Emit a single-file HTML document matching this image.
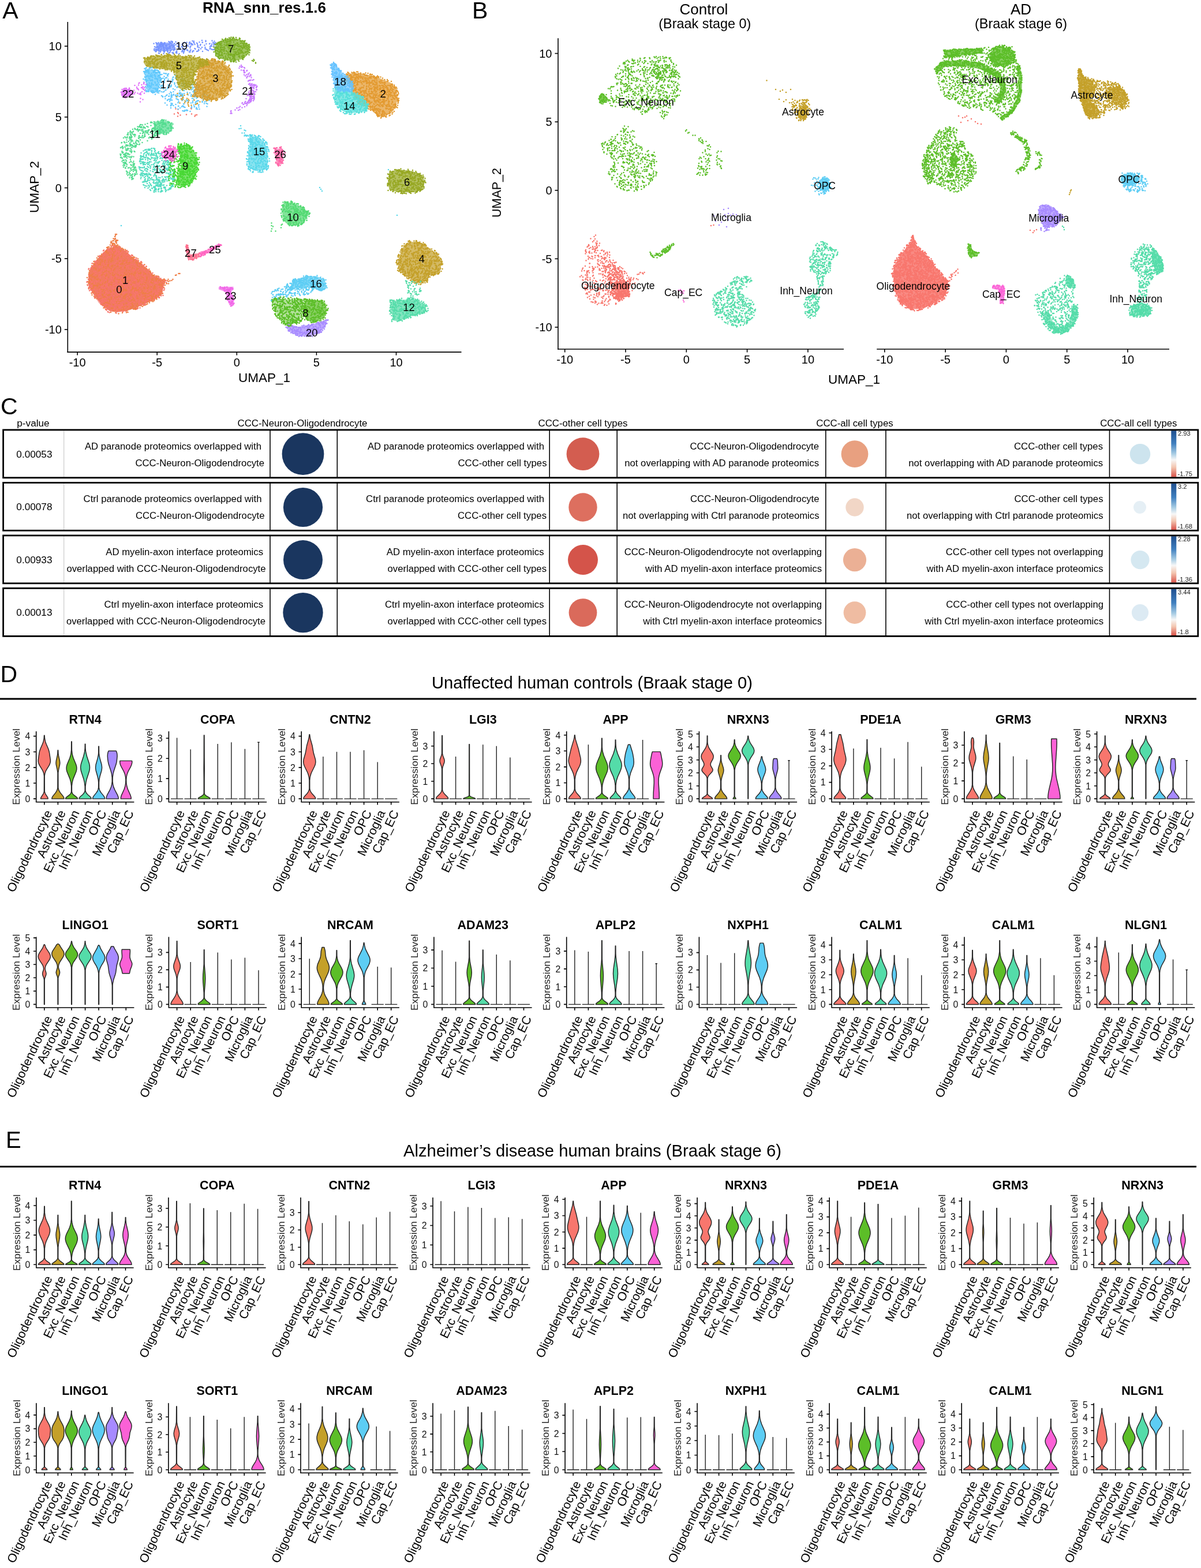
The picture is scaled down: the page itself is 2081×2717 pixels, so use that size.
<!DOCTYPE html><html><head><meta charset="utf-8"><title>Figure</title><style>html,body{margin:0;padding:0;background:#fff}svg{display:block}</style></head><body><svg width="2081" height="2717" viewBox="0 0 2081 2717" font-family="'Liberation Sans', Arial, sans-serif"><defs><linearGradient id="cbg0" x1="0" y1="0" x2="0" y2="1"><stop offset="0" stop-color="#1f4f8f"/><stop offset="0.28" stop-color="#3f7fbf"/><stop offset="0.50" stop-color="#a8cde4"/><stop offset="0.63" stop-color="#f7f7f7"/><stop offset="0.79" stop-color="#f3c6b0"/><stop offset="1" stop-color="#d9534a"/></linearGradient><linearGradient id="cbg1" x1="0" y1="0" x2="0" y2="1"><stop offset="0" stop-color="#1f4f8f"/><stop offset="0.30" stop-color="#3f7fbf"/><stop offset="0.52" stop-color="#a8cde4"/><stop offset="0.66" stop-color="#f7f7f7"/><stop offset="0.81" stop-color="#f3c6b0"/><stop offset="1" stop-color="#d9534a"/></linearGradient><linearGradient id="cbg2" x1="0" y1="0" x2="0" y2="1"><stop offset="0" stop-color="#1f4f8f"/><stop offset="0.28" stop-color="#3f7fbf"/><stop offset="0.50" stop-color="#a8cde4"/><stop offset="0.63" stop-color="#f7f7f7"/><stop offset="0.79" stop-color="#f3c6b0"/><stop offset="1" stop-color="#d9534a"/></linearGradient><linearGradient id="cbg3" x1="0" y1="0" x2="0" y2="1"><stop offset="0" stop-color="#1f4f8f"/><stop offset="0.30" stop-color="#3f7fbf"/><stop offset="0.53" stop-color="#a8cde4"/><stop offset="0.66" stop-color="#f7f7f7"/><stop offset="0.81" stop-color="#f3c6b0"/><stop offset="1" stop-color="#d9534a"/></linearGradient></defs><style>.vt{font-size:21.5px;font-weight:bold;text-anchor:middle}.vy{font-size:15.8px;text-anchor:end;fill:#111}.ve{font-size:17.4px;text-anchor:middle;fill:#222}.vx{font-size:21.2px;text-anchor:end}.vp{stroke:#262626;stroke-width:1.45;stroke-linejoin:round}.vl{stroke:#222;stroke-width:1.4;fill:none}.ax{stroke:#000;stroke-width:1.6;fill:none}</style><rect width="2081" height="2717" fill="#fff"/><path transform="scale(.5)" d="M616 390h0m46-15h0m13 28h0m-71-8h0m14-2h0m-9-16h0m7 26h0m61-4h0m-31-2h0m17-20h0m19 21h0m-65-19h0m47 16h0m-39 4h0" stroke="#F8766D" stroke-width="5.2" stroke-linecap="round" fill="none"/><path transform="scale(.5)" d="M661 152h0m24 11h0m-76-8h0m52 5h0m-21 10h0m102-21h0m-20 26h0m-103-14h0m-4-1h0m125-7h0m-120 10h0m91 6h0m-158-9h0m80 5h0m15 7h0m81-4h0m-163-9h0m107-10h0m-17 4h0m91-5h0m-173 11h0m76-2h0m-46 1h0m64-3h0m-21-8h0m-42 4h0m10 10h0m117-3h0m-97 21h0m-45-13h0m-1 15h0m157-28h0m-144 5h0m125 11h0m-62-17h0m87 2h0m-183-5h0m174 4h0m-84 27h0m32-34h0m3 11h0m-62 19h0m-49-8h0m-46 8h0m147-24h0m-46 27h0m-47-19h0m124-8h0m18 19h0m-164-5h0m14 21h0m-25-40h0m-22 15h0m205-3h0m-128 25h0m59-41h0m-38 7h0m79-9h0m-95 12h0m34 7h0m-56-6h0m-14 16h0m19 1h0m4-1h0m56 3h0m-54-2h0m111 2h0m-183-4h0m-2-18h0m12 10h0m181-9h0m-31 2h0m52-6h0m-166 32h0m5 3h0m62-9h0m37-13h0m26 3h0m-123 4h0m51 2h0m-43-17h0m139-12h0m-73 9h0m72 3h0m-128 13h0m26 7h0m-64-9h0m83 11h0m31-26h0m-7 5h0m63-7h0m-56 31h0m-35-31h0m66-3h0m-150 12h0m67 23h0m98-16h0m-124 9h0m87-26h0m-20 30h0m-119 9h0m3-24h0m101-13h0m90 16h0m-60-5h0m-85 1h0m-45 20h0m76-7h0m8 1h0m-3-1h0m34-26h0m-78-4h0m136 17h0m-132 22h0m-41-10h0m54 8h0m132-9h0m-174 8h0m42 4h0m-68-6h0m43-33h0m169 8h0m-7 3h0m-46-8h0m36 25h0m-81 8h0m-92-25h0m57 31h0m-19-11h0m42-14h0m-104 10h0m51 5h0m74-23h0m35-13h0m15 31h0m28-28h0m-68 25h0m21 1h0m-32-14h0m-114 29h0m-4-32h0m156-5h0m-125 8h0m132 2h0m-73 27h0m-102-11h0m124-27h0m-27 14h0m-41 15h0m11 8h0m8-38h0m81 20h0m-121-13h0m62 2h0m37 23h0m-110-23h0m-8 13h0m25-11h0m-7 14h0m-19-22h0m30 26h0m3 3h0m57-30h0m38 23h0m-63-20h0m-44 28h0m-17-24h0m38 20h0m-21-2h0m70-3h0m87-18h0m-149 7h0m-38 21h0m7-15h0m83-2h0m-17 14h0m72-19h0m-134 21h0m38-16h0m97 15h0m-27-2h0m75-15h0m-177-3h0m102 9h0m0-5h0m92-8h0m-49 25h0m-14-6h0m-126-17h0m105 25h0m-67 6h0m12-6h0m-45 6h0m133-22h0m-103-20h0m28 23h0m-54-15h0m96-10h0m74 30h0m-151 5h0m99-3h0m-129-11h0" stroke="#7694FF" stroke-width="5.2" stroke-linecap="round" fill="none"/><path d="M269.8 74.8L298.4 73.2L303 85.6L289.3 89.1L271.9 88.3Z" fill="#7694FF" fill-opacity="0.72"/><path transform="scale(.5)" d="M565 157h0m10 10h0m1-6h0m-25 14h0m23-9h0m-12-9h0m26-10h0m-40 26h0m31 0h0m-18-25h0m-7 18h0m-13 8h0m13-14h0m3 16h0m4-26h0m19 15h0m-30 9h0m13-14h0m5-6h0m-26 17h0m29-23h0m3 10h0m29 4h0m-35 12h0m19-14h0m-1 5h0m-37 5h0m29 0h0m-9 11h0m-21-19h0m-5-11h0m59 2h0m-39-1h0m-21 12h0m43 2h0m-19 9h0m32-28h0m-10 6h0m-21 10h0m22-17h0m2 3h0m-42 17h0m40-7h0m-2 7h0m8 7h0m0-15h0m-24 18h0m7-9h0m5-13h0m-42-6h0m-1 22h0m16-21h0m41-2h0m-45 12h0m8 11h0m37-12h0m-51 15h0m11-12h0m-2-6h0m-15 9h0m51 3h0m-31-17h0m6 16h0m-5-16h0m38 14h0m-53-12h0m43 0h0m-27 4h0m12 10h0m-14 3h0m17 2h0" stroke="#7694FF" stroke-width="5.2" stroke-linecap="round" fill="none"/><path d="M432.5 86L431.4 91.3L428.2 96.1L423.3 100.2L416.9 103.2L409.6 104.9L402 105.5L394.4 104.9L387.1 103.2L380.7 100.2L375.8 96.1L372.6 91.3L371.5 86L372.6 80.7L375.8 75.9L380.7 71.8L387.1 68.8L394.4 67.1L402 66.5L409.6 67.1L416.9 68.8L423.3 71.8L428.2 75.9L431.4 80.7Z" fill="#7CAE25" fill-opacity="0.72"/><path transform="scale(.5)" d="M832 134h0m-52 74h0m44-55h0m4 21h0m-87 6h0m22-4h0m-17-3h0m5-21h0m86 31h0m-38-16h0m42 36h0m-78-58h0m77 59h0m26-29h0m-87-27h0m20 5h0m11 38h0m19-5h0m-16-32h0m-35 31h0m-19-14h0m41 43h0m-38-63h0m15 11h0m17 27h0m32-5h0m-20 10h0m-16-13h0m-37 5h0m82-8h0m-22-19h0m1 35h0m-20-63h0m1 20h0m38-9h0m-63 31h0m21 10h0m-35-36h0m57 64h0m-17-50h0m-28 31h0m22-54h0m18-9h0m-58 24h0m70 16h0m26-20h0m-64 8h0m-25 2h0m82 39h0m-31-43h0m-52 24h0m4-33h0m68 10h0m-71 14h0m15-5h0m13-17h0m-16 9h0m52-8h0m-10 8h0m-18 31h0m40-38h0m-33 60h0m-1-67h0m48 23h0m-100 10h0m111 2h0m1-22h0m-52 41h0m-47 5h0m7-31h0m-11 29h0m75-1h0m-45-55h0m-3-4h0m-1-4h0m45 60h0m27-34h0m-46-22h0m-54 36h0m7-22h0m78 10h0m-25 26h0m13-20h0m-16 43h0m34-51h0m-80 9h0m-7 23h0m21-26h0m10-25h0m74 47h0m-27-31h0m20 6h0m-67-10h0m69 16h0m-96-23h0m26 59h0m-25-6h0m27-65h0m27 49h0m-71-6h0m49-36h0m46 23h0m-61-30h0m-3 28h0m-27 10h0m51 33h0m61-46h0m-45 23h0m-42-44h0m85 22h0m-61-2h0m-6-8h0m33 56h0m-42-21h0m-2-51h0m10 62h0m-51-35h0m57-30h0m2 8h0m22-2h0m23 61h0m-63-6h0m-5-39h0m5-22h0m26 80h0m37-70h0m-27 26h0m31-11h0m-37 6h0m-24-29h0m13 3h0m5 66h0m15-36h0m-73 19h0m95-30h0m-32 13h0m-36 28h0m84-13h0m-68-22h0m49 6h0m-30-38h0m-47 32h0m11-24h0m7-2h0m57 58h0m-41-27h0m-13 8h0m31-21h0m-47 8h0m28 5h0m17 33h0m6-65h0m-25 8h0m42-1h0m16 26h0m13 1h0m-53 18h0m12-39h0m-68 15h0m67 11h0m-15 23h0m23-25h0m-57-31h0m10 16h0m-10-14h0m27 24h0m27-6h0m-36 28h0m45-16h0m22-3h0m-48 43h0m54-50h0m-90 13h0m43-47h0m20 13h0m-89 10h0m93-3h0m4 16h0m-34 40h0m18-74h0m-44 46h0m58-18h0m-38-28h0m22 63h0m2-1h0m11 4h0m5-3h0m-47-5h0m-2 13h0m63-26h0m-83 9h0m-20-36h0m35 7h0m57-16h0m17 22h0m-57 38h0m-21-43h0m54 48h0m-48-61h0m-16 40h0m60-36h0m-89 35h0m92 13h0m-89-2h0m89-54h0m-87 13h0m23 19h0m-32-6h0m53 19h0m-2-48h0m-35 42h0m8-6h0m88-17h0m-47-11h0m22 23h0m4-6h0m-9 26h0m18 4h0m9-4h0m-97 6h0m41-3h0m-46-42h0m64 29h0m46-17h0m-56-27h0m-46 48h0m48 5h0m28-13h0m2-10h0m-39 11h0m55-26h0m-45 60h0m19 2h0m-25-21h0m-54-25h0m17 35h0m12 9h0m36-38h0m-66 12h0m84-24h0m-42 27h0m74-30h0m-61 32h0m37-10h0m-34-15h0m-27 46h0m-11-61h0m74 52h0m-8-58h0m-43 22h0m-28 28h0m36 19h0m-29-19h0m94-11h0m-53-2h0m-34-3h0m88 6h0m-50-30h0m-28-6h0m-14 54h0m22-39h0m5-15h0m-26 24h0m83 1h0m-43-32h0m4 75h0m28-71h0m-19 26h0m-57-34h0m-11 65h0m0-13h0m65-28h0m-9 25h0m-47-42h0m63 43h0m-30-57h0m62 25h0m-7-3h0m-38-15h0m8 53h0m-57-7h0m82 0h0m-32 5h0m-2-34h0m-5-18h0m-31 7h0m13 3h0m17 53h0m42-42h0m-4 6h0m-59 31h0m12 20h0m20-33h0m22-15h0m-80-21h0m58 14h0m-66 39h0m93-45h0m-15 25h0m27-9h0m-101 36h0m53 0h0m33-38h0m-81 0h0m-9 21h0m75-15h0m-86-18h0m49 16h0m-32 8h0m79 5h0m-77-4h0m76 21h0m-34-30h0m-53-2h0m34-15h0m6 2h0m43 21h0m-33-38h0m45 5h0m-39 30h0m-39 11h0m39 30h0m13-25h0m-7 18h0m14-71h0m-43 18h0m-18 34h0m58-4h0m-26 2h0m44-32h0m-36 40h0m20-14h0m-77-17h0m91 28h0m-55 11h0m68-23h0m-84 12h0m9 13h0m54-42h0m-1 21h0m17-3h0m-84-7h0m50 36h0m-68-19h0m20-10h0m53 10h0m35-33h0m-39-1h0m1 26h0m-36 17h0m29-3h0m34-12h0m-81-27h0m-16 36h0m39 11h0m-25-13h0m33-14h0m-30-24h0m32 47h0m-7-17h0" stroke="#7CAE25" stroke-width="5.2" stroke-linecap="round" fill="none"/><path transform="scale(.5)" d="M881 209h0m5 8h0m-7-11h0m-1 6h0m-4-2h0m12 9h0" stroke="#7CAE25" stroke-width="5.2" stroke-linecap="round" fill="none"/><path transform="scale(.5)" d="M688 365h0m-78-36h0m26 31h0m-61-48h0m19 10h0m107 29h0m-137-15h0m104 15h0m-31 20h0m-29 1h0m-15-72h0m76-6h0m-110 24h0m116 7h0m-50 8h0m3-36h0m-79-10h0m109 35h0m-104-72h0m67 73h0m42-12h0m-84 53h0m18-5h0m-25-24h0m145 34h0m-126-50h0m110 35h0m-121-92h0m88 94h0m-99-70h0m23 81h0m46-53h0m-29 48h0m2-20h0m33 10h0m-58-19h0m98 16h0m30 2h0m-108-40h0m80-5h0m3 57h0m-21-55h0m-22 75h0m-49-99h0m26 31h0m-58-20h0m97 38h0m-22 52h0m-84-109h0m9 24h0m40-13h0m-24-29h0m24 34h0m110 66h0m6-20h0m-93 4h0m85-31h0m-49 63h0m10-4h0m4-13h0m-32-11h0m59-29h0m-21 61h0m-53-30h0m-24-87h0m45 68h0m67 16h0m-134-1h0m-10-74h0m46 64h0m50 9h0m-25-55h0m-50 48h0m-20-81h0m39 77h0m-14-65h0m74 69h0m29-11h0m-108 22h0m4-71h0m1 90h0m32-38h0m-4 3h0m80 22h0m-36 17h0m-123-48h0m44 6h0m47 54h0m-22-14h0m19-44h0m39-7h0m-35-19h0m-96 19h0m4-67h0m99 70h0m21 10h0m-102-76h0m103 60h0m-9 43h0m28-42h0m-67 11h0m66 45h0m-5-76h0m-68 34h0m67 9h0m-53-49h0m50 88h0m-82-97h0m70 70h0m-98-72h0m9 51h0m-18-71h0m102 70h0m-114-12h0m85-3h0m48 46h0m-88-64h0m-14 53h0m2-68h0m71 7h0m-23 46h0m4 0h0m-43 14h0m11-20h0m93-14h0m-21 6h0m-27 62h0m28-47h0m-49-12h0m-57-5h0m-19-57h0m55 28h0m13 58h0m-64-32h0m11-43h0m19-15h0m84 46h0m-108 30h0m99 54h0m23-87h0m-100-42h0m48 113h0m-56-100h0m-5-5h0m80 83h0m-66-73h0m97 54h0m24 15h0m-67-54h0m-6 35h0m56-14h0m-10 46h0m-39-84h0m-48 28h0m28 67h0m19 17h0m-29-114h0m21 3h0m-37 92h0m9-48h0m-14 26h0m-2-10h0m49-35h0m-12 23h0m-64-43h0m83 9h0m-9 42h0m9 42h0m-76-53h0m99 51h0m54-39h0m-110-33h0m-30-29h0m7 26h0m32 83h0m108-30h0m-42 3h0m-110-96h0m65 38h0m-3 52h0m34-27h0m-69-10h0m-8 66h0m-28-40h0m73-40h0m24 8h0m58 58h0m-101-69h0m48 50h0m7-20h0m-71 8h0m17 23h0m-31-1h0m-18-77h0m22 24h0m5-23h0m36 109h0m-18-40h0m65-55h0m-88 75h0m85-32h0m-40-56h0m-44 61h0m-33-65h0m76 96h0m-21-67h0m-28 24h0m-37-79h0m135 57h0m33 39h0m-138-35h0m101 33h0m4-3h0m-89 26h0m112-4h0m-126-96h0m-9 79h0m8 4h0m43 28h0m-41-79h0m25 36h0m42 52h0m-63-87h0m114 41h0m0-40h0m-22 55h0m46-19h0m-97-55h0m95 55h0m-142-31h0m11 40h0m51-62h0m-30 23h0m92 31h0m-2-4h0m-54-29h0m-83 7h0m34-32h0m10 59h0m55-41h0m-30 50h0m-24-75h0m49 26h0m-88 62h0m44-94h0m91 61h0m-110 6h0m38-47h0m38 20h0m-42-25h0m-73 22h0m133 78h0m18-50h0m-2-23h0m-75 62h0m-15-11h0m12-46h0m-60-29h0m103 83h0m9 9h0m-29-72h0m-79 11h0m41-25h0m-15-18h0m12 66h0m16-7h0m86-11h0m-156-11h0m54-34h0m41 79h0m-2-55h0m-13 65h0m22-66h0m-66 63h0m0-26h0m95 17h0m-112-18h0" stroke="#60C8FC" stroke-width="5.2" stroke-linecap="round" fill="none"/><path d="M346.6 106.5L365.3 104L383.8 107.7L397.7 116.9L402.1 130.9L401.1 149.3L395.6 161.2L383.6 169.3L368.1 173L353.3 172.3L342.2 165.9L337.8 153.8L341 140.1L344.4 121.9Z" fill="#D59D2D" fill-opacity="0.72"/><path transform="scale(.5)" d="M718 262h0m-2-56h0m39 83h0m-56 52h0m17-83h0m39-46h0m-59 56h0m40-7h0m52 31h0m-83-48h0m46 69h0m-47-46h0m1-53h0m-6 83h0m57-65h0m-46 64h0m81-13h0m-14-43h0m-10 21h0m37 19h0m-74 16h0m-16-7h0m-9 46h0m-10-45h0m31-3h0m-35-52h0m95 89h0m-100-31h0m66-56h0m31 38h0m-4-55h0m-44 39h0m-30 88h0m47-118h0m50 33h0m-39 0h0m14 71h0m-83-46h0m102 3h0m-7 34h0m-52-5h0m-6-98h0m8 63h0m11 58h0m-57-95h0m26 94h0m-44-41h0m79 19h0m-64-21h0m86-63h0m-97 93h0m109-51h0m-92-20h0m63-21h0m-65 102h0m76-10h0m-1-104h0m-50 124h0m-15-117h0m98 64h0m-108-16h0m56 49h0m-35-64h0m23 67h0m3-65h0m13 47h0m-12-17h0m-68-7h0m100 1h0m-35-64h0m-45 104h0m93-29h0m-30-84h0m-26 18h0m46 35h0m-16 47h0m-38-108h0m59 104h0m-46-50h0m-44-46h0m-3 0h0m18 48h0m45-22h0m-47 74h0m10 28h0m-33-58h0m90 43h0m-63-48h0m23-74h0m25 49h0m-16-32h0m38 83h0m14-1h0m-80-90h0m95 46h0m-5 47h0m-41-79h0m20 52h0m-86-61h0m1 89h0m84-61h0m-106 51h0m103-5h0m-28 33h0m-23-111h0m-19 56h0m28-64h0m-25 111h0m10-49h0m1 62h0m70-33h0m-59-75h0m58 25h0m-22 72h0m21-70h0m-19 41h0m-14-22h0m37 31h0m-31 18h0m23-21h0m-22 31h0m-30-100h0m-24 93h0m5-93h0m72 63h0m-81 36h0m5-25h0m54 22h0m-48-75h0m50-31h0m-35 126h0m-55-18h0m125-30h0m-74-81h0m18-12h0m-8 134h0m-3 6h0m-18-21h0m34 15h0m35-91h0m-92 11h0m2-30h0m18 14h0m13 100h0m-32-134h0m45 28h0m1 106h0m-48-121h0m71 88h0m-30 7h0m19-8h0m-20-80h0m17 95h0m-21-79h0m-17 87h0m32-122h0m-53 6h0m28 14h0m27 12h0m-9-39h0m13 82h0m21-6h0m-81 30h0m111-45h0m-44-9h0m-28 3h0m5-16h0m-9-16h0m52 46h0m-39 62h0m40-104h0m-94 105h0m20-41h0m-1-76h0m3 77h0m26-50h0m31 61h0m-3 19h0m36-89h0m-54 33h0m32-56h0m20 53h0m-27 76h0m-40-117h0m57 49h0m1-38h0m-33 79h0m-50-19h0m0-63h0m67 74h0m-78-14h0m78-80h0m-62 66h0m84 47h0m-103-74h0m101 41h0m-34-42h0m-48 67h0m-4-8h0m49-83h0m-46 91h0m48 26h0m2-48h0m-49-41h0m66-39h0m-84 93h0m86 4h0m4-18h0m15-70h0m-73 56h0m-45 41h0m77-104h0m-74 105h0m64-46h0m-30 24h0m53 22h0m-36-8h0m-14 33h0m46-23h0m-59-100h0m-11 108h0m106-68h0m-26 62h0m-72-19h0m78-42h0m-88 37h0m48-20h0m-42 24h0m14-95h0m23 36h0m4 33h0m54 13h0m-53-45h0m65 0h0m-60-36h0m-8 122h0m-24 3h0m13-99h0m22-21h0m-50 87h0m-8-8h0m71-39h0m-13 62h0m-5 3h0m15-113h0m-77 91h0m30-52h0m0 84h0m61-106h0m22 22h0m-42-30h0m30 110h0m1 4h0m-55-37h0m57 10h0m0-51h0m-55 75h0m-45-82h0m22 0h0m39 60h0m-45 20h0m74 12h0m-66-38h0m24-84h0m-5 12h0m2 19h0m36 66h0m10-54h0m-4 52h0m16-10h0m-60 15h0m-23-4h0m-1-17h0m-21-1h0m110-52h0m8 57h0m-14-38h0m-84-10h0m-25 58h0m97-8h0m-26-93h0m5 131h0m-26-127h0m28 95h0m20-68h0m-36 49h0m-7-1h0m0-27h0m-56 48h0m47 26h0m2-53h0m-19-62h0m62 64h0m-42-26h0m17 6h0m-29-25h0m0-16h0m74 105h0m-28-117h0m-79 113h0m9-23h0m-1-34h0m110-28h0m-70 15h0m-26-34h0m1 40h0m36 8h0m3-65h0m-27 18h0m-33 88h0m50 29h0m-19-109h0m3 41h0m1 74h0m-2-133h0m58 56h0m16-17h0m-25 62h0m-83-37h0m18-21h0m2-49h0m34 109h0m-11-90h0m-37 48h0m6 26h0m6-11h0m16 11h0m21 44h0m-56-24h0m86-67h0m-30 15h0m50 25h0m-82-26h0m43 74h0m27-37h0m-42 1h0m37 24h0m-49-69h0m28-3h0m-33 61h0m2-6h0m44 6h0m-51-26h0m4-3h0m-13-21h0m65-7h0m-74-33h0m6-10h0m69 98h0m-44-14h0m10-75h0m-31 20h0m96 52h0m-28-47h0m-65 18h0m15 1h0m-12-5h0m73-33h0m-24 21h0m-42 63h0m30-1h0m33 22h0m-74-30h0m21 29h0m2 2h0m21 3h0m-32-16h0m-17-25h0m-10-37h0m29-14h0m-16 20h0m60 34h0m-78 13h0m102-71h0m6-15h0m11 32h0m-117-4h0m-3 73h0m15-77h0m57-12h0m-35 45h0m3-68h0m33 55h0m-22 16h0m-11-76h0m-3 86h0m-14-94h0m63 115h0m-77-113h0m55 104h0m32 4h0m-38-81h0m-9-2h0m27 44h0m-77-11h0m1 44h0m28 22h0m16-70h0m-13-38h0m4-3h0m49 12h0m15 4h0m-65 98h0m9 7h0m31-111h0m-26 3h0m22 89h0m27-84h0m-30 7h0m-47 21h0m94-16h0m-8-10h0m-52-33h0m37 85h0m-94 2h0m74-27h0m-1 4h0m48-17h0m-30 81h0m-32-115h0m-50 21h0m73 7h0m-42 10h0m8 52h0m70 1h0m-79-81h0m45 92h0m-56-117h0m39 138h0m-51-22h0m84 12h0m-91-77h0m97-13h0m-20 69h0m-3-40h0m5-25h0m-91 78h0m8-38h0m0 44h0m21-102h0m9 25h0m33 58h0m-13-35h0m38 26h0m-45 22h0m43-110h0m-42 50h0m-17 50h0m80-74h0m0 12h0m-76 82h0m83-42h0m-120 0h0m92-84h0m26 100h0m-84 2h0m43-66h0m-43 59h0m47 29h0m-26-115h0m-28 51h0m-26 63h0m56-84h0m-16 61h0m58 25h0m-9-17h0m8-55h0m17-37h0m-35 34h0m20-10h0m19 64h0m-104-33h0m31-37h0m10 37h0m31-29h0m-65-4h0m47 62h0m-24-86h0m80 26h0m-102 22h0m19 73h0m-9-41h0m13-2h0m16-11h0m46 13h0m-17-7h0m-50-54h0m20 24h0m-63 12h0m12 4h0m56 19h0m40-34h0m-59-25h0m-46 63h0m39-95h0m-2 62h0m80-15h0m-53-14h0m58 2h0m-128 48h0m71-56h0m20-1h0m-39 27h0m33 10h0m-71-18h0m78 21h0m-18-7h0m-58 25h0m67-40h0m6-1h0m-17 14h0m22 56h0m35-40h0m-112 31h0m-9-42h0m69 34h0m34-37h0m4 7h0m-57 31h0m-9 28h0m44-87h0m-4 41h0m-12 57h0m-2-112h0m-25 73h0m-19 17h0m82-30h0m-29-11h0m-50 57h0m-18-129h0m77 40h0m-67-46h0m-14 64h0m69 6h0m25-60h0m-67-2h0m-10 110h0m6-100h0m61 81h0m-30 15h0m-16-88h0m16 62h0m22-82h0m-24 5h0m-15 104h0m51 8h0m-75-80h0m34 31h0m-1 70h0m53-44h0m-82-71h0m3-4h0m64 43h0m18-15h0m-4 72h0m-106-40h0m55-8h0m-12-42h0m57 47h0m-47-10h0m-31-10h0m102 17h0m-9-12h0m-32-47h0m-13-15h0m-28 56h0m-8 77h0m29-4h0m-29-78h0m36 85h0m-11-112h0m-5 24h0m45 18h0m-5-38h0m14 55h0m-90-66h0m39 58h0m22-31h0m14-15h0m-35-16h0m-3 60h0m-2 30h0m5-64h0m-30-15h0m15 71h0m18-6h0m39 8h0m-4-79h0m-31 36h0m33-4h0m-69 53h0m72-27h0m-99-12h0m-1 31h0m5 3h0m39-87h0m-39 42h0m11 57h0m73-62h0m-34 84h0m17-112h0m51 52h0m-86-66h0m-31 106h0m98-80h0m-87-37h0m82 76h0m-88-48h0m72-21h0m-56 55h0m75-34h0m-96 98h0m1 3h0m60-127h0m-50 28h0m-1-18h0m-9 38h0m35-1h0m48-33h0m-25 10h0m4 25h0m-6-50h0m8 133h0m-60-19h0m43-114h0m-49 33h0m18 63h0m-28 11h0m17-104h0m35 90h0m67-26h0m-21-53h0m-66-1h0m52 108h0m-63-17h0m75-96h0m-43 65h0m7-77h0m-10 126h0m66-42h0m-32-17h0m-73-23h0m-2 47h0m28 22h0m19 25h0m25-23h0m20 5h0m-6 17h0m-7-74h0m-61-18h0m7-17h0m82 73h0m-11-65h0m-72 30h0m33 38h0m-22 12h0m-16-92h0m1 93h0m85-71h0m-35 21h0m-57 65h0m8-28h0m-8-96h0m36 65h0m19 4h0m-62-38h0m7-22h0m-11 115h0m-3-26h0m24-67h0m1-18h0m-21 78h0m0-30h0m-11 47h0" stroke="#D59D2D" stroke-width="5.2" stroke-linecap="round" fill="none"/><path transform="scale(.5)" d="M678 362h0m-45-21h0m-2 5h0m-18-11h0m71 23h0m-31-14h0m-12 6h0m8-23h0m1-2h0m13 40h0m30-12h0m-26-19h0m-40-3h0m47 1h0m-23 25h0m3 11h0m-21-30h0m38-3h0m-48 22h0m-8-33h0m20 13h0m17 26h0m1-9h0m22-22h0m-27 9h0m7 7h0m28 12h0m-10-13h0m-5-17h0m-45 27h0m16-27h0m-11 13h0m12 13h0m32-30h0" stroke="#D59D2D" stroke-width="5.2" stroke-linecap="round" fill="none"/><path d="M249.8 101L264.6 97.4L291.5 95.6L318.5 97.6L342.4 99.5L359.1 103.9L359 112.4L342 118.1L337.1 129.1L335.6 143.1L328.3 152.5L317.1 155.1L307.8 147L305.2 132L302.2 123L283 120L265 118.1L253 115.3L248.9 108.6Z" fill="#B0A525" fill-opacity="0.72"/><path transform="scale(.5)" d="M588 189h0m73 48h0m-73-13h0m67-5h0m5-26h0m0 48h0m-57-9h0m9 6h0m-110-33h0m142 98h0m-19-42h0m1-57h0m0 25h0m-93-8h0m-13 5h0m86-10h0m57 0h0m16 33h0m-109-26h0m115 16h0m26-29h0m-27 9h0m-14 33h0m46-48h0m-197 11h0m-3-15h0m163 34h0m-45-7h0m-9 56h0m10-1h0m-33-35h0m40-3h0m-61-41h0m117 28h0m-46 4h0m10 28h0m31-57h0m-109 5h0m1-16h0m29 55h0m3-10h0m71-4h0m-18-38h0m-135 19h0m185 4h0m-122 14h0m22-7h0m-3 49h0m18-57h0m-62 9h0m-28-33h0m-6 13h0m134 27h0m-49-7h0m-45-10h0m37 13h0m62-28h0m-34 92h0m-24-75h0m36-22h0m-35 94h0m-28-86h0m23 4h0m9 18h0m30 81h0m-51-72h0m51-14h0m-10 63h0m4-25h0m30-58h0m-22 47h0m30-14h0m-111-21h0m86 46h0m-27-39h0m52-23h0m-160 10h0m33 9h0m79 81h0m5-67h0m-13 77h0m-54-87h0m94 5h0m-26 82h0m4-103h0m-60 2h0m-62 4h0m87 29h0m-12 3h0m69-43h0m-59 38h0m-57-9h0m-8-36h0m35 6h0m95 75h0m13-53h0m-17 0h0m-173-9h0m17 0h0m163 29h0m-109-19h0m-3 6h0m64 47h0m-94-78h0m75 65h0m63-5h0m-67-34h0m31 82h0m-62-83h0m38 64h0m78-66h0m-75-1h0m19 85h0m-61-73h0m78-40h0m19 93h0m-57-68h0m-99-15h0m18 1h0m132 63h0m17-67h0m-21 71h0m17-44h0m-8 64h0m38-76h0m-15 2h0m-109-27h0m20 2h0m57 31h0m-16 73h0m-17 1h0m-9-68h0m28 40h0m-20-11h0m2-45h0m12 10h0m50 2h0m-166-20h0m111 60h0m-41-51h0m56 69h0m-133-86h0m48-1h0m151 10h0m-155 9h0m95 78h0m11-77h0m-34 42h0m-37-18h0m61 65h0m9-12h0m-111-104h0m-6 26h0m-16 13h0m-25-30h0m134 42h0m0-39h0m24 63h0m-89-76h0m106 40h0m-20 15h0m21-32h0m-73 15h0m51 1h0m5 57h0m42-68h0m-58 84h0m-95-73h0m11-8h0m84 81h0m-1-50h0m-50-55h0m-18 34h0m-48-28h0m-9 14h0m126 59h0m-55-45h0m-60-38h0m43 12h0m-12-11h0m-14 12h0m141 11h0m3 4h0m-19 9h0m-33 32h0m-77-50h0m116 21h0m-47 47h0m-89-73h0m80 105h0m8-64h0m-86-7h0m66-18h0m-26 26h0m20-36h0m57 75h0m1-43h0m-152-11h0m139 18h0m-55-15h0m-27-40h0m-9 15h0m51 38h0m-1 46h0m-10-71h0m-33-8h0m7-27h0m34 38h0m10 1h0m-16-31h0m93 29h0m-69-6h0m-77 3h0m79 18h0m-127-22h0m207-11h0m-70 40h0m-88-22h0m84-18h0m14 48h0m-2 34h0m-109-80h0m34 33h0m5-23h0m46 24h0m21-24h0m-40 8h0m53 6h0m-34 33h0m-71-34h0m73-30h0m-39-4h0m26 72h0m33 30h0m-45-68h0m-60 3h0m121 6h0m-55-17h0m21 13h0m-31 15h0m54 7h0m-112-37h0m69-1h0m48-12h0m-33 43h0m-16-2h0m-69-58h0m110 33h0m52 3h0m-72-14h0m-3 68h0m40-27h0m-32 18h0m-62-81h0m-60 26h0m143-8h0m-137-10h0m133 81h0m-3-89h0m-6 91h0m-36-20h0m-68-71h0m88 39h0m26-34h0m-7 13h0m11 62h0m28-41h0m-45 39h0m-33 3h0m36-21h0m-104-31h0m-20-7h0m-7-10h0m-7-1h0m181 17h0m-156-25h0m41 34h0m89 62h0m5-48h0m-111-20h0m58 65h0m-12-47h0m-37-26h0m124-17h0m-67 90h0m-5 1h0m-47-53h0m-3-1h0m104-30h0m29-1h0m-50 84h0m-21-20h0m-84-51h0m88-14h0m-14 89h0m33-85h0m-28 0h0m-25-1h0m-4-7h0m-26 26h0m119 12h0m-127-15h0m73 57h0m2-40h0m-3 12h0m-97-20h0m51 7h0m82-34h0m-125 20h0m80 14h0m87-24h0m-117-16h0m-42 39h0m82 51h0m9-52h0m-51-8h0m-16-33h0m-36 28h0m146-8h0m-68 71h0m-79-78h0m-6 7h0m111 78h0m8-52h0m63-36h0m-152 8h0m65 7h0m-13-24h0m22 56h0m-120-31h0m86 37h0m41-50h0m-86-18h0m85 20h0m-26 91h0m-23-84h0m65 53h0m-15-9h0m12 41h0m-33-88h0m-89 8h0m102 1h0m81 0h0m-43 61h0m-24-62h0m3 72h0m-98-63h0m-34-37h0m59 3h0m-80 3h0m104 2h0m-66 9h0m39 16h0m83-21h0m-140-8h0m30 7h0m110 102h0m59-82h0m-210-20h0m38-12h0m91 7h0m15 65h0m-35-50h0m8 65h0m21-36h0m-121-24h0m16-15h0m102-7h0m-44 37h0m11 2h0m-100-14h0m139 85h0m16-47h0m-13 5h0m-19 28h0m33-19h0m-58-43h0m8-18h0m-93-20h0m122 2h0m-137 4h0m132-5h0m24 26h0m-107 6h0m89 17h0m-28 44h0m70-73h0m-74-21h0m-28 26h0m45-23h0m-22 12h0m-75 4h0m116 30h0m-80-1h0m90 9h0m11-3h0m-25-13h0m-86 2h0m54-33h0m78 11h0m-91-18h0m-5 22h0m94 3h0m-91 22h0m-80-24h0m43-20h0m-53 8h0m80-16h0m-29 26h0m79 63h0m-44-40h0m94-43h0m-60 73h0m31-31h0m-98-9h0m-32-27h0m28 20h0m54 62h0m-44-87h0m146 19h0m-172 15h0m35 5h0m72-9h0m-119 4h0m128 4h0m-51-42h0m4 40h0m56 15h0m-2 29h0m-154-51h0m101 39h0m32 0h0m72-53h0m-81 4h0m47 2h0m-64 25h0m-123-44h0m118 43h0m63 15h0m-138-29h0m31-1h0m60-27h0m-43 36h0m-58-4h0m172-4h0m-37 49h0m-116-85h0m107 66h0m12-1h0m-47-45h0m-39-23h0m23 57h0m86-37h0m-87 8h0m6 9h0m93-8h0m-79 85h0m-1-112h0m-111 5h0m48 23h0m29-30h0m2 19h0m77 22h0m-22 22h0m-43-7h0m-46-30h0m3 11h0m96 64h0m60-80h0m-68 54h0m-30-76h0m0 12h0m-86 16h0m99 39h0m-118-43h0m157-10h0m8 41h0m-57 23h0m-73-48h0m153-11h0m-67 36h0m9-40h0m-48 20h0m70 48h0m-155-70h0m111 98h0m-83-71h0m87 46h0m78-62h0m-136 8h0m82 55h0m-105-51h0m-29-14h0m43-12h0m-18 29h0m13-35h0m-23 0h0m81 52h0m-7-37h0m-97 17h0m-4-14h0m26-6h0m144-12h0m-83 5h0m-34 15h0m-2-19h0m165 22h0m-63 93h0m23-62h0m-15-43h0m-52 47h0m48-52h0m12 58h0m-17 2h0m19-4h0m-41-18h0m-67-11h0m-27 4h0m102 51h0m-14-29h0m-108-50h0m59 35h0m63 4h0m-9 21h0m-74-57h0m114 1h0m-37 39h0m-77-31h0m89 87h0m-8-102h0m-30 67h0m53-46h0m-82-26h0m-60 40h0m131 47h0m-118-46h0m13-30h0m-37 23h0m56-34h0m103 85h0m-1 7h0m-159-84h0m95 36h0m-45-23h0m52-16h0m22 79h0m11 2h0m-13-84h0m5 67h0m-5-19h0m53-9h0m-124-37h0m85 88h0m-51-44h0m39 70h0m42-53h0m-93-59h0m98 10h0m-111 21h0m101 41h0m54-49h0m-61 78h0m-9-94h0m-68-1h0m78-13h0m-56 3h0m-28 9h0m61 83h0m77-70h0m-141-33h0m88 97h0m-23-83h0m-27 27h0m23-27h0m33 81h0m-129-74h0m40-16h0m30 8h0m-79 25h0m34-15h0m9 12h0m140 5h0m-148 8h0m-29-25h0m2 27h0m108 55h0m46-87h0m-9 28h0m-43 58h0m-18-24h0m-1-59h0m9 81h0m-3-47h0m-101-9h0m-10-10h0m122 29h0m28-21h0m-44 4h0m16 66h0m-29-24h0m-30-39h0m-63-32h0m140 80h0m-18-49h0m-134-23h0m130-3h0m-22 52h0m-11-74h0m-88 32h0m21-7h0m94 94h0" stroke="#B0A525" stroke-width="5.2" stroke-linecap="round" fill="none"/><path d="M251.3 121.3L262.5 120L273.2 125.6L278.2 136.3L276.6 147.9L273.4 159.3L265.1 161L254.4 154.8L252 140.2Z" fill="#60C8FC" fill-opacity="0.72"/><path transform="scale(.5)" d="M513 279h0m14-37h0m25 21h0m-37 49h0m21-51h0m-32-24h0m-1 10h0m14 40h0m-13 24h0m42 1h0m-27-11h0m36-34h0m-19 39h0m-31-56h0m31 8h0m19-1h0m-42 38h0m14-19h0m-12-13h0m1-14h0m10 38h0m4 28h0m12-64h0m-21 49h0m8-40h0m-8-24h0m3 29h0m22 12h0m1 32h0m-42-34h0m33-24h0m-29 66h0m38-72h0m2 16h0m-31 28h0m-6-48h0m-8 59h0m-7-26h0m4-20h0m0-4h0m58 36h0m-17-14h0m1 40h0m-38-70h0m1 75h0m39-20h0m-14 22h0m-21-20h0m33-6h0m-39-45h0m7 44h0m-2-49h0m28-2h0m1 86h0m0-19h0m-13-15h0m6-41h0m-12 44h0m6 22h0m-18-13h0m13-27h0m17-33h0m-13 58h0m11-42h0m10 45h0m16-10h0m-50-34h0m31-19h0m-23 30h0m33 30h0m-35-67h0m-4 81h0m25-73h0m-27 1h0m8 52h0m27-46h0m-2 59h0m-7-38h0m-30 7h0m9 38h0m-15-79h0m56 38h0m-12-4h0m-23-13h0m-19 10h0m-2-16h0m30 53h0m26-22h0m-34 32h0m-15-81h0m17 62h0m13-9h0m-22-37h0m11-17h0m9 86h0m1-36h0m-12-30h0m22 11h0m-33-20h0m42 25h0m-18 3h0m-33-37h0m21 79h0m-12-69h0m10 33h0m-17-33h0m8 55h0m-12-42h0m32-9h0m10 71h0m-36-8h0m7-41h0m37-18h0m-39 62h0m-16-68h0m60 38h0m-27-39h0m21 69h0m-18 3h0m15-67h0m-22 39h0m-16-41h0m49 23h0m-38-7h0m32 13h0m-15-16h0m-22-8h0m0-14h0m42 55h0m-49 1h0m10-34h0m-4 32h0m38-35h0m-8 22h0m-14 12h0m-10-35h0m-15 24h0m23 39h0m15-79h0m5 57h0m-19-6h0m-29-17h0m-3-29h0m58 11h0m-5 45h0m-26 16h0m-16-29h0m43 3h0m-21 26h0m-13-13h0m26-15h0m-39-42h0m23 18h0m-21-2h0m32 29h0m7-19h0m-27 3h0m5 10h0m16-35h0m0 62h0m-14-81h0m23 29h0m-11 3h0m7 41h0m-21-47h0m-23 5h0m27 14h0m6-34h0m9 29h0m-21 42h0m-8-62h0m19-11h0m5 66h0m-29-45h0m41 5h0m-39-25h0m-3 34h0m18-13h0m12-23h0m14 51h0m-47-18h0m10-9h0m-14-19h0m6 29h0m29-13h0m-30 0h0m-8 21h0m40 21h0" stroke="#60C8FC" stroke-width="5.2" stroke-linecap="round" fill="none"/><path d="M230 161L229.6 162.9L228.6 164.7L226.9 166.2L224.8 167.2L222.4 167.8L220 168L217.6 167.8L215.2 167.2L213.1 166.2L211.4 164.7L210.4 162.9L210 161L210.4 159.1L211.4 157.3L213.1 155.8L215.2 154.8L217.6 154.2L220 154L222.4 154.2L224.8 154.8L226.9 155.8L228.6 157.3L229.6 159.1Z" fill="#E170F8" fill-opacity="0.72"/><path transform="scale(.5)" d="M449 309h0m5 12h0m6 6h0m-34 9h0m7-14h0m1-16h0m-14 13h0m17-7h0m17 7h0m-7 9h0m6-2h0m-31-1h0m26-20h0m-17 33h0m15-15h0m-3 8h0m10-4h0m-31 2h0m2-11h0m10 4h0m10-4h0m15 6h0m-6-9h0m-24 10h0m9-19h0m-13 12h0m0 14h0m9 5h0m-11-27h0m29 7h0m-26 14h0m4-21h0m24 10h0m-16 7h0m8-15h0m-3-1h0m4-1h0m13 13h0m-31-14h0m-1 0h0m20 15h0m-12-8h0m-9 12h0m-1-10h0m6 3h0m17 8h0m-2-2h0m-11 12h0m12-14h0m-18-18h0m17 2h0m-27 11h0m28 0h0" stroke="#E170F8" stroke-width="5.2" stroke-linecap="round" fill="none"/><path transform="scale(.5)" d="M487 326h0m12-40h0m-6 16h0m-26-6h0m29 5h0m5 3h0m-14 18h0m4-28h0m-4 47h0m-6-52h0m14 18h0m-17 1h0m2-13h0m-12 25h0m7-13h0m-1-5h0m24 8h0m2 13h0m-1-32h0m-16-4h0m-3 24h0m12 7h0m-28-5h0m34-23h0m-2 18h0m-13 18h0m7-22h0m-4 49h0m16-39h0m-25 9h0m29-30h0m-40 32h0m29 20h0m-7-17h0" stroke="#E170F8" stroke-width="5.2" stroke-linecap="round" fill="none"/><path transform="scale(.5)" d="M843 244h0m17 109h0m-6-94h0m18 61h0m-14-55h0m17 13h0m-44-48h0m52 96h0m-16 11h0m2-74h0m-11 91h0m14-28h0m-4 7h0m-15 26h0m-5 11h0m31-94h0m-14 39h0m-3-23h0m1-13h0m-23 77h0m5 5h0m17-41h0m14-6h0m4-21h0m-23 38h0m-56 60h0m61-42h0m-36 33h0m43-52h0m-4-38h0m15 10h0m-34-43h0m26 46h0m-12-46h0m11 10h0m-2-10h0m-7 89h0m2-20h0m-4-47h0m1 48h0m6-69h0m-21-26h0m-14 135h0m46-65h0m-11-25h0m0 72h0m17-55h0m-12 33h0m-8-8h0m16-23h0m-44-72h0m20 18h0m-17 129h0m1-141h0m10 126h0m-14-115h0m37 47h0m-1 19h0m8 28h0m-2-22h0m-9 7h0m-69 64h0m75-64h0m-9 27h0m-15 3h0m22-19h0m-17-67h0m-13 96h0m3-119h0m-18 130h0m37-82h0m0 41h0m1 1h0m-18-97h0m5 122h0m13-3h0m-65 29h0m20-10h0m32-32h0m18 0h0m-21-79h0m-51 130h0m70-116h0m-54 104h0m46-54h0m9 18h0m-1-46h0m-14-53h0m-15-15h0m8 125h0m-17 24h0m33-115h0m6 28h0m-24-43h0m28 46h0m6-3h0m-41 65h0m7-112h0m18 32h0m0-25h0m-14 99h0m10-96h0m-14-4h0m-43 141h0m75-99h0m10 10h0m-21-7h0m-67 88h0m57-24h0m22-29h0m-43-99h0m-7 3h0m26 130h0m12-29h0m-12-67h0m-6-19h0m-12-20h0m28 114h0m1-56h0m-45 86h0m52-66h0" stroke="#C97CFF" stroke-width="5.2" stroke-linecap="round" fill="none"/><path transform="scale(.5)" d="M881 339h0m-6-13h0m6-1h0m-4 9h0m4 1h0m-14 13h0m2 0h0m20-37h0m-22 30h0m-5 16h0m-5-1h0m7-10h0m2-4h0m12-48h0m-6 53h0m3-45h0m-3 13h0m11-21h0m-11 20h0m15-19h0m-8 44h0m-18 12h0m20-9h0m-12-6h0m2 1h0m7-22h0m0 34h0m10-38h0m2-10h0m-2 0h0m-8 6h0m1 10h0m5 1h0m-4 10h0m-10-24h0m8 17h0m11-22h0m-11 46h0m-11 6h0m21-40h0m-20 41h0m8-12h0m-5-39h0m1 40h0m-1-46h0" stroke="#C97CFF" stroke-width="5.2" stroke-linecap="round" fill="none"/><path transform="scale(.5)" d="M435 538h0m22-33h0m-39 7h0m41-9h0m-23 28h0m58-98h0m-43 27h0m16-15h0m-25 88h0m13 13h0m-23 28h0m20-71h0m3 58h0m-22 1h0m76-124h0m-57 29h0m9 121h0m16-142h0m-23 136h0m60-131h0m-78 65h0m101-72h0m-85 80h0m20-18h0m19-53h0m-51 95h0m9-12h0m0-62h0m-31 72h0m50-80h0m41-12h0m21 23h0m-62-31h0m54-21h0m-62 64h0m-10 34h0m6 93h0m-31-101h0m18-51h0m-24 47h0m64-41h0m-26 146h0m24-136h0m16-3h0m-45-12h0m-11 53h0m-7 16h0m97-78h0m-95 111h0m4 28h0m17-71h0m83-63h0m-59 11h0m-48 2h0m4 70h0m-20-10h0m39-23h0m87-42h0m-94 94h0m51-121h0m-49 14h0m76-5h0m-60 75h0m-2-17h0m38-37h0m30 1h0m-52 19h0m-33 89h0m-9-5h0m5-116h0m-16 18h0m42 16h0m-26 40h0m-21 15h0m72-100h0m-28 132h0m22-149h0m-60 131h0m68-120h0m-34 64h0m-19 75h0m-4 21h0m-7-108h0m20-17h0m-30 49h0m28 75h0m-11-71h0m9 85h0m6-97h0m68-84h0m-99 75h0m36 93h0m66-148h0m-70 118h0m-29 0h0m36-77h0m8-5h0m-38 18h0m-13 36h0m7-33h0m107-41h0m-83 138h0m-14-42h0m1-29h0m30 40h0m-7-7h0m67-126h0m-72 32h0m74-2h0m-22-15h0m-60 19h0m98-9h0m-41-11h0m37-4h0m-45 4h0m-67 110h0m33-10h0m53-81h0m-49 129h0m-45-113h0m35-34h0m-20 80h0m57-78h0m-21 134h0m42-130h0m-65 30h0m-32 43h0m86-85h0m-59 78h0m37-31h0m-55 63h0m35-109h0m-24 138h0m-3-62h0m25-83h0m51 40h0m-17-19h0m-18 31h0m-37-7h0m25-27h0m-20 69h0m-2-21h0m-6 40h0m22 63h0m-10-19h0m54-133h0m-52 20h0m30-34h0m-59 44h0m111-52h0m-89 60h0m83-21h0m-40 3h0m-61 22h0m74-47h0m-36 128h0m-29-47h0m10-36h0m5-30h0m54-31h0m-46 58h0m44-33h0m-77 61h0m49 61h0m-35-69h0m1-29h0m2-18h0m12 96h0m-10-29h0m-2-75h0m39 11h0m46-16h0m-63 81h0m75-101h0m-85 58h0m16-32h0m-14 61h0m-14-55h0m-2 32h0m23 113h0m29-180h0m-26 85h0m28-52h0m-25 32h0m-39 39h0m15-76h0m-7 72h0m15-24h0m-26 40h0m62-114h0m-65 118h0m39 35h0m-2 10h0m12-106h0m-15 124h0m36-128h0m-9-58h0m53 35h0m-96 127h0m-8-62h0m6-51h0m33 113h0m-3-91h0m71-46h0m-79-4h0m-23 101h0m27-60h0m-40 17h0m42 87h0m-2-30h0m-9-114h0m71-33h0m-59 23h0m16 51h0m60-38h0m-81 108h0m10-83h0m30-55h0m31 35h0m-73 98h0m-10 29h0m68-118h0m-67 69h0m25-56h0m-42 93h0m93-127h0m15 10h0m-106 57h0m29 88h0m55-150h0m-37-10h0m-48 115h0m36-60h0m-14-40h0m19-17h0m35 12h0m-60-5h0m7 158h0m10-164h0m23 29h0m-29-11h0m73-20h0m-65 141h0m-42-31h0m1-64h0m97-44h0m-40-6h0m-20 31h0m3 131h0m33-149h0m-79 93h0m23 56h0m-1-89h0m-13 52h0m19-15h0m3-64h0m45-14h0m-5-19h0m-72 69h0m32 82h0m7-30h0m-2 3h0m53-139h0m-56 168h0m24-168h0m-2 48h0m-46 50h0m98-92h0m-44 30h0m16-33h0m-69 139h0m37-87h0m-17-3h0m-19 91h0m13-39h0m-16 0h0m25-2h0m21-92h0m-50 129h0m10-49h0m12-29h0m67-51h0m-60 24h0m7 94h0m27-119h0m46-9h0m-67 70h0m15-59h0m-29 163h0m29-175h0m-45 39h0m97-18h0m-75 47h0m-6 83h0m-14 7h0m18 23h0m5-39h0m-34-89h0m35 75h0m-16-61h0m1 0h0m2 80h0m1-117h0m25-14h0m-44 22h0m102-15h0m-114 47h0m42 76h0m32-130h0m-11-23h0m-29 53h0m-4-2h0m73-5h0m-97 58h0m5-26h0m38 82h0m-22-114h0m-14 25h0m99-35h0m-105 87h0m45 48h0m-37-101h0m-11 26h0m28-58h0m22-31h0m-27 105h0m64-90h0m21-7h0m-27 7h0m-62 36h0m89-22h0m-71 0h0m-35 66h0m57-72h0m-30 65h0m18-77h0m24-11h0m-45 36h0m14 115h0m44-162h0m-68 92h0m-24 15h0m24 73h0m96-139h0m-10 4h0m-6-50h0m-105 115h0m73-96h0m-51 128h0m86-120h0m-56 131h0m42-120h0m33 9h0m-92 88h0m-21-14h0m94-120h0m-42 52h0m-28 35h0m2 0h0m-24 26h0" stroke="#54DC90" stroke-width="5.2" stroke-linecap="round" fill="none"/><path d="M266.7 211L280.5 208.9L293.6 210.4L299.1 216.5L298.2 227.2L289.1 231.2L276.1 232.3L266.9 227.3Z" fill="#54DC90" fill-opacity="0.72"/><path transform="scale(.5)" d="M539 447h0m57-5h0m-31 14h0m1-36h0m-28 16h0m28 16h0m1 9h0m-1 3h0m26-11h0m-5-29h0m-26 15h0m-16 6h0m17-14h0m-3 17h0m-4-20h0m33 26h0m-52-21h0m29 7h0m-11 19h0m-1-24h0m22 31h0m25-22h0m-15-20h0m-13 15h0m7 5h0m10-9h0m-42-15h0m0 10h0m5-1h0m-2 35h0m2-13h0m10 0h0m16 8h0m-19-11h0m-25-26h0m13 28h0m22-34h0m-16 39h0m-11-20h0m25-4h0m-5-16h0m-12 34h0m11-34h0m-10 49h0m7-40h0m19 39h0m-24-27h0m29-15h0m-17 4h0m17-3h0m2 39h0m-23-26h0m1-10h0m30 5h0m-14 31h0m15-20h0m-34 17h0m-1-9h0m-7-23h0m15-10h0m0 41h0m17-10h0m-28 12h0m39-13h0m-40 18h0m30-21h0m-44-11h0m30 25h0m-34-11h0m30-5h0m1-15h0m-2 0h0m10 27h0m0-23h0m20-4h0m-38 22h0m12 18h0m-26-8h0m-7-29h0m56 23h0m-59 1h0m49-31h0m-45 22h0m15-16h0m-14 21h0m56-10h0m-3-6h0m-34-7h0m19 9h0m15 3h0m-27-20h0m-6 29h0m35-19h0m-18 24h0m-27-12h0m12 6h0m-1 2h0m-1-30h0m-2 33h0m9-29h0m5 6h0m-21-3h0m25 6h0m3 34h0m-25-6h0m47-29h0m-34 1h0m12 31h0m-40-32h0m38 21h0m-21-9h0m-8 10h0m4 12h0m33-17h0m-29-2h0m19-18h0m-33 23h0m14 6h0m29-30h0m-30 32h0m-5-34h0m7 26h0m11-24h0m2 5h0m-35-3h0m42-11h0m-2 15h0m-38-2h0m31 10h0m25 4h0" stroke="#54DC90" stroke-width="5.2" stroke-linecap="round" fill="none"/><path transform="scale(.5)" d="M522 605h0m45-46h0m5 93h0m-54-35h0m21-40h0m-51-38h0m50 8h0m4 10h0m50 95h0m-1-37h0m-84 15h0m10-109h0m21 137h0m-4-83h0m-14 82h0m-9-80h0m25 13h0m63 18h0m-77-72h0m53 50h0m-24 67h0m-30-61h0m11-78h0m31 55h0m-54-45h0m3 31h0m2 69h0m-21-25h0m-5-18h0m45 54h0m-24-108h0m70 43h0m-53-46h0m-12-4h0m86 107h0m-87-79h0m14-12h0m57 85h0m-62 39h0m27-82h0m34-4h0m5 37h0m-100-65h0m38-24h0m1 11h0m3 54h0m-37-6h0m99 19h0m3 47h0m-28-56h0m16-33h0m-35 81h0m-60-72h0m9-2h0m95 89h0m12-68h0m-71 24h0m-17-10h0m0-36h0m-21 17h0m84 7h0m-29 57h0m38 11h0m-76-33h0m80-3h0m-37-71h0m-37 84h0m-29-103h0m82 120h0m-44-28h0m4-27h0m19-33h0m1 64h0m13-57h0m9 84h0m-4-29h0m36-11h0m-32-51h0m-17 103h0m-22-41h0m57-42h0m-47-36h0m10 93h0m22-39h0m-20-53h0m-27 47h0m15-22h0m40-2h0m-44-30h0m31 27h0m-72 75h0m-5-81h0m5-29h0m36 118h0m-24-23h0m41 16h0m26 0h0m-33-68h0m-23 45h0m62-17h0m-87-61h0m58 48h0m-55-45h0m69 27h0m-74 38h0m-7-68h0m85 33h0m-52 63h0m32-63h0m-68 13h0m91 33h0m17-33h0m-9 69h0m-50-11h0m6-2h0m-5-37h0m8-12h0m39 63h0m-78-105h0m78 9h0m-36-17h0m-12 121h0m-22-96h0m29 17h0m-33 15h0m51-67h0m-16 29h0m10 79h0m39 9h0m-34 1h0m0-15h0m-13-87h0m-26 23h0m-8 54h0m81 21h0m-99-107h0m111 78h0m-17 32h0m-45-59h0m20 8h0m-45 13h0m73-42h0m-96 59h0m65 29h0m-50-53h0m24-59h0m41 67h0m-19 23h0m-13-28h0m-39-7h0m96 33h0m-63-33h0m13 52h0m-11-104h0m1-21h0m-20 95h0m37 7h0m-67-18h0m-3-9h0m21-78h0m-3 117h0m56-3h0m-61-10h0m83-71h0m-78 52h0m45 52h0m4-131h0m-67 17h0m39 21h0m66 44h0m-95-6h0m13-8h0m-7 49h0m97-26h0m-58-11h0m-35-75h0m60 53h0m2 50h0m13-29h0m-66-32h0m-10 24h0m87-8h0m-7-32h0m-48 0h0m21-26h0m0 109h0m-63-95h0m41 33h0m2 50h0m-7-3h0m-44-66h0m45 83h0m25-6h0m-45-111h0m10 106h0m63-55h0m-28 5h0m-16 66h0m15-60h0m-19 9h0m-32-84h0m26 104h0m-34-81h0m31 111h0m71-62h0m-95-21h0m64 79h0m-42-135h0m-39 27h0m51-19h0m-21 122h0m-6-95h0m43-8h0m15 26h0m-18 8h0m-4 69h0m13 16h0m-74-106h0m98 70h0m-4-68h0m6 22h0m-2 2h0m-88-9h0m64 65h0m-60-66h0m99 56h0m-93-34h0m42-30h0m-57 40h0m56-73h0m-47 52h0m55 15h0m-64-53h0m-3 65h0m55 28h0m24-5h0m-70-64h0m88 34h0m-44 55h0m36-57h0m-57 5h0m17 52h0m39-107h0m-72 56h0m87-38h0m-88 35h0m37 62h0m-23-16h0m-20-104h0m88 18h0m7 73h0m5-26h0m-97 6h0m76 45h0m-92-100h0m87 69h0m-24-3h0m52 16h0m-82-38h0m3-86h0m-16 67h0m33 68h0m-44-88h0m10-2h0m59 29h0m18-1h0m-44-38h0m63 48h0m-86 17h0m69-3h0m23 8h0m-64 19h0m-34-106h0m61 45h0m-70 21h0m56-4h0m7-50h0m15 11h0m-32-12h0m0-6h0m22 36h0m-27 79h0m45-94h0m-102 16h0m31-60h0m60 31h0m-63 36h0m83 35h0m-25 31h0m36-60h0m-93-28h0m-22 28h0m88-8h0m-94-1h0m93 77h0m-42-103h0m68 55h0m-79-50h0m-26 79h0m90-61h0m-39-48h0m-38 73h0m0 5h0m95 12h0m-7-48h0m-99 55h0m76-67h0m-14 65h0m2-77h0m-74 58h0m100-1h0m5 42h0m-105-88h0m108 60h0m-93 9h0m61-90h0m-73 52h0m10 31h0m85-19h0m-62-88h0m26 17h0m4 84h0m-37-56h0m15 27h0m-46-7h0m49-62h0m4 90h0m40-50h0m-92 61h0m29-88h0m65 69h0m27 8h0m-49 56h0m-37-124h0m10 89h0m5 24h0m-16-46h0m-21-1h0m-1-42h0m42-23h0m-35-1h0m41 118h0m11 5h0m-28-93h0m1 10h0m57 17h0m-77-51h0m-16 5h0m39 97h0m-1 14h0m-22-74h0m51-45h0m-27-18h0m22 129h0m12-3h0m-55-102h0m-13-29h0m-10 31h0m12 69h0m69 29h0m-32 9h0m-26-122h0m36 86h0m-4 10h0m-14-98h0m-30 92h0m62 0h0m-50-107h0m7 34h0m-20 51h0m52 42h0m46-29h0m-82-97h0m68 71h0m-52-23h0m37 45h0m-17-23h0m-71-7h0m55 65h0m-4-70h0m16-52h0m16 94h0m35-45h0m-88 77h0m42-20h0m-46 13h0m1-9h0m8-76h0m28-14h0m23 102h0m-34-110h0m63 55h0m-24 71h0m24-21h0m-98-65h0m64 44h0m1 1h0m-59-78h0m37 70h0m51 30h0m-58-39h0m-20-37h0m-26-16h0m17 31h0m55 47h0m-66-30h0m99 18h0m-62-87h0m26 60h0m-53 37h0m35 12h0m-17-106h0m49 88h0m-13 30h0m-20-29h0m8 2h0m8 7h0m-67-33h0m112 22h0m-25-9h0m-30 8h0m-34-58h0m28-30h0m11 98h0m-55-37h0m13-28h0m42 61h0m-6 17h0m61-25h0m-35-62h0m-23 9h0m-51-43h0m1 14h0m27 107h0m17-13h0m35-62h0m-61-32h0m-3 81h0m2 24h0m27-110h0m39 39h0m-42-20h0m-46 55h0m32-58h0m3-1h0m48 12h0m22 50h0m-80-58h0m79 88h0m1-62h0m-95-48h0m22 17h0m22-1h0m-62 12h0m101 30h0m-4-2h0m20 26h0m-19-9h0m-41 16h0m21 44h0m-6-75h0m-15 36h0m-15 0h0m8 37h0m1-145h0m37 143h0m20-38h0m-40 5h0m-32-42h0m17 51h0m10 12h0m-23-116h0m77 66h0m-51-11h0m37 68h0m-27-97h0m25 26h0m-16-8h0m-56-57h0m39 43h0m43 83h0m-77-126h0m64 53h0m-57 46h0m13-58h0m19-26h0m9 49h0m-41 71h0m23 4h0m49-15h0m-101-80h0m46 54h0m-20 27h0m71-4h0m-77-74h0m-14-17h0m31 118h0m12-24h0m4-26h0m38 20h0m-22-38h0m-47-77h0m81 126h0m-52-10h0m6-8h0m12-64h0m-31 95h0m16-97h0m-21-24h0m-5-15h0m-10 83h0m34-10h0m-37 16h0m50 1h0m17 14h0m1-63h0m22 26h0m-37 52h0m-55-112h0m-3-12h0m83 64h0m-68-4h0m28 79h0m-49-68h0m55 51h0m-45-53h0m31-51h0m-32 58h0m96 5h0m-108 32h0" stroke="#54DDC1" stroke-width="5.2" stroke-linecap="round" fill="none"/><path transform="scale(.5)" d="M594 535h0m9 22h0m3 51h0m-16-60h0m13 15h0m-7-24h0m18 5h0m5 36h0m-16 34h0m-14-61h0m13 46h0m3-10h0m-10 47h0m11-86h0m-6 55h0m-11 36h0m26-38h0m-29 22h0m22-31h0m-7 43h0m-7-104h0m0 27h0m-8 58h0m17-16h0m-12-56h0m27 47h0m-18 12h0m4-9h0m-6-5h0m-10-2h0m11 40h0m-5-44h0m25-5h0m-34 32h0m14-67h0m17 16h0m-18 52h0m6 16h0m-18-19h0m9-52h0m15 73h0m-5-45h0m-12-33h0m19 88h0m-21-48h0m-2 49h0m14-68h0m9-38h0m-5 60h0m-16 10h0m21 4h0m-20 25h0m11-24h0m14-55h0m-5 3h0m-21 16h0m17-46h0m-7 15h0m3 1h0m13 44h0m-2-5h0m-9-23h0m1 43h0m5 31h0m-16-97h0m9 56h0m13 28h0m-13 3h0m2 16h0m-13-4h0m0-105h0m18 20h0m-18 86h0m19-55h0m-13-8h0m22 13h0m-22 16h0m-1-16h0m2 22h0m-5-34h0m22 1h0m1-17h0m-26-3h0m5-1h0m-8 8h0m16 24h0m12-19h0m-25 8h0m26-20h0m-15-6h0m-17 18h0m21-19h0m-23 39h0m24-39h0m9-28h0m-27 50h0m25 27h0m-2 11h0m-21-5h0m-2-41h0m-2-9h0m14-19h0m-17 90h0m22-2h0m2-16h0m-17-45h0m26 56h0m-31-38h0m25 17h0m-11-55h0" stroke="#47D833" stroke-width="5.2" stroke-linecap="round" fill="none"/><path d="M306.7 253.6L320.2 251L333.5 258.7L341.8 272.5L342 289.6L339.2 305.1L329.1 318.1L315.7 324.1L304.9 320.5L308.7 302.1L313.9 285.9L312.1 271.4Z" fill="#47D833" fill-opacity="0.72"/><path transform="scale(.5)" d="M657 585h0m32-15h0m-53 7h0m18-14h0m-28-52h0m18 76h0m20-62h0m-22 33h0m-22 73h0m28-48h0m-1-82h0m11 12h0m12 108h0m-17-97h0m14-15h0m-48 66h0m3-25h0m8 25h0m34 44h0m-13-47h0m-15 9h0m-10-15h0m9-51h0m-18-12h0m31 5h0m6 66h0m9-8h0m-28 68h0m50-67h0m-53 33h0m-3-101h0m61 47h0m-41-45h0m-24 108h0m13-28h0m-16-25h0m49 7h0m-5 29h0m-20-8h0m13-77h0m-28 48h0m-2 84h0m41-45h0m-7-28h0m-10 19h0m21-1h0m1-8h0m-38-71h0m13 40h0m8 88h0m15-87h0m-33-13h0m-2 82h0m-4-16h0m2-37h0m52 27h0m-39-3h0m30-25h0m-55-33h0m48 83h0m-51-91h0m16 78h0m14-49h0m7-31h0m-27-10h0m38 90h0m-23-70h0m28 80h0m-31-82h0m17-10h0m-15 53h0m22 57h0m-8-33h0m-13-95h0m11 141h0m-23-35h0m-18 43h0m65-117h0m-35-7h0m-5-8h0m33 80h0m7 2h0m-54-50h0m36-35h0m-7 82h0m-26 53h0m0-22h0m11-104h0m19 112h0m-33-95h0m4 44h0m-19 45h0m15-13h0m25-74h0m-30 32h0m-4 39h0m2 28h0m48-12h0m-43-61h0m45 10h0m-49 35h0m57-30h0m-43-7h0m23-24h0m29 36h0m-33-1h0m-23 9h0m36 25h0m-2-41h0m-11 58h0m8-90h0m-48 69h0m46-7h0m9-87h0m-8-9h0m-11 92h0m29-67h0m-33 90h0m26-14h0m-4-73h0m-9 67h0m-35-101h0m-4 104h0m16-33h0m-12 22h0m7 42h0m-15-131h0m9 48h0m16 46h0m-2 0h0m-8 35h0m17-25h0m-6 18h0m-2-73h0m3 31h0m-8 17h0m18-101h0m-38 11h0m27 105h0m33-58h0m8 23h0m-10-21h0m-15 33h0m17 3h0m-26 1h0m32-36h0m-46-29h0m49 55h0m-27 7h0m-23-45h0m30 69h0m17-13h0m-32-29h0m22-57h0m-26 18h0m-10-17h0m-18 67h0m20-85h0m26 93h0m-43-78h0m54 68h0m-31 51h0m-10-25h0m13-42h0m26-14h0m-48 89h0m-4-135h0m19 132h0m-19-116h0m39 64h0m-1 16h0m-1-62h0m3 28h0m-24 69h0m32-36h0m-42 21h0m47-12h0m-20-117h0m29 61h0m-43 69h0m10-67h0m18 16h0m-34-5h0m31 17h0m-17 38h0m-19-25h0m16-54h0m-15 48h0m31-14h0m-22-74h0m29 65h0m-48 73h0m11-37h0m24-6h0m-25-106h0m43 85h0m-41-24h0m9 59h0m22-106h0m29 48h0m-40 64h0m12-53h0m0-16h0m-4 79h0m3-109h0m-27 64h0m-9-28h0m49-9h0m-9 3h0m-45 77h0m2-106h0m42 8h0m-30 42h0m27 49h0m-36-102h0m40 45h0m-16-21h0m19 40h0m-39 7h0m21 28h0m-19-98h0m4 67h0m19-26h0m-7 57h0m17 6h0m14-93h0m-8 75h0m-19-55h0m-8-36h0m-9 35h0m-7-41h0m47 52h0m-52-14h0m22-28h0m-5 12h0m-14 111h0m36-25h0m11-58h0m-31 4h0m6-3h0m10-41h0m-41-18h0m46 113h0m12-51h0m-40 21h0m1 6h0m14-30h0m-13 79h0m13-54h0m-14-84h0m-6 29h0m25-23h0m-41 107h0m23-42h0m43-11h0m-21 57h0m19-20h0m-24 25h0m-28-56h0m23 24h0m-10-96h0m-24 122h0m50-20h0m-7-56h0m27 6h0m-44 42h0m7 43h0m20-44h0m-50-86h0m21-13h0m12 119h0m9-55h0m-19 73h0m-20-45h0m32 18h0m-5-101h0m-14 99h0m4 1h0m3-63h0m36 6h0m-55 37h0m57 4h0m6-7h0m-29 7h0m-6-53h0m8 30h0m-3 20h0m-32-65h0m2 30h0m26 71h0m6 21h0m-29-37h0m21-76h0m-42 118h0m37-113h0m-19-20h0m26 32h0m20-1h0m-2 69h0m-33 25h0m-19-12h0m53-16h0m-49-87h0m22 124h0m18-121h0m3 30h0m13-8h0m-53-37h0m16 69h0m-10-38h0m0 50h0m-4 0h0m-3-78h0m25-2h0m-9 53h0m-7-24h0m18 6h0m-18 55h0m25 9h0m-9 4h0m13-44h0m18-17h0m-13 18h0m-19-28h0m-30 102h0m35-57h0m24-38h0m13-1h0m-56 67h0m21-39h0m7 7h0m-39-19h0m36 28h0m7 37h0m-14-5h0m-34-26h0m6-35h0m2-57h0m13 34h0m-5 42h0m7-72h0m-17 80h0m27 3h0m3 49h0m-18-91h0m18 74h0m-19-69h0m-4-2h0m-4 3h0m18 36h0m-16 27h0m20-32h0m-30-94h0m29 45h0m21 59h0m-42-100h0m17 104h0m-25 11h0m31-95h0m22 1h0m8 7h0m-44 91h0m8 16h0m-12-106h0m-6 71h0m26-37h0m-30 61h0m-2 14h0m52-42h0m-39-4h0m12-51h0m-1 79h0m-26-97h0m46 77h0m-55 44h0m18-34h0m22-96h0m-25 111h0m9-15h0m7-63h0m48 24h0m-58-73h0m23 142h0m26-74h0m5-21h0m-4 51h0m-42 30h0m50-42h0m-57-70h0m-9-6h0m18 130h0m-6-9h0m34-84h0m-47 44h0m8 22h0m51 8h0m-34-23h0m31-68h0m-24 76h0m4-4h0m9-46h0m-8-42h0m-4 117h0m-33-47h0m8-54h0m46 33h0m-45-32h0m48 86h0m-29-111h0m34 44h0m-26 39h0m-15-27h0m20-8h0m-15-52h0m23 19h0m-42 33h0m38-41h0m-26 132h0m46-93h0m-15 68h0m-36-62h0m17 20h0m-7-74h0m-18-4h0m23 95h0m-21-56h0m23 4h0m7 72h0m-28-96h0m52 60h0m-25-74h0m-32 99h0m-6-103h0m3 16h0m16 86h0m-8 22h0m-1-122h0m27 7h0m6 94h0m-41-72h0m19 13h0m44 17h0m-48 77h0m-8-51h0m-3-45h0m23-5h0" stroke="#47D833" stroke-width="5.2" stroke-linecap="round" fill="none"/><path d="M306 266L305.6 268.7L304.5 271.1L302.7 273.2L300.4 274.7L297.8 275.7L295 276L292.2 275.7L289.6 274.7L287.3 273.2L285.5 271.1L284.4 268.7L284 266L284.4 263.3L285.5 260.9L287.3 258.8L289.6 257.3L292.2 256.3L295 256L297.8 256.3L300.4 257.3L302.7 258.8L304.5 260.9L305.6 263.3Z" fill="#FB61D6" fill-opacity="0.72"/><path transform="scale(.5)" d="M562 531h0m16 5h0m31-12h0m-28 19h0m12-27h0m-11 31h0m-12-24h0m25 30h0m2-17h0m-11-22h0m9 37h0m-31-7h0m25-38h0m29 24h0m-7-5h0m-10 1h0m-40 11h0m37-20h0m3-6h0m-11 8h0m3 17h0m5-6h0m1 16h0m-38-9h0m17-22h0m17 35h0m12-25h0m-14-19h0m-27 36h0m36 1h0m3-5h0m-24-4h0m0-1h0m-6 23h0m15-6h0m-18-13h0m2-27h0m17 24h0m-11-17h0m15 39h0m-18-21h0m39-15h0m-29 33h0m6-34h0m-17 19h0m14 13h0m-14-21h0m-8-2h0m38-1h0m-25 3h0m9 3h0m20 7h0m-49-13h0m38-5h0m-31 23h0m6-4h0m22 18h0m5-29h0m6-19h0m-6 46h0m-30-30h0m-3 17h0m21-13h0m19 10h0m-22 7h0m-23-8h0m2-12h0m36-20h0m9 34h0m-41-21h0m40-4h0m9 25h0m-13 11h0m5-11h0m-14 8h0m4 0h0m7-3h0m-37 0h0m-3-25h0m2 19h0m42-15h0m1-3h0m-27-4h0m0 28h0m8 8h0m-8-49h0m-18 21h0m31 18h0m5-4h0m-12-29h0m3 45h0m0-24h0m-9-25h0m6 39h0m11-29h0m-17 3h0m-15 16h0m2-24h0m9 19h0m-7 18h0m41-29h0m-10-7h0m-30 13h0m10 22h0" stroke="#FB61D6" stroke-width="5.2" stroke-linecap="round" fill="none"/><path transform="scale(.5)" d="M839 461h0m-5-25h0m20 36h0m-7-11h0m8 9h0m-8 1h0m-18-25h0m25 26h0m-19-27h0m14 23h0m-2-17h0m5 18h0m5 0h0m-6-16h0" stroke="#59D8EA" stroke-width="5.2" stroke-linecap="round" fill="none"/><path d="M431.6 235.7L447.9 237L459.9 248.4L462.4 261.8L464.4 278.3L462.7 291.8L451.3 296.1L439.1 295.2L430.6 288.9L429.9 274L433 257.6Z" fill="#59D8EA" fill-opacity="0.72"/><path transform="scale(.5)" d="M923 568h0m-48-44h0m-19 28h0m28-37h0m-16-22h0m58 49h0m-65-55h0m31 80h0m-1-36h0m5 21h0m-24-58h0m44-8h0m5 83h0m-34 11h0m-10 5h0m48-8h0m-33-76h0m-29 29h0m43 67h0m5-55h0m-23 40h0m29-80h0m-49 6h0m-6-18h0m24 91h0m15-79h0m16 37h0m-40-22h0m54 2h0m-17 30h0m-26-62h0m14 104h0m11-52h0m-50-16h0m27-8h0m-5 74h0m33-91h0m-36-3h0m-17-27h0m52 109h0m-49-87h0m7 10h0m6 16h0m17 34h0m-21-70h0m45 68h0m-54-77h0m-2 66h0m2 55h0m38-39h0m-34-81h0m-5-5h0m23 35h0m-22-2h0m5 14h0m28 83h0m9-35h0m-23-89h0m1 11h0m-8 38h0m20 44h0m20-34h0m-15 10h0m7 33h0m8-3h0m-58-38h0m25-35h0m18 59h0m-16-75h0m-33 85h0m4-9h0m36 6h0m4-38h0m-16 60h0m1-55h0m39-37h0m-40-18h0m-7 117h0m8-110h0m-8 43h0m-2 70h0m2 0h0m-15-92h0m0 55h0m24-52h0m12 71h0m34-54h0m-32 69h0m-38-81h0m1 74h0m39-78h0m22 64h0m-54 0h0m29 17h0m2-48h0m-27 22h0m20-33h0m22-45h0m-29 95h0m24-6h0m-36-53h0m49 49h0m-36-22h0m35-38h0m-55-31h0m22 61h0m-29 19h0m10-69h0m32-17h0m-12 48h0m11 43h0m-36-73h0m-3 58h0m-3-22h0m1 49h0m10 5h0m13-112h0m28 15h0m-28 56h0m10-49h0m33 70h0m-40-39h0m29 63h0m4-63h0m-35 2h0m7-32h0m29 67h0m-48-24h0m-3-47h0m30 32h0m-31 3h0m42 51h0m5-35h0m-8-37h0m-41 17h0m-5-6h0m27 32h0m29 10h0m-15-82h0m-25 104h0m38-44h0m-44-41h0m-5 32h0m48 18h0m-55-61h0m21 68h0m-13-9h0m17-46h0m-11 12h0m48 79h0m-8-75h0m-54 74h0m19-26h0m41-65h0m-10 13h0m-53 33h0m48 37h0m17-69h0m-57 57h0m51-47h0m-7 32h0m13-25h0m-28 11h0m-9-37h0m-1 64h0m21-30h0m19-16h0m-50 35h0m-18 9h0m60 22h0m8-45h0m-18 7h0m-18-61h0m3 106h0m10-25h0m-25-62h0m30 78h0m-1-76h0m4 14h0m16 11h0m-59-9h0m9-53h0m-4 84h0m7-57h0m17 46h0m0 24h0m-41-15h0m72-17h0m-64-17h0m13 15h0m55 47h0m-40-95h0m-12 17h0m9 4h0m39 20h0m-3-5h0m-28 14h0m-1 25h0m-22-75h0m53 12h0m-54 53h0m18 36h0m14-100h0m-25 50h0m-20-8h0m13-45h0m21 22h0m39 16h0m-52 68h0m22 3h0m33-32h0m-41-83h0m13 66h0m25-21h0m-75 52h0m55 16h0m11-95h0m-33 8h0m22 61h0m-51-91h0m69 46h0m-53-24h0m23 0h0m-2 7h0m32 83h0m-22-36h0m-9-9h0m-16-30h0m-17 1h0m65 65h0m-54-98h0m9 44h0m-10-4h0m16-26h0m13 65h0m-5-84h0m-27 19h0m-10 50h0m49-26h0m13 75h0m-43-35h0m6 20h0m15-42h0m-12-3h0m38-18h0m-63-29h0m63 62h0m-30-20h0m-27 58h0m4-44h0m-5-70h0m5 116h0m35-15h0m-17-8h0m20-50h0m15 47h0m-15 10h0m-14-36h0m-37-3h0m54-7h0m-4 29h0m-52 26h0m65-35h0m-37-16h0m-2 27h0m-5-24h0m40-38h0m-31 50h0m4 16h0m14-52h0m-27 26h0m45-23h0m-28 16h0m-27 28h0m56-13h0m-18-42h0m-38 2h0m44 58h0m-53 24h0m35-52h0m-15 6h0m-13-23h0m7-2h0m8 11h0m-8-14h0m-11 42h0m20-43h0m13 68h0m-2-104h0m-6 44h0m1-33h0m-3-1h0m-13 6h0m-11 102h0m35-108h0m-8 97h0m35 9h0m-51-56h0m23-35h0m4 39h0m-6-45h0m-31 90h0m55-33h0m-7 39h0m-36-51h0m25-9h0m-17-15h0m16 38h0m8-23h0m-23 42h0m-24-15h0m33 21h0m38-23h0m-64 32h0m45-64h0m-3 9h0m7-11h0m2 53h0m-56-1h0m60 2h0m-32-78h0m-4 46h0m15 19h0m-16 8h0m25-73h0m-30-23h0m-16 16h0m45 111h0m1-19h0m-28-84h0m3 76h0m8-75h0m-34 59h0m33-10h0m21-56h0m14 90h0m-34-50h0m10-6h0m-33 27h0m17-35h0m-20-28h0m13 30h0m-26 57h0m64-78h0m-62 35h0m13-10h0m46-6h0m8-13h0m-9 24h0m-10 35h0m-43 19h0m1-41h0m47-56h0m11 99h0m-57-20h0m50-47h0m5 57h0m-10 21h0m-5-79h0m-38 74h0m28-113h0m0 123h0m5-81h0m-37 7h0m10-32h0m30 73h0m-15-75h0m-11 62h0" stroke="#59D8EA" stroke-width="5.2" stroke-linecap="round" fill="none"/><path d="M475.6 258.6L488.8 256.7L491.3 266.3L490.4 282.5L480.5 285L478 275.7L475.7 267.2Z" fill="#FF66A7" fill-opacity="0.72"/><path transform="scale(.5)" d="M955 514h0m23 45h0m-21-46h0m15 46h0m-4-28h0m6 36h0m-11 5h0m-13-59h0m17 47h0m3-10h0m13-14h0m-17 1h0m7 9h0m8-23h0m-17 48h0m-8-6h0m19-43h0m-15-10h0m20 17h0m-13-6h0m-12 1h0m3 29h0m15-40h0m-5 36h0m11-30h0m-23 8h0m19 25h0m4-26h0m-2-3h0m-3 4h0m6 0h0m-31-13h0m11 36h0m8-29h0m3 6h0m-8 2h0m2 46h0m-4-9h0m3 8h0m-14-45h0m21 44h0m4-27h0m-4 10h0m17-26h0m-32 32h0m1-12h0m4-18h0m-6-9h0m27 32h0m-18-25h0m3 25h0m-14-41h0m8 29h0m6 27h0m0-38h0m-9 1h0m16-24h0m1 17h0m-25-12h0m9 40h0m1-6h0m-3-28h0m-3 3h0m20 22h0m2 18h0m1-16h0m-10 12h0m4 14h0m-6 1h0m-4-5h0m8-58h0m-9 22h0m16 19h0m4 14h0m-10-54h0m-5 25h0m7 24h0m-18-39h0m13 44h0m-13-50h0" stroke="#FF66A7" stroke-width="5.2" stroke-linecap="round" fill="none"/><path d="M598.4 127.8L621.7 126.5L645.2 131L663.5 137.6L677.6 143.7L687.1 155.7L689 171.5L685.4 186.5L677.9 195.9L666.6 201.3L655.4 202.1L649.8 193L640.9 187.1L627.3 183L615 169.6L607.8 151L600.6 139.4Z" fill="#E39A30" fill-opacity="0.72"/><path transform="scale(.5)" d="M1350 327h0m-11 78h0m-77-124h0m33 20h0m65-2h0m-7 12h0m16 23h0m-36 15h0m-120-48h0m90 1h0m70 0h0m-163-19h0m65 46h0m-55-3h0m78 27h0m-82-83h0m20 63h0m-20-71h0m28 51h0m57 36h0m-22 4h0m41-44h0m-19 13h0m43-8h0m-108-65h0m-2 54h0m22 35h0m111 25h0m-11 19h0m-51-64h0m-9 29h0m-36-16h0m7-52h0m51 58h0m-6 15h0m45 8h0m-52-86h0m-10 67h0m-78-62h0m67 56h0m44 69h0m-20-141h0m-22 108h0m-23-47h0m62 61h0m-30-60h0m74 49h0m-57-106h0m-72-19h0m119 105h0m-31 14h0m-47-33h0m41 29h0m-40-39h0m-10 24h0m58 9h0m-52 3h0m74 16h0m-72-53h0m69 41h0m-61-100h0m7 61h0m35-11h0m-78-49h0m-27 1h0m96 53h0m-66 16h0m51 13h0m10-5h0m-57-88h0m50 146h0m9-104h0m34 70h0m-89-110h0m63 145h0m-47-86h0m89 26h0m-42-40h0m-127-28h0m180 83h0m-55-22h0m44-5h0m-132-37h0m50-23h0m-11-17h0m41 31h0m49 57h0m-151-62h0m125 41h0m-123-39h0m81-17h0m56 64h0m19-9h0m-51 8h0m-92-51h0m63 90h0m60 1h0m-19-92h0m-63 8h0m-5 91h0m-48-113h0m115 78h0m9 24h0m-6-27h0m-38 44h0m33-94h0m-14 43h0m29-50h0m-13 32h0m40 3h0m-5 10h0m-68-52h0m56 103h0m-28-13h0m-72 0h0m108-23h0m-66 42h0m-27-76h0m-63-24h0m100 29h0m53-17h0m-126 39h0m81-27h0m-15 62h0m-63-90h0m-3 64h0m43-41h0m77-6h0m-74-3h0m33 40h0m-82-73h0m38 64h0m-38-63h0m8 31h0m41 39h0m67 5h0m-89-32h0m-1 47h0m121-4h0m-52 40h0m-27-82h0m-18-20h0m13 48h0m-38-60h0m-19-5h0m94 133h0m-126-149h0m22 72h0m47 7h0m45 16h0m34-37h0m-64 61h0m-20-8h0m3-85h0m-49-8h0m83 20h0m-59 56h0m70 15h0m25 16h0m1-72h0m27 2h0m-100-27h0m83 49h0m-48-22h0m39-10h0m-47 11h0m49 4h0m-100-44h0m53 12h0m27 64h0m-43 25h0m-58-53h0m9 22h0m87 70h0m53-36h0m-101-26h0m59-53h0m19 37h0m8 41h0m-100-66h0m67 90h0m-25-3h0m17-86h0m-58 10h0m-36 0h0m34-41h0m119 42h0m-156 12h0m128 73h0m-33-89h0m57-10h0m-36 73h0m-88-53h0m54 30h0m27 35h0m0 0h0m-86-31h0m69 46h0m-94-84h0m147 68h0m-91-59h0m-48 14h0m63-20h0m-44 26h0m17-17h0m-17 20h0m95-22h0m-10 6h0m-58 32h0m-37-47h0m31-66h0m-49 20h0m32-20h0m85 140h0m-65-93h0m106 39h0m-138-51h0m-37-15h0m140 122h0m-10-68h0m-25-41h0m-47 81h0m101-15h0m-67-73h0m68 111h0m-117-49h0m41-54h0m27 98h0m7-5h0m21-12h0m32-7h0m-149-93h0m66 86h0m1-74h0m92 61h0m-32-27h0m-61-9h0m7 82h0m38-64h0m10-16h0m-76 14h0m-57-48h0m86 105h0m1-1h0m-10-59h0m-25 1h0m-47-42h0m136 122h0m-56-107h0m-28 21h0m-3-52h0m-43 31h0m60 80h0m-22-89h0m-10 24h0m-31 13h0m161 34h0m-38-72h0m-39-11h0m25 35h0m-55 27h0m-1 17h0m54-54h0m-16 37h0m-26-25h0m80 64h0m-138-122h0m57 36h0m-54 2h0m23 41h0m66-8h0m-105-36h0m34 20h0m60 76h0m60-77h0m-152-32h0m107 82h0m33 18h0m-104-87h0m15-4h0m-24-7h0m-21-8h0m159 84h0m-150-81h0m107 136h0m-49-118h0m-66-10h0m158 43h0m-38 56h0m-37-38h0m7 13h0m55-52h0m-146-21h0m13 31h0m37 68h0m90-40h0m-10-19h0m-112-36h0m117 63h0m-14 24h0m-126-94h0m103-8h0m15 18h0m-66 31h0m46-20h0m34 98h0m-32-96h0m-10 78h0m71-36h0m-156-18h0m61-53h0m-17 0h0m-36 39h0m91-4h0m5 10h0m-10 14h0m-61-61h0m-33 13h0m146 63h0m-61-57h0m-22 91h0m70 4h0m-117-29h0m94-27h0m-45 30h0m21-58h0m-6 79h0m30 20h0m5-58h0m-75-21h0m41 64h0m-73-45h0m73-68h0m63 34h0m6 63h0m-45-94h0m-23 106h0m55-71h0m-88-45h0m41 88h0m-50-27h0m69 5h0m31-17h0m-55-30h0m-61-14h0m135 85h0m-115-78h0m7 72h0m56 39h0m-57-86h0m77 62h0m-107-1h0m20-5h0m-32-100h0m52 107h0m-33-98h0m21 79h0m-46-89h0m27 97h0m22 22h0m28-69h0m6-12h0m11 78h0m31-15h0m-10-52h0m-52-43h0m6 34h0m-47-9h0m81 70h0m-10 1h0m-22-88h0m-12-9h0m31 141h0m-93-131h0m125 75h0m27 26h0m-55-21h0m-67-68h0m34 102h0m-70-108h0m168 74h0m-31 44h0m-82-25h0m56 31h0m-86-104h0m57 6h0m49 10h0m-143-54h0m131 97h0m-65 3h0m67-68h0m-12 78h0m-5-6h0m-39-49h0m-64-35h0m131 78h0m-106-83h0m-35-20h0m38 78h0m65 51h0m-8-84h0m59-5h0m9 11h0m-16-5h0m11 42h0m-15 39h0m-98-121h0m94 62h0m-26 11h0m-29-5h0m68-4h0m-88 12h0m-69-54h0m153 20h0m-70-33h0m-42 56h0m41-35h0m-30 32h0m-37-33h0m124 113h0m-77-45h0m-38-71h0m107 25h0m-17-25h0m11 105h0m-75-124h0m103 119h0m-31 16h0m-75-55h0m112 1h0m-96-26h0m65-19h0m-93-36h0m-6-5h0m2 78h0m6 2h0m78 52h0m-61-25h0m68 30h0m-105-131h0m25 6h0m-31-9h0m121 39h0m-33-17h0m62 96h0m-67 1h0m-35-47h0m48 61h0m-28-78h0m18 44h0m-98-81h0m108 97h0m21 6h0m-33-103h0m-20 96h0m94-54h0m-144-32h0m109 113h0m-2-15h0m-68-52h0m111-30h0m-74 0h0m-23 47h0m6-96h0m66 131h0m-31-107h0m36 21h0m-112-47h0m15 84h0m-53-71h0m10-9h0m122 57h0m-52 8h0m17 4h0m75 15h0m-125-22h0m105-28h0m-95 57h0m4 5h0m-20-31h0m65 30h0m41 45h0m-24-46h0m42 13h0m-114-38h0m38-60h0m66 87h0m13-35h0m-139-48h0m64 68h0m11 60h0m-80-103h0m3 14h0m88 98h0m-32-101h0m-27-23h0m117 43h0m-108 27h0m96-60h0m-19 72h0m-19 21h0m-22-102h0m-35 23h0m90 23h0m-102-65h0m69 78h0m0-34h0m-62 46h0m35-21h0m77-5h0m-29-35h0m-14 23h0m32 42h0m-85-56h0m-35 45h0m-27-42h0m47-31h0m64 78h0m-46-15h0m-44 20h0m89-52h0m-30 3h0m3 45h0m75-6h0m-31-25h0m11-12h0m-50-10h0m-77 3h0m75 84h0m30-87h0m-106-18h0m83 101h0m-15-43h0m-59-84h0m124 51h0m-106 52h0m-14-78h0m72 81h0m-5-25h0m-15 45h0m62-55h0m6 34h0m-54 31h0m-62-45h0m26-87h0m27 127h0m-53-38h0m78-1h0m-5-21h0m-98-19h0m27 9h0m90 49h0m33-31h0m-77 22h0m-34-79h0m74 44h0m-12-29h0m-59 63h0m6-74h0m-54-2h0m62 4h0m15 2h0m53 71h0m-74-78h0m14 42h0m59 7h0m-23 72h0m-65-88h0m58 64h0m-19-67h0m45-6h0m-71-35h0m-17 33h0m97 84h0m-70-28h0m43-73h0m-48 81h0m62-3h0m15-37h0m-35 57h0m-84-107h0m105 71h0m-97-83h0m75 64h0m29 7h0m9 44h0m-50-16h0m-51-62h0m53 96h0m-76-54h0m73-59h0m35 91h0m-47-37h0m8 9h0m19-61h0m-59 71h0m73-20h0m-126-88h0m47 35h0m-16-27h0m13 11h0m75 83h0m-103-47h0m102 30h0m-67-54h0m50-14h0m5 109h0m34-46h0m-34 35h0m-5-20h0m-20-30h0m-22-44h0m14 8h0m30 124h0m-99-132h0m113 15h0m52 27h0m-123 19h0m104-51h0m-49 24h0m-8 10h0m-83-49h0m8 33h0m6-27h0m29 30h0m-26-46h0m-14-6h0m46 63h0m48 30h0m-87-83h0m-23 19h0m98 12h0m2 65h0m-16-48h0m-3-21h0m39 43h0m-7 5h0m-10-43h0m-27-5h0m-42-3h0m118 20h0m-78 47h0m46-72h0m-19 114h0m71-82h0m-126 50h0m55 25h0m63-57h0m-121 26h0m87-62h0m-24 7h0m25 91h0m-48-11h0m-53-70h0m77 51h0m57 9h0m-13-48h0m-97-50h0m115 43h0m-43 33h0m-10-69h0m23 30h0m-44 3h0m-17-6h0m-20-10h0m3 50h0m-32-33h0m85 5h0m30 30h0m19-19h0m-29-33h0m30 65h0m-127-69h0m13 57h0m19 14h0m44-43h0m31 58h0m-42-49h0m-8-66h0m-58 56h0m58 51h0m84-46h0m-143-57h0m45 89h0m-10-31h0m1 0h0m99 6h0m-46-13h0m-11-10h0m-39-34h0m51 113h0m-35-100h0m-18-2h0m39 117h0m-24-24h0m5 4h0m-15-115h0m-38 42h0m119 7h0m-69 61h0m-29-121h0m1 109h0m-40-113h0m129 68h0m-75-3h0m-20-3h0m84 27h0m-85 7h0m22-53h0m-6-7h0m-18 2h0m13-8h0m40 79h0m42-33h0m-115-60h0m-2 69h0m61-75h0m-47 47h0m133 36h0m-53 46h0m-96-64h0m52-71h0m-13 33h0m-26-7h0m35 95h0m28-53h0m-88-6h0m87-53h0m42 52h0m-6-42h0m12 58h0m-26-37h0m-39-14h0m-4 74h0m-3 12h0m32-72h0m-36 52h0m-24-32h0m-26-5h0m57-44h0m93 48h0m-169-28h0m15 38h0m-19-36h0m22 22h0m91 48h0m14 1h0m-69-15h0m20-13h0m13 47h0m7-64h0m-20 53h0m-8-98h0m48 15h0m53 45h0m-87 6h0m-43-13h0m-15-42h0m0-8h0m94 95h0m-27-40h0m39-4h0m-27-14h0m-17 7h0m66 77h0m-19-95h0m38 65h0m-78-97h0m48 101h0m-42 7h0m37-13h0m-52 9h0m30-17h0m-22-86h0m-48 17h0m30 65h0m-32-36h0m77-28h0m-57 59h0m29 29h0m-67-77h0m15 62h0m-16-108h0m55 46h0m8-7h0m-1 92h0m7-45h0m-27 2h0m18-82h0m11 27h0m-29 92h0m9-106h0m67 81h0m-114-31h0m106 27h0m-45 33h0m-74-97h0m81 48h0m-101-53h0m111-13h0m65 107h0m-82-33h0m58-30h0m-59 26h0m14 14h0m-99-96h0m106 138h0m16-48h0m18 8h0m-145-93h0m20 35h0m12-37h0m75 127h0m-114-118h0m168 56h0m-123-61h0" stroke="#E39A30" stroke-width="5.2" stroke-linecap="round" fill="none"/><path d="M580.1 150.1L596.1 152.8L613.5 160.6L627.1 168.9L637.1 181.4L633.4 192.4L618.4 195.5L600.7 196.1L590.2 189.9L583 177.7L578.7 163.2Z" fill="#55DFDB" fill-opacity="0.72"/><path transform="scale(.5)" d="M1189 338h0m-10 15h0m88 4h0m1-4h0m-53-13h0m55 28h0m-43-5h0m41 22h0m-67-14h0m1-6h0m31 12h0m-47-69h0m12 86h0m60-59h0m-33 23h0m-39-32h0m81 27h0m-47 16h0m7-25h0m9 45h0m2-47h0m14 2h0m-24 21h0m-30 10h0m9-61h0m8 36h0m-47-29h0m76 69h0m-18-8h0m-44-80h0m43 42h0m28 45h0m-11-58h0m-84 9h0m3 14h0m4-12h0m73-19h0m-41-11h0m-20 56h0m40 1h0m-14-13h0m-3-37h0m-38 33h0m9-31h0m33 17h0m62 13h0m-23 0h0m-22-1h0m-11-7h0m23 22h0m-14 26h0m20-49h0m-76-34h0m31 86h0m20-10h0m28-12h0m-32-42h0m-36 4h0m83 31h0m3-27h0m-26 6h0m-19 20h0m5 5h0m-52-12h0m10 26h0m35-11h0m4-54h0m-5 71h0m-24-83h0m-25 26h0m6 38h0m4-31h0m96 28h0m-53-56h0m-46 7h0m32 68h0m23-58h0m-28 35h0m4-39h0m27 42h0m17 14h0m-71-64h0m94 59h0m-67-42h0m56 3h0m-94 25h0m100 29h0m-96-66h0m8 8h0m30-21h0m-41 34h0m36-18h0m-39 9h0m41-4h0m-7 45h0m16-15h0m33 30h0m-69-20h0m41 24h0m-39-31h0m52 5h0m25-7h0m-70 0h0m17 0h0m68-1h0m-68-26h0m75 27h0m-121-48h0m63-1h0m-38 9h0m64 26h0m14-4h0m-75-14h0m-18 29h0m61-23h0m-43 29h0m83 9h0m-61-48h0m-45 20h0m102 29h0m-50-60h0m65 45h0m-69 19h0m20 16h0m-43-51h0m13 21h0m41-41h0m-1 56h0m-35-53h0m-5 9h0m-35 23h0m16-53h0m20 66h0m-27 1h0m3-30h0m77 16h0m-48-16h0m1-4h0m38 30h0m30 7h0m-113-34h0m28 37h0m18 2h0m-35-82h0m29 19h0m52 49h0m-99-38h0m67-6h0m2 36h0m-32-40h0m1 38h0m72 30h0m-95-25h0m80-32h0m-42 47h0m10-48h0m-13-9h0m28 74h0m10-64h0m-67-12h0m10 60h0m45-56h0m-58-15h0m77 50h0m-62-58h0m-17 60h0m102 8h0m-66-15h0m-34-17h0m58 40h0m18 6h0m-17-15h0m0-39h0m12 17h0m-58 21h0m30 2h0m-52-24h0m-7-16h0m66 38h0m-3-41h0m-3 15h0m-59-3h0m19 35h0m74 3h0m9 6h0m-43-18h0m-53-66h0m38 28h0m-9 49h0m41-11h0m11-31h0m-36 49h0m-39-76h0m105 55h0m-15 6h0m-63-56h0m2 5h0m16 26h0m-2-8h0m-40 40h0m97-1h0m-35-11h0m-25 25h0m34 5h0m-2-40h0m-62-1h0m-8-19h0m21 43h0m-27-45h0m39 25h0m50 18h0m-51 6h0m32-45h0m-63 23h0m98 27h0m-49-66h0m6 13h0m-8 56h0m-19-40h0m8 33h0m66-10h0m-69-6h0m-15-32h0m0 5h0m56 33h0m21 11h0m-77-11h0m48 17h0m-2-24h0m-7 16h0m-39-6h0m29-24h0m-11-19h0m-50 13h0m15 29h0m88-32h0m-73 18h0m-6-30h0m92 46h0m-18-37h0m5 13h0m-53-7h0m-18 9h0m17-10h0m39 48h0m20-41h0m-67-27h0m-30-18h0m16 54h0m54 7h0m32 10h0m-89 1h0m30 16h0m-42-74h0m75 32h0m-66-16h0m42-11h0m-42-16h0m-3 27h0m71 56h0m-60-38h0m26-1h0m20 27h0m-8-40h0m46 41h0m-66-64h0m-7 35h0m-9-35h0m55 25h0m27 30h0m-6 13h0m-64-24h0m58 5h0m-78 16h0m65-12h0m-64-58h0m67 68h0m-18-39h0m19 41h0m-5-33h0m-45 24h0m-11-46h0m-9 24h0m42 5h0m38 1h0m-72-51h0m21 5h0m47 27h0m-44 61h0m-21-6h0m81-24h0m-97-65h0m10 22h0m-9-17h0m2 20h0m53 17h0m-33-29h0m26 61h0m-18-1h0m26 10h0m25-26h0m-41 5h0m-38-26h0m55 3h0m8 16h0m-32 23h0m0 2h0m-12-36h0m10-18h0m16 52h0m-19 13h0m11-30h0m55 21h0m-70 11h0m54-29h0m-91-61h0m90 33h0m-70 33h0m54-1h0m35 15h0m-37-40h0m-22 23h0m-12 21h0m-16-35h0m26-19h0m-15 46h0m71-16h0m-85 22h0m71-37h0m-97-41h0m52 59h0m15 6h0m-1-43h0m0 16h0m3 35h0m30 6h0m-88-57h0m32-23h0m56 80h0m-4-9h0m-32 13h0m-22-88h0m-17 54h0m67 1h0m-56-45h0m-17 21h0m-9 20h0m40 6h0m45-13h0m-41-18h0m16-2h0m-33 18h0m7 23h0m-13-68h0m58 37h0m-4-6h0m-61-10h0m73 14h0m-58-13h0" stroke="#55DFDB" stroke-width="5.2" stroke-linecap="round" fill="none"/><path d="M573.1 109.7L580.7 108.9L585.5 116.9L594 126.8L604 135L612.2 144.2L612.6 156.6L599.2 158.1L585.4 156L579.2 148.4L577 135L574.5 121.3Z" fill="#65C2FF" fill-opacity="0.72"/><path transform="scale(.5)" d="M1192 296h0m-21-32h0m0 1h0m10 22h0m31 28h0m-2-44h0m-27-12h0m-27-43h0m12 70h0m9-42h0m-10 67h0m11-61h0m-7 19h0m16 43h0m27-15h0m-4 2h0m-11 1h0m-44-23h0m7-15h0m32 19h0m4 11h0m-39-2h0m50 19h0m-39 1h0m7-3h0m-16-3h0m50-24h0m8 27h0m-51-67h0m-2 13h0m31 58h0m-29-59h0m27 41h0m-15-4h0m8 11h0m-18-28h0m11 43h0m-25-26h0m6 5h0m-13-37h0m28 49h0m19-16h0m-27-6h0m12 30h0m0-21h0m-5 12h0m-17-79h0m8 39h0m-4 13h0m12-37h0m-28-14h0m34 36h0m0 18h0m-21-40h0m27 29h0m-13-25h0m45 53h0m-43-28h0m17 47h0m-45-82h0m36 35h0m-36-42h0m8 9h0m4 32h0m50 48h0m-54-98h0m28 42h0m39 31h0m-12 4h0m-32 6h0m40 13h0m-44-22h0m-2-25h0m-8 12h0m43 6h0m-10 14h0m-41-68h0m6 59h0m-13-43h0m33 43h0m-31-37h0m45 32h0m-27-19h0m-17-27h0m55 41h0m-31 14h0m32 16h0m-10-39h0m-14 28h0m-23 0h0m0-46h0m13 54h0m2-2h0m35-5h0m-29-11h0m-20-67h0m41 52h0m-29-16h0m-7 36h0m-12-36h0m22 56h0m-17-87h0m52 90h0m-29-41h0m-18 16h0m28 25h0m-20-41h0m36 22h0m-43-42h0m20 7h0m7 3h0m-30-11h0m4-17h0m53 52h0m-44 0h0m48 15h0m-66-86h0m24 47h0m-18-1h0m47 13h0m-1 12h0m-53-37h0m60 32h0m-52-55h0m54 51h0m-49-14h0m0 5h0m2 35h0m9-14h0m15-21h0m-32-25h0m40 16h0m-47-12h0m48 44h0m-12 3h0m-26-33h0m6-29h0m37 53h0m-19-4h0m-18-3h0m-29-58h0m56 84h0m12-15h0m-7-5h0m-27 18h0m24-30h0m-15-4h0m-30-47h0m46 69h0m-23 7h0m-14-61h0m32 44h0m6 31h0m-14-17h0m-12-16h0m-28-61h0m34 46h0m36 14h0m-17 25h0m-44-5h0m16-46h0m-4 59h0m1-74h0m33 41h0m-24-37h0m37 55h0m-59-37h0m-3-42h0m38 90h0m2-43h0m0 42h0m-33-39h0m35-8h0m-48 4h0m13 0h0m-11-6h0m5-20h0m37 17h0m10 31h0m-29-26h0m-25-29h0m13 43h0m0 17h0m-18-59h0m71 55h0m-39-23h0m-15-17h0m1-27h0m18 23h0m-18 42h0m1-38h0m32 49h0m-47-62h0m39 17h0m-36-6h0m41 40h0m-37-17h0m6 30h0m-11-41h0m10 12h0m20 0h0m-26-42h0m11 49h0m-1-53h0m-16 0h0m14 24h0m38 21h0m1 41h0m-45-78h0m32 82h0m-11-23h0" stroke="#65C2FF" stroke-width="5.2" stroke-linecap="round" fill="none"/><path d="M674.2 297.3L691.3 294.1L709.4 295.4L723.1 299.6L733.6 305.8L735.5 317.8L731.8 328.9L718.5 333L700.5 333.6L686.8 332.3L674.3 329L672.5 315Z" fill="#97A823" fill-opacity="0.72"/><path transform="scale(.5)" d="M1369 625h0m-22 1h0m16 24h0m19 14h0m7 0h0m57 0h0m-102-29h0m83 3h0m21-17h0m5-18h0m4 12h0m-39 35h0m11-48h0m-28 62h0m13-7h0m-3 5h0m-10-64h0m-46 7h0m28 10h0m41-11h0m35 4h0m-34 1h0m-64 54h0m85-9h0m-76-7h0m6-43h0m93 48h0m-66 18h0m29-35h0m-87 25h0m38-7h0m0-15h0m56-25h0m-66 20h0m19 21h0m45-21h0m-9 30h0m-30 0h0m6-20h0m-10-45h0m24-4h0m-54 62h0m80 10h0m-91-32h0m60 7h0m49 5h0m-39-26h0m-48 43h0m-28-24h0m-4-20h0m20 11h0m106 17h0m-47 17h0m-9-66h0m-66 38h0m71-33h0m-34 59h0m-42-46h0m60 7h0m59 4h0m-63 14h0m-55-3h0m53-21h0m-33 24h0m7-23h0m43 31h0m-52-45h0m94 52h0m7-42h0m-49 3h0m-37 39h0m53-55h0m-74 26h0m116 3h0m-14 31h0m-45-10h0m-19 19h0m-31-34h0m74-18h0m-91 1h0m74 10h0m-62 20h0m6-26h0m86 24h0m-12 8h0m17-5h0m-94 6h0m59 7h0m-71-34h0m94 20h0m-53-19h0m63-26h0m-23 31h0m24 18h0m-19-8h0m3-46h0m30 46h0m-62 17h0m-13 1h0m62-26h0m-11 6h0m-21-33h0m27 20h0m-73-41h0m76 22h0m8-3h0m-38 0h0m-9 2h0m-67-6h0m79 59h0m-64-62h0m90 53h0m15-15h0m-70-36h0m47-5h0m-12 54h0m-63-2h0m3-49h0m95 16h0m-56 4h0m-29 8h0m52-9h0m18 9h0m-39-5h0m50 33h0m-81-16h0m76-10h0m-70 29h0m-4-69h0m-7 56h0m82-27h0m-63 21h0m-2 6h0m-32-36h0m36-16h0m55 28h0m-86 28h0m21-59h0m71 44h0m-55-14h0m-55 13h0m20-9h0m86-17h0m-4 18h0m6 9h0m-41-15h0m6 21h0m-26-47h0m-17 44h0m45-7h0m-13 23h0m-10-44h0m49 42h0m-70-28h0m0 9h0m37-10h0m11 40h0m-7-51h0m-39 27h0m-4-40h0m-6-12h0m-10 46h0m89-10h0m-63-30h0m63 8h0m-20-6h0m-81 17h0m34 15h0m12 43h0m-51-27h0m82-14h0m-15-36h0m24 10h0m0 22h0m-49-2h0m62 16h0m-21 15h0m0-59h0m-48 34h0m7-2h0m34 39h0m-9-44h0m11 6h0m-54-41h0m16 74h0m-40-59h0m6 2h0m102 53h0m-10 6h0m-32-66h0m59 50h0m-48-29h0m44 37h0m-8-36h0m-18 49h0m-48-45h0m10 0h0m29-34h0m-36 27h0m30 38h0m49-37h0m-63 33h0m-47 10h0m29-1h0m30-19h0m-14-31h0m29 2h0m-1 26h0m-1 19h0m33-28h0m-41 20h0m4-9h0m-17-8h0m58-7h0m-57-31h0m-26 31h0m46-9h0m-10 0h0m-73 23h0m48-13h0m-23-1h0m-27-5h0m85 35h0m17-36h0m-64 5h0m45 40h0m-1-25h0m-78 21h0m42-61h0m-27 32h0m97-24h0m-9 35h0m-33-3h0m43-1h0m-37-25h0m-42 26h0m-36-26h0m48 56h0m-30-28h0m35-34h0m-2 16h0m-28 40h0m92-25h0m-25 13h0m-28-64h0m-35 43h0m25-17h0m-59 6h0m9 37h0m41-14h0m-25 26h0m10-3h0m-13-56h0m29 36h0m4 9h0m31-20h0m-44-26h0m71 47h0m-40 4h0m-46-20h0m76-34h0m-42-5h0m-37 43h0m-19-30h0m56-14h0m25 51h0m6 6h0m-87-48h0m42-8h0m47 41h0m-31 16h0m-26-50h0m-26 10h0m92 43h0m-88-45h0m70 1h0m25-12h0m9 26h0m-101-36h0m93 7h0m-113 42h0m77-47h0m-41 59h0m-29-32h0m68 8h0m28-22h0m-41 50h0m-50-62h0m-7 42h0m78-3h0m20-33h0m-67 32h0m76 28h0m-80-70h0m91 50h0m-8-21h0m-91-12h0m98 18h0m-26-11h0m-14 25h0m-47-52h0m90 42h0m-41-13h0m-35 49h0m39-20h0m-9-36h0m-5-13h0m-59 4h0m46-4h0m-23-3h0m9-1h0m-8-7h0m9 39h0m11-26h0m21 1h0m-12 31h0m-62-21h0m-5 27h0m47-34h0m61 52h0m-98-26h0m106 17h0m-85-6h0m-3-7h0m-15-19h0m-3 40h0m35 5h0m57-2h0m-3-25h0m-23-37h0m-34 12h0m7-17h0m-22 55h0m26-36h0m53 28h0m-69-45h0m57 32h0m-53-37h0m55 20h0m8 40h0m26-18h0m-62 16h0m49-9h0m-22-14h0m-36 19h0m46-6h0m-62-31h0m-24 56h0m0-53h0m77 15h0m-56-20h0m73 5h0m-12 55h0m-16-40h0m9-12h0m-34 45h0m37-49h0m-17 62h0m36-46h0m-19 19h0m7-24h0m10 41h0m-40 6h0m-29 4h0m-4-41h0m20 27h0m-12-16h0m40 9h0m-52 5h0m26-56h0m15 70h0m-25 1h0m-45-76h0m1 25h0m63 42h0m-8 11h0m-47-77h0m82 72h0m25-53h0m7 20h0m-110-19h0m75 27h0m-48-33h0m-40 36h0m61-23h0m-4 38h0m-28-28h0m-16-2h0m35-39h0m-11-5h0m-27 79h0m86-5h0m-84-14h0m51-54h0m-5 70h0m8-64h0m-9-2h0m-20 11h0m29 54h0m-53-17h0m-6-46h0m87 37h0m-5-40h0" stroke="#97A823" stroke-width="5.2" stroke-linecap="round" fill="none"/><path d="M491.8 351.8L505.7 350.4L518.9 356.2L527.8 363.1L537.5 368.3L532.6 375.5L528 383.5L517.3 389.6L505.7 391.6L494.9 386.3L489.5 374.6L488.4 362.8Z" fill="#53DA73" fill-opacity="0.72"/><path transform="scale(.5)" d="M1054 720h0m-30 41h0m14-11h0m18-1h0m5-16h0m-79 31h0m35-41h0m17 41h0m16-43h0m-26 33h0m-24 20h0m23-24h0m-16 16h0m-7-58h0m29 15h0m3 10h0m5 38h0m-17 8h0m-33-77h0m18 38h0m35-9h0m-40-9h0m-12-23h0m78 37h0m-15-19h0m4 22h0m7 9h0m-62-35h0m-3 22h0m-12 22h0m-7-23h0m22 3h0m19 8h0m2-3h0m20-26h0m-41 62h0m34-71h0m-5 70h0m-18-18h0m48-7h0m-23 30h0m-38-6h0m20-56h0m35 6h0m-36 21h0m-40-35h0m75 47h0m-32-32h0m-1-18h0m-3 30h0m-3 22h0m-17-58h0m-13 61h0m8-12h0m53 23h0m-45-24h0m42-19h0m-13-26h0m44 36h0m-54-25h0m3 19h0m22-19h0m9 11h0m-71-19h0m81 26h0m-1 21h0m-80-38h0m55 27h0m-61 2h0m32-31h0m-20-17h0m37 13h0m-21 70h0m6-85h0m10 27h0m23 11h0m-48-28h0m14-2h0m39 33h0m5 2h0m-63 18h0m35-41h0m-14 17h0m32 44h0m4-5h0m-29-64h0m34 63h0m-52-8h0m-17-16h0m5-22h0m76 38h0m-43-39h0m16 34h0m-1 20h0m-16-7h0m34-6h0m-24-30h0m16 42h0m-44-1h0m47-31h0m-45 20h0m41-24h0m19-4h0m-60 27h0m41-28h0m-55-3h0m45 41h0m-33-56h0m24 14h0m3 2h0m-3-19h0m-21 50h0m-4-59h0m25 20h0m-17-28h0m-5 36h0m-19-22h0m41 26h0m-31-8h0m54 44h0m-41-18h0m-2-21h0m21 0h0m-13-19h0m4 57h0m10-34h0m-46-27h0m82 43h0m0-14h0m-71 12h0m63-29h0m-37 18h0m12-7h0m-25 43h0m64-48h0m-49 24h0m45-16h0m-76-7h0m32-28h0m-14 29h0m54 13h0m-40-11h0m-14-27h0m25-2h0m-32 25h0m8 30h0m55-17h0m-87 6h0m74-18h0m-26 49h0m30-14h0m17-24h0m0 7h0m-29 7h0m10-24h0m-11 12h0m-25 8h0m-38-20h0m13-16h0m57 2h0m-23 44h0m20-37h0m6 29h0m-9 7h0m-52-60h0m23-2h0m-28 49h0m23 24h0m36-48h0m-69 2h0m36 30h0m2-5h0m42 13h0m-71-2h0m27-1h0m42 9h0m-79-32h0m58 45h0m-17-31h0m27-40h0m-44-13h0m10 24h0m41 2h0m-48 18h0m53 17h0m-51-32h0m-28-5h0m35 10h0m1-31h0m4 68h0m43-26h0m-64-45h0m34 69h0m-45-42h0m73 2h0m-31-11h0m-37 47h0m-7-56h0m11 44h0m31-41h0m1 57h0m-43-38h0m76 3h0m-73 23h0m16-45h0m25 11h0m-30 2h0m-15-8h0m23 50h0m47-25h0m-19-11h0m3-14h0m-38-14h0m56 44h0m-56-13h0m12 34h0m-13-62h0m-18 48h0m34-3h0m54-19h0m-51 50h0m9-3h0m51-40h0m-49 13h0m7 11h0m-27-15h0m47 1h0m-45-32h0m0 59h0m30-38h0m-36 37h0m43-9h0m-10-38h0m-41-7h0m17 61h0m48-34h0m-37-17h0m30 34h0m-27-3h0m22-36h0m-13 13h0m-2-11h0m-36-13h0m-10 9h0m31-16h0m-35-7h0m35 6h0m47 56h0m-47 16h0m-18-13h0m12-68h0m17 77h0m-17-40h0m-15 26h0m58-25h0m-26-6h0m35 8h0m-65 27h0m19-14h0m10 19h0m-23 1h0m-4 4h0m26-8h0m10-30h0m-54 23h0m57-24h0m1 6h0m13-13h0m-58-17h0m11 37h0m39 16h0m-32-42h0m19 58h0m-30-21h0m31-35h0m-49 41h0" stroke="#53DA73" stroke-width="5.2" stroke-linecap="round" fill="none"/><path transform="scale(.5)" d="M940 801h0m34-12h0m-33-7h0m1 11h0m13 8h0m23-24h0m-3 3h0m-29 5h0m-5-12h0" stroke="#53DA73" stroke-width="5.2" stroke-linecap="round" fill="none"/><path transform="scale(.5)" d="M394 834h0m14 15h0m-6-11h0m2-6h0m2 18h0m2-17h0m-26 16h0m22-6h0m-8 15h0m9-8h0m-1-15h0m-18 5h0m7-13h0m7 11h0m3 15h0m-6-25h0m-4 16h0m4 1h0m1-16h0m-14 13h0m6 6h0m-1-5h0m11-26h0m4-5h0m-15 39h0m0-3h0m-4-11h0m5-2h0m-4 6h0m12-21h0m-6 29h0m11-9h0m-10 3h0m3 14h0m1-7h0m-12 5h0m15-43h0m0 14h0m1 7h0" stroke="#EF7E46" stroke-width="5.2" stroke-linecap="round" fill="none"/><path d="M200.9 424.9L205.7 426.9L216.2 434L229.2 444.9L244 456.2L256.3 466.3L267 477.4L279 483L287 486.9L283.1 496.4L281.2 509.8L270.5 517.4L253.1 525.7L236 533.2L219 539L201.9 541.1L190.4 539.3L177 528.8L164.6 513.6L153.9 496.4L153 478.2L155.9 465.8L168.5 448.7L185.6 430.5L195.2 428.8Z" fill="#F27A60"/><path d="M242.6 491.3L243.8 498.6L242.3 506.3L238.4 513.9L232.1 520.9L224 526.9L214.6 531.3L204.5 534L194.5 534.6L185.2 533.3L177.2 530L171.2 525L167.4 518.7L166.2 511.4L167.7 503.7L171.6 496.1L177.9 489.1L186 483.1L195.4 478.7L205.5 476L215.5 475.4L224.8 476.7L232.8 480L238.8 485Z" fill="#F4736A" fill-opacity="0.6"/><path transform="scale(.5)" d="M494 1018h0m-124-143h0m64-10h0m-8 39h0m-18-6h0m3 80h0m17-17h0m-12-7h0m22-17h0m-17 58h0m44 26h0m-87 1h0m-17 6h0m80-7h0m-19-9h0m72-27h0m-24 87h0m-22-160h0m-21 92h0m21-65h0m59 105h0m-49-68h0m-94-73h0m122 146h0m-129-107h0m32-72h0m136 166h0m-155 24h0m4-204h0m152 172h0m13-64h0m-183 56h0m125-25h0m-101 49h0m151-17h0m-195-114h0m174 95h0m-31-77h0m-44 133h0m-98-75h0m18-6h0m55-90h0m-86 99h0m69 12h0m-91-42h0m10-5h0m265 24h0m-130-2h0m106 9h0m-148-133h0m-24 185h0m-6-163h0m61 143h0m41-6h0m-38 19h0m-128-55h0m135 49h0m-23-54h0m-103 26h0m146 72h0m-64-32h0m-58-100h0m19 73h0m7-10h0m147 37h0m-89-39h0m-80-12h0m97 9h0m-117-54h0m132 103h0m-25 22h0m-130-92h0m141-31h0m-75-11h0m28 28h0m72 110h0m-52-209h0m-102 109h0m221 30h0m-35-53h0m49 83h0m-154-7h0m-5-152h0m54 36h0m27 97h0m-8-75h0m30 119h0m-114-103h0m19-87h0m66 209h0m-43-208h0m-121 126h0m55 4h0m80-81h0m-86-29h0m107 4h0m-22 166h0m73-80h0m24 46h0m-77-69h0m-16 113h0m-50-115h0m114 85h0m-4-32h0m13 42h0m-78-172h0m-105 92h0m124 43h0m-100 31h0m112-54h0m-128-49h0m139 73h0m-150-16h0m94-128h0m53 98h0m-159 11h0m113 54h0m93-81h0m22 74h0m-149-42h0m-34-87h0m6 141h0m-39-79h0m99 83h0m117-51h0m-25-40h0m15 54h0m0 46h0m-154-28h0m-54-25h0m14-22h0m40-38h0m-14 79h0m18-116h0m9-34h0m-3 80h0m-66 52h0m123-18h0m-20-5h0m30 31h0m-29-5h0m-78 40h0m211-47h0m-154-65h0m-98 29h0m64-32h0m46 126h0m-84-9h0m119-29h0m45 33h0m-112-117h0m136 102h0m-68-75h0m17 119h0m-2-105h0m-103-15h0m160 23h0m-126 104h0m142-38h0m-82-57h0m-75-77h0m56 60h0m-93-54h0m-41 43h0m90-64h0m-23 150h0m107-114h0m36 125h0m-171-79h0m21 32h0m9-13h0m9 47h0m157-73h0m-197-63h0m48 119h0m25-92h0m-23-51h0m63 180h0m-129-24h0m57-134h0m77 112h0m47-9h0m59-20h0m-193-39h0m-40-41h0m174 98h0m-20-89h0m-117 13h0m-21-36h0m7 36h0m-36 93h0m-3-38h0m140-74h0m-99 124h0m65-48h0m44-28h0m-70-68h0m-10 35h0m22 152h0m-76-113h0m193 87h0m-191-44h0m5 8h0m75-139h0m-43 38h0m8 78h0m40 98h0m55-62h0m-139-134h0m140 56h0m-42 5h0m14 70h0m-24 55h0m59-89h0m-28-30h0m-19 7h0m43-26h0m-36 21h0m-55 98h0m-73-33h0m43-6h0m110-65h0m-154-30h0m93 79h0m99 47h0m42-24h0m-133-69h0m-46 70h0m28-80h0m-52-27h0m160 44h0m-98 126h0m22-51h0m30-61h0m-30-49h0m84 118h0m-102-112h0m17 14h0m-59 113h0m-15-77h0m104 41h0m25-20h0m-51 0h0m68 22h0m-31 34h0m-111-151h0m11 64h0m92 68h0m-1-33h0m-9 59h0m-84-19h0m16-60h0m17 22h0m44-92h0m103 70h0m-127-50h0m93 88h0m-55-133h0m1 179h0m50-42h0m-204-85h0m85 47h0m78-49h0m69 82h0m0-54h0m-162 86h0m-9-7h0m50-172h0m23 11h0m-74 50h0m145 88h0m42-51h0m-17 31h0m-132 28h0m31 49h0m84-126h0m15 39h0m-16 32h0m-61 36h0m-152-115h0m152 44h0m-78 29h0m65 45h0m31-170h0m2 77h0m-46 51h0m36-90h0m-134 35h0m144 51h0m-126-11h0m-22 8h0m171 7h0m-25 9h0m-16 26h0m35-5h0m32-89h0m-103 75h0m-41-29h0m27-159h0m-48 87h0m33-63h0m-19 40h0m20-46h0m107 102h0m-23 29h0m58-34h0m-156 114h0m51-194h0m-25 65h0m-48 109h0m16-11h0m135-12h0m15 3h0m-135 35h0m107-148h0m-55-6h0m-12 147h0m-117-69h0m14-12h0m59-65h0m24 91h0m-89-2h0m86 28h0m75-72h0m-178 10h0m41-65h0m201 99h0m-196-25h0m49-35h0m110 65h0m-52 31h0m79-23h0m-110 28h0m-40-151h0m53-25h0m-32 168h0m119-66h0m-123-12h0m49-48h0m-50 110h0m-45-86h0m60 129h0m-32-177h0m53 103h0m-132-3h0m170-22h0m-112-51h0m96 111h0m-7-36h0m62 17h0m-162 9h0m35 44h0m-50-129h0m95-20h0m-44-58h0m77 146h0m31-14h0m-126-77h0m77 103h0m61 23h0m-46-111h0m10-11h0m2 57h0m-154 21h0m188 48h0m-71-98h0m35 105h0m-90-19h0m53-164h0m-28 168h0m-101-64h0m76 94h0m163-96h0m-60 88h0m-38-16h0m42-84h0m16 6h0m-109-110h0m17 77h0m-94 16h0m-15 52h0m132-92h0m14 155h0m97-33h0m-111-12h0m5-40h0m-126-19h0m55 63h0m111-111h0m-117 18h0m177 37h0m-157-77h0m45 177h0m35 1h0m56-74h0m-182-25h0m211 15h0m-110 98h0m-133-85h0m69-113h0m156 69h0m-150-46h0m-53 23h0m174 18h0m-44 5h0m15-13h0m7 60h0m-165-48h0m79 14h0m-43 27h0m13-33h0m22-7h0m73 36h0m-138-83h0m118 17h0m-10 5h0m-13-54h0m146 95h0m-158 104h0m5-20h0m12-142h0m36 118h0m-111-76h0m84 79h0m-36-101h0m64 140h0m106-75h0m-135-95h0m102 93h0m-181-93h0m201 87h0m-138 41h0m21-127h0m-74 77h0m187 45h0m-225-95h0m160 41h0m35-23h0m-194-24h0m69-68h0m30 200h0m-30-177h0m77 129h0m-46-29h0m4 85h0m-91-42h0m118 17h0m-119-49h0m-1-33h0m37 5h0m158 40h0m-58 25h0m-110-69h0m104 43h0m-33-98h0m19 151h0m-54-128h0m47 108h0m-23 38h0m-85-88h0m95-35h0m-77 40h0m23 19h0m78-122h0m-47-2h0m109 92h0m-192-66h0m170 119h0m-31-53h0m-118 53h0m135-80h0m-116-78h0m6 181h0m73-110h0m-11 3h0m-20-6h0m-23 115h0m-22-25h0m130-66h0m-14-48h0m-132 94h0m72-144h0m96 147h0m-147-91h0m-40 81h0m56-135h0m15 199h0m59-120h0m-97 8h0m22 118h0m30-80h0m22 73h0m-25-42h0m-78-5h0m-4-24h0m82 48h0m105-90h0m-150-91h0m102 109h0m-128-70h0m83 105h0m-13-89h0m43 82h0m-73-18h0m112 8h0m-37-36h0m-33 76h0m59 16h0m-127-52h0m55-121h0m-76 48h0m-31 61h0m116-64h0m-91 53h0m40-52h0m-21 36h0m-4 52h0m134 7h0m-77 16h0m126-52h0m-151 1h0m-23 28h0m100-70h0m-91-2h0m41 119h0m91-5h0m-19-61h0m7 27h0m-87-21h0m-71 38h0m29 2h0m-3-123h0m-31 51h0m150-56h0m-77-19h0m73 116h0m31-22h0m43-14h0m-224-23h0m54 122h0m42-58h0m131-29h0m-52-25h0m-96 59h0m26-57h0m66-29h0m-12 22h0m-96-10h0m-11 41h0m88 22h0m67-44h0m-202 53h0m137-118h0m-105 86h0m182 0h0m-35 3h0m-98 85h0m36-91h0m-126 43h0m175-23h0m-100 78h0m-18-211h0m41 56h0m-42-13h0m-63 35h0m55-36h0m-49 68h0m217 28h0m-198-9h0m93 21h0m-41-151h0m137 121h0m-85-93h0m-13 180h0m-63-151h0m23 114h0m-57 2h0m33-50h0m139 70h0m24-39h0m-101 7h0m55-73h0m63 87h0m-81 10h0m-111-157h0m16 185h0m32-151h0m-50 51h0m178-3h0m-136-83h0m5 97h0m2 19h0m11-79h0m-27 131h0m158-93h0m-133 40h0m-78-87h0m41 54h0m174 6h0m-54-5h0m-120 45h0m9-122h0m63 25h0m-78-18h0m131 163h0m-66 10h0m-24-26h0m-86-63h0m109 22h0m-112-38h0m79 5h0m57-1h0m-135-16h0m211 1h0m-129 76h0m-9-116h0m4 21h0m171 80h0m-140 48h0m-26-114h0m-31-79h0m-21 113h0m94 92h0m-86-74h0m-29-53h0m88 63h0m9-99h0m36 89h0m71 30h0m-76 37h0m12-166h0m-65-18h0m13 168h0m125-49h0m-168-147h0m169 133h0m-95-119h0m89 168h0m-33-96h0m-29 51h0m-73-149h0m-9 49h0m40 10h0m-100 128h0m178-109h0m-200 58h0m84-79h0m159 56h0m-146-47h0m-44 142h0m-52-58h0m234-37h0m-120 50h0m79-92h0m-181 95h0m70-130h0m66 139h0m-127-60h0m37 87h0m-7 19h0m53-98h0m-89-56h0m144-21h0m-17 20h0m-98 94h0m200-11h0m-115 12h0m8-57h0m-89 94h0m137-37h0m62 11h0m-103-6h0m-85-57h0m55 15h0m-61-19h0m85 89h0m-52-33h0m45-1h0m60 11h0m-14-102h0m-60 107h0m7-66h0m40 115h0m-80-108h0m51 66h0m-47-48h0m122 38h0m-182-125h0m26 19h0m94-20h0m12 54h0m-84 62h0m51 13h0m76-59h0m-72 88h0m81-112h0m-69 84h0m-11-70h0m-61-52h0m27 131h0m101-101h0m-58 19h0m-29-61h0m72 123h0m-12-108h0m-42-18h0m-23 158h0m1-137h0m81 107h0m-87-121h0m143 80h0m-34 69h0m-198-44h0m186 57h0m-32-22h0m-81-78h0m5 42h0m118-48h0m-30-5h0m-89-91h0m46 36h0m-68 95h0m114-37h0m-130 82h0m172-74h0m-47-5h0m-18 101h0m-81-189h0m15 222h0m-45-167h0m9 93h0m175-22h0m-100-85h0m10 83h0m-41-110h0m158 99h0m-177-109h0m84 46h0m-76 92h0m40-67h0m59 91h0m14 25h0m30-97h0m-42 42h0m-24 64h0m61-72h0m-77-97h0m-81-37h0m49 97h0m131 57h0m-74 11h0m70-4h0m-57-33h0m64 7h0m-151-79h0m61-4h0m-78 148h0m110 1h0m-86-200h0m-84 78h0m131 20h0m-80-49h0m16-55h0m-83 103h0m49 23h0m46 74h0m6-177h0m-68 65h0m65-34h0m45 154h0m46-43h0m8-44h0m-50-32h0m55 103h0m-174-8h0m-19-8h0m19-88h0m8-35h0m209 66h0m-62 65h0m28-3h0m-6-29h0m-176-70h0m81 29h0m-54 48h0m160 10h0m-3 13h0m-211-18h0m228-58h0m-22 86h0m-117-46h0m90 61h0m-15-61h0m44 39h0m-57-105h0m28 30h0m-65-47h0m-96 87h0m145 9h0m-154-63h0m147-15h0m1-14h0m-72 33h0m47-35h0m-122 49h0m129-37h0m-28 59h0m-76 33h0m41-10h0m-51-93h0m85 42h0m134 22h0m-169 12h0m129 49h0m-158-123h0m-56 52h0m126 34h0m-49-74h0m50 23h0m39-43h0m-127 17h0m14 136h0m4-100h0m95-65h0m-21 55h0m72 35h0m-59 36h0m-32-74h0m-76 46h0m131-28h0m63 61h0m-84-44h0m-45 40h0m18-6h0m-8-2h0m36 23h0m-98-94h0m167 31h0m-163 87h0m-23-132h0m98-34h0m33 144h0m-149-84h0m7 37h0m31-70h0m-29 56h0m4-8h0m195-3h0m-75-75h0m-52 154h0m82-52h0m-173-46h0m104 55h0m-20-72h0m-42 58h0m-37 12h0m201-72h0m-33 50h0m-91 32h0m-65-97h0m87 51h0m153 8h0m-25 56h0m-189 23h0m123 9h0m-70-146h0m-40 101h0m65-91h0m62 133h0m-133-10h0m23-174h0m44 150h0m-92-2h0m42-42h0m-1 53h0m-2 26h0m140-68h0m-29-84h0m17 106h0m-26 5h0m-156-39h0m237 41h0m-106-97h0m11 73h0m-147-2h0" stroke="#EF7E46" stroke-width="5.2" stroke-linecap="round" fill="none"/><path transform="scale(.5)" d="M302 976h0m102 20h0m-57-32h0m11-53h0m12 54h0m145-28h0m-100 60h0m-11-134h0m77 80h0m-104 35h0m96 65h0m-9 5h0m-42-175h0m-78 48h0m84-29h0m38 126h0m-75-20h0m78 37h0m-106-114h0m36-39h0m69 47h0m3-31h0m-162 88h0m182-5h0m-88 59h0m149-38h0m-4-7h0m-135-113h0m-2 125h0m74-5h0m-20-30h0m-43-24h0m114 29h0m-192-52h0m161 84h0m44 2h0m-132-3h0m-24-140h0m-55 107h0m78 66h0m16-26h0m26-113h0m94 129h0m-124-18h0m42-81h0m-34 146h0m-102-102h0m59 39h0m-66-37h0m36 44h0m-14 31h0m64 3h0m79-81h0m-185-42h0m163 87h0m-122-77h0m34-83h0m101 133h0m-14-21h0m96 16h0m-205-11h0m9 49h0m-23-6h0m12-151h0m164 91h0m-131 15h0m61 73h0m28-83h0m-146 64h0m134-7h0m-22 43h0m23-96h0m-64-84h0m-35 171h0m90-67h0m-104-106h0m78 182h0m-74-110h0m56-68h0m124 129h0m-141-92h0m-85 80h0m88-52h0m40 48h0m50 41h0m-176-114h0m28 105h0m41 11h0m43-26h0m54-35h0m-156 19h0m107-127h0m52 106h0m80 17h0m-160-61h0m68-42h0m-172 84h0m235 45h0m-57-25h0m-123 2h0m40-87h0m74 80h0m-151-80h0m257 66h0m-66 34h0m35 2h0m-61-62h0m45-7h0m-203 36h0m70 43h0m15-16h0m-98-37h0m3 21h0m168 49h0m-129-118h0m57-51h0m-69 98h0m19 86h0m157-50h0m-51 18h0m-100-127h0m80 130h0m-22-42h0m93 46h0m-119 17h0m50-67h0m-35-30h0m-10 22h0m-37 70h0m4-15h0m127-47h0m-102 58h0m-77-62h0m156 92h0m-61-149h0m-62 74h0m-38-20h0m101 59h0m-20-181h0m51 45h0m104 95h0m-104-73h0m-101 110h0m30-162h0m51 122h0m-55-98h0m120 24h0m-35-13h0m-90 67h0m150-25h0m-112 61h0m-18-154h0m89 162h0m-13 14h0m-15-45h0m-144 6h0m234 21h0m0-5h0m-193-76h0m57-19h0m120 130h0m-46-82h0m-129-15h0m113-8h0m-144 55h0m13-85h0m12 52h0m138-30h0m-108 6h0m-28-44h0m199 92h0m-139-105h0m2 116h0m-56-66h0m3 120h0m35-88h0m4 89h0m82-7h0m-7-49h0m37-16h0m-141-77h0m89 17h0m-3 27h0m-115 65h0m179 34h0m-24 11h0m41-76h0m-8 52h0m-87-40h0m75 3h0m-116 40h0m66-145h0m-35 172h0m-65-170h0m-4 154h0m166-92h0m-45 3h0m-5 18h0m-163-40h0m143 59h0m-50-101h0m-93 64h0m166-12h0m-146 76h0m65-26h0m39-81h0m-64 103h0m0-93h0m37 38h0m-77-15h0m154 102h0m-57-80h0m-72 42h0m149-46h0m-109 41h0m-15 55h0m18-111h0m67-6h0m-49 49h0m30-66h0m32 25h0m-79 33h0m18-47h0m-41 146h0m-8-62h0m-28-85h0m122 22h0m-17-80h0m84 141h0m-162-69h0m17-11h0m-22-69h0m40 43h0m-21 66h0m124-11h0m-24-62h0m-33 150h0m30-39h0m12-44h0m-18 40h0m-49-51h0m-64 76h0m3-51h0m8-14h0m170 48h0m-95-34h0m-14-14h0m-101 62h0m125 24h0m0-126h0m30 118h0m-53-165h0m69 42h0m-28 117h0m-57-151h0m86 164h0m-168-146h0m193 91h0m-69 34h0m-117-20h0m18 22h0m50-2h0m-78-50h0m219 25h0m-148-148h0m-27 84h0m140 26h0m-46-53h0m76 101h0m-40-53h0m-25 54h0m2-34h0m-5 27h0m-24-58h0m-50-92h0m60 124h0m-32 51h0m77 4h0m-44-19h0m-13-38h0m48 3h0m-87-105h0m-35 189h0m121-30h0m-53-19h0m-6-77h0m129 33h0m-213-63h0m112 0h0m-95 155h0m-23-65h0m69 1h0m5-44h0m69-56h0m17 16h0m-145 34h0m-45 22h0m250-10h0m-145 91h0m114-22h0m-189-27h0m91-86h0m24 82h0m31-36h0m-52-5h0m-131 41h0m131-52h0m-39 101h0m97-97h0m-97-3h0m61-21h0m-50 12h0m82 10h0m-13-22h0m-167-5h0m110 70h0m29 0h0m-75-109h0m8 75h0m31 17h0m-6-19h0m132-6h0m-185-19h0m164 45h0m-194 12h0m185-32h0m43 1h0m-143-52h0m-98 91h0m204 1h0m-154 5h0m71-124h0m65 69h0m-57-49h0m-61-17h0m-34 60h0m63 119h0m11-13h0m-15-183h0m-82 50h0m108-34h0m63 142h0m-189-45h0m211 34h0m-134-149h0m-10 171h0m48-24h0m-31-4h0m122 11h0m53-18h0m-150-35h0m44 41h0m-6-128h0m-19 16h0m4-14h0m-62 197h0m48-61h0m-13 13h0m28-141h0m-9 172h0m-50-188h0m102 132h0m-89-141h0m-46 186h0m75-104h0m63-44h0m-89 81h0m120-40h0m-111 72h0m-11 49h0m75-108h0m-74-106h0m56 64h0m-39 101h0m3-142h0m-24 194h0m106-41h0m-28-19h0m41 10h0m-140-37h0m38 12h0m-37-61h0m91 50h0m-45-5h0m-5 86h0m130-86h0m-54 42h0m-65-95h0m25-41h0m30 164h0m-76-61h0m39-84h0m-94 75h0m86 2h0m4-115h0m53 126h0m15-4h0m-191 16h0m73-73h0m113 31h0m3 43h0m-138-45h0m14 12h0m62-83h0m54 140h0m-76-48h0m-10-112h0m-55 119h0m92 39h0m98-1h0m-139 21h0m4-8h0m20-47h0m18 55h0m-6-100h0m-137 50h0m234-9h0m-215-39h0m115-69h0m124 142h0m-141-7h0m-91-45h0m71 42h0m-64 8h0m73-111h0m101 131h0m-110-51h0m51-66h0m-91 142h0m127-115h0m-49 79h0m-87-38h0m31-107h0m-2 57h0m149 88h0m-67 18h0m-47-110h0m41 106h0m-123-70h0m-7-65h0m179 36h0m-110-22h0m-14-33h0m25 187h0m-7-92h0m22-48h0m133 87h0m-106-135h0m-90 108h0m56 64h0m61-38h0m-91-7h0m36 41h0m128-82h0m-184 11h0m7 77h0m-10-129h0m80 69h0m-33 59h0m-49-22h0m-18-39h0m152 37h0m-94 46h0m58-126h0m-77-90h0m114 50h0m2 19h0m-85-83h0m-2 44h0m-13 98h0m-29-36h0m179 70h0m-67-47h0m-121-100h0m49-8h0m11 150h0m-43-13h0m63-50h0m-119-41h0m108 91h0m-125-45h0m195 89h0m47-54h0m23-29h0m-157 36h0m48-4h0m-64-129h0m-4 174h0m173-62h0m-168 67h0m-62-54h0m204-24h0m-146 46h0m24-148h0m-45 205h0m-54-105h0m28-16h0m5 15h0m30-58h0m60 6h0m29-1h0m-89 69h0m-36-38h0m86 115h0m-30-96h0m-45 18h0m43 20h0m65 21h0m49 1h0m-43-80h0m-79-98h0m-70 87h0m115 93h0m-48-160h0m-5 83h0m116 88h0m-112-106h0m77-33h0m-84 67h0m64-89h0m-42 191h0m-89-145h0m78 52h0m99 74h0m-88-184h0m96 65h0m-150 92h0m109-53h0m-101-36h0m13-36h0m-44 101h0m131-89h0m-35 161h0m18-82h0m-87 42h0m59-94h0m-44 132h0m144-41h0m-146-44h0m-2 44h0m11-144h0m104 28h0m-105-54h0m32 208h0m10-5h0m-82-120h0m74 101h0m129-67h0m-180-71h0m135 21h0m-87 77h0m102-18h0m-65-109h0m42 186h0m2-38h0m-102 32h0m-28-15h0m55-128h0m-93 71h0m195-25h0m-170-21h0m-17 78h0m191-44h0m-147-63h0m-19 77h0m126 77h0m61-108h0m-143 39h0m-65-59h0m27-63h0m129 133h0m-154-96h0m150 19h0m-165 63h0m12 26h0m80 26h0m90-57h0m-156-39h0m76-53h0m-49 112h0m-36-106h0m21 154h0m-35-46h0m188-9h0m-124-42h0m70 33h0m-77-63h0m131 111h0m-59-65h0m17-42h0m-67-57h0m175 93h0m-239-55h0m143 20h0m83 63h0m-216-38h0m152 92h0m-81-191h0m-58 54h0m79-46h0m46 183h0m-96-194h0m4 136h0m32 73h0m-114-73h0m240 5h0m-143 24h0m-31-28h0m160 40h0m-175-122h0m185 102h0m-131-137h0m-35 39h0m8 156h0m16-171h0m0-36h0m46 144h0m43-65h0m10-4h0m-110 20h0m158-2h0m-75 22h0m-93-10h0m19-30h0m15-21h0m23-2h0m130 81h0m-124-72h0m17 76h0m83-31h0m-120 106h0m-61-131h0m8 66h0m114-24h0m-86 14h0m-40-57h0m170 65h0m7 4h0m-188-77h0m123-39h0m-88 124h0m-6-160h0m21 28h0m43 165h0m59-6h0m-8-101h0m-127 53h0m-21-118h0m90 30h0m-22-44h0m-42 120h0m151-36h0m-134-41h0m16 4h0m-54 18h0m173 52h0m-19 58h0m-53-143h0m-56 162h0m-2-76h0m23-81h0m-87 39h0m190 25h0m52-1h0" stroke="#F8766D" stroke-width="5.2" stroke-linecap="round" fill="none"/><path transform="scale(.5)" d="M571 970h0m28-2h0m-15 7h0m-12 13h0m17-15h0m30-25h0m-24 24h0m-11 11h0m39-35h0m-45 35h0m-9-16h0m11 6h0m28-19h0m-25 14h0m28-15h0" stroke="#EF7E46" stroke-width="5.2" stroke-linecap="round" fill="none"/><path d="M321.5 423.8L325.4 423.9L329.9 441.5L339 440L347 437.2L345.1 445.6L335.6 449.1L330.2 450L325.6 449.2L323 440Z" fill="#FE6D8C" fill-opacity="0.72"/><path transform="scale(.5)" d="M646 857h0m35 37h0m-32-14h0m5 7h0m-5-22h0m15 25h0m-2-6h0m20 9h0m9-16h0m-10 19h0m-35-41h0m8 11h0m-2-8h0m2 34h0m17 8h0m-17-12h0m27 0h0m-21 11h0m0-7h0m33-14h0m-24 4h0m6 13h0m-24-37h0m18 24h0m-22-23h0m0 14h0m-3-4h0m12 18h0m10 13h0m-2-15h0m-16-20h0m7 6h0m24 10h0m-27 11h0m-6-32h0m7 5h0m23 24h0m-15 3h0m12-10h0m-5 19h0m10-15h0m11 4h0m-42-22h0m1 2h0m3-12h0m36 24h0m-39-32h0m16 48h0m8-15h0m-25-34h0m7 51h0m-7-44h0m33 29h0m-11 13h0m-15-26h0m2 18h0m-5-18h0m2-8h0m13 27h0m24-4h0m-37-1h0m-2-35h0m-7 4h0m7 19h0m41 4h0m-17 15h0m-14-4h0m-13-37h0" stroke="#FE6D8C" stroke-width="5.2" stroke-linecap="round" fill="none"/><path d="M347 435.8L356 433.9L369.3 427.7L379.2 421.6L383.1 425.4L371 433L358.6 439.2L346.8 445.4Z" fill="#FF62C0" fill-opacity="0.72"/><path transform="scale(.5)" d="M708 873h0m-11 13h0m25-22h0m6-1h0m19-11h0m-37 28h0m0-5h0m57-25h0m-37 10h0m4 9h0m26-16h0m-55 32h0m-1-8h0m25-16h0m-15 10h0m44-24h0m-1 8h0m2 1h0m-59 24h0m63-30h0m2-2h0m-23 14h0m-34 10h0m18 1h0m-6 1h0m16-12h0m-5 8h0m0-4h0m-37 13h0m36-13h0m27-10h0m7-7h0m-58 27h0m7-7h0m8 7h0m37-29h0m-8 8h0m-14 13h0m7-10h0m-49 31h0m3-7h0m-3-4h0m37-17h0m-24 15h0m-11 13h0m61-37h0m1-5h0m4 3h0m-64 35h0m3-10h0m31-5h0m-17 5h0m14-11h0m16-7h0m-50 23h0m12-2h0m54-30h0m-25 11h0m-25 23h0m-1 1h0" stroke="#FF62C0" stroke-width="5.2" stroke-linecap="round" fill="none"/><path d="M378.8 497.6L404.5 496.8L404.3 502.7L399.5 504.8L404.1 514.5L405.6 529.1L399.8 531L394.2 519L390.8 505.6L378.9 501.5Z" fill="#F166E7" fill-opacity="0.72"/><path transform="scale(.5)" d="M780 999h0m10 14h0m1 3h0m-1 6h0m12 25h0m-5-46h0m-20-3h0m28 51h0m-12-43h0m10 46h0m-38-53h0m35 4h0m-11 5h0m10 7h0m8 26h0m-7 12h0m-2-36h0m-22-18h0m9 5h0m7 22h0m-3-20h0m-5-11h0m-6 0h0m15 7h0m-23-6h0m32 51h0m-14-52h0m13 3h0m-13 42h0m-8-33h0m11 3h0m8 6h0m-23-17h0m34 41h0m-33-38h0m23 46h0m-11-41h0m2 2h0m-19-9h0m35 1h0m-6-4h0m5 4h0m-16 38h0m14 5h0m-16-16h0m-25-34h0m42 43h0m-25-38h0m18 0h0m-7 14h0m-15-12h0m21 31h0m-5-6h0m9-7h0m-17-14h0m20 54h0m-40-65h0m47 57h0m-34-44h0m7 10h0m16 44h0m-5-15h0m1-16h0m13 5h0m-5-3h0m-2-6h0m6 28h0m-8-3h0m-24-55h0m13 5h0m9 12h0m0 5h0m-4 31h0m-1-4h0m3-40h0m-1 3h0m-1 25h0m5-5h0m-2 27h0m6-56h0m4 25h0m-7-14h0m-1 9h0m1 32h0m5-5h0m2-15h0m-24-18h0m3 19h0m-8-23h0" stroke="#F166E7" stroke-width="5.2" stroke-linecap="round" fill="none"/><path transform="scale(.5)" d="M970 1023h0m66-50h0m-60 47h0m-30 2h0m11 3h0m120-12h0m-113 25h0m47-33h0m72 2h0m-93 13h0m-19 8h0m32-16h0m26-20h0m-4-7h0m10 17h0m-72 4h0m101-2h0m-35-2h0m-31 0h0m-44 28h0m42-46h0m42 21h0m-47 22h0m-33-6h0m106-16h0m-123 12h0m141-31h0m-56-8h0m-34 47h0m0-33h0m-47 49h0m95-18h0m-45 6h0m-30 7h0m93-27h0m-90 28h0m109-45h0m-8-20h0m-87 50h0m-20 13h0m76-42h0m4-4h0m28 28h0m-17-34h0m-18 29h0m-9-35h0m-16 40h0m-56-11h0m12 14h0m31-32h0m26 29h0m-43-3h0m10 0h0m-32-6h0m-18 33h0m114-19h0m-46-27h0m59 25h0m-103 3h0m43-28h0m-2 5h0m8-5h0m-39 24h0m34-37h0m59-8h0m2 30h0m-14 7h0m-54-16h0m-29 26h0m38-38h0m73 22h0m-122-2h0m68 0h0m-12-14h0m47 28h0m14-35h0m-89 25h0m1-6h0m74-20h0m-70 15h0m-43 14h0m86-29h0m-57 38h0m-5-16h0m32 12h0m58-22h0m-102 27h0m44-6h0m68-31h0m-62 34h0m47-17h0m1 4h0m-89 5h0m109-2h0m3-11h0m-2-2h0m-132 40h0m82-33h0m-69 32h0m77-51h0m-20-6h0m38 9h0m-94 22h0m85-17h0m-18 27h0m-25-1h0m37-22h0m-57 0h0m-14 24h0m47-2h0m-14-34h0m-64 61h0m66-36h0m20-24h0m-4 22h0m20-3h0m-74 19h0m13-10h0m34-21h0m-51 42h0m-2-31h0m-13 27h0m-6 3h0m59-29h0m36-26h0m-44 13h0m3 5h0m14 2h0m57 10h0m-103 13h0m-13-13h0m82-6h0m-43-1h0m57-4h0m2 24h0m3-21h0m-18-22h0m19 15h0m-75 11h0m41 19h0m16-3h0m-38-26h0m33-2h0m-58 20h0m72 3h0m7 6h0m-57-12h0m49-35h0m-80 61h0m86-27h0m7 14h0m-25-45h0m18 28h0m-57-16h0m22 12h0m26-20h0m40 22h0m-37 8h0m31-16h0m-5 8h0m3-29h0m-51 52h0m-69-20h0m54 0h0m55-2h0m-32 7h0m52-9h0m-38-22h0m-34 22h0m-20-5h0m51-7h0m-75 11h0m115-9h0m-38 7h0m-47 6h0m-21 18h0m17-10h0m-22 19h0m60-43h0m-8 27h0m-21 2h0m27-39h0m-75 57h0m31-14h0m68-5h0m10 0h0m-51-28h0m-69 25h0m53 11h0m42-3h0m-92-10h0m79-29h0m-41 49h0m33-45h0m44-1h0m-51 40h0m69-15h0m-133 12h0m103-36h0m-16 26h0m24-32h0m-116 61h0m124-55h0m-25 39h0m-25 2h0m-58 1h0m43-6h0m81-37h0m-72 18h0" stroke="#5DCDF4" stroke-width="5.2" stroke-linecap="round" fill="none"/><path d="M506.9 485.5L530.8 478.8L548.7 478.5L563.1 485.6L566 497.7L558.2 504.1L543.6 500.5L531.5 497.7L516.9 499.4L501.9 502.5Z" fill="#5DCDF4" fill-opacity="0.72"/><path transform="scale(.5)" d="M1050 964h0m49-9h0m-38 28h0m39-1h0m25 19h0m-71-26h0m-4-3h0m-30-2h0m34-7h0m22 6h0m-18 27h0m-5-27h0m-29 1h0m-13 28h0m83-37h0m-7 29h0m28 14h0m-99-33h0m70 21h0m-5-26h0m40 1h0m-58 16h0m12 9h0m-14-11h0m36 15h0m-77 3h0m51-20h0m37 26h0m-7-40h0m-64 8h0m75 4h0m1 4h0m-22-18h0m-1 13h0m17 30h0m-59-18h0m63-27h0m-22 28h0m-44-24h0m43 31h0m-70-12h0m-14 14h0m38-24h0m37-10h0m39 25h0m-97-14h0m61 2h0m33 30h0m11-24h0m-88-13h0m31 18h0m-68 17h0m33-21h0m89-11h0m0 17h0m-76-11h0m65 9h0m-51-33h0m-26 12h0m16 15h0m65-2h0m-36-15h0m-37 15h0m0 17h0m-34-4h0m14-27h0m93 17h0m-65-2h0m71-12h0m-63 26h0m10-36h0m60 32h0m-105-23h0m51-10h0m-20 28h0m1-18h0m8 17h0m52-9h0m-30 26h0m12 0h0m-10-13h0m-67-17h0m74 24h0m15 4h0m10-13h0m-74-6h0m8-12h0m15 9h0m22-10h0m28-3h0m-84 28h0m26-26h0m-47 8h0m82-10h0m3 7h0m12-3h0m-29-1h0m-6 2h0m3 16h0m6-3h0m31 14h0m-27-28h0m-17 1h0m-60 21h0m121 6h0m-99-13h0m1-16h0m44-10h0m39 46h0m-74-14h0m-1-21h0m71 14h0m-7 12h0m24-4h0m-28 13h0m-23-14h0m-63-12h0m42 6h0m58 19h0m-6 4h0m-36-43h0m13-5h0m-50 37h0m41-7h0m-41-20h0m91 1h0m-67 26h0m31-36h0m-30 23h0m-2-6h0m-3-7h0m-34 21h0m63-11h0m10-16h0m-69 30h0m68-15h0m-13 14h0m40 10h0m-9-36h0m-20 23h0m-72-18h0m-16 29h0m104-39h0m-71 9h0m73 30h0m-96-28h0m66-9h0m-32 14h0m15-22h0m40 42h0m22 1h0m-68-16h0m-48 19h0m50-33h0m26 28h0m14-15h0m-39-14h0m-33 26h0m46-16h0m36 28h0m-52-48h0m-45 15h0m95 32h0m-14-14h0m25-3h0m-3 2h0m-87 9h0m62-10h0m-75-21h0m11 4h0m28-2h0m-16 5h0m25-10h0m14 12h0m-1 5h0m-34 4h0m-23-6h0m19-8h0m66 29h0m-3-3h0m-35-13h0m15-2h0m-58 12h0m27-38h0m-46 38h0m114-13h0m3-13h0m-2 23h0m1 10h0m-37-11h0m-76 11h0m100-14h0m-47-15h0m-16-1h0m-22 14h0m96 15h0m-33-21h0m30 2h0m-69 17h0m-31-18h0m107 4h0m-59-25h0m64 22h0m-39-1h0m-31-19h0m-29 38h0m10-25h0m38 18h0m24-10h0m-11 3h0m31 1h0m-33 0h0m-74 15h0m56-5h0m48-9h0m-58-25h0m16 32h0m-17-12h0" stroke="#5DCDF4" stroke-width="5.2" stroke-linecap="round" fill="none"/><path d="M496.9 560.4L517 566.3L538.6 562.4L558.2 556.8L567.2 552.8L564 566.2L553.2 577.2L539.1 582.2L521.3 582.5L506.9 577.4L497 569.9Z" fill="#A78AFF" fill-opacity="0.72"/><path transform="scale(.5)" d="M1062 1166h0m0-14h0m10-8h0m-69 4h0m36 2h0m-17-17h0m46 13h0m29-6h0m-1 17h0m-43-30h0m-52 20h0m31 9h0m30-2h0m0-7h0m64-17h0m-112 2h0m72 0h0m6-1h0m18 2h0m-97 20h0m99-19h0m18-12h0m-96 26h0m-2 14h0m74-14h0m-41-17h0m-10 22h0m65-20h0m-106 14h0m-2-6h0m-21-7h0m81 25h0m33-40h0m-82 28h0m37-15h0m43 20h0m-57 13h0m82-41h0m-115 25h0m56 5h0m38-26h0m2 19h0m-21-8h0m-19-13h0m35 9h0m10 16h0m11-19h0m-100 29h0m81-10h0m-22-12h0m-55 23h0m-10-15h0m36 4h0m56-34h0m-81 28h0m89-9h0m-18 8h0m-48-15h0m17-4h0m18 37h0m-89-36h0m101 29h0m-40-25h0m72-21h0m-19 6h0m-47 32h0m-38 9h0m41 9h0m14-27h0m-81-6h0m125-13h0m-97 42h0m36-32h0m34-11h0m-39 39h0m72-36h0m-138 15h0m107-19h0m-53 18h0m47-13h0m-58 32h0m31-5h0m-14 16h0m11-21h0m33 6h0m-40 8h0m62-38h0m-109 8h0m35 23h0m-31-12h0m109-10h0m-89 37h0m46-39h0m55-18h0m-60 19h0m-3 23h0m-68-13h0m-4-12h0m118-1h0m-46 5h0m17 12h0m22 9h0m5-29h0m-74 21h0m85-24h0m-49 35h0m-15 7h0m-22-24h0m-22 6h0m103-3h0m-24 5h0m-98-12h0m80 33h0m-35-7h0m64-16h0m-17-12h0m-24 5h0m33 3h0m12-19h0m-12 29h0m16-33h0m-5 34h0m-42-18h0m-25-3h0m-44 1h0m-4 16h0m43-3h0m-26 13h0m30 6h0m-39-21h0m111 4h0m-91-13h0m59 25h0m48-47h0m-74 21h0m51-4h0m-90 27h0m18-19h0m-27 8h0m113-13h0m-30 1h0m-55 5h0m-1 27h0m41-38h0m-36 39h0m41-41h0m-45 26h0m83-33h0m-119 11h0m10 26h0m41-17h0m32 1h0m40-28h0m-111 30h0m53 18h0m-60-29h0m58 12h0m36 14h0m-76-20h0m99-1h0m-28 3h0m-58 26h0m63-39h0m-47 31h0m77-45h0m-26 14h0m-79 27h0m1-8h0m22 13h0m-43-2h0m85 2h0m-72-13h0m-21-9h0m50 24h0m72-43h0m-16 40h0m-27-1h0m42-39h0m-86 23h0m-27-11h0m72-2h0m29 21h0m-75-10h0m7 17h0m34-22h0m22 19h0m-74 4h0m88-1h0m-109-8h0m24 2h0m94-13h0m-25 20h0m-23-9h0m41-3h0m-86 9h0m-9-16h0m5 23h0m4-22h0m66 20h0m-53 0h0m0-18h0m-15 10h0m8 2h0m1-7h0m-17-6h0m61 4h0m34 2h0m-46-5h0m-21 15h0m46-12h0" stroke="#A78AFF" stroke-width="5.2" stroke-linecap="round" fill="none"/><path transform="scale(.5)" d="M1018 1059h0m14 59h0m-10-46h0m14 31h0m-56-46h0m38 13h0m-41-10h0m17 62h0m50-55h0m-39-27h0m55 39h0m-93-47h0m16 19h0m46-17h0m-52 29h0m-28 13h0m50 24h0m-19-23h0m58-22h0m-30-24h0m12 84h0m-17-36h0m1-13h0m-19 6h0m-24 29h0m97-64h0m-28 28h0m-12-17h0m-12 80h0m34-18h0m16-48h0m-45 31h0m0-26h0m-8-4h0m-30-33h0m4 15h0m56 28h0m-56-31h0m-9-6h0m-19 1h0m31 7h0m0 33h0m34 28h0m-37-8h0m81-29h0m-51-17h0m27-13h0m7 23h0m-39 69h0m45-83h0m-16 11h0m-75 7h0m39 50h0m58-52h0m-66 41h0m-39-39h0m116 12h0m-90 6h0m47-6h0m-51-33h0m5 38h0m53-39h0m-76 28h0m16-4h0m52-19h0m28 16h0m-95 15h0m47 25h0m-17-27h0m77-14h0m-61 30h0m1 36h0m20-40h0m8-55h0m-16 68h0m20 16h0m-14-69h0m15 5h0m-46-2h0m66 30h0m-58 38h0m16-16h0m47-23h0m-28 9h0m-58-31h0m-4 30h0m57 27h0m-44-1h0m7-46h0m-7-33h0m2 52h0m-29-11h0m54 30h0m49-17h0m-95-12h0m7 19h0m27-30h0m3 53h0m44-47h0m-73 30h0m44 12h0m-28-54h0m19 38h0m4-12h0m-30-32h0m-27 33h0m42 5h0m-38-13h0m46 17h0m60-28h0m-61 13h0m4-29h0m23 60h0m1-52h0m-57 2h0m77 41h0m-41 21h0m6-78h0m-36 48h0m64 18h0m-53-40h0m-31-9h0m87-3h0m-52 29h0m-20 13h0m53-1h0m27-62h0m-69 10h0m-7 28h0m-8 24h0m37 14h0m35-74h0m-68-4h0m6 69h0m-9-46h0m20 61h0m28-62h0m-31 4h0m50 26h0m-48 36h0m46-50h0m0-24h0m24 7h0m-5-23h0m-110 20h0m25 30h0m-16-33h0m20-8h0m-16-4h0m59 26h0m5 42h0m-54-42h0m37 13h0m5 9h0m-37-5h0m30-45h0m24 70h0m-81-38h0m6-15h0m12-11h0m-16 1h0m109 8h0m-40 52h0m-37-36h0m9 55h0m37-49h0m-48-32h0m2-8h0m45 75h0m-44-33h0m-10-21h0m65 47h0m-76-61h0m41 5h0m15 66h0m47-46h0m-18 45h0m-30-48h0m9-28h0m21 41h0m-62 44h0m33-46h0m-42-31h0m47 15h0m7 10h0m-54-25h0m57-10h0m-29 96h0m-34-39h0m80-52h0m-1 40h0m-7-6h0m-18-28h0m-35 39h0m10-13h0m-7 12h0m67-15h0m5 6h0m-108-21h0m-1 9h0m66 52h0m3 3h0m-74-73h0m33 45h0m-1 10h0m28 12h0m-38-45h0m51-31h0m-8 81h0m-35-2h0m-1 4h0m-21-28h0m60-43h0m37 21h0m-26-12h0m-42-5h0m70 43h0m-1-44h0m-28 16h0m20 42h0m-16-5h0m-74-30h0m38 7h0m8-34h0m14 73h0m34-70h0m1 31h0m-33-17h0m-17 53h0m40-74h0m-22 44h0m-69-33h0m106 10h0m-60 44h0m37-3h0m-4-72h0m-40 3h0m3 31h0m45 38h0m-37-12h0m-13 21h0m73-53h0m-58 36h0m10 24h0m-40-45h0m88-7h0m-22 10h0m-53 22h0m76-64h0m-36 12h0m16-11h0m-36 83h0m21-68h0m-50 41h0m18-52h0m43 34h0m0 34h0m15-41h0m-23 54h0m-56-93h0m49 70h0m-65-31h0m35 12h0m16-7h0m-62-24h0m67-11h0m-17 88h0m48-14h0m-38-4h0m-45-72h0m82 49h0m3 15h0m9-41h0m-97-25h0m77 69h0m-35 6h0m13-57h0m-41 22h0m86 2h0m-43-11h0m-49 36h0m70-4h0m-1-62h0m-48 71h0m62-50h0m-70-2h0m17 19h0m33 41h0m-9-47h0m0 3h0m-38-40h0m32 5h0m20 13h0m-37-3h0m-32 47h0m70-54h0m-5 48h0m33-12h0m-111-35h0m13 19h0m19 44h0m-22-47h0m46 32h0m41 17h0m-87-46h0m6-24h0m62 31h0m-50-19h0m59 7h0m-70 7h0m85 10h0m-55 28h0m36 2h0m-61-41h0m43 36h0m21 24h0m-83-87h0m-7 34h0m46 1h0m39 21h0m-23 0h0m-32 17h0m53-61h0m21 52h0m-50-63h0m-4 75h0m30 11h0m-4-1h0m16-4h0m-55-86h0m24 100h0m-10-79h0m-42-14h0m73 75h0m-29-60h0m-26-5h0m70-8h0m10 52h0m-41 13h0m-28 14h0m-42-72h0m100 2h0m-15 70h0m-16-25h0m-69-54h0m70 76h0m32-18h0m-55 27h0m43-36h0m-78-11h0m31-9h0m58 43h0m-74-3h0m2-33h0m72-30h0m-100 16h0m39 52h0m-37-44h0m26 12h0m62-19h0m-12 15h0m-69-7h0m97 16h0m-64-23h0m39 0h0m0 1h0m-6 8h0m-50 32h0m45-49h0m-22 53h0m-8 13h0m-29-33h0m68-7h0m-42-41h0m4 80h0m-15-37h0m72-29h0m-22-12h0m-71-1h0m73 22h0m-4 27h0m-15-4h0m42-20h0m-31-11h0m14 34h0m-1-18h0m11-2h0m-75 22h0m43-27h0m40 8h0m-16-33h0m-72 5h0m56 71h0m8-14h0m12-36h0m24-28h0m-91 52h0m46-47h0m-48 50h0m34 37h0m24-74h0m-50 17h0m6 13h0m35-38h0m-58 48h0m83-18h0m-23 32h0m-12-18h0m-58-48h0m93-5h0m6 54h0m-18-27h0m-33 10h0m38 0h0m-15 36h0m32-40h0m-76-5h0m59 42h0m-42-54h0m66 21h0m-60 47h0m-2-24h0m-1-27h0m25 27h0m30-45h0m-48 49h0m1-28h0m-30-21h0m13 48h0m38-57h0m-18 54h0m27-58h0m-48 77h0m69-22h0m-24-40h0m-27 9h0m16 31h0m-70-49h0m27 31h0m39-30h0m-19 17h0m60-25h0m-51 6h0m40 7h0m-92-16h0m18-1h0m57 8h0m-23 20h0m-5-28h0m23 10h0m-1 52h0m-37-57h0m-17 20h0m-5 36h0m38 8h0m1-23h0m-38-31h0m70-1h0m-45 72h0m-35-56h0m45 10h0m61-22h0m-22-2h0m-61 60h0m9-62h0m22 31h0m22-21h0m-60-13h0m-16-9h0m54 44h0m-8-15h0m15 32h0m-3-22h0m-52-19h0m99 10h0m-41 50h0m-63-53h0m56 58h0m-20-20h0m-32-65h0m63-1h0m-3 75h0m-5 0h0m-54-14h0m69 23h0m-49-34h0m-29-29h0" stroke="#5CBE28" stroke-width="5.2" stroke-linecap="round" fill="none"/><path d="M474.2 519.3L491.4 517.7L508.2 519.6L526.6 520.1L528 539.7L517.3 557.1L499.9 562L489.8 556.4L481.6 546.2L476 535.4Z" fill="#5CBE28" fill-opacity="0.45"/><path d="M529.7 519.8L549.7 521.5L563.2 523.7L566.5 535.4L564.7 546.9L556.7 553.9L540.8 557.6L529.9 553.4L526.5 535.4Z" fill="#5CBE28" fill-opacity="0.72"/><path transform="scale(.5)" d="M1086 1114h0m46-56h0m-41 48h0m19-20h0m12 14h0m-15-2h0m-31-56h0m-23 19h0m7 40h0m49-22h0m16 2h0m-48 24h0m10-57h0m-16 33h0m-11-43h0m-10 32h0m35 9h0m-3 38h0m-1-71h0m-20 52h0m17 5h0m33-19h0m-24 33h0m-19-35h0m3-2h0m-19-9h0m38-1h0m0-15h0m47 14h0m-29-26h0m19 59h0m-19-56h0m-50 3h0m39 24h0m-33-29h0m35 35h0m-4 37h0m-14-57h0m45 22h0m-8-38h0m-35-2h0m-13 6h0m45 43h0m-51 16h0m7-60h0m2 36h0m38 15h0m-14 16h0m-11-2h0m-12-73h0m35 46h0m-27-44h0m44 17h0m-48 19h0m-19 9h0m57 2h0m-34-16h0m-23-22h0m24 2h0m11 49h0m-2-53h0m-22 30h0m19-24h0m17 10h0m-32 7h0m44-19h0m-1 15h0m-37 19h0m32 26h0m-31-39h0m-16 3h0m10 37h0m-19-45h0m49 15h0m-35-40h0m47 30h0m13 4h0m-8 7h0m2-17h0m-36-11h0m14 5h0m-17 48h0m3-20h0m47-15h0m-21-2h0m-48 35h0m47-65h0m-46 49h0m-10-18h0m4 22h0m24-51h0m46 43h0m-27-32h0m-45 36h0m28 9h0m38-11h0m-11-37h0m-21 37h0m-18-47h0m44 16h0m-23 42h0m24-22h0m-39-39h0m6 18h0m-21 6h0m24 1h0m12 10h0m11 18h0m-48 18h0m5-45h0m20 52h0m-15-72h0m16 46h0m-15-47h0m38 28h0m2-30h0m8 3h0m-13 61h0m-18 8h0m7-74h0m9 6h0m-30 73h0m21-53h0m-21-23h0m-21 45h0m33-40h0m21 20h0m-26 7h0m20-6h0m-18 19h0m-17-34h0m1 12h0m27 20h0m-4 26h0m-1-39h0m6 39h0m-11-43h0m31 39h0m-3-47h0m-53 40h0m15 7h0m-20-30h0m60 15h0m-41 1h0m0 24h0m41-68h0m-41 3h0m-10 29h0m-5 24h0m43-17h0m22-25h0m-60 47h0m26-67h0m7 40h0m6-9h0m-35-20h0m-13 15h0m47 34h0m-15-2h0m11-1h0m-45-42h0m42 27h0m-28-35h0m3 17h0m32-23h0m-53 41h0m19-48h0m40 56h0m-30-10h0m13-7h0m-40 17h0m59-15h0m-28-37h0m-1 25h0m-29-22h0m10 33h0m-15-17h0m81 15h0m-6 11h0m-42 24h0m15-68h0m1 52h0m11-14h0m-55 28h0m2-49h0m56-14h0m-8 1h0m5 30h0m-47-4h0m27-32h0m16 72h0m-15-54h0m-38-6h0m35 58h0m3-25h0m27 2h0m-15-34h0m-3 57h0m-18-53h0m43-2h0m-71 39h0m11-55h0m51 30h0m-13-25h0m-13 2h0m9 37h0m4 12h0m28-20h0m-41-16h0m-24 38h0m-7-2h0m-6-5h0m11-52h0m36 4h0m-37-4h0m31 60h0m-16-43h0m-21-10h0m32 3h0m45 28h0m-53 24h0m-1-61h0m4 32h0m38-15h0m-46 3h0m14 32h0m-13-17h0m3 16h0m36-41h0m-27 38h0m-20-35h0m13-7h0m-15 8h0m-10 9h0m6 8h0m26-8h0m-4 40h0m6-16h0m27 16h0m-64-14h0m50-13h0m-50-10h0m6-22h0m26 14h0" stroke="#5CBE28" stroke-width="5.2" stroke-linecap="round" fill="none"/><path d="M707.4 419.6L720.5 419L734.3 422.9L746.1 432.3L759.3 441.2L764 455L764.1 467.1L755.6 476.2L745.9 475.8L738.9 487.2L729.8 491L716 487.2L702.3 476.1L690.8 469L689 455L692.8 441.2L699.1 427.1Z" fill="#C4A029" fill-opacity="0.72"/><path transform="scale(.5)" d="M1387 919h0m-11-2h0m87-58h0m14-8h0m-61 109h0m5-45h0m20 13h0m1-91h0m-4 7h0m5 100h0m5-56h0m-42-38h0m55 0h0m-40 56h0m59 19h0m-87-54h0m73 109h0m-16-102h0m40-15h0m-8 15h0m-86 12h0m124 41h0m-142-17h0m19 28h0m31-35h0m-29 3h0m42-8h0m-42-15h0m84-13h0m-38 29h0m-1-10h0m70-14h0m-8 64h0m-58-31h0m24 34h0m22 8h0m23-7h0m-2-6h0m-48-35h0m40 7h0m-26 37h0m-52-71h0m-38 26h0m21-17h0m-21 45h0m13-28h0m89-4h0m-71 70h0m15-77h0m-22-58h0m55 11h0m-50 90h0m-19-56h0m95 34h0m21 35h0m-39-30h0m48-25h0m-77 65h0m11-61h0m-62 35h0m107-32h0m-21 37h0m7-16h0m22-1h0m-34-59h0m-44 77h0m-50-31h0m22-55h0m12-20h0m68 117h0m-35-57h0m-73 6h0m67 77h0m11-89h0m-5 21h0m5 50h0m52-72h0m-43 0h0m3 71h0m-71-30h0m50 21h0m-23 22h0m45-85h0m-3-45h0m23 74h0m-29-22h0m-66 36h0m45-44h0m29 6h0m38 44h0m-41-15h0m38-19h0m-98-13h0m64 71h0m1-69h0m4 81h0m20-76h0m-97 22h0m93 5h0m-23-60h0m-24 83h0m-11-50h0m20 84h0m-4-34h0m-56-79h0m91 11h0m-78 70h0m-18-55h0m80 57h0m-8-54h0m15-23h0m2 51h0m43-3h0m-107-24h0m57 36h0m-40 26h0m52 13h0m0-112h0m-74 12h0m67 49h0m-47 20h0m56-80h0m-57 70h0m26-46h0m56 36h0m-11 9h0m-83-82h0m2 33h0m-7 83h0m80-91h0m22 30h0m-16 50h0m24-71h0m-112-21h0m19 101h0m-13-16h0m-1-45h0m52-27h0m-78 28h0m-4-15h0m90 94h0m47-31h0m-36 5h0m-5-75h0m-40 67h0m-39 6h0m23-83h0m87 34h0m-57 24h0m11 52h0m-79-40h0m137 6h0m-62-90h0m16 94h0m-89-76h0m93 77h0m-23 23h0m66-31h0m-137-40h0m144 13h0m3 17h0m-91-3h0m6-39h0m17-20h0m-54-7h0m-1 26h0m-9-44h0m61 129h0m12-73h0m5-40h0m-29 110h0m23-7h0m0 1h0m-31-40h0m-23-16h0m-16 44h0m85-21h0m-9-20h0m-71-9h0m-19 42h0m132-54h0m-9-2h0m-108 51h0m10 26h0m90-15h0m-116-47h0m29 61h0m70-53h0m-25 11h0m-30-7h0m46 58h0m-10-97h0m-62-4h0m75 66h0m-61-96h0m3 59h0m7 50h0m12-118h0m2 113h0m50-8h0m-46-6h0m-21 17h0m25 26h0m52-101h0m20 28h0m-112 2h0m-1-28h0m40 86h0m47-59h0m-80-30h0m56 40h0m-2-23h0m3-30h0m-60 1h0m111 68h0m-115-86h0m82 67h0m-54-22h0m40 77h0m-8 7h0m23-28h0m-6-21h0m-79-74h0m-23 83h0m96 37h0m39-24h0m-9-40h0m-86 31h0m-37-6h0m41 28h0m52-99h0m-36 109h0m-7-62h0m69-2h0m-102-39h0m93 87h0m-22 0h0m-57-58h0m44 65h0m-16-120h0m-15 107h0m0-12h0m-9-9h0m16 14h0m30-37h0m-44 60h0m75-74h0m-46-2h0m-51-31h0m79 28h0m-95 60h0m57 36h0m-8 1h0m-47-47h0m66 37h0m-16-54h0m14-8h0m11-27h0m-25 47h0m-27 7h0m75-28h0m-1 37h0m-17-65h0m43 44h0m-103-7h0m23 50h0m-51-85h0m67 95h0m-27-73h0m79 28h0m-36-81h0m-71 1h0m89 68h0m-65-83h0m19 143h0m-47-93h0m22 35h0m77-19h0m37 15h0m-21 34h0m6-48h0m-107 39h0m51-21h0m25 56h0m10-18h0m-62-38h0m46 20h0m-7-70h0m-85 30h0m68-38h0m-37 68h0m14 11h0m44 11h0m-92-24h0m105-8h0m3-31h0m-91-27h0m-7 48h0m78-10h0m-48-3h0m-25 45h0m14-98h0m72 126h0m-43-130h0m-1 131h0m10-59h0m1 44h0m-35-44h0m105-33h0m-53 51h0m34 13h0m-63-70h0m54 64h0m-2 8h0m-52-112h0m84 68h0m-119 22h0m93-6h0m-67 15h0m-24 22h0m44-108h0m30 32h0m-29 90h0m-5 0h0m-46-33h0m-16-8h0m49-45h0m33 12h0m43 10h0m-50-67h0m-9 119h0m-58-59h0m0 13h0m125-33h0m-120-26h0m86 52h0m54 9h0m-96 51h0m-28-92h0m60-24h0m-64 107h0m8-14h0m60-93h0m-8 119h0m-27-93h0m-15 57h0m93-35h0m-41 51h0m-100-43h0m76 68h0m-17-66h0m10-72h0m33 121h0m-72-57h0m106 31h0m-59 12h0m-51 10h0m72-101h0m-58 73h0m96-32h0m-62 64h0m6-93h0m29 99h0m14-92h0m-10 47h0m-88-11h0m87-30h0m-59 80h0m24-61h0m77 17h0m-58 9h0m42-45h0m-115 74h0m36 0h0m68 5h0m-40-105h0m-15 54h0m27-16h0m-100 21h0m157-4h0m-58-55h0m-29-6h0m-38 7h0m68-4h0m-67 19h0m41 5h0m56 8h0m-5 12h0m-38-21h0m-21 41h0m38 8h0m-21-60h0m-61 62h0m64 8h0m-34 47h0m-21-66h0m46 75h0m-41-122h0m-7 86h0m19-110h0m67 111h0m-100-45h0m45 49h0m92-37h0m-75-74h0m78 57h0m-43-26h0m46 34h0m-99-23h0m78 17h0m-22 27h0m-57-39h0m55 32h0m-7-22h0m-4 41h0m-24-44h0m-59-20h0m39 93h0m6 2h0m-57-88h0m2 2h0m-4 1h0m139 19h0m-87 50h0m26-41h0m-22 10h0m78-45h0m-6 72h0m22-12h0m-66-23h0m28-3h0m3-8h0m-10 42h0m-19-10h0m20 22h0m-52-6h0m28-8h0m-34-95h0m-47 40h0m12-29h0m56-21h0m1 91h0m-19-3h0m-35-59h0m52 15h0m6-17h0m-11 114h0m22-129h0m-13 87h0m67-36h0m-22-41h0m-33 23h0m26 38h0m-29-57h0m-33 73h0m-5-99h0m38 3h0m-56 33h0m5 80h0m52 20h0m54-78h0m-12-24h0m-55 81h0m-6-28h0m-42-76h0m47 26h0m26-14h0m-69 18h0m63 48h0m4-82h0m-26-7h0m12 123h0m-7-96h0m-32 51h0m22 61h0m-32-80h0m18-21h0m30-35h0m8 2h0m23 81h0m-95-3h0m119-49h0m19 38h0m-115-32h0m-12 60h0m47-92h0m80 66h0m-126 2h0m-12 12h0m57 22h0m9-32h0m-54 27h0m82-18h0m-28-43h0m-11 50h0m59-55h0m-101 29h0m23 23h0m80-63h0m5 32h0m-44 64h0m-11-104h0m-35-23h0m35 110h0m18-1h0m40-53h0m-77 68h0m49-13h0m-34 20h0m-21-93h0m7-16h0m21 37h0m-69-33h0m137 48h0m-1-6h0m-99 46h0m-38-66h0m130 6h0m13 23h0m-154-2h0m120 39h0m-90-31h0m43-81h0m32 118h0m-44-42h0m65-47h0m-81 48h0m1-22h0m-3 42h0m-30-76h0m26 81h0m-37-27h0m13 0h0m11 0h0m-2-50h0m8 4h0m8 37h0m18 24h0m48-10h0m-18 52h0m-45-101h0m86 71h0m1-9h0m-51 51h0m-84-82h0m97-25h0m16 32h0m-39-67h0m24 95h0m24 13h0m-116-50h0m46-41h0m4 96h0m64-17h0m-19-47h0m-75-21h0m99 73h0m-122-6h0m126-48h0m-131 21h0m107 26h0m29-22h0m-52-31h0m1 48h0m-71-30h0m136-1h0m-9 25h0m-93 29h0m23-3h0m20-8h0m23-4h0m-84 11h0m53-54h0m-23-15h0m-23 33h0m32-42h0m40 75h0m49-29h0m-25-50h0m-60-16h0m-25 60h0m24 67h0m-14-43h0m-20 21h0m-25-22h0m95 42h0m-49-73h0m52 43h0m-43-6h0m71-21h0m-93-3h0m101 18h0m-67-91h0m-16 63h0m-13 55h0m64-19h0m-52 1h0m-17 3h0m90-33h0m-38-67h0m60 61h0m-80 63h0m-69-46h0m97 7h0m-35-58h0m39-3h0m-45-8h0m26 9h0m7-26h0m-88 63h0m137 22h0m-89 47h0m4-135h0m-41 91h0m67-57h0m-11 97h0m25-14h0m-55-16h0m29-54h0m-12 44h0m17-8h0m-6-30h0m-55 28h0m79-2h0m6 16h0m-80 13h0m38-96h0m27 45h0m52 33h0m-34 33h0m-60-117h0m-10 62h0m86-1h0m-61-60h0m-48 60h0m135 33h0m-51-19h0m-27 0h0m-9 20h0m28-26h0m9-5h0m-17 11h0m2-14h0m-67-13h0m54 52h0m-32-89h0m51 14h0m-11 51h0m-40 21h0m44-17h0m-3-7h0m74-25h0m-79 75h0m60-25h0m-58-104h0m1 79h0m-58-3h0m44-66h0m33 111h0m52-48h0m-78-23h0m-8-17h0m44-15h0m-37 34h0m24 12h0m-29 2h0m0-55h0m37 56h0m-6-64h0m-65 41h0m48-24h0m4 123h0m-26-33h0m20-22h0m-38-7h0m73-14h0m-60 50h0m-9-97h0m97 69h0m-61-19h0m-64-46h0m29 78h0m96-19h0m4 12h0m-73 23h0m67-56h0m-1 21h0m-126 10h0m120 11h0m-59-62h0m27 23h0m-12 34h0m-13-83h0m-2-16h0m-40 47h0m11 59h0m70-35h0m-94-50h0m3 86h0m126-14h0m-71-60h0m-14 98h0m-37-39h0m64-18h0m-38 32h0m66-61h0m-45 40h0m-65 12h0m5-4h0m118 8h0m-77-89h0m-19 15h0m96 43h0m-89 41h0m40-70h0m-81 28h0m43 51h0m34-20h0m18 6h0m-45-29h0m28-60h0m8 113h0m-27-1h0" stroke="#C4A029" stroke-width="5.2" stroke-linecap="round" fill="none"/><path transform="scale(.5)" d="M1442 1011h0m2-28h0m-13 43h0m25-16h0m-46-35h0m44 35h0m-35-30h0m-3 18h0m0 9h0m1-27h0m-4 35h0m8-27h0m-5 3h0m10 28h0m4-44h0m-6 26h0m-18-28h0m52 2h0m-38 12h0m34 17h0m-24 7h0m-8 6h0m-8-28h0m12-13h0m17 41h0m-6-5h0m-12 7h0m-10-11h0m31 14h0m-23 9h0m19-43h0m-24 21h0m26 12h0m-5-2h0m-23-20h0m27 18h0m-35-40h0m16 48h0m34-18h0m-22-6h0m20-2h0m-18 1h0m21 8h0m-5 2h0m-45-28h0m4 13h0m44-19h0m0 32h0m-31-26h0m11-4h0m14 42h0m-29-32h0m13 18h0m-3-14h0m-15 21h0m-4-25h0" stroke="#54DCA9" stroke-width="5.2" stroke-linecap="round" fill="none"/><path d="M678.7 521.4L696.7 519.5L714.1 518.9L727.6 521.8L737.1 528.8L739 537.9L732.1 544.1L717.9 545.9L705.6 550.1L691.9 556.7L681.5 555.3L678 539.7Z" fill="#54DCA9" fill-opacity="0.72"/><path transform="scale(.5)" d="M1418 1063h0m37 26h0m28-20h0m-35-22h0m-56 21h0m-8 31h0m8-65h0m5 14h0m15 23h0m48 1h0m-87-10h0m39 26h0m27-43h0m-80 18h0m112 21h0m-94 30h0m-21-74h0m68 60h0m27-19h0m-87 26h0m25 3h0m45-55h0m-62 21h0m75-10h0m-39-11h0m37-12h0m-38 60h0m23-16h0m-33-33h0m0-9h0m-18 57h0m9-11h0m53-51h0m-84 54h0m108-44h0m-78 21h0m-33-9h0m117-9h0m-36 39h0m-48 2h0m52-57h0m29 10h0m-53 55h0m-34-23h0m-29 9h0m25-47h0m67-1h0m-2 50h0m-44-43h0m-47 28h0m39-35h0m66 16h0m-6 7h0m-53 8h0m42 23h0m-39-51h0m15 18h0m2-1h0m-47-1h0m47-22h0m20 17h0m-68-2h0m84-1h0m-84 46h0m72-20h0m-42-34h0m-2 40h0m31-51h0m-42 47h0m91-1h0m-91-27h0m41 40h0m36-22h0m-38-3h0m52-10h0m-83-3h0m-5 55h0m9-7h0m-4 11h0m25-64h0m10 11h0m-10 6h0m19 25h0m-3-45h0m-57 6h0m83-7h0m-111 34h0m67-24h0m-5 46h0m-27-59h0m83 25h0m-97-18h0m102 24h0m-13-2h0m-73-9h0m61-9h0m14 31h0m-54 3h0m8 1h0m24-24h0m17 1h0m-15-24h0m-14 22h0m-30 11h0m-1 1h0m5-24h0m21 51h0m-19-31h0m-14 8h0m-14 1h0m60-36h0m35 24h0m-85 26h0m28-8h0m-5-4h0m24-48h0m-65 37h0m102 11h0m-88-23h0m-23 8h0m32-4h0m73 4h0m15 14h0m-61 0h0m-64 2h0m69-7h0m-2-32h0m-25 30h0m-32 25h0m39-43h0m11-15h0m-30 4h0m29 8h0m29 25h0m-78-24h0m72 16h0m18-6h0m-88 16h0m38 12h0m-29-16h0m22 0h0m5-14h0m52 20h0m21-5h0m-44-1h0m-33 10h0m-14-46h0m-9 50h0m79-5h0m-18-38h0m-78-6h0m61 25h0m-4 31h0m-54 9h0m102-19h0m-53-40h0m-35-7h0m-10 5h0m41 52h0m3-28h0m-40-10h0m7 31h0m-10-14h0m2-3h0m3 11h0m81-11h0m-92-31h0m33 32h0m-15-27h0m77 31h0m-8-40h0m-80 66h0m54-64h0m-69 1h0m65 21h0m-15 45h0m-13-55h0m58 5h0m-82 21h0m-4-3h0m-4-7h0m27-27h0m82 17h0m-41 3h0m29 1h0m-69 48h0m38-8h0m-7-67h0m19 22h0m-4 32h0m-62-34h0m79 30h0m-28-25h0m-19 44h0m9-21h0m12 8h0m-10-49h0m35-1h0m-44 15h0m26 29h0m-26-37h0m42 38h0m-64 16h0m-17-45h0m20 50h0m58-37h0m-78 17h0m5-11h0m1 12h0m-3-21h0m101 12h0m-71-35h0m8 16h0m14 38h0m-64-45h0m90 39h0m-93-24h0m49 29h0m-28-39h0m76-10h0m4 24h0m-90-5h0m-5 48h0m-5-56h0m10 37h0m32-12h0m8-22h0m-39-13h0m34-6h0m-10 50h0m-25-39h0m2-12h0m-13 6h0m34-6h0m-18 24h0m92 3h0m16-8h0m-48-25h0m-66 28h0m42 32h0m7-55h0m-21 33h0m43-36h0m-48 37h0m80-11h0m10-1h0m-53 16h0m6-31h0m-72 1h0m23 14h0m-8-4h0m15 33h0m23-49h0m-52 43h0m95-44h0m-69 47h0m49-26h0m-18-29h0m-40 34h0m25 39h0m-15-5h0m60-47h0m-52 21h0m42-27h0m15 19h0m-52 7h0m-44-10h0m55 30h0m-43-14h0m32 9h0m46-34h0m-58-18h0m-20 55h0m62-54h0m-25 61h0m-17-48h0m33-1h0m21 33h0m-77-21h0m48 33h0m63-17h0m-92 26h0m82-40h0m-25-18h0m-15 37h0m-59-41h0m45 59h0m-36-27h0m38-37h0m3 9h0m39 36h0m-64-29h0m28 23h0m21-5h0m-7-34h0m16 15h0m-64-1h0m-30 28h0m29 33h0m55-66h0m-54 49h0m48-2h0m15 1h0m-83 3h0m72-36h0m-83-18h0m80-5h0m34 26h0m-43-10h0m-40-10h0m42 7h0m21 37h0m18-24h0m-24-24h0m-59 0h0m-25 16h0m83-15h0m-33 8h0m14-15h0m12 22h0m-6-18h0m-15 8h0m-9 23h0m5 9h0m30-18h0m-15 35h0m7-12h0m20-1h0m-23 9h0m40-6h0m-37-20h0m-22 27h0m66-33h0m7 2h0m-89 9h0m92 6h0m-125 33h0m83-32h0m-86-4h0m70 4h0" stroke="#54DCA9" stroke-width="5.2" stroke-linecap="round" fill="none"/><path transform="scale(.5)" d="M1108 650h0m4 6h0m4 6h0m230-74h0m30 158h0m-956 36h0" stroke="#59D8EA" stroke-width="5.2" stroke-linecap="round" fill="none"/><text x="314.8" y="86.2" font-size="18.5" text-anchor="middle">19</text><text x="400.2" y="90.7" font-size="18.5" text-anchor="middle">7</text><text x="310.0" y="119.9" font-size="18.5" text-anchor="middle">5</text><text x="373.4" y="141.9" font-size="18.5" text-anchor="middle">3</text><text x="288.0" y="153.1" font-size="18.5" text-anchor="middle">17</text><text x="222.0" y="169.2" font-size="18.5" text-anchor="middle">22</text><text x="429.5" y="164.3" font-size="18.5" text-anchor="middle">21</text><text x="589.6" y="148.2" font-size="18.5" text-anchor="middle">18</text><text x="663.7" y="168.7" font-size="18.5" text-anchor="middle">2</text><text x="605.2" y="189.7" font-size="18.5" text-anchor="middle">14</text><text x="268.4" y="238.5" font-size="18.5" text-anchor="middle">11</text><text x="292.8" y="274.1" font-size="18.5" text-anchor="middle">24</text><text x="449.0" y="269.3" font-size="18.5" text-anchor="middle">15</text><text x="485.6" y="273.7" font-size="18.5" text-anchor="middle">26</text><text x="277.2" y="299.5" font-size="18.5" text-anchor="middle">13</text><text x="321.1" y="293.7" font-size="18.5" text-anchor="middle">9</text><text x="705.2" y="321.5" font-size="18.5" text-anchor="middle">6</text><text x="507.6" y="382.5" font-size="18.5" text-anchor="middle">10</text><text x="330.4" y="445.0" font-size="18.5" text-anchor="middle">27</text><text x="372.4" y="438.6" font-size="18.5" text-anchor="middle">25</text><text x="730.6" y="454.7" font-size="18.5" text-anchor="middle">4</text><text x="217.2" y="492.3" font-size="18.5" text-anchor="middle">1</text><text x="206.4" y="508.4" font-size="18.5" text-anchor="middle">0</text><text x="547.6" y="498.2" font-size="18.5" text-anchor="middle">16</text><text x="399.2" y="519.2" font-size="18.5" text-anchor="middle">23</text><text x="708.6" y="538.7" font-size="18.5" text-anchor="middle">12</text><text x="529.5" y="549.4" font-size="18.5" text-anchor="middle">8</text><text x="540.3" y="582.6" font-size="18.5" text-anchor="middle">20</text><path transform="scale(.5)" d="M2302 215h0m-46 0h0m6 48h0m92 67h0m-146-58h0m140 61h0m-74-25h0m-125 24h0m124-103h0m47-25h0m-40 5h0m-124 114h0m191-26h0m-160-8h0m26-67h0m0 95h0m8-8h0m75-76h0m-40 19h0m-46-27h0m92 82h0m-155 19h0m140-74h0m-59 29h0m14 25h0m-44 17h0m-56-86h0m123 65h0m-95 57h0m168-13h0m-55-64h0m-34-40h0m-46 27h0m108-45h0m-145 138h0m97-122h0m3 24h0m85 9h0m-68-19h0m-31 44h0m-129 3h0m63-69h0m142 49h0m-83 102h0m-102-108h0m54 4h0m65 18h0m32-34h0m-46 77h0m-77-43h0m-26 42h0m63-38h0m-43-79h0m131 166h0m35-54h0m-23-16h0m-5-59h0m-22-17h0m-99 65h0m132-6h0m-37-31h0m-12-36h0m-11 0h0m82 63h0m-21 44h0m-105-132h0m-35 0h0m162 134h0m-38-28h0m-129-25h0m140 48h0m-139-21h0m125 77h0m-3-159h0m-102 131h0m30 23h0m56-13h0m-88-104h0m7-25h0m102-45h0m-47-2h0m0 153h0m46-93h0m-150-4h0m176-56h0m21 115h0m-154-5h0m102-14h0m-76-47h0m21 135h0m37-133h0m-174 87h0m180-75h0m56 55h0m-141-2h0m-35-68h0m86 111h0m62-41h0m-83-15h0m46-88h0m30 173h0m-154-159h0m60 147h0m50-74h0m-48 58h0m134-23h0m-192-50h0m157 67h0m-154-40h0m197-52h0m-172 66h0m99 22h0m-112-131h0m8 152h0m-60-63h0m60-71h0m31 103h0m-104 6h0m226-91h0m-121 47h0m131-59h0m-114 98h0m-28-111h0m106 137h0m-114-117h0m121-37h0m-108 94h0m7 69h0m-8 0h0m83-177h0m76 116h0m-101-5h0m59 48h0m-40-120h0m-117 13h0m48-5h0m134 1h0m-108 53h0m41 4h0m-96-64h0m126 156h0m-60-125h0m59-70h0m-132 134h0m-26 14h0m-27-34h0m153 8h0m-101-13h0m51 2h0m74 71h0m-58-143h0m119 27h0m-128 66h0m89-105h0m17 94h0m-42 80h0m-109-99h0m45 13h0m-46-76h0m156 93h0m-12 13h0m-160-30h0m-30 22h0m181-37h0m-13-100h0m-11 102h0m41-80h0m-160 83h0m17-28h0m-85 67h0m8-38h0m38 4h0m67-102h0m-51 66h0m65 7h0m9 37h0m-54-80h0m147 43h0m-115-5h0m-18-59h0m31 112h0m6-51h0m109 28h0m-137 21h0m135-70h0m-106 27h0m71-61h0m-66 111h0m-53-17h0m96-121h0m-45 148h0m-61 7h0m109-37h0m-177 43h0m89-63h0m-26-48h0m100-45h0m18 67h0m-61-53h0m-15 160h0m-41-163h0m55 53h0m-54 22h0m144 71h0m-20 27h0m22-63h0m-40 11h0m18-95h0m-73 13h0m32 122h0m44-21h0m24-68h0m-41 15h0m51-14h0m-239 42h0m143 6h0m83 11h0m-204-3h0m220-85h0m-150 120h0m-23-145h0m12 134h0m100-41h0m42-55h0m-52-31h0m-47 71h0m-56 50h0m172-101h0m-59-43h0m-1 102h0m-118-25h0m19 61h0m118-70h0m-137 15h0m113 0h0m-115 68h0m144-31h0m-165-81h0m188 10h0m-59-37h0m-78 35h0m43-32h0m-56 51h0m155-33h0m-40 29h0m-67 69h0m42-124h0m-58-8h0m98 20h0m-171 38h0m44-15h0m119 153h0m-127-117h0m13 55h0m130-68h0m-42 9h0m-107 0h0m135 112h0m10-81h0m-74-29h0m72 39h0m-113-112h0m136 106h0m-87-24h0m-4 29h0m31-74h0m-66 23h0m30-40h0m0 33h0m-57-18h0m168 53h0m-112 83h0m52 0h0m-23-175h0m80 89h0m-99-26h0m-62-21h0m77 78h0m-124-46h0m129 45h0m60-83h0m-122 73h0m50-38h0m-65-38h0m121-48h0m-101 80h0m-44 89h0m-42-23h0m101-24h0m64 18h0m-99 31h0m-27-29h0m82-17h0m68-76h0m-64 66h0m6 58h0m-53-42h0m67 36h0m28-62h0m-178 19h0m235-69h0m-142 121h0m6 2h0m10-64h0m62-105h0m-68 108h0m35 35h0m-81-40h0m-11 9h0m119-66h0m-147 99h0m125-72h0m54 108h0m-96-145h0m23 108h0m-54-107h0m131 90h0m-17-6h0m-108-4h0m41-79h0m99-27h0m-158 87h0m173-18h0m-138 16h0m72 66h0m-41-2h0m0-135h0m-64 37h0m93 73h0m-48-29h0m3 81h0m0-181h0m-37 148h0m42-143h0m32-5h0m-130 54h0m137-69h0m21 165h0m-26 4h0m39-74h0m-100 13h0m125-6h0m-152-67h0m-41 109h0m69 26h0m20 25h0m-87-102h0m158 2h0m-117-20h0m168 38h0m-158-36h0m53 111h0m5-10h0m-94-94h0m-12 4h0m-3 47h0m35 16h0m84-37h0m-92-98h0m108 129h0m-46-35h0m-37-90h0m158 88h0m-6-24h0m-191 64h0m69-44h0m23-55h0m-55 40h0m6-68h0m154 109h0m-96-74h0m90 12h0m-154 90h0m79-124h0m-27 152h0m65-68h0m4 50h0m18-65h0m-104 33h0m11 49h0m-33-66h0m76 44h0m-101-62h0m153 33h0m-166-18h0m15 20h0m-67 10h0m57-83h0m77 26h0m77 6h0m-39-43h0m-99 62h0m35-84h0m-111 77h0m118-69h0m72 132h0m-119-118h0m65 20h0m29 45h0m-145 33h0m79 5h0m-33-87h0m80 54h0m32 4h0m37 41h0m-3-143h0m-134 36h0m133-28h0m-162 57h0m-7-36h0m133 6h0m-151 6h0m59-55h0m-25 142h0m169-61h0m-153 6h0m-15 20h0m66 29h0m82-52h0m-109-20h0m30 73h0m66-70h0m48 33h0m-90-5h0m51 93h0m-152-132h0m-1-1h0m-33 87h0m34-61h0m151 97h0m37-137h0m-220 103h0m212-89h0m-87-28h0m25 109h0m-175-7h0m184 8h0m-55-50h0m44-83h0m-126 152h0m153 38h0m-104-24h0m28-66h0m72-11h0m-70 36h0m40-90h0m-36-47h0m-69 15h0m-9 104h0m68 26h0m68-50h0m-109 50h0m78-125h0m-91 19h0m92-31h0m-52 61h0m-77 77h0m68-98h0m104 96h0m-160 10h0m158-145h0m37 21h0m-104-22h0m-3 23h0m-8 108h0m19-83h0m2 52h0m1-90h0m56 61h0m-123-36h0m20 84h0m27 22h0m-4 17h0m61-84h0m4-7h0m-76 52h0m118-113h0m-176 26h0m144 4h0m-29-49h0m-89 149h0m175-52h0m-227 61h0m181-7h0m-89-146h0m69 69h0m-169 63h0m117 52h0m-15-19h0m60-83h0m-128 8h0m86-80h0m-26 30h0m54 82h0m20 2h0m46 24h0m-75-125h0m-73 89h0m-16-14h0m87-48h0m-96 90h0m8-107h0m111 55h0m-104-64h0m125 24h0m-110 61h0m31-53h0m82-49h0m34 106h0m-31-91h0m-183 116h0m222-114h0m-91 133h0m-79-90h0m3-4h0m66 78h0m-17 43h0m42-132h0m-69-45h0m154 56h0m-68 51h0m-110 0h0m163 35h0m-42-81h0m-13 69h0m-46-96h0m41 20h0m-81 9h0m114-37h0m1 108h0m-155 29h0m120-99h0m-61-59h0m109-2h0m0-4h0m-16 141h0m-33-61h0m-114 68h0m116-119h0m-161 65h0m74-97h0m106-9h0m-126 100h0m85 58h0m-62-14h0m38-78h0m-43 73h0m6-66h0m137 74h0m-28-100h0m9 95h0m-159-70h0m6-4h0m139 84h0m-18-78h0m-89-19h0m-34-8h0m-7 63h0m148 63h0m-16-135h0m-2 21h0m-62-52h0m34 11h0m-65 59h0m-14 21h0m61 36h0m31-85h0m-48 133h0m87 22h0m-85-120h0m128-29h0m-199 23h0m74 95h0m125-118h0m-25 123h0m-157-144h0m15-15h0m163 86h0m-101 37h0m-25 26h0m-38-110h0m139 50h0m-87 66h0m76-118h0m31 58h0m-222 56h0m96 14h0m98-47h0m-98-59h0m1 25h0m83 42h0m-183 8h0m177-35h0m-80 40h0m79-100h0m9 68h0m-25 36h0m-156-18h0m169-8h0m-163 14h0m111-146h0m25 177h0m-56-95h0m49 86h0m-120 1h0m159-25h0m-157-13h0m-34 23h0m143-111h0m-16 136h0m2-134h0m-60 1h0m109 66h0m52-64h0m-23-50h0m-19 5h0m31 128h0m-57 16h0m-129-89h0m116 37h0m9-33h0m26-52h0m28 18h0m-91 141h0m45-146h0m64 134h0m-114-64h0m93 60h0m9-152h0m-9 149h0m-58-147h0m88 56h0m-68-38h0m-37 32h0m44 110h0m39-81h0m-63 61h0m-7-8h0m-22-92h0m35 67h0m-16-38h0m67 66h0m-63 42h0m7-66h0m-43 38h0m85-107h0m22 32h0m7-12h0m-148 33h0m1-42h0m164 76h0m-65-75h0m1-10h0m-110-35h0m113 2h0m-68 133h0m4-16h0m75-96h0m-20-39h0m22 149h0m-128-89h0m149 117h0m-195-6h0m106-125h0m-32-29h0m-77 87h0m32-16h0m139 28h0m-150 1h0m155 93h0m-49-27h0m-85-162h0m129 111h0m-125-85h0m-38 57h0m118-30h0m-2 60h0m86-66h0m-115 61h0m75 48h0m22-52h0m-203 29h0m29-87h0m122 109h0m27-9h0m-109-138h0m86 70h0m-2 43h0m13-111h0m-43 30h0m37-30h0m46 70h0m-17 25h0m-107-33h0m103 59h0m-18-96h0m-22 100h0m46-20h0m-51 42h0m-54-165h0m132 73h0m-170 50h0m174-19h0m-85 47h0m-69-118h0m107 69h0m-71 50h0m-34-99h0m102 7h0m-127 8h0m30 30h0m18 40h0m50-79h0m-13 16h0m1 60h0m-84-66h0m128-16h0m-141 76h0m170-69h0m-123-38h0m-29-10h0m180 101h0m-152-13h0m121-66h0" stroke="#5CBE28" stroke-width="5.2" stroke-linecap="round" fill="none"/><path transform="scale(.5)" d="M2321 266h0m-11-17h0m-21-20h0m35 38h0m-33 1h0m8 0h0m-3-40h0m16 7h0m-52 8h0m31 29h0m29-10h0m-25 14h0m-16-50h0m50 26h0m-43-17h0m49 23h0m-7-14h0m-41 31h0m43-34h0m-2 18h0m11-8h0m-62 6h0m28-28h0m5 21h0m10-6h0m12-13h0m-10 5h0m-59 5h0m41 3h0m-1 30h0m-15-6h0m-16 0h0m44-33h0m5-7h0m-38 24h0m-18-2h0m10 21h0m30 6h0m-18-9h0m-10-3h0m22-15h0m-23-13h0m9 16h0m-2 6h0m-6-29h0m23 24h0m-4 15h0m9-29h0m16 3h0m-36 0h0m1 27h0m19-6h0m7-33h0m-33 7h0m56 25h0m-45-6h0m-7-24h0m25 13h0m-39-4h0m-10 13h0m27 1h0m17-10h0m4-21h0m-49 22h0m75 19h0m-68-18h0m16 8h0m26 10h0m29-11h0m-58-16h0m52 6h0m-18-16h0m14 27h0m-49-26h0m13 20h0m-16 18h0m68-19h0m-62-19h0m18 7h0m29 7h0m-38 4h0m46 18h0m-53-1h0m61-21h0m-74 4h0m3 10h0m34-14h0m29 6h0m-72 11h0m54 7h0m-30-18h0m36 6h0m-28-30h0m37 12h0m-31 1h0" stroke="#5CBE28" stroke-width="5.2" stroke-linecap="round" fill="none"/><path d="M1050.5 171L1050.3 172.9L1049.7 174.7L1048.7 176.2L1047.3 177.5L1045.7 178.2L1044 178.5L1042.3 178.2L1040.7 177.5L1039.3 176.2L1038.3 174.7L1037.7 172.9L1037.5 171L1037.7 169.1L1038.3 167.3L1039.3 165.8L1040.7 164.5L1042.3 163.8L1044 163.5L1045.7 163.8L1047.3 164.5L1048.7 165.8L1049.7 167.3L1050.3 169.1Z" fill="#5CBE28" fill-opacity="0.8"/><path transform="scale(.5)" d="M2082 329h0m7 31h0m-7-23h0m3 13h0m6-20h0m-4-5h0m5 13h0m-14 17h0m16-16h0m8 2h0m-13 6h0m-11 8h0m2-4h0m-1 3h0m-1-20h0m5-7h0m19 22h0m-20-19h0m15 24h0m-9-26h0m0 25h0m-1-28h0m6 6h0m-18 11h0m9 17h0m7-15h0m-6 3h0m7 8h0m-8-21h0m9 3h0m-1 11h0m7-13h0m-20 4h0m1-5h0m-3 10h0m5-5h0m10-12h0m-6-2h0m12 29h0m5-12h0m0-2h0m-19-5h0m-3 21h0m10-10h0m-1 8h0m-12-21h0m14 11h0m5 5h0m-1 3h0m-5-6h0" stroke="#5CBE28" stroke-width="5.2" stroke-linecap="round" fill="none"/><path transform="scale(.5)" d="M2241 578h0m-152-60h0m77 130h0m-15-32h0m69-15h0m37 17h0m-127-100h0m98 94h0m-74-11h0m27-50h0m-29-29h0m12 11h0m80 44h0m-30-71h0m-23 13h0m2 54h0m-43 78h0m-57-122h0m115 131h0m-47-62h0m36-67h0m-79-33h0m63 55h0m-20 28h0m101-45h0m13 24h0m-28 18h0m-15 72h0m-61-100h0m-9-52h0m12 24h0m10 62h0m-5 48h0m26-42h0m21-57h0m-65-44h0m63 31h0m-5-11h0m-51-18h0m35 164h0m-20-71h0m-6-46h0m88 55h0m-125-100h0m117 77h0m-136-22h0m9 18h0m45-70h0m-13 0h0m41 153h0m37-38h0m26-1h0m-43-29h0m-47 61h0m49-88h0m-97 20h0m90-60h0m-100-13h0m11 21h0m60 39h0m21 69h0m57-64h0m-71-51h0m-64 79h0m77 4h0m-22 26h0m61 15h0m2-37h0m8-36h0m-149 36h0m28-72h0m9 103h0m55-24h0m-50 19h0m43 2h0m62-13h0m-143-12h0m20-131h0m59 25h0m14 156h0m-23-118h0m-22-84h0m53 147h0m-6-23h0m-82 3h0m0-29h0m135-11h0m-88 121h0m-34-194h0m-19 156h0m36-141h0m6 98h0m-3-16h0m5-127h0m2 73h0m51 100h0m-30 28h0m-27-126h0m-27 38h0m21 96h0m78-58h0m-41 8h0m-66-108h0m33 89h0m1 67h0m43-4h0m29-24h0m-24-94h0m-87-8h0m1 20h0m66 24h0m-13-90h0m48 83h0m-82 52h0m-26-73h0m66 129h0m-23-27h0m2-98h0m49 122h0m-22-78h0m-11-47h0m8 65h0m-17-98h0m60 49h0m-29 25h0m-19-4h0m-6-6h0m26 100h0m-73-87h0m61 28h0m43 28h0m-108-157h0m102 36h0m-10 59h0m-45-28h0m33 58h0m-76-6h0m66-14h0m69 46h0m-71-67h0m-52-51h0m27-70h0m14 222h0m-89-163h0m124 46h0m-15-13h0m-44-5h0m57 40h0m4-29h0m-66 91h0m-19-55h0m77-59h0m42 108h0m-109 5h0m1-130h0m39 73h0m33 46h0m-17-10h0m48 14h0m-138-96h0m82 32h0m-39-12h0m-63-43h0m169 121h0m-43 28h0m-59-193h0m-68 43h0m8 14h0m98-29h0m46 69h0m21 23h0m-80 61h0m86-37h0m-6 8h0m-128-103h0m44-46h0m79 148h0m-54-131h0m-48 28h0m96 19h0m-63 120h0m26 6h0m-94-61h0m3-86h0m-2 84h0m69-42h0m-37 92h0m35-161h0m-57 117h0m106 55h0m-74-201h0m75 133h0m-58 11h0m73 45h0m-52-72h0m-43-19h0m63 73h0m-115-113h0m26 5h0m123 98h0m-46-107h0m7 150h0m-31-119h0m-63-47h0m43 58h0m-74-37h0m100 4h0m-89-16h0m105 134h0m-14-20h0m-56-118h0m111 66h0m21-16h0m-2 76h0m-29-63h0m-124 45h0m98-48h0m-42 63h0m40-10h0m36-8h0m-117-17h0m48 46h0m76-15h0m7-25h0m-13-57h0m-68 26h0m28 105h0m-56-14h0m-13-130h0m24 38h0m-12 91h0m8-65h0m79-29h0m-118-53h0m107 152h0m-33-87h0m-25 48h0m-52-95h0m-9 22h0m68-43h0m30 123h0m-9-161h0m75 108h0m-78 83h0m-23-163h0m-38 62h0m24 111h0m-15-66h0m83-21h0m-17 59h0m-54-131h0m-19 100h0m9 53h0m9-127h0m61 122h0m-27-99h0m-8 10h0m-9-73h0m-57 23h0m66 60h0m2-71h0m-22 145h0m49-44h0m-10-60h0m-52-9h0m113 103h0m-149-113h0m108 78h0m-53 60h0m8-178h0m-51 68h0m-13-43h0m79 18h0m-30-49h0m-60 59h0m27 87h0m36-77h0m-39-55h0m67 39h0m-37 90h0m52-32h0m30-36h0m-22-21h0m26 25h0m-31-37h0m-15 141h0m-20-186h0m66 113h0m-112 42h0m147-47h0m-98 67h0m56-14h0m-39-2h0m-33-140h0m45 131h0m6-92h0m-8-69h0m-24 136h0m90-39h0m-112-18h0m-14 82h0m133-74h0m-94 90h0m71-59h0m18-14h0m-88-100h0m22 119h0m-75-80h0m137 123h0m-11 13h0m-55 14h0m-35-124h0m94 43h0m10 36h0m-20-65h0m-50-66h0m17 165h0m32-49h0m-47 7h0m56-29h0m0 0h0m-49-28h0m-10-35h0m-55 143h0m-17-100h0m127 26h0m-125 43h0m41-26h0m74-2h0m-49 10h0m-58-76h0m39-75h0m-50 45h0m19 25h0m-18 6h0m71 25h0m15-10h0m-88-42h0m43 69h0m42 69h0m23-40h0m-105-5h0m89-58h0m-80-16h0m119 42h0m-102 73h0m-29-44h0m91 43h0m-11-12h0m-46-138h0m95 57h0m-103 9h0m74-13h0m-13 18h0m-33 111h0m-1-178h0m15 159h0m-26-10h0m20-75h0m95 42h0m-115 25h0m-15-113h0m82 121h0m-20-34h0m-115-71h0m69-78h0m-8 35h0m69 173h0m-118-158h0m90 3h0m36 142h0m-69-189h0m-31 183h0m129-52h0m-32 47h0m6-38h0m3-59h0m-117 60h0m64-62h0m-16 106h0m-30 7h0m44-178h0m-5-29h0m-48 148h0m110 55h0m-133-124h0m21 90h0m50 6h0m-70-101h0m135 42h0m-122-48h0m78 46h0m-83-22h0m141 40h0m-104 47h0m30-54h0m10-5h0m28-2h0m-37-69h0m4 1h0m-64 33h0m37 135h0m98-120h0m-20 8h0m-98-79h0m23 49h0m39 108h0m23-108h0m-50 8h0m30 126h0m-52-123h0m52 106h0m-1-119h0m-19-24h0m-34-34h0m-23 85h0m62-46h0m-29-23h0m-33 91h0m-6-30h0m146 22h0m-26 9h0m-126-69h0m140 65h0m-89-109h0m-39 72h0m-35-22h0m39-20h0m-14 57h0m117 33h0m-49 80h0m39-39h0m-72 7h0m24-35h0m-9-118h0m-10 77h0m-27 37h0m58 61h0m-6-162h0m-22-19h0m66 102h0m-116-74h0m163 116h0m-7-75h0m-147-30h0m-1 31h0m71 77h0m-26 52h0m69-26h0m-31-119h0m-89 90h0m150-63h0m-67 44h0m-36-24h0m47-56h0m-41 121h0m46-83h0m-115-49h0m149 47h0m-77-49h0m-2 28h0m20-62h0m17 133h0m-41 43h0m92-25h0m-87-108h0m11 111h0m3-71h0m31 7h0m-22 44h0m-3-37h0m-26 87h0m-74-133h0m162 35h0m-47 66h0m-15-76h0m-75-11h0m15-37h0m79 101h0m-40-135h0m86 173h0m-135-90h0m-22-39h0m143 98h0m34 3h0m-109-141h0m36 149h0m-47 24h0m-39-126h0m43 123h0m37-56h0m-57-14h0m5 10h0m70-24h0m-76-36h0m61 106h0m-46-5h0m59 3h0m50-51h0m13 51h0m-131-61h0m2-51h0m21 66h0m-19 76h0" stroke="#5CBE28" stroke-width="5.2" stroke-linecap="round" fill="none"/><path transform="scale(.5)" d="M2433 586h0m16 18h0m-27-27h0m26 11h0m-27 10h0m23-73h0m-22-38h0m6 91h0m8 6h0m-5-5h0m1-2h0m14 0h0m-14-83h0m15 103h0m-24-47h0m21-30h0m-65-70h0m55 36h0m-3 73h0m25-10h0m-25 10h0m-6 48h0m26-102h0m-4 29h0m-11-37h0m15 73h0m8 4h0m-19 12h0m7-25h0m-17 23h0m8 7h0m13-7h0m-29-103h0m-38-20h0m38 105h0m-3 35h0m39-99h0m-11-12h0m-29 112h0m8-57h0m25 11h0m-33 27h0m34 15h0m5-64h0m3 5h0m-59-70h0m44 138h0m-6-11h0m20-37h0m-71-100h0m35 23h0m31 82h0m-33 10h0m12-89h0m3 6h0m23 93h0m-7-46h0m10-29h0m2 29h0m-55-69h0m46 83h0m4-34h0m-83-64h0m54 94h0m5-19h0m20-23h0m-6 98h0m-14 3h0m11-17h0m-14-28h0m-17 42h0m38-89h0m-28 72h0m32-30h0m-12-7h0m-6-7h0m-9 36h0m1-85h0m13 109h0m-17-113h0m1-12h0m-1 121h0" stroke="#5CBE28" stroke-width="5.2" stroke-linecap="round" fill="none"/><path transform="scale(.5)" d="M2496 577h0m-10-6h0m0-31h0m16 18h0m-8-7h0m-1 18h0m-10-14h0m17 29h0m-15-55h0m14 53h0m-13-19h0m13-38h0m-1 50h0m-14-30h0m1 24h0m13-12h0m-9-33h0m0 26h0" stroke="#5CBE28" stroke-width="5.2" stroke-linecap="round" fill="none"/><path transform="scale(.5)" d="M2289 883h0m-3-5h0m-24 7h0m48-19h0m2 1h0m-57 14h0m2 4h0m-1-4h0m58-10h0m-54 16h0m59-24h0m-33 24h0m-20 4h0m13-10h0m54-37h0m-38 39h0m32-31h0m-17 20h0m-17 10h0m-7 5h0m-24 3h0m19-9h0m14 0h0m10-5h0m-50 2h0m11 14h0m16-7h0m45-33h0m-19 19h0m13-17h0m-44 30h0m-21-5h0m55-6h0m-20 12h0m-17-7h0m6 1h0m43-18h0m-70 13h0m24 19h0m-2-12h0m2 0h0m-8 4h0m19 3h0m16-20h0m17-7h0m-49 24h0m38-13h0" stroke="#5CBE28" stroke-width="5.2" stroke-linecap="round" fill="none"/><path transform="scale(.5)" d="M2327 850h0m8-3h0m-17 19h0m-22 9h0m25-10h0m-19-2h0m7 11h0m-11-5h0m0 2h0m13-13h0m7 3h0m15-11h0m-31 24h0m22-17h0m4-10h0m-12 23h0m4-13h0m-15 20h0m15-27h0m-19 19h0m17-5h0m-1 0h0m3-7h0m-16 14h0m13-5h0m7-10h0m-9 1h0m-2 1h0m-1 1h0m-14 5h0m-5 8h0m24-6h0m-11 1h0m2-2h0m-14 4h0m14-6h0m9-6h0m-7 9h0m-4-5h0m7-7h0m8 3h0m-15 4h0" stroke="#5CBE28" stroke-width="5.2" stroke-linecap="round" fill="none"/><path transform="scale(.5)" d="M2657 279h0m31 31h0m16 6h0m8-4h0m12 8h0m16-10h0m-40 34h0m16 8h0m8-6h0m12 10h0m10-12h0m24 6h0m14-2h0m12 4h0" stroke="#C4A029" stroke-width="5.2" stroke-linecap="round" fill="none"/><path transform="scale(.5)" d="M2755 388h0m16-27h0m11 23h0m9-4h0m-8-33h0m0 16h0m-28 29h0m15-23h0m5 4h0m-16 6h0m16 37h0m17-50h0m-12-20h0m20 36h0m-40-16h0m41 16h0m-16-10h0m-32-2h0m46 28h0m-38-23h0m24-19h0m-34 16h0m-5-10h0m59 1h0m-35 38h0m-19-34h0m36 9h0m-34-18h0m31 51h0m-14-43h0m-27-10h0m27 21h0m28-7h0m-50 0h0m5 21h0m16 25h0m20-56h0m-28-4h0m24 14h0m-1 48h0m-23-18h0m3-46h0m4 64h0m-19-54h0m32 41h0m-34-24h0m19 6h0m31-42h0m3 42h0m-31-2h0m-23-7h0m46-14h0m-4 17h0m-4 7h0m-12 18h0m-3-2h0m22 9h0m-5-8h0m-7-44h0m14 46h0m-14-39h0m-18 42h0m20-33h0m-21 11h0m5 10h0m22-40h0m3-3h0m-30 53h0m-4-42h0m40 7h0m-47-20h0m19 39h0m-15-25h0m2-19h0m24 38h0m3 12h0m-37-28h0m13-7h0m37 4h0m-29 32h0m-3-26h0m22 40h0m-38-31h0m47-27h0m14 25h0m-14 1h0m-22-34h0m34 29h0m-11-26h0m-20 22h0m22-27h0m-30 61h0m3-47h0m32 38h0m-11-20h0m-4-20h0m7-9h0m-26 52h0m34-41h0m-4 13h0m-19 16h0m15-41h0m-4 27h0m-15 44h0m-28-41h0m15 12h0m39-13h0m-6 30h0m-13-52h0m6-8h0m-4 19h0m-4 28h0m14-12h0m-10-33h0m17 0h0m-6 32h0m4-10h0m-39 13h0m30-36h0m-2 60h0m-25-56h0m14 62h0m6-56h0m-6 30h0m-6 20h0m3-40h0m13-5h0m-10-4h0" stroke="#C4A029" stroke-width="5.2" stroke-linecap="round" fill="none"/><path d="M1384.9 187.2L1397.3 183.3L1399.5 196L1394.5 205.6L1386.6 205.6L1383.5 196.8Z" fill="#C4A029" fill-opacity="0.7"/><path transform="scale(.5)" d="M2787 387h0m1-14h0m1 13h0m3-11h0m2 28h0m-10-13h0m-8 13h0m8-33h0m0 13h0m4-16h0m2 21h0m-18-14h0m4 0h0m6 22h0m-1-3h0m3-2h0m0 12h0m5-3h0m-10-24h0m-2 28h0m3-9h0m8 10h0m-19-11h0m22 10h0m-9-13h0m0-21h0m0 42h0m-6-34h0m-8 19h0m15-27h0m1 14h0m-10 14h0m18 2h0m1-12h0m4-19h0m-4 11h0m-8 19h0m-12-27h0m10 31h0m18-10h0m-14 21h0m10-18h0m-29 4h0m26 0h0m-21 11h0m10-17h0m0-20h0m10 27h0m-15 4h0m8 5h0m0-33h0m-11 31h0m8-14h0m5-19h0m-8 13h0m10 9h0m-15 12h0m-1-6h0m17 8h0m-20-4h0m6-11h0m-6 8h0m19-18h0m-17 5h0m-2-8h0m14-10h0m7-2h0" stroke="#C4A029" stroke-width="5.2" stroke-linecap="round" fill="none"/><path transform="scale(.5)" d="M2846 656h0m21-13h0m-22-10h0m21 14h0m-23 13h0m-6 3h0m15-48h0m-15 0h0m-17 1h0m5 1h0m-8 4h0m49 28h0m-43-16h0m15 39h0m35-26h0m-23-28h0m11 20h0m4-20h0m-40 45h0m45-11h0m-41-31h0m6-1h0m7 34h0m-7-18h0m20 36h0m-24-13h0m30-4h0m-14 15h0m10 1h0m15-9h0m-36-25h0m29 1h0m-37 3h0m46 11h0m-8-21h0m14 19h0m-47 6h0m18-15h0m-33 2h0m19 8h0m-6-23h0m47 6h0m-18 36h0m-28-28h0m-20 0h0m27 33h0m35-51h0m-40 23h0m11 22h0m7-3h0" stroke="#5DCDF4" stroke-width="5.2" stroke-linecap="round" fill="none"/><path d="M1437.5 320L1437.3 323.1L1436.5 326.1L1435.2 328.7L1433.4 330.7L1431.3 332L1429 332.5L1426.7 332L1424.6 330.7L1422.8 328.7L1421.5 326.1L1420.7 323.1L1420.5 320L1420.7 316.9L1421.5 313.9L1422.8 311.3L1424.6 309.3L1426.7 308L1429 307.5L1431.3 308L1433.4 309.3L1435.2 311.3L1436.5 313.9L1437.3 316.9Z" fill="#5DCDF4" fill-opacity="0.75"/><path transform="scale(.5)" d="M2860 626h0m15 12h0m-25-15h0m-5 11h0m10 32h0m-3-38h0m-2 22h0m16-33h0m6 18h0m-18 7h0m-15 6h0m5-4h0m7 10h0m-3-3h0m22-7h0m-9-18h0m-20 26h0m30-28h0m1 19h0m-16 20h0m14-6h0m-24-34h0m20 3h0m-2 15h0m10 3h0m-22-24h0m6 48h0m2-43h0m-14 19h0m24-24h0m-7 2h0m13 26h0m-18 10h0m-15-28h0m17 18h0m-6 4h0m6-16h0m2-5h0m-6 0h0m5 17h0m-2-35h0m-1 38h0m4-3h0m4-10h0m-4 23h0m-8-3h0m-1-19h0m17-1h0m-25-14h0m-5 5h0m30 6h0m-13 3h0m9-21h0m-4 5h0m-4 1h0m14 13h0m-11-16h0m-15 38h0m16-37h0m-15 16h0m3-7h0m21 13h0m-15-21h0m17 11h0m-6-5h0m3 31h0m-7-2h0m-19 1h0m19 6h0m14-26h0m-13-10h0m-22 21h0m28-15h0m-15 23h0m21-21h0m-9 14h0m-1-12h0m-27-4h0m2 12h0m25-11h0m-16 23h0m7-38h0m-4 1h0m-13 30h0m5-11h0m24 16h0m-15-5h0m20-10h0m-17-28h0m-16 37h0m1 5h0m33-5h0m-8 3h0m-15-22h0m12 12h0m-2-20h0m-21 4h0" stroke="#5DCDF4" stroke-width="5.2" stroke-linecap="round" fill="none"/><path transform="scale(.5)" d="M2474 748h0m6 18h0m12 14h0m8-10h0m12-26h0m4 8h0m8-12h0m8 6h0m8-4h0m6 10h0m6-8h0m-28 18h0m-16-36h0m16-4h0m-6 64h0" stroke="#A78AFF" stroke-width="5.2" stroke-linecap="round" fill="none"/><path transform="scale(.5)" d="M2473 780h0m-9 2h0" stroke="#F8766D" stroke-width="5.2" stroke-linecap="round" fill="none"/><path transform="scale(.5)" d="M2062 828h0m63 74h0m-48 111h0m-26-136h0m8 144h0m44 37h0m-14-7h0m-1-78h0m27 39h0m-40-122h0m15 109h0m-35-54h0m-13 82h0m184-81h0m-130 35h0m-15 22h0m2-114h0m-6 47h0m-29 87h0m67-3h0m-51-26h0m142-28h0m-94-74h0m-78 62h0m39-54h0m43 19h0m-16 100h0m-33-43h0m81 11h0m31 35h0m-54-16h0m62-44h0m-25 44h0m10-42h0m-124 40h0m16 40h0m-2 0h0m18-108h0m99 25h0m-78 74h0m-11-74h0m-26-93h0m-8 66h0m83 24h0m-42 61h0m1-139h0m-10 14h0m-54 103h0m123-9h0m21 11h0m-31 39h0m-93 9h0m46-116h0m78 97h0m-78-62h0m8-10h0m-22-50h0m32 104h0m-83-19h0m85 23h0m113-70h0m-148-14h0m3-19h0m-10-68h0m-49 26h0m67 186h0m85-29h0m-71 4h0m-57-166h0m27 39h0m100 125h0m-118-164h0m27 142h0m-44-37h0m65 73h0m-66-6h0m32-185h0m16 72h0m38 87h0m-6 13h0m36-64h0m-131 39h0m1-126h0m38-27h0m110 152h0m-143-58h0m-7 61h0m34 50h0m167-101h0m-70 60h0m17-35h0m-85 32h0m-4 37h0m57-115h0m-2 23h0m-8 100h0m-26-132h0m1 36h0m-80 50h0m103-24h0m-77-9h0m52-1h0m-20 78h0m77-75h0m15 17h0m-104 8h0m-36-101h0m58 33h0m11 14h0m12 58h0m80-22h0m-60 58h0m-46-84h0m-46-59h0m37-7h0m73 42h0m70 17h0m-175-24h0m-15-36h0m28-27h0m-41 77h0m113 41h0m-62-30h0m-19 81h0m31-77h0m6-33h0m-27 105h0m-9-93h0m57 44h0m-48-117h0m115 112h0m-93-58h0m-21 103h0m126-47h0m-123-56h0m36 133h0m5-172h0m-75 87h0m0 11h0m61-94h0m-18 0h0m-37 48h0m37 45h0m54 83h0m51-83h0m-65 20h0m15-82h0m40 116h0m-56-8h0m59 11h0m-36-34h0m-14-6h0m-33-93h0m84 132h0m-124-169h0m87 109h0m-7 85h0m-94-178h0m-7 113h0m118-16h0m-21 49h0m-53-100h0m26-46h0m82 98h0m-103 18h0m-9 14h0m12 44h0m-28-214h0m10 142h0m-28 36h0m33-95h0m50 108h0m-94-72h0m91 0h0m71 54h0m-95-109h0m51 45h0m-88-11h0m132 63h0m-101 13h0m23-124h0m-9 110h0m-46-13h0m4-88h0m25 48h0m90 65h0m-56-35h0m-23-29h0m-28 63h0m34-83h0m52 96h0m-47-31h0m-56-97h0m133 77h0m-114 29h0m21-83h0m24 70h0m49-41h0m-26 95h0m-29-31h0m-15-114h0m-13 159h0m-26-14h0m-12-55h0m-13-108h0m9 19h0m140 118h0m-104 6h0m-23-120h0m72 56h0m-82 39h0m76-3h0m28-65h0m-66-13h0m67 27h0m-84-96h0m-35 123h0m54-97h0m74 142h0m-69-60h0m-53 81h0m-7-46h0m127-39h0m-5 54h0m-20 31h0m-18 6h0m70-51h0m-88-86h0m88 67h0m-9 9h0m-92-27h0m-63 21h0m50-127h0m-7 189h0m-46-93h0m148 9h0m-40 53h0m-17 13h0m-11-59h0m60 85h0m-124-40h0m32-185h0m-8 121h0m-26-70h0m45 185h0m58-50h0m-99-57h0m9-52h0m48 49h0m-44 65h0m-12-150h0m80 183h0m38-111h0m-134 56h0m24-71h0m106 28h0m-42 79h0m-41 27h0m73-84h0m53 20h0m-10-3h0m-145-39h0m17 16h0m23-25h0m-67 27h0m57-111h0m111 127h0m-105-69h0m-3 149h0m-44-59h0m43-137h0m-33 144h0m39 19h0m10 8h0m-57-108h0m64-50h0m-64 132h0m17-34h0m2-143h0m4 61h0m54 117h0m77-15h0m-49 44h0m-40-151h0m73 144h0m-132-12h0m115-65h0m16 61h0m-30-70h0m-26 39h0m-9-86h0m-26 122h0m43-47h0m7 34h0m-12-77h0m-70-50h0m26 144h0m54-103h0m-23 89h0m9 4h0m-48-136h0m-18 71h0m12-91h0m27 137h0m14 54h0m-59-26h0m41 2h0m16-126h0m33 121h0m-39-149h0m39 90h0m-41-60h0m96 84h0m-112-145h0m47 186h0m95-53h0m-113 6h0m-27-50h0m-37 23h0m8-87h0m-22 99h0m164 23h0m-148-30h0m68 31h0m-14 44h0m40-107h0m-22 48h0m18 52h0m38-14h0m-123-156h0m93 58h0m-85 137h0m9-43h0m16-118h0m-56 48h0m116 3h0m7-4h0m-37-45h0m-11 10h0m7 108h0m47-26h0m-112-11h0m28-106h0m80 98h0m-68-43h0m-18-54h0m5 23h0m-15-28h0m97 142h0m-90-70h0m164 15h0m-119 13h0m-6 67h0m85-11h0m-115-88h0m-19-49h0m61 109h0m-39-110h0m-51 79h0m159 0h0m-58 14h0m23 48h0m17-24h0m-41 21h0m-81-54h0m37-92h0m85 91h0m-93-73h0m-14 107h0m122 24h0m38-66h0m-154 97h0m2-118h0m11-79h0m62 118h0m-38 2h0m-61 47h0m71-84h0m-73-55h0m102 69h0m44 35h0m-82-114h0m70 117h0m-84 17h0m-48-100h0m58 131h0m91-24h0m-9-17h0m-112-173h0m-16 51h0m70 30h0m-43-45h0m7 143h0m48-31h0m-61 5h0m-5-9h0m-6 39h0m103-55h0m-112-35h0m104 67h0m-119-11h0m-9-40h0m51-43h0m58 145h0m-57-3h0m40-65h0m-6-82h0m78 95h0m-9-3h0m4-6h0m-141-114h0m137 168h0m-12-81h0m-69 118h0m5-120h0m66 44h0m-125-134h0m108 133h0m-36-16h0m-22-15h0m64-11h0m-92-84h0m70 94h0m-71-79h0m10 31h0m104 84h0m5 12h0m-135-34h0m11-9h0m46-20h0m-81 37h0m89 56h0m-56-189h0m32 147h0m128-35h0m-68 87h0m-19-18h0m-29-142h0m84 144h0m-72 32h0m86-89h0m-98 76h0m-21-109h0m-24 8h0m77-28h0m-90 27h0m-6 3h0m10 71h0m60-136h0m41 149h0m26-78h0m-116-18h0m164 15h0m-158 38h0" stroke="#F8766D" stroke-width="5.2" stroke-linecap="round" fill="none"/><path transform="scale(.5)" d="M2115 972h0m-2-23h0m0 12h0m37 8h0m-13 27h0m1-48h0m10 62h0m1-33h0m-18-55h0m11 106h0m-25-62h0m46 5h0m-41 37h0m23-78h0m-1 58h0m10 20h0m-25-80h0m19 109h0m1-100h0m17 71h0m-10-67h0m-2 3h0m12 70h0m-36-85h0m31 106h0m-23-13h0m-2-6h0m31-33h0m-27 2h0m-34-27h0m27-4h0m33 31h0m3 4h0m-30-12h0m21 43h0m-57-95h0m69 97h0m-25-59h0m26 37h0m-22-31h0m6 25h0m-40-16h0m3 1h0m-25-55h0m57 34h0m15 56h0m1-6h0m-19-49h0m-12-7h0m-22 11h0m-6-39h0m14 99h0m39-53h0m-25-26h0m28 82h0m-6-59h0m-28-30h0m-24-10h0m-8-1h0m24 92h0m21-15h0m-21-2h0m43-24h0m8 34h0m-61-42h0m49 58h0m-47-64h0m-17-18h0m16-29h0m-14 22h0m31 32h0m-15 7h0m53 2h0m-48 29h0m-21-83h0m24 75h0m12-11h0m12-7h0m-9 9h0m-11-12h0m15 6h0m-32-32h0m20 64h0m-2-20h0m-7-15h0m55 21h0m-54-3h0m19 32h0m-4-85h0m28 45h0m-22 52h0m0-92h0m-2 65h0m0 20h0m-23-76h0m45 28h0m-16-27h0m24 35h0m-36-2h0m-44-66h0m22 38h0m1-7h0m14-16h0m-7 10h0m11-20h0m-13 48h0m-8-38h0m56 40h0m-22-41h0m-1 91h0m-24-123h0m37 42h0m-15-19h0m18 43h0m-22-36h0m-20-2h0m33 85h0m-54-83h0m34-14h0m22 18h0m-12 88h0m11-8h0m-1-9h0m25-18h0m-49-88h0m16 36h0m-8 86h0m-14-87h0m16 89h0m-22-125h0m54 106h0m-43-96h0m-5 96h0m4 14h0m50-26h0m-63-71h0m10 71h0m2-48h0m-14 8h0m46 63h0m-3-18h0m-20-25h0m-18-19h0m6 52h0m50-13h0m-47-80h0m13 63h0m9-31h0m-20 13h0m20 1h0m22 58h0m-54-105h0m0 9h0m3 57h0m-4-25h0m32 55h0m-2-9h0m-3-65h0m14 53h0m-23-46h0m18 68h0m7 1h0m4-45h0m-30 58h0m-4-69h0m51 56h0m-68-104h0m32 65h0m13 4h0m-47-19h0m-2-21h0m74 52h0m-58-85h0m53 113h0m-70-65h0m60 36h0m-23-30h0m19 13h0m-33 17h0m37-21h0m-48 9h0m-11-26h0m31 40h0m-36-94h0m14 77h0m29 63h0m-30-139h0m20 38h0m-6-11h0m15 103h0m-33-83h0m3-14h0m23 83h0m31-24h0m-33 17h0m-21-67h0m12 44h0m20 50h0m25-57h0m-18-28h0m-1 63h0m6-23h0m-28-61h0m9 84h0m-29-66h0m15-2h0m-6-12h0m21 34h0m14 21h0m-2-22h0m11 62h0m-21-13h0m-23-42h0m-10-71h0m1 18h0m18 108h0m-10-111h0m22 64h0m13 33h0m9-39h0m-13 46h0m-16-65h0m-11 16h0m35 47h0m-32-69h0m-26-33h0m28 73h0m50 14h0m-25-9h0m-31-64h0m14 16h0m14 20h0m-15 55h0m4-68h0m8 72h0m13-69h0m-4 38h0m-7-64h0m24 41h0m-49 5h0m-13-65h0m19 32h0m5 65h0m1-59h0m-35-48h0m28 62h0m55 48h0m-1 0h0m-55-93h0m34 48h0m-8 40h0m-28-94h0m6 65h0m24-19h0m20 34h0m-27 15h0m-8 4h0m-15-76h0m23 42h0m-25-3h0m13-44h0m0 88h0m22-7h0m-29-54h0m-14-13h0m20 85h0m38-50h0m-51-16h0m18-12h0m35 36h0m-33-66h0m-3 43h0m-9-11h0m43 63h0m-34-59h0m-15 37h0m11-71h0m41 91h0m-60-46h0m8-41h0m40 38h0m10 18h0m-24 35h0m14-51h0m-45-25h0m19 41h0m39 26h0m-55-14h0m-18-99h0m66 94h0m0 11h0m-81-87h0m61 118h0m-40-113h0m43 27h0m-20-31h0m13 82h0m20-13h0m-41-59h0m27 25h0m-15 46h0m9-35h0m-36-25h0m53 38h0m15 8h0m-45 45h0m-36-97h0m52 105h0m-34-70h0m13 38h0" stroke="#F8766D" stroke-width="5.2" stroke-linecap="round" fill="none"/><path d="M1067 486.8L1081.3 487.9L1088 500.4L1086.4 510.8L1076 517L1067.2 514.4L1064 500.4Z" fill="#F8766D" fill-opacity="0.75"/><path transform="scale(.5)" d="M2168 990h0m-14 22h0m-13-3h0m37-8h0m-13-4h0m-9 21h0m-30-15h0m38 15h0m7 8h0m-19 5h0m-2-49h0m-2 38h0m6-3h0m-7-31h0m6 0h0m0 30h0m-4-6h0m-6 4h0m-7-10h0m43-5h0m-24-25h0m6 38h0m16-5h0m-25 16h0m-1-38h0m-7 45h0m15-22h0m0-6h0m-4-18h0m7 44h0m11-5h0m-25-50h0m13 53h0m-28-45h0m41 21h0m-16 18h0m-27-32h0m22 40h0m5-5h0m-20 6h0m-4-52h0m14 19h0m10-24h0m3 21h0m-33-6h0m1 32h0m25 17h0m3-35h0m12 26h0m5-31h0m-28-11h0m9 28h0m17 13h0m-29-21h0m-4 16h0m-7-7h0m9-26h0m-9 27h0m27-15h0m16 11h0m-28 4h0m-1 10h0m14-2h0m4-30h0m10 16h0m-21 27h0m-6-41h0m30 6h0m-36 0h0m2 20h0m24-4h0m-30-32h0m13 36h0m-11-3h0m37-17h0m-1-9h0m2 12h0m-29-11h0m12 35h0m5-35h0m-14 5h0m18 24h0m-7-4h0m-20-15h0m-14-4h0m10-8h0m25 26h0m-2-29h0m-10-16h0m20 44h0m-14-22h0m8 6h0m3-7h0m-36 21h0m37-19h0m-13 27h0m-27-30h0m28-1h0m-19-17h0m27 11h0m-32 19h0m25 27h0m-31-34h0m22 22h0m5-40h0m-17 23h0m24-9h0m-21 8h0m9 2h0m-10-22h0m-11 15h0m40 29h0m1-27h0m-22 28h0m5-6h0m-15-47h0m18 10h0m14 33h0m2-27h0m-24 2h0m-8 34h0m28-34h0m-24 19h0m-9-25h0m34 34h0m-13 11h0m-24-17h0m12 9h0m13 9h0m12-52h0m9 27h0m-19 24h0m-23 0h0m39-34h0m-41 19h0m43-18h0m-15 16h0m-18-31h0" stroke="#F8766D" stroke-width="5.2" stroke-linecap="round" fill="none"/><path transform="scale(.5)" d="M2352 1006h0m6-2h0m6 6h0m6-2h0m-2 8h0m-8-2h0m8 26h0m2 6h0" stroke="#FB61D6" stroke-width="5.2" stroke-linecap="round" fill="none"/><path transform="scale(.5)" d="M2554 1102h0m-21-121h0m-23 76h0m-14 21h0m17-67h0m-36 69h0m46 22h0m-47-60h0m82-13h0m56 46h0m-87-53h0m20-39h0m16 34h0m-32 92h0m60-139h0m27 102h0m-5 21h0m-49-1h0m-88-70h0m81-7h0m-72 68h0m59-29h0m-33 3h0m-11-15h0m45 11h0m36 17h0m21-99h0m-43 75h0m4 68h0m-48-106h0m38-32h0m16 9h0m-79 100h0m79-110h0m-58 40h0m26 18h0m3 7h0m33-64h0m-11 70h0m-11 82h0m-33-96h0m65 63h0m-45-110h0m-16 115h0m63-135h0m-11 96h0m32 28h0m-100-86h0m65 43h0m-40 38h0m25-33h0m-75 5h0m14 26h0m28-4h0m10-15h0m78-7h0m-71-39h0m5 4h0m-15 91h0m47-82h0m-82 43h0m31-53h0m21-41h0m-12 82h0m-47-28h0m19 35h0m30-20h0m13 33h0m39-106h0m-91 98h0m107 7h0m-39-39h0m23 44h0m-16-36h0m-56 43h0m-38-18h0m30 13h0m51 9h0m-25-67h0m-53 19h0m82-37h0m21 47h0m-115-17h0m17-27h0m83 100h0m-52-23h0m18 33h0m-54-93h0m10-12h0m125 58h0m-133-27h0m3 25h0m75-76h0m-66 35h0m34 20h0m-48 29h0m54-67h0m6 24h0m52-71h0m7 101h0m-71-6h0m38-70h0m8-13h0m-13 14h0m33 64h0m-75-17h0m42-23h0m6 91h0m3-109h0m-41 5h0m9 75h0m34-27h0m-4-70h0m-40 69h0m13 42h0m4 7h0m-4-4h0m-38-33h0m66-8h0m-14 48h0m2 11h0m-9 0h0m41-157h0m-73 105h0m13-62h0m72 81h0m-57-120h0m-20 127h0m60-36h0m-48-35h0m50 66h0m4-113h0m-94 37h0m42 78h0m50 27h0m-56-64h0m-12 72h0m20 4h0m48-8h0m-39-11h0m-33-107h0m44-36h0m-71 64h0m47 53h0m53-47h0m-31-35h0m26-41h0m10 119h0m-65 21h0m-32-65h0m45 82h0m5-141h0m5 3h0m20 122h0m16-125h0m-1 130h0m-52-24h0m-48-21h0m87 18h0m-74-10h0m81 18h0m-87-36h0m11 12h0m91-9h0m-95 18h0m56 41h0m-21-115h0m38 50h0m19 40h0m-30-29h0m3 41h0m-2-34h0m11-98h0m-51 48h0m74 61h0m-39-42h0m-24 65h0m26 13h0m2-81h0m22-55h0m-90 37h0m32 78h0m23-92h0m-55 40h0m74 40h0m-41 4h0m-12-5h0m22-22h0m-49-42h0m45-31h0m-11 73h0m62-87h0m-23 14h0m-76 34h0m15 91h0m-11-8h0m38-87h0m40-48h0m-35 45h0m-50 25h0m68-67h0m-8 65h0m0 34h0m38-18h0m-93 18h0m122-12h0m-127 30h0m65-19h0m-15-39h0m49 75h0m-1-123h0m-17 52h0m14 86h0m-33-54h0m-12 36h0m46-36h0m-48 55h0m36-22h0m-67-85h0m47-11h0m26 115h0m-47-51h0m-47 8h0m93-96h0m-13 118h0m21-41h0m-38 60h0m14 7h0m-79-68h0m75 33h0m14-8h0m-86 13h0m41 27h0m78-152h0m-103 122h0m-10-45h0m74-45h0m34 108h0m-111-17h0m102-46h0m-50-63h0m-6 3h0m72 60h0m-23 29h0m-92-53h0m120 30h0m-96 43h0m-5-59h0m73 91h0m-50-31h0m-5-64h0m71 78h0m-32-21h0m9-96h0m-31 119h0m31-67h0m-10 49h0m18-2h0m-91 12h0m85-49h0m-2-8h0m31-69h0m-45-10h0m5 8h0m23 89h0m-67-32h0m28 49h0m-12 9h0m58-21h0m-110 3h0m87-103h0m16 29h0m-72 124h0m19-58h0m-12-20h0m67 72h0m-45-1h0m5-123h0m-25 46h0m64-59h0m11 83h0m-121-33h0m55 9h0m69 54h0m-97-9h0m38-102h0m-25 116h0m-36-63h0m101-66h0m-46 34h0m58 53h0m-32-30h0m-63 60h0m53 52h0m-34-27h0m53-20h0m30-112h0m-26 153h0m-58-125h0m-47 52h0m61-38h0m6 55h0m-59 21h0m100-48h0m-70-38h0m49-2h0m25 84h0m-30-8h0m3-105h0m-34 86h0m-9 4h0m53 61h0m-39-22h0m-19-66h0m90 53h0m2-24h0m5-94h0m-29 87h0m-29 51h0m18-118h0m23 117h0m-105-54h0m58-79h0m-24 118h0m48-75h0m39 83h0m-52-122h0m-29 104h0m49-98h0m23 123h0m-8 12h0m14-15h0m-82-31h0m48-39h0m36 18h0m-43-56h0m-53 57h0m6 39h0m-15-73h0m89-59h0m-53 89h0m-41-21h0m98 47h0m-75 16h0m53-58h0m-22-49h0m11 60h0m-19 75h0m38-97h0m19-57h0m-24 63h0m-13-14h0m-26 9h0m0-39h0m-18 16h0m37-42h0m-30 31h0m20 67h0m-54 13h0m53 56h0m27-20h0m-14-59h0m-34 16h0m54 4h0m-102-35h0m64 93h0m24-72h0m-70 2h0m0 16h0m55 24h0m32-53h0m-35-77h0m-33 38h0m63 16h0m-40 71h0m16 35h0m-62-69h0m101 60h0m-66-74h0m59 11h0m-58-33h0m29 45h0m-69-45h0m64 94h0m-6-87h0m62 36h0m-46-47h0m-82 46h0m37 19h0m91 0h0m-61-59h0m-46-9h0m84 94h0m-40-64h0m14-84h0m-29 134h0m55-136h0m-54 75h0m41 94h0m20-12h0m-29-47h0m-34 6h0m-12 41h0m30-121h0m7 52h0m9-22h0m36 78h0m-47-124h0m29 44h0m-60-7h0m18-33h0m34 17h0m-21 47h0m42 16h0m-30-42h0m-85 28h0m81 58h0m58-24h0m-69-53h0m1-56h0m64 127h0m-112-83h0m44-13h0m49 114h0m-6-159h0m-6 77h0m12 67h0m9-127h0m-123 81h0m76 36h0m40-41h0m-52 5h0m-65-19h0m26 15h0m-8 32h0m94-5h0m-25-35h0m9-73h0m35 95h0m-34-40h0m2 86h0m21-41h0m-62 0h0m60-9h0m-37-59h0m-50 68h0m-9-63h0m75 90h0m-30-43h0m1 14h0m14-112h0m-55 99h0m-1-34h0m98 84h0m-44-103h0m33 95h0m-112-55h0m123 62h0m-118-60h0m90-77h0m-54 93h0m42 2h0m-31-25h0m30 25h0m33 45h0m-23-43h0m40 34h0m-10-61h0m-62 71h0m33-143h0m23 128h0m-13-38h0m-92-10h0m5 52h0m22-9h0m40 41h0m-48-54h0m103-8h0m-66 4h0m-41-63h0m45 39h0m16 67h0m26-138h0m-110 47h0m92 11h0m-70 63h0m55-60h0m23-52h0m-4-10h0m-45 57h0m53 53h0m-36-30h0m39-24h0m-76 55h0m41 9h0m-49-65h0m-20 43h0m35 43h0m-4-67h0m55 74h0m-9-115h0m13 10h0m-16-19h0m61 75h0m-133-59h0m20 64h0m64-41h0m35 11h0m-44 56h0m4-95h0m-7 117h0m-70-58h0m104-102h0m-16 78h0m23 23h0m-93 28h0m35 15h0m13-4h0m39-7h0m-103-42h0m75 9h0m-37 18h0m-7 14h0m44-65h0m1-7h0m-49-33h0m39 1h0m-34 52h0m22-17h0m-34-14h0m-26 35h0m72 43h0m-31-47h0m13 27h0m36 29h0m-36-41h0m72 16h0m-47-17h0m-57 36h0" stroke="#54DCA9" stroke-width="5.2" stroke-linecap="round" fill="none"/><path transform="scale(.5)" d="M2853 850h0m7 11h0m-18 50h0m31-4h0m-36 14h0m31 18h0m-70 128h0m30-218h0m-3 178h0m37-134h0m-27 79h0m31-87h0m-37 22h0m-5 30h0m6 5h0m42-22h0m-75 173h0m28-9h0m7-164h0m47-53h0m-44 107h0m-24-47h0m33 2h0m-36-27h0m69-37h0m-79 201h0m40-4h0m40-205h0m-42 78h0m-25 138h0m69-173h0m-84 131h0m41 0h0m-14-121h0m24 49h0m31-96h0m-75 213h0m87-191h0m-39 102h0m-36-71h0m40-69h0m-37 181h0m26-41h0m-24-45h0m-6-54h0m38-19h0m7 63h0m-43 149h0m5-29h0m7-14h0m-37 27h0m73-124h0m-65 111h0m-2 29h0m32-199h0m-13 1h0m10 150h0m9-171h0m-32 223h0m25-184h0m25-61h0m-15 9h0m51 32h0m-81 148h0m80-136h0m-88 191h0m59-202h0m-41 40h0m21 25h0m-12 132h0m-4 15h0m-5 2h0m-14-31h0m-15-12h0m38-7h0m-16-124h0m-18 116h0m56-175h0m0 119h0m1-1h0m-14-63h0m13-58h0m25 37h0m-29-18h0m-10 24h0m-17-20h0m14-23h0m37 73h0m-33 13h0m-10-30h0m-12 155h0m46-129h0m-40-29h0m-2 0h0m60 2h0m-26 71h0m-22-58h0m-44 127h0m50-114h0m-30-34h0m15 141h0m10-19h0m-9-4h0m31-136h0m-42 161h0m77-164h0m-91 194h0m80-172h0m-36 122h0m-28-103h0m39-42h0m-3-10h0m-10 64h0m-12 137h0m10-68h0m-22 48h0m21-79h0m-3-105h0m-21 154h0m5 53h0m33-118h0m25-49h0m7-51h0m-10 34h0m-22-57h0m-17 215h0m-32 47h0m15-21h0m16-217h0m22 86h0m-27-98h0m24 140h0m-16-64h0m2 110h0m20-191h0m20 69h0m-77 167h0m75-223h0m-40 157h0m4-124h0m-48 157h0m94-157h0m-6-32h0m-40 40h0m60-14h0m-47 84h0m-2-42h0m29-14h0m-28-75h0m-27 72h0m-27 129h0m21-112h0m-10 176h0m-4-7h0m57-162h0m-54 131h0m10-34h0m27-90h0m9-6h0m4-78h0m12 26h0m-41-32h0m-8 207h0m38-121h0m-37-59h0m13 181h0m-5-160h0m54-1h0m-66 119h0m13 59h0m17-228h0m10 18h0m-10 109h0m-32 56h0m51-103h0m-77 133h0m19 5h0m57-175h0m2-44h0m9 68h0m-51 12h0m-13 133h0m14-7h0m36-158h0m-17 3h0m-37 28h0m31-24h0m-5 15h0m-25 111h0m-5 4h0m51-110h0m2-6h0m41-50h0m-25 33h0m-75 167h0m55-167h0m-47 176h0m47-176h0m22 24h0m-35 16h0m-23 86h0m5-134h0m20 13h0m-6 6h0m-1-51h0m-28 225h0m44-161h0m-37 168h0m-7-13h0m35-72h0m11-106h0m-1 74h0m22-63h0m-51-5h0m11 138h0m12-160h0m-11-12h0m30-16h0m-20 147h0m26-136h0m-20 89h0m-27 101h0m-17-133h0m50 22h0m-24 129h0m-23-166h0m5 174h0m-1-155h0m22 138h0m-3-27h0m7-120h0m2 69h0m-22 93h0m41-132h0m40-66h0m-29 32h0m-47 180h0m4-205h0m-6 0h0m-5 4h0m-1 141h0m-26 45h0m45-34h0m-25 43h0m28-23h0m-7-99h0m-7-23h0m6-24h0m-26 131h0m-7-3h0m60-114h0m-23-47h0m-34 174h0m49-87h0m-22 48h0m-20-131h0m1 43h0m31-72h0m-5 199h0m1-58h0m-17-92h0m69-24h0m14-5h0m-43-25h0m-13 49h0m-10 79h0m-18-114h0m14 1h0m8-3h0m7-2h0m-16 203h0m-6-133h0m-16 2h0m39-20h0m-22 128h0m-4-24h0m-17 9h0m72-103h0m-41 142h0m-28 22h0m52-199h0m-21-42h0m43 15h0m-44 170h0m-7-77h0m-15-27h0m18-63h0m-22 168h0m45-114h0m-7-11h0m4-73h0m-16 123h0m0 32h0m20-115h0m-27 197h0m-12-155h0m1-54h0m58 54h0m-76 115h0m23-127h0m-36 143h0m72-156h0m33-30h0m-86 33h0m53-46h0m-21 112h0m-27 93h0m25-111h0m8-82h0m19 53h0m7 5h0m-9 22h0m-27 36h0m-4-25h0m2 8h0m1 49h0m-10 68h0m38-142h0m-45 124h0m0-127h0m10 80h0m45-107h0m10-40h0m-69 52h0m89-48h0m-64 135h0m11-110h0m34-20h0m-7 59h0m25-59h0m-44 31h0m-6 55h0m12-37h0m-2-70h0m-11 52h0m-21 39h0m47-36h0m-83 119h0m-2 55h0m51-216h0m-17 17h0m-19 156h0m38-54h0m-18 79h0m0-11h0m6-41h0m-37 42h0m99-193h0m-98 190h0m68-212h0m-27 223h0m16-121h0m-39 128h0m-23-36h0m73-134h0m-55 189h0m13-191h0m21 49h0m-37 123h0m38-236h0m11 119h0m-19-23h0m29-78h0m9 4h0m-27 87h0m-44 134h0m25-29h0m24-95h0m-54 74h0m2 31h0m50-167h0m-13-33h0m-20 38h0m31-20h0m16 40h0m-4-70h0m17 35h0m-47-6h0m12 39h0m3 3h0m-29-44h0m15 168h0m1-129h0m-5 147h0m31-221h0m-41 216h0m58-149h0m-25 80h0m-28-83h0m-11 154h0m18-192h0m-18 156h0m41-104h0m6-12h0m-3-53h0m-29 234h0m-37-28h0m99-195h0m-57-22h0m-30 184h0m20 2h0m28-86h0m-12-79h0m-3 24h0m-8 180h0m10-54h0m-31-120h0m34 98h0m8-47h0m23-32h0m-62 125h0m13 29h0m42-184h0m-34 194h0m26-196h0m-14 79h0m-15 75h0m-21 5h0m49-116h0m38-53h0m-67 202h0m2-169h0m19 72h0m-13-36h0m-30 86h0m31-73h0m1-37h0m-5-18h0m0 32h0m9-80h0m-18 72h0m31-78h0m-45 184h0m56-172h0m-61 210h0m86-176h0m-72 131h0m49-95h0m2-65h0m-54 195h0m60-162h0m-12-34h0m10 83h0m-13-44h0m-27 62h0m26-102h0m35 7h0m-38 44h0m-3 52h0m-22 87h0m-16-118h0m45-23h0m26-45h0m-62 21h0m-1 144h0m54-146h0m-5-15h0m-35 81h0m-2-38h0m-21-12h0m8 43h0m32 34h0m24-45h0m-87 154h0" stroke="#54DCA9" stroke-width="5.2" stroke-linecap="round" fill="none"/><path transform="scale(.5)" d="M3439 198h0m39 61h0m-69 84h0m119-53h0m-260 21h0m-5-50h0m190 20h0m51-93h0m-48-12h0m50 131h0m-16 15h0m-102-51h0m3-35h0m-104 88h0m32-145h0m6 145h0m188-61h0m-197 41h0m191 0h0m-146 44h0m5-175h0m-101 55h0m95 12h0m59 3h0m97 45h0m-143 80h0m-99-35h0m243 24h0m-251-76h0m92-102h0m56 176h0m15 2h0m-73-92h0m0-23h0m-107 1h0m135-42h0m-42 28h0m135 179h0m-108-92h0m51 1h0m-75-126h0m83-17h0m-26 206h0m-33-147h0m-45-36h0m88 25h0m6 54h0m38 8h0m-23 15h0m98-54h0m-19-29h0m-71 172h0m-48-220h0m62 87h0m-122 12h0m124 64h0m24-98h0m-196 88h0m133-121h0m81 148h0m-132-128h0m-68-14h0m118 150h0m8-163h0m75 39h0m24 29h0m-44 60h0m-116-38h0m-34 34h0m8 34h0m39-86h0m50 4h0m22 67h0m-49 8h0m12 19h0m-63-33h0m10 45h0m-19-65h0m92 21h0m-111-34h0m-1 60h0m21 11h0m161-69h0m-54-40h0m26-67h0m-139-20h0m-13 141h0m-9 27h0m210-69h0m-124 102h0m-131-71h0m69-60h0m105 143h0m-110-81h0m121 24h0m-70 45h0m-96-31h0m86-104h0m122 78h0m-16-51h0m-7 125h0m44-124h0m-220-36h0m86-38h0m-77 48h0m-6-39h0m195-27h0m-18 28h0m-54-19h0m-118 29h0m-14 77h0m36-16h0m-10-4h0m212 60h0m-206-34h0m41 47h0m88-179h0m-39 93h0m-138-57h0m37 147h0m68 18h0m21-197h0m6 111h0m-40 61h0m11 12h0m70-42h0m-101-78h0m191 18h0m-217 106h0m182-18h0m-115-164h0m97 188h0m-73-177h0m-73 181h0m162-201h0m-41 83h0m53-29h0m-243 32h0m122 88h0m134-36h0m-29 59h0m-163-84h0m64-93h0m-26 128h0m-60 8h0m220-25h0m-129-119h0m81 136h0m26-80h0m-64 154h0m1-147h0m-84 15h0m11 28h0m62-108h0m-62 10h0m32 74h0m-41 80h0m33-100h0m34 5h0m37 77h0m-206-65h0m15-58h0m247 99h0m-55-100h0m-132 171h0m-6-125h0m133-85h0m-90 176h0m105-90h0m-185 13h0m205 94h0m-122-3h0m130-54h0m-84-3h0m-4 81h0m-31-50h0m-55 8h0m148 67h0m18-162h0m-195-40h0m188 123h0m-178 26h0m118 30h0m-14-14h0m-147-165h0m142 68h0m66-65h0m-97 129h0m-119-43h0m242 89h0m-127-36h0m137-146h0m-130 102h0m-113 26h0m32-122h0m5 111h0m35 47h0m168 20h0m-223-108h0m105-84h0m-52 129h0m162 5h0m2-18h0m-42-106h0m-9 8h0m-16 86h0m-107 1h0m-29-61h0m154 59h0m-87-55h0m-24-48h0m-88 39h0m53-39h0m156 227h0m4-143h0m-35 90h0m55-134h0m-76 70h0m3 46h0m-15-99h0m15 99h0m-153-93h0m248 20h0m4-51h0m-57-7h0m-75-10h0m62 125h0m-154-78h0m222 97h0m-137-124h0m8 153h0m-65-118h0m74 66h0m-19-66h0m134 102h0m-180-146h0m152 84h0m-10-42h0m-201 77h0m244-63h0m-202-5h0m121-59h0m-13 145h0m-102-57h0m143-124h0m32 61h0m-159 112h0m41-62h0m-32 72h0m-69-133h0m-1-37h0m137 62h0m-95 6h0m54 73h0m76 19h0m9-162h0m-203 113h0m20-8h0m188-107h0m-179 16h0m220-7h0m22 111h0m-65 85h0m23-185h0m49 39h0m-115 17h0m-2-84h0m100 125h0m-253-50h0m266 13h0m-173 105h0m-40-173h0m84 93h0m95 66h0m-42-112h0m4-13h0m24 171h0m-168-119h0m186 70h0m-60-35h0m15-92h0m40-12h0m-171 67h0m-44-1h0m59 38h0m64-96h0m91 72h0m-66-92h0m-169 67h0m145-35h0m-9 56h0m124-49h0m-67-37h0m53 32h0m-132-22h0m115 156h0m5-177h0m22 125h0m-240-22h0m7-66h0m195 62h0m22-44h0m-162-2h0m47-25h0m113 77h0m-87 7h0m26 42h0m-94-46h0m-26 5h0m48-33h0m70-13h0m-110 110h0m42-3h0m41-36h0m8-70h0m80 47h0m-85 86h0m16-182h0m-114 43h0m81 2h0m-61 4h0m-51 42h0m156-5h0m49 84h0m-145-111h0m57-39h0m-52 104h0m55-107h0m-98 88h0m62-27h0m0 3h0m-88-54h0m95-29h0m65 125h0m-8-81h0m68-46h0m-155 22h0m122 8h0m61 70h0m-251 11h0m252-13h0m-104 53h0m-68-25h0m98-102h0m-37 135h0m8-80h0m72 31h0m-23-54h0m-44-9h0m-12-8h0m-138 30h0m101 53h0m54-131h0m35 105h0m-106-4h0m129-100h0m-153 176h0m152-38h0m-121-121h0m160 15h0m-107 66h0m-130-81h0m-33 88h0m81-96h0m-46 4h0m15 14h0m-23 89h0m234 41h0m-27-166h0m-120 156h0m166-19h0m-167-98h0m-108 94h0m106 41h0m24-57h0m23 60h0m-114-91h0m171 23h0m-43-48h0m31 40h0m-133-73h0m174 119h0m-140 33h0m-51-132h0m-36 25h0m76 103h0m29-176h0m119-15h0m-186 125h0m-9-89h0m21 62h0m136 119h0m-160-103h0m98 52h0m12-88h0m21 117h0m-84 4h0m49 3h0m45-160h0m-101-22h0m126 168h0m20-33h0m-111-109h0m145 120h0m-116-46h0m41 19h0m-74-129h0m56 45h0m-121 110h0m194-41h0m-87-35h0m44 25h0m-62 67h0m-54-31h0m51-67h0m16-36h0m95 24h0m-201 97h0m185-130h0m24 93h0m19-9h0m-107-30h0m10 66h0m93-68h0m-43-39h0m-47 78h0m-109-65h0m155-47h0m-12 215h0m-190-124h0m28 10h0m161 70h0m-75-18h0m122 6h0m-236-67h0m191 2h0m-17 62h0m-27-61h0m-66-27h0m103 27h0m-66 14h0m75 65h0m-90-178h0m-123 76h0m15-12h0m153-77h0m72 96h0m-211-19h0m240 94h0m-237-66h0m171-46h0m-90 101h0m-124-68h0m74-25h0m143 48h0m45 52h0m-57-71h0m-20 90h0m-83-169h0m114 85h0m13 44h0m-46-53h0m103-25h0m-214 4h0m175 1h0m-102-24h0m72-49h0m-107 26h0m16 173h0m104-3h0m33-119h0m-156 77h0m151 55h0m-27-214h0m26 157h0m-53-65h0m-105 35h0m97 47h0m-90-17h0m105 30h0m-10 6h0m1-145h0m-29 19h0m39-27h0m-150 51h0m-43-13h0m99 72h0m-17 5h0m129 1h0m-51-72h0m-91 19h0m138-105h0m-103 136h0m15-89h0m149 67h0m-212-79h0m27 163h0m32-162h0m46 22h0m-123 20h0m23 20h0m-46 9h0m-26-36h0m48 14h0m196 138h0m-30 19h0m-150-143h0m51-85h0m118 47h0m-151 47h0m23 26h0m55-83h0m-43 103h0m-9-140h0m105 14h0m-41 83h0m87 92h0m-52-172h0m53 189h0m-136-205h0m60 28h0m-44 161h0m-103-89h0m50-14h0m-55-7h0m65-48h0m-24 96h0m116 34h0m37-149h0m-151 76h0m191-41h0m12 112h0m-118-87h0m36 94h0m-2 45h0m-13-102h0m24 87h0m-157-179h0m110 40h0m66 5h0m-133-37h0m30-10h0m92 56h0m-22 142h0m78-79h0m-111-15h0m54-32h0m-98-5h0m-87 41h0m132 1h0m104-23h0m-199-38h0m-37 95h0m85-106h0m-55 98h0m-52-78h0m80 46h0m185 25h0m-204 37h0m45-142h0m46 108h0m-52 11h0m121-172h0m-30 38h0m43 28h0m-7 23h0m-39 98h0m-47-42h0m21-97h0m-44-13h0m-89 25h0m47 103h0m19-122h0m-66 27h0m208 71h0m-218 35h0m19-126h0m64 133h0m155-158h0m-112-9h0m17 84h0m57 145h0m-15-131h0m-119 2h0m-3-42h0m79-25h0m-113 140h0m176-137h0m-90 18h0m-82-40h0m186 144h0m30 11h0m-101 27h0m-98-101h0m186-8h0m-66 85h0m20 55h0m-55-122h0m-38-10h0m28-68h0m9 169h0m23-12h0m-142-45h0m8 26h0m98-138h0m-151 55h0m262-12h0m-61-75h0m-84 64h0m-40 29h0m-41-66h0m110 91h0m-70-35h0m45 75h0m99-99h0m-120-15h0m-40 43h0m72 26h0m133 48h0m-248-43h0m108 86h0m-20-40h0m-104-80h0m203-81h0m61 47h0m-66 138h0m-47-62h0m-42-71h0m-79 60h0m147-23h0m-168 43h0m174 29h0m-90-61h0m95-81h0m-16 148h0m15-10h0m-83-151h0m-36 104h0m218 56h0m-99-42h0m-127-101h0m201 2h0m-81 136h0m24-32h0m7 75h0m-14 2h0m-43-111h0m-103-63h0m120 111h0m-29 36h0m32-114h0m9-6h0m-153 103h0m184-89h0m-8 66h0m-93 65h0m-54-174h0m52-15h0m147 10h0m-193 37h0m86-60h0m-105 135h0m109-1h0m-35-115h0m40-23h0m3 197h0m-123-172h0m199 92h0m-146 79h0m-19-84h0m133-29h0m44-18h0m-226 72h0m23 37h0m107-119h0m26 160h0m-12-211h0m-30 175h0m11 16h0m-110-51h0m-27-68h0m3 6h0m160-28h0m26-60h0m-108 17h0m-72 88h0m0-56h0m184 117h0m42-108h0m-125-20h0m-19 24h0m11 4h0m-101 55h0m70 15h0m-46 44h0m21-30h0m126-89h0m-105 8h0m52 129h0m-30-6h0m-33-103h0m128-53h0m46 202h0m32-96h0m-81 40h0m32 49h0m19-39h0m-218-20h0m188-111h0m44 36h0m-75-38h0m27-25h0m22 82h0m-149 24h0m130 32h0m-5-113h0m-94 8h0m104 111h0m-110 29h0m-13-75h0m141-42h0m38-14h0m-6-5h0m-234-1h0m26-8h0m151-41h0m-168 38h0m129 77h0m-24-9h0m-43-54h0m48-11h0m-51 149h0m62-163h0m94 124h0m-5 9h0m-175-168h0m-3 184h0m106 17h0m45-110h0m-30 85h0m-12 3h0m-49-124h0m10-9h0m5 148h0m-18-55h0m-16-17h0m-35 0h0m18-77h0m131-49h0m-49 136h0m15-63h0m-152 84h0m102-78h0m47-64h0m-86 29h0m54 33h0m16 89h0m63-62h0m-166-91h0m193 152h0m-224-45h0m127-106h0m-25 64h0m-57 23h0m100 103h0m-108-120h0m-30-45h0m-10-11h0m174-25h0m3-11h0m-75 64h0m127 27h0m14 67h0m-196-90h0m-27 7h0m36-65h0m-8 92h0m150 5h0m-79 88h0m39-12h0m-176-80h0m253 33h0m-101 53h0m-135-29h0m58 45h0m162-140h0m-25-17h0m-240 44h0m233 91h0m3-146h0m-192 50h0m141 56h0m0-96h0m60 66h0m-180 63h0m68-10h0m1 37h0m48-102h0m1-23h0m70-39h0m-192 99h0m84-56h0m88-38h0m-50-28h0m54-20h0m-25 237h0m-22-123h0m-54 8h0m-27 33h0m78-54h0m68-1h0m20 11h0m-209 61h0m64-157h0m93 143h0m32-71h0m-125 16h0m67-17h0m84-1h0m-47 127h0m-178-72h0m109-14h0m79 58h0m-183-147h0m27 73h0m-35-78h0m8 137h0m73-18h0m-70-134h0m91 153h0m115-80h0m-143-5h0m74-50h0m77 140h0m-2-114h0m-248 104h0m168 17h0m-138-14h0m154 55h0m-6-139h0m-163 76h0m77-28h0m157 47h0m-51 15h0m-136-83h0m177 25h0m-130-7h0m97-27h0m-40 12h0m89 64h0m-227-2h0m199-8h0m-193-73h0m48-19h0m94 28h0m-106 0h0m-18 98h0m-7-105h0m8 38h0m198 0h0m-67 105h0m-5-83h0m-12 45h0m-186-81h0m82-39h0m159-60h0m-191 98h0m219 42h0m-45-124h0m-78 172h0m-2-149h0m64 175h0m33-73h0m-126 19h0m-116-68h0m272 88h0m-44 3h0m12-126h0m-127 51h0m47-23h0m-142-33h0m127 101h0m-27-157h0m-19 47h0m137 115h0m15 32h0m-130-162h0m77 79h0m-85 30h0m-48 22h0m-1-58h0m74-59h0m-52 105h0m37-50h0m-100-55h0m197 103h0m-88-65h0m11-30h0m-21 24h0m35 16h0m-146-54h0m189 148h0m-163-31h0m112-81h0m-147 15h0m262-67h0m-139 48h0m128 112h0m-56-151h0m-59 114h0m-64-38h0m15-99h0m-50-8h0m66 161h0m7-113h0m42-51h0m-116 122h0m126-83h0m44 72h0m24-14h0m-167 47h0m204-111h0m-204 11h0m-12-32h0m23 7h0m91 95h0m17 50h0m-22-8h0m-39-104h0m85 76h0m-143-93h0m2 94h0m202-65h0m-60 93h0m-7 25h0m50-10h0m-237-144h0m118 60h0m99 114h0m-50 1h0m-124-186h0m34 123h0m47-144h0m-72 126h0m103 75h0m-88-152h0m179-6h0m-245 63h0m175-79h0m-116 111h0m99-26h0m7-33h0m42 113h0m-77 15h0m67-9h0m-184-32h0m-33-71h0m185 90h0m55 32h0m20-195h0m-154 108h0m13-86h0m161 8h0m-97 133h0m31-162h0m-29 61h0m-31-15h0m43-27h0m27-34h0m-80 78h0m-14-52h0m11-32h0m40 75h0m60 19h0m-61 100h0m-80-51h0m-15-109h0m87 140h0m-44 6h0m130-191h0m-101 138h0m64 47h0m6-16h0m-122-24h0m-33 28h0m178-27h0m-136-138h0m-24 72h0m115 155h0m-97-34h0m84-83h0m-14 55h0m-58-148h0m66 170h0m-143-24h0m150-70h0m20-52h0m46 100h0m-192-27h0m103 62h0m31 47h0m63-184h0m-45 98h0m-140-19h0m33-30h0m47-17h0m37 138h0m-4-113h0m-107-6h0m38-13h0m106 0h0m-176 39h0m144-71h0m61 79h0m-59 56h0m40-18h0m-40-166h0m34 6h0m-33 95h0m69 53h0m-1-85h0m-212-12h0m53 68h0m120-127h0m-188 102h0m213 30h0m-59-69h0m67 25h0m-43-31h0m61 34h0m-212 63h0m161-79h0m-59 119h0m-77-93h0m-14-54h0m55 57h0m119-9h0m-84 80h0m14-17h0m22-144h0m-36 29h0m33 20h0m51 145h0m-109-50h0m-64 30h0m184-149h0m-135 60h0m82 60h0m60-115h0m-210 133h0m26-2h0m7-103h0m46-18h0m-55 78h0m84-34h0m-19 63h0m85 21h0m-148-23h0m136-76h0m-79 119h0m-24-193h0m80 111h0m12 2h0m24-110h0m-147 112h0m163 72h0m-131-119h0m87 100h0m-21-136h0m-5 156h0m-24-40h0m31-101h0m-176 6h0m253 14h0m-148 61h0m155-13h0m-72 39h0m14 20h0m20-162h0m-167 12h0m210 43h0m-33 34h0m-207 57h0m234-118h0m-45 115h0m31-111h0m-176 129h0m128-18h0m26-23h0m-190-113h0m8 76h0m75 34h0m47-7h0m29-45h0m0 112h0m-173-80h0m112 65h0m49-173h0m72 70h0m-158 89h0m-48-96h0m-47 75h0m156-125h0m-10 86h0m120-10h0m-235 12h0m-32-55h0m97 57h0m87 38h0m74 25h0m-74-110h0m-41-46h0m39-17h0m-99 190h0m70-64h0m-7-97h0m-11 161h0m44-98h0m-36 65h0m-72 5h0m43 21h0m-128-118h0m214 172h0m7-76h0m-202-104h0m88 81h0m-5-47h0m-73 76h0m60-13h0m10 43h0m92-14h0m-22-71h0m-99-12h0m210 47h0m-163-79h0m94 17h0m-186-34h0m138 18h0m-89 50h0m20 45h0m-29-35h0m190-105h0m10 123h0m-219 30h0m130-52h0m-72-50h0m129 63h0m-182-2h0m62-63h0m-20 76h0m118 79h0m43-57h0m-38-53h0m-76 78h0m13-79h0m-79-95h0m145 194h0m-90-89h0m122 37h0m-121 35h0m152-85h0m-157 19h0m69-113h0" stroke="#5CBE28" stroke-width="5.2" stroke-linecap="round" fill="none"/><path d="M1635.5 86.2L1674.9 85L1698.6 83.4L1703.5 92L1674.7 95.3L1651.4 98.4L1637.4 100.6Z" fill="#5CBE28" fill-opacity="0.72"/><path transform="scale(.5)" d="M3400 169h0m-27 14h0m-74 15h0m-9 0h0m61-20h0m-50-4h0m19 16h0m29-9h0m-78-6h0m17 20h0m24-12h0m39 2h0m43-13h0m-34 16h0m-15 1h0m-49 1h0m84-5h0m-99 2h0m30 5h0m5-15h0m32-8h0m-6 21h0m13-6h0m-31 2h0m25 6h0m10-8h0m-45 2h0m58-14h0m29-3h0m-127 17h0m103-15h0m-21 1h0m-1 0h0m-23 0h0m-41 21h0m12-14h0m79 3h0m14-2h0m-9-9h0m3 2h0m-71 20h0m0-9h0m-46 1h0m116-11h0m-42 16h0m-54-17h0m13 9h0m40 4h0m-27-6h0m-23 16h0m95-13h0m-91 5h0m71-15h0m-91 24h0m-2-19h0m20 8h0m93-14h0m-85 19h0m-29-3h0m38-4h0m-15 11h0m-7-21h0m12-4h0m42 15h0m-53 12h0m37-26h0m69 7h0m-104 6h0m-3-6h0m-10-2h0m13 5h0m72-11h0m-69 22h0m95-24h0m-84 23h0m18-14h0m56-9h0m2 13h0m-25 2h0m-85-4h0m48-1h0m28 6h0m-82-10h0m19 4h0m31 12h0m27-15h0m56 2h0m-49-8h0m-73 14h0m34-11h0m30 9h0m-50-5h0m45 0h0m-64 2h0m87 10h0m31-18h0m-116 29h0m34-17h0m-21-4h0m3 1h0m-7-1h0m117 6h0m1 0h0m-78-13h0m42 6h0m-21-5h0m-37 16h0m46 1h0m-21-5h0m4-14h0m-39 12h0m0-8h0m-1 17h0m14-1h0m6-12h0m3-8h0m23 17h0m-20 6h0m7-5h0m27-17h0m-50 21h0m51-13h0m2-1h0m-19-3h0m-32 4h0m-37-6h0m70-3h0m-3 20h0m51-10h0m7 1h0m-49-13h0m18 7h0m9 6h0m-17 10h0m26-23h0m-47 7h0m61 9h0m-7-9h0m-3-2h0m-67 13h0m22-5h0m-71 5h0m25 1h0m-24-1h0m0 8h0m109-9h0m-68-9h0m-23 21h0m99-17h0m-70 13h0m-8 2h0m-18 2h0m88-29h0m-67 20h0m-43-2h0m48 8h0m-5-13h0m-35-4h0m37-3h0m-21 2h0m99-1h0m-51 4h0m29 4h0m-73 7h0m-31-11h0m103 10h0m6-5h0m3-16h0m-99 23h0m97-16h0m-73-4h0m47 1h0m-45-1h0m-39 26h0m7 3h0m22-28h0m54-1h0m36 12h0m-47 5h0m-10-4h0m13-14h0m-66 9h0m51-7h0m69 4h0m-45-2h0m10-3h0m0 5h0" stroke="#5CBE28" stroke-width="5.2" stroke-linecap="round" fill="none"/><path d="M1757.5 98L1756.7 102.4L1754.5 106.5L1751 109.9L1746.5 112.4L1741.4 114L1736 114.5L1730.6 114L1725.5 112.4L1721 109.9L1717.5 106.5L1715.3 102.4L1714.5 98L1715.3 93.6L1717.5 89.5L1721 86.1L1725.5 83.6L1730.6 82L1736 81.5L1741.4 82L1746.5 83.6L1751 86.1L1754.5 89.5L1756.7 93.6Z" fill="#5CBE28" fill-opacity="0.72"/><path transform="scale(.5)" d="M3450 228h0m38-66h0m-10 42h0m-23 11h0m11-22h0m-5-13h0m40 41h0m1-54h0m-72 20h0m64 34h0m-30-57h0m-5 35h0m-15-4h0m22 21h0m43-6h0m-44-32h0m-11 45h0m-1-16h0m2 8h0m-6-51h0m44 2h0m4 36h0m-25-39h0m-9 43h0m10-15h0m-29 11h0m-3 9h0m62-15h0m-19 35h0m29-38h0m-71 11h0m49-28h0m21 20h0m0-7h0m-45 2h0m-24-21h0m52 38h0m-41 8h0m-17-6h0m81-21h0m-46 22h0m-36-11h0m22-4h0m-12-28h0m16 22h0m-16-21h0m27 32h0m-17-7h0m-12 15h0m32 4h0m19 0h0m9-26h0m-35 2h0m-27 8h0m-11 1h0m26-28h0m18-1h0m-28 20h0m61-13h0m-75 23h0m54-26h0m-13 26h0m4-3h0m12-20h0m-30 52h0m-10-34h0m47-4h0m-42-3h0m39-1h0m0 14h0m-39 9h0m-12 14h0m45-27h0m25-18h0m-33 55h0m-48-45h0m69 2h0m-5-6h0m-62 14h0m7 27h0m16-17h0m35-38h0m-4 17h0m23 2h0m-66 10h0m4-32h0m6-5h0m1 20h0m35 13h0m-18 28h0m-7-26h0m-30-10h0m51 10h0m-36-29h0m34 0h0m13 1h0m-14 16h0m28 9h0m-66 8h0m64 8h0m-54-27h0m-11 9h0m25 7h0m9-3h0m-2-8h0m-31-4h0m4 21h0m50-10h0m-9 26h0m-45-33h0m7 12h0m47 12h0m-24-30h0m3 39h0m-23-20h0m50 18h0m-25 2h0m-48-23h0m32-11h0m46-7h0m-49 48h0m14-7h0m-32-32h0m62-15h0m-68 29h0m19-39h0m37 58h0m-45-26h0m47 23h0m-70-22h0m89-16h0m-75-13h0m76 27h0m-55 11h0m55 2h0m-20 6h0m-35 11h0m-16-58h0m31-3h0m-33 48h0m38-11h0m18-25h0m6 25h0m-27 23h0m20-48h0m-68 26h0m30-6h0m-9 10h0m46-41h0m-34 63h0m21 2h0m33-38h0m-81 18h0m11-24h0m23 41h0m-7-67h0m22 53h0m-52-38h0m78 32h0m-31 15h0m17-50h0m-6 42h0m24-9h0m-13 13h0m-77-20h0m71 14h0m-22 18h0m41-30h0m-7-15h0m-59 39h0m4-56h0m-18 36h0m24-43h0m3 41h0m51 3h0m-35 23h0m16-11h0m-31-17h0m33-34h0m-9 56h0m1-58h0m-56 21h0m49 15h0m-36-27h0m55 5h0m-21 10h0m-41 11h0m20-4h0m54 15h0m-86-19h0m22 2h0m57-7h0m-69 22h0m2-15h0m10 10h0m8-3h0m36 10h0m-40-13h0m2 32h0m50-28h0m-30 12h0m17-10h0m-57 4h0m7-27h0m23 39h0m-27-21h0m76 6h0m-36-28h0m-42 9h0m25 43h0m-12-59h0m29 62h0m10-5h0m-30 5h0m31-10h0m-31 2h0m-2-50h0m18 2h0m16 9h0m19 18h0m-76 8h0m55 6h0m15-47h0m-65 1h0m59 43h0m-10 7h0m-10-19h0m41-3h0m-70 27h0m24 0h0m12-50h0m-50 22h0m66 0h0m-41 22h0m46-11h0m-46 16h0m-7-27h0m-4 5h0m46-26h0m-44 6h0m4 13h0m-6 7h0m32 30h0m1-19h0m11-15h0m-40 12h0m11 10h0m20-11h0m12 14h0m-15-55h0m6 2h0m-6 26h0m5 33h0m-47-40h0m21 3h0m-26 17h0m25-3h0m-17-17h0m4 19h0m35-34h0m35 9h0m-65 32h0m53-13h0m-58 5h0m6-40h0m54 18h0m-67 29h0m49-22h0m19-6h0m-1 18h0m2-20h0m-60-3h0m19 43h0m28-56h0m-24 44h0m8-52h0m-20 63h0m43-19h0m-58-32h0m45 38h0m-43-16h0m3 32h0m60-45h0m-51 50h0m-15-44h0m-8 12h0m30-23h0m10 23h0m-14 31h0m8-67h0m-12 45h0m-3-37h0m-14 26h0m70-13h0m-20 18h0m-14-41h0m24 10h0m-47 24h0m16 7h0m-17-21h0m50-5h0m-48 51h0m2-2h0m28-46h0m8 49h0m3-57h0m4-2h0m-58 47h0m-7-30h0m41 1h0m4-16h0m-42 11h0m37 16h0m25 20h0m-41-39h0m-26 19h0m75-2h0" stroke="#5CBE28" stroke-width="5.2" stroke-linecap="round" fill="none"/><path d="M1624.4 126.7L1635.8 115.9L1656 114.4L1676.2 115.6L1698.5 119.8L1708.9 125L1723.8 131.9L1730.5 141.7L1733.1 152.5L1730.8 165.1L1722.8 173.8L1730.1 180.5L1739.8 169.5L1743.1 152.6L1739.6 137.9L1730.2 124.4L1713.5 116.2L1701.1 110.2L1677.1 105.8L1655.7 104.6L1632.1 106.7L1617.6 119.5Z" fill="#5CBE28" fill-opacity="0.72"/><path transform="scale(.5)" d="M3480 297h0m0 41h0m-88-113h0m87 73h0m-12-37h0m-171-33h0m172 57h0m-41-34h0m-167-28h0m202 58h0m-54-47h0m22 12h0m-35-21h0m-76-3h0m149 110h0m-111-106h0m-42-10h0m57 13h0m75 120h0m-37-108h0m-84-27h0m-21 10h0m-41 7h0m216 65h0m-166-78h0m145 129h0m-86-127h0m47 24h0m-165-17h0m209 25h0m7 35h0m-79-66h0m46 27h0m43 70h0m-3-9h0m4 2h0m-15 29h0m18-27h0m-25 40h0m8-36h0m-57-79h0m-124-27h0m181 135h0m-46-107h0m45 37h0m-177-61h0m155 29h0m-64-28h0m-91-1h0m183 103h0m-10 20h0m-178-127h0m165 48h0m-121-33h0m13 1h0m87 25h0m-151-36h0m159 20h0m-157-14h0m201 78h0m-96-83h0m-140 16h0m99-17h0m-32 4h0m-25-4h0m81 1h0m-67 6h0m46-13h0m-26 15h0m-73 19h0m58-17h0m86-2h0m67 39h0m26 55h0m-239-79h0m182 11h0m-25-28h0m-48-11h0m118 75h0m-197-67h0m171 42h0m35 75h0m-6-13h0m-209-102h0m138 2h0m-132-1h0m149 26h0m56 34h0m-223-54h0m112-6h0m66 13h0m-9 12h0m37 7h0m-90-28h0m46 13h0m-107-22h0m172 117h0m-9-50h0m-149-58h0m31-10h0m101 132h0m-17-91h0m-14-18h0m42 49h0m-119-79h0m-60 13h0m139 8h0m10 24h0m-1-4h0m-59-23h0m47 4h0m-111-18h0m131 45h0m22-2h0m-184-32h0m-23-8h0m75 11h0m10-8h0m-27 6h0m79 0h0m64 28h0m-57-16h0m-133-10h0m210 84h0m-209-94h0m78-2h0m-57 6h0m43-6h0m146 77h0m-142-67h0m26-4h0m-107 4h0m210 94h0m10-36h0m-3 37h0m-23 31h0m29-57h0m-159-84h0m128 52h0m-30-35h0m-74-18h0m110 136h0m-161-119h0m15 1h0m49-8h0m100 39h0m9 59h0m-197-96h0m39-3h0m139 34h0m23 40h0m-30-40h0m27 80h0m-93-118h0m93 113h0m-29-74h0m11 98h0m30-41h0m-202-100h0m110 19h0m-54-7h0m100 17h0m-107-19h0m-68 14h0m209 72h0m-192-84h0m199 61h0m-55-47h0m42 121h0m-145-132h0m22-16h0m-18 10h0m111 33h0m-22-22h0m-46-4h0m-64-17h0m72 12h0m61 26h0m47 56h0m-3 8h0m-101-96h0m-124 19h0m152-9h0m80 85h0m-234-76h0m228 69h0m1-12h0m-7 5h0m-1-1h0m-48-59h0m55 36h0m3 16h0m-41-42h0m-128-22h0m74-2h0m77 106h0m-190-110h0m132 9h0m-40-8h0m1 8h0m40-5h0m46 128h0m-1-89h0m13 64h0m15-16h0m-98-77h0m-40-19h0m98 41h0m27 3h0m12 48h0m-5 4h0m-193-94h0m-35 26h0m217 113h0m-154-142h0m105 31h0m-63-31h0m54 28h0m45 110h0m-17-105h0m-125-32h0m125 30h0m33 81h0m7 4h0m-137-112h0m136 109h0m-129-101h0m-87 2h0m201 39h0m18 10h0m-27-18h0m20 32h0m-177-62h0m87-2h0m67 29h0m-160-43h0m-25 12h0m68-9h0m-51-2h0m67 4h0m0-1h0m1-5h0m20 18h0m108 46h0m-11-17h0m-7 14h0m-216-33h0m226 52h0m-73-56h0m29 9h0m-14-15h0m-114-10h0m46-1h0m46 8h0m-106 0h0m144 14h0m62 54h0m-27 58h0m-65-135h0m70 141h0m-5-1h0m-17-102h0m4 5h0m-107-42h0m83 12h0m27 27h0m31 17h0m-28-12h0m-39-26h0m13 4h0m47 101h0m-188-129h0m196 99h0m-19 29h0m21-54h0m-7 49h0m-160-119h0m-12-2h0m108 9h0m-118-6h0m-44 19h0m235 57h0m-4 18h0m-135-82h0m122 66h0m-51-48h0m7-5h0m43 87h0m-94-113h0m-110 13h0m84-13h0m-40 5h0m152 26h0m14 73h0m-132-101h0m47 0h0m88 91h0m-169-82h0m50-3h0m82 12h0m40 36h0m-183-55h0m80 9h0m102 47h0m-151-64h0m9 19h0m130 36h0m-222-17h0m217 18h0m-53-40h0m-139-10h0m-4 6h0m150 19h0m63 81h0m-203-95h0m194 107h0m-143-123h0m120 44h0m24 25h0m9 22h0m-154-78h0m135 125h0m12-45h0m6 40h0m-222-99h0m224 52h0m-223-76h0m95 2h0m-96 13h0m209 101h0m-61-117h0m-14 5h0m14-3h0m-87-7h0m83 8h0m9 12h0m-26-17h0m-89 3h0m147 19h0m12 104h0m17-53h0m9-5h0m-229-55h0m128-16h0m71 37h0m-89-30h0m94 32h0m-1 3h0m-188-33h0m214 101h0m-90-99h0m64 41h0m-55-35h0m24 11h0m44 36h0m-80-51h0m-44-6h0m94 25h0m-177-5h0m26-20h0m125 13h0m32 21h0m-112-46h0m-78 34h0m173-1h0m-162-26h0m18 13h0m29-4h0m154 40h0m6 76h0m-114-118h0m-62 3h0m41-1h0m-17-1h0m145 34h0m19 78h0m-176-124h0m36 15h0m-94 22h0m210 18h0" stroke="#5CBE28" stroke-width="5.2" stroke-linecap="round" fill="none"/><path d="M1760.8 115.5L1764.6 134.1L1764.4 153.5L1761.4 171.4L1752.6 188.3L1743.5 196.7L1732.9 202.5L1735.9 208.1L1747.1 201.8L1757.6 192.1L1767.3 173.6L1770.6 153.8L1770.9 133.4L1767 114.1Z" fill="#5CBE28" fill-opacity="0.72"/><path transform="scale(.5)" d="M3525 231h0m-8 145h0m12-134h0m-41 154h0m45-124h0m-1 28h0m8 12h0m-12-83h0m-2 130h0m10-70h0m-38 104h0m-19 9h0m54-106h0m-62 112h0m57-167h0m0-6h0m7 112h0m-55 65h0m61-126h0m-6-47h0m-1 15h0m-4-14h0m-57 176h0m39-34h0m9-31h0m15-115h0m-61 179h0m35-29h0m26-76h0m-28 77h0m23-157h0m-30 154h0m34-79h0m0 11h0m-12 32h0m5-116h0m6 19h0m-36 138h0m-12 15h0m-15 8h0m26-23h0m-25 16h0m62-92h0m2-30h0m-28 91h0m25-71h0m-57 99h0m57-49h0m-36 44h0m24-38h0m-22 35h0m16-29h0m-20 29h0m37-165h0m-38 175h0m37-118h0m1-58h0m8 91h0m-10 27h0m-16 35h0m16-47h0m-1-1h0m1-6h0m-15 39h0m-24 31h0m13-7h0m22-54h0m5-105h0m2 112h0m-60 69h0m35-21h0m-34 11h0m9-5h0m42-167h0m-22 154h0m30-130h0m-20 124h0m28-105h0m-50 129h0m43-53h0m7-81h0m-29 116h0m29-106h0m-2-24h0m-45 136h0m22-15h0m-4 9h0m15-27h0m7-129h0m7 33h0m-11-9h0m-19 129h0m22-151h0m-14 126h0m-19 35h0m-11 11h0m51-135h0m-4-6h0m-7 61h0m-2 16h0m2-107h0m7 44h0m-8 70h0m-58 68h0m64-115h0m6 16h0m-11 11h0m3-93h0m3 79h0m-1-76h0m-32 154h0m27-61h0m-29 57h0m29-141h0m7 41h0m-31 108h0m17-39h0m8 2h0m-12 15h0m-20 17h0m39-69h0m-11-81h0m-1 112h0m-53 62h0m56-83h0m10-75h0m-6 53h0m-25 76h0m30-69h0m1-42h0m-49 133h0m45-92h0m0-20h0m-19 75h0m13-26h0m-4-102h0m-35 164h0m33-35h0m5-9h0m11-76h0m-69 127h0m61-161h0m7 79h0m2-60h0m-34 114h0m28-78h0m-5-46h0m-46 143h0m56-78h0m-1-74h0m-40 143h0" stroke="#5CBE28" stroke-width="5.2" stroke-linecap="round" fill="none"/><path transform="scale(.5)" d="M3322 402h0m14 6h0m8-2h0m10 12h0m12-6h0m14 10h0m8 6h0m12 2h0m-70-6h0m20-22h0" stroke="#F8766D" stroke-width="5.2" stroke-linecap="round" fill="none"/><path transform="scale(.5)" d="M3298 641h0m-14-140h0m-25 81h0m-10-98h0m22-5h0m83 118h0m-150-19h0m106-91h0m-28 60h0m14-1h0m-65-47h0m30-11h0m-15 123h0m48-20h0m-9 60h0m2-53h0m35 10h0m27-54h0m-141 36h0m82-22h0m-57-32h0m-22 34h0m14-3h0m88 56h0m-9-34h0m-35 50h0m73-134h0m-54 91h0m-1-49h0m-25-40h0m-7 118h0m11-56h0m43 83h0m44-38h0m-66-130h0m66 43h0m-125-20h0m135 108h0m-91-102h0m-2 94h0m60-35h0m-86 13h0m22-68h0m48 129h0m6-30h0m20-88h0m-118 67h0m94-16h0m38-51h0m-13 64h0m-76-97h0m58 129h0m-5-97h0m-55 58h0m-52 26h0m60-121h0m53 98h0m-7-35h0m36-15h0m-124 63h0m134 23h0m-72-120h0m-63 53h0m33 83h0m-36-79h0m43 63h0m62-2h0m-69-124h0m61 83h0m-113-28h0m45 16h0m-25 56h0m-13-39h0m112-88h0m-99 89h0m127-7h0m-151-17h0m66 6h0m15-118h0m88 112h0m-24 44h0m-131-47h0m116 82h0m-101-151h0m121 39h0m-11 53h0m-113-44h0m21-3h0m-23-41h0m-9 86h0m61-56h0m73 90h0m-120-62h0m75 79h0m-82-128h0m122 114h0m-32-7h0m-16-10h0m5-68h0m-60 10h0m46-88h0m-68 91h0m14-53h0m64 109h0m20-20h0m11-92h0m-79 79h0m24-3h0m95-15h0m-141 23h0m31-55h0m80 117h0m-84-15h0m-9-109h0m-5-6h0m-17 95h0m110-44h0m-113 37h0m1-87h0m17 22h0m-21 12h0m59 44h0m3-83h0m-44 12h0m116 13h0m-95 68h0m84 13h0m-21 19h0m-108-68h0m115-59h0m22 42h0m-12 40h0m9 25h0m-20-68h0m-39-54h0m-79 54h0m109-17h0m13 46h0m-2 74h0m-72-119h0m60 68h0m26 1h0m-127 19h0m131 26h0m-8-75h0m-45-10h0m34-44h0m-47-61h0m29 105h0m29 99h0m-122-69h0m47-64h0m-56 64h0m62-108h0m44 26h0m-2-51h0m-92 143h0m40-64h0m31-79h0m21 93h0m-26-36h0m60 33h0m-93 99h0m-19-11h0m67-168h0m14 138h0m-82-94h0m39 151h0m62-49h0m-75 14h0m93-29h0m-4 16h0m-78-46h0m78 58h0m5 15h0m5-71h0m-102-9h0m23-28h0m3-18h0m58 98h0m-137-48h0m80-3h0m-3-20h0m16-57h0m-24 89h0m42-51h0m-43-8h0m98 111h0m-113-78h0m10-43h0m14 128h0m50-98h0m-28-14h0m-59 22h0m-37 3h0m34-38h0m85 100h0m52-38h0m-65-75h0m-26 1h0m-24 39h0m-13-72h0m-29 159h0m80-43h0m-27-65h0m50 2h0m-57 35h0m-57 55h0m28-124h0m76 38h0m-86 21h0m110 3h0m-133 62h0m155-4h0m-151-65h0m19 88h0m140-76h0m-46-32h0m23 33h0m-108-68h0m128 100h0m-29 73h0m-123-110h0m68-23h0m-24 27h0m65-22h0m-104 62h0m97-77h0m-22 110h0m-58-17h0m110 27h0m-74-114h0m24 40h0m-87 33h0m156 45h0m-71-54h0m-90 21h0m27-34h0m74-118h0m-84 155h0m25-40h0m56-111h0m-27 140h0m-36-70h0m54-75h0m-54 138h0m26-98h0m0 119h0m54-5h0m-34 0h0m92 7h0m-52-52h0m-98-16h0m78-74h0m38 76h0m-140 47h0m55-81h0m-30 51h0m28-24h0m44 20h0m-98 35h0m141 48h0m-70-29h0m18-136h0m8 124h0m-23-102h0m11-3h0m65 139h0m-82-166h0m18 195h0m-25-182h0m59 164h0m-88-32h0m31 24h0m10-109h0m15-15h0m16 120h0m-33-111h0m-25 125h0m55-88h0m-49 25h0m2 42h0m39-34h0m25-50h0m12-30h0m-16 161h0m-9-108h0m-77-18h0m101-14h0m10 98h0m-45 3h0m-15-43h0m-26-89h0m-41 29h0m7 69h0m81 61h0m-14-45h0m9-105h0m84 71h0m-153 45h0m92-106h0m-32-12h0m-29 43h0m-45 65h0m126-40h0m0-73h0m-54 24h0m15-10h0m-36 41h0m40 78h0m59-74h0m-29-12h0m-72 25h0m48 48h0m9-67h0m-48-71h0m41 128h0m52-70h0m-13 108h0m-82-172h0m3-11h0m68 176h0m25-36h0m-14-48h0m-13 42h0m20 20h0m-103 27h0m-27-107h0m43 9h0m-20-88h0m22 84h0m21 61h0m45-24h0m-1-71h0m-95 66h0m68 40h0m-49-155h0m27 7h0m-63 88h0m-17 39h0m99-102h0m-3-32h0m-98 147h0m55 42h0m57-120h0m-37-69h0m12 46h0m-11 55h0m50 55h0m33-39h0m-13 35h0m-83-147h0m22 109h0m-82-42h0m90 32h0m-3 94h0m46-139h0m-9 33h0m4 19h0m-122 13h0m70 30h0m45-71h0m-52 88h0m17-23h0m70-25h0m-66-62h0m-52-16h0m103 134h0m-2-9h0m-73-177h0m73 97h0m-38 13h0m-31-106h0m26 19h0m-39 36h0m-35 91h0m128-51h0m12 31h0m-155-18h0m3 46h0m73-23h0m-65-73h0m137 28h0m-137 79h0m82-140h0m-28 10h0m22 40h0m56 38h0m-99-73h0m51-45h0m30 67h0m-73-41h0m-51 96h0m96 12h0m39 40h0m-104-21h0m55 63h0m-51-45h0m45 16h0m-47-79h0m-5-88h0m-10 138h0m121 9h0m-99-149h0m27 47h0m-80 32h0m39-4h0m56-89h0m54 146h0m-12 22h0m-52-130h0m-8 14h0m-8-43h0m38 98h0m-20 30h0m-26 29h0m0-138h0m34 15h0m-4 81h0m58-46h0m-109 43h0m69-78h0m-97 108h0m79 4h0m-62-48h0m129-19h0m-68 23h0m85 35h0m-122-89h0m-23 38h0m-11 16h0m48-49h0m-35-27h0m101 77h0m-101 66h0m6-162h0m105 83h0m-82-19h0m78 16h0m4-2h0m-101-85h0m-15 79h0m16 18h0m41 68h0m-74-46h0m80 9h0m-63 2h0m139 0h0m-138-74h0m16 61h0m70-10h0m-66-112h0m89 78h0m-107 96h0m53-183h0m23 95h0m-73-14h0m70 114h0m-84-81h0m26-101h0m73 93h0m41 53h0m-102-88h0m-11-10h0m-1 74h0m-20 28h0m32-17h0m51-85h0m-74 50h0m-23 41h0m94-88h0m41 61h0m-76 55h0m-13-16h0m29 5h0m16-116h0m51 88h0m-47-76h0m-30 100h0m-50-13h0m93 16h0m49-20h0m-13-23h0m-70 40h0m-86-3h0m155-24h0m-94-56h0m47 65h0m-91-44h0m74-95h0m70 133h0m-91 28h0m-15-109h0m38 53h0m-60-76h0m113 94h0m-54-34h0m61 48h0m-38-37h0m-67 40h0m-4-107h0m53 10h0m57 91h0m-114 43h0m74-109h0m-59 31h0m-32 4h0m66-4h0m31-55h0m-96 87h0m75 19h0m30-23h0m-98-31h0m37 40h0m-71-12h0m168 31h0m-78-139h0m-76 52h0m38 40h0m-36 34h0m89-74h0m-60-8h0m59 76h0m46-51h0m-64 47h0m-69-76h0m138 66h0m0-45h0m-45-21h0m-78 106h0m41-21h0m-37-23h0m132 30h0m-141-101h0m133 73h0m17-11h0m-66-105h0m-29 98h0m-3-87h0m19 49h0m-63 35h0m43-31h0m54-25h0m-41 127h0m-41-171h0m43 150h0m-31-45h0m-36 60h0m-8-70h0m73 57h0m-91-45h0m96 66h0m-56-95h0m86-40h0m-72 107h0m29 2h0m40 3h0m-103-56h0m144 45h0m-121-115h0m0 154h0m103-77h0m11-7h0m-105-73h0m41 158h0m-46-27h0m-7-129h0m5 53h0m53 10h0m-71 73h0m-2-33h0m98-36h0m-78-23h0m84 129h0m-41-210h0m36 80h0m-101-13h0m29 83h0m49 50h0m63-24h0m-91 25h0m53-47h0m-120-50h0m90 20h0m-64 10h0m41-4h0m-70-20h0m71-7h0m20 29h0m-57-61h0m38 4h0m-37 36h0m65 113h0m54-62h0m-20-35h0m32 42h0m-89 2h0m-31 25h0m25-194h0m-51 166h0m99-39h0m-76 9h0m122-39h0m-110 92h0m-41-26h0m58-41h0m-7 68h0m96-35h0m-3-64h0m-65 57h0m54 20h0m-85-34h0m0 43h0m-22-12h0m76-99h0m-109 72h0m134-29h0m-101-27h0m20 30h0m34 15h0m-17-112h0m-7 87h0m-44 23h0m9-3h0m44 61h0m21 25h0m56-70h0m-110-107h0m53 114h0m-1-70h0m-100 49h0m151 3h0m9 3h0m-92 54h0m62-16h0m-32-101h0m-35 18h0m14-16h0m-46 70h0m100-91h0m-54 121h0m41 50h0m11-69h0m-34 5h0m-4 62h0m20-56h0m31 37h0m-141-71h0m22 25h0m55-3h0m41 53h0m-81-152h0m140 90h0m-98 45h0m4 4h0m-61-5h0m124-85h0m0 28h0m-5-36h0m-4-28h0m-4 140h0m-118-32h0m86-146h0m15 145h0m51-27h0m-85 64h0m6-88h0m-21-53h0m-38 111h0m55-20h0m-39-42h0m47-26h0m-29 35h0m47 26h0m17-32h0m24-22h0m-81-66h0m56 184h0m-47-49h0m8 53h0m-15-199h0m10 142h0m48-1h0m25-47h0m-125-75h0m67 69h0m55 27h0m-150-13h0m20-27h0m113-40h0m-7 105h0m-20-3h0m-7-24h0m-92 18h0m129 0h0m-39 31h0m43 17h0m-104-175h0m40 165h0m-3-58h0m-36-43h0m70-25h0m-35 92h0m-21 0h0m36 52h0m-54-58h0m92-67h0m-61 120h0m38-58h0m38-29h0m-112 25h0m-31-14h0m87 10h0m-62 28h0m36-75h0m103 72h0m-105-52h0m51 44h0m32-43h0m-27-35h0m18-26h0m38 102h0m-7-38h0m-115 64h0m69-92h0m-30-81h0m25 101h0m21 46h0m-71-45h0m67 83h0m-101-125h0m124 58h0m-75-99h0m37 141h0m-39-73h0m72 8h0m-140 41h0m89-32h0m60 19h0m-106-85h0m2 111h0m59-143h0m-99 103h0m-10-4h0m130 39h0m-7 64h0m-9 8h0m-23-157h0m-4 23h0m-67-20h0m20 131h0m-14-33h0m-17-59h0m-3 40h0m100 38h0m-98-55h0m97 93h0m-10-132h0m12 43h0m-10-25h0m71 24h0m-39-66h0m-58-49h0m-45 113h0m46-61h0m-68 73h0m46 38h0m34-14h0m-1 2h0m74-38h0m-72-18h0m-41-56h0m35 5h0m-25 135h0m6-99h0m-7-59h0m-8 59h0m130 57h0m-50 64h0m-32-45h0m39-15h0m-18-8h0m-103-16h0m41-94h0m27 49h0m-8-50h0m-57 58h0m93 76h0m15 36h0m-22-123h0m30 53h0m-131-24h0m76-7h0m-57-22h0m26-65h0m-12 113h0m-29-22h0m111 99h0m-51-183h0m-7 60h0m13-39h0m26 119h0m9-134h0m-37 73h0m69-36h0m-24 85h0m45-36h0m-153 43h0m109 28h0m30-75h0m-130 29h0m30-9h0m24 26h0m-36-35h0m-26 26h0m73-33h0m25 0h0m21-70h0m2 13h0m-72 130h0m106-37h0m-57 41h0m-54-187h0m-20 74h0m-1-27h0m-4 63h0m52-106h0m12 4h0m-71 54h0m145 64h0m-109 37h0m77-112h0m-27-18h0m-24 160h0m-15-35h0m16 41h0m-27-193h0m22 41h0m8-58h0m-26 147h0m14-141h0m43 172h0m-42-99h0m-23 78h0m37 63h0m-34-124h0m47 117h0m14-151h0m16 117h0m-130-42h0m9-36h0m73-10h0m19-21h0m-18 118h0m-37-93h0m42-45h0m32 16h0m-40 2h0m-43 116h0m102-86h0m-105 18h0m52-42h0m-46 32h0m29-80h0m22 67h0m-78 49h0m142 47h0m-64 8h0m-34-22h0m-19-116h0m-21 121h0m42-2h0m49-95h0m-20 62h0m-68 31h0m26-29h0m-27-73h0m145 44h0m-130 73h0m47-153h0m62 64h0m-22-52h0m-46-14h0m95 108h0m-173 5h0m80-123h0m-20 24h0m-12 41h0m30-47h0m-15 78h0m-65 11h0m119-19h0m-115 28h0m53-46h0m30-82h0m42 169h0m-60-116h0m35 116h0m-19-169h0m-9 127h0m-30-106h0m66 95h0m-59 67h0m47-34h0m9-34h0m23-60h0m3-6h0m-39-27h0m28 76h0m-18 104h0m-26-44h0m-19-27h0m34 23h0m58-17h0m-126-14h0m64 25h0m-1-132h0m-43 47h0m123 95h0m-68 14h0m-78-112h0m40 91h0m102-69h0m-10 90h0m-118-99h0m57-62h0m66 142h0m-13-50h0m-122 38h0m54-80h0m-37 26h0m-32-5h0m49-74h0m9-9h0m-55 107h0m152 18h0m-18-30h0m19 56h0m-107-127h0m-2 138h0" stroke="#5CBE28" stroke-width="5.2" stroke-linecap="round" fill="none"/><path d="M1658.5 278L1658.4 280.9L1658.1 283.9L1657.3 286.6L1656.1 288.7L1654.6 290L1653 290.5L1651.4 290L1649.9 288.7L1648.7 286.6L1647.9 283.9L1647.6 280.9L1647.5 278L1647.6 275.1L1647.9 272.1L1648.7 269.4L1649.9 267.3L1651.4 266L1653 265.5L1654.6 266L1656.1 267.3L1657.3 269.4L1658.1 272.1L1658.4 275.1Z" fill="#5CBE28" fill-opacity="0.72"/><path transform="scale(.5)" d="M3310 555h0m8-7h0m-10-17h0m2 17h0m-3 21h0m-2-31h0m8 25h0m-5-28h0m-1-1h0m8 8h0m-12-1h0m4-4h0m-6 24h0m8-6h0m2 10h0m-5 9h0m7-33h0m-2 20h0m-16-17h0m2 13h0m9 17h0m0-2h0m12-19h0m-25-3h0m14 32h0m1-12h0m-4-16h0m14-5h0m-21-13h0m15 32h0m-11-8h0m8 11h0m-6-4h0m6 6h0m-3 7h0m11-21h0m-5 18h0m-10-25h0m-5 7h0m9-7h0m-8 15h0m5-33h0m5 37h0m-8-25h0m14 13h0m-2-14h0m-7-8h0m-12 10h0m20-6h0m-15 28h0m-1-2h0m17 9h0m-16-42h0m20 20h0m-16 27h0m-1-47h0m1 24h0m3 12h0m13 0h0m-8 2h0m-9-33h0m3 11h0m-1 0h0m0-13h0m-6 12h0m6 8h0m7 11h0m-13 6h0" stroke="#5CBE28" stroke-width="5.2" stroke-linecap="round" fill="none"/><path transform="scale(.5)" d="M3199 556h0m12 5h0m8-54h0m-3 36h0m-10 27h0m3 1h0m-3-9h0m-6 48h0m12-89h0m2-10h0m9 120h0m-10-73h0m-12-5h0m18-49h0m-17 33h0m-3 33h0m22-41h0m-16 16h0m13 70h0m-5-13h0m2 11h0m-18-29h0m20 27h0m-6-73h0m-12 32h0m19-49h0m7-6h0m-9 122h0m-15-42h0m16-83h0m-14 99h0m10 16h0m-2-21h0m14 25h0m-29-59h0m6-30h0m14-27h0m-4 107h0m8 2h0m-15-48h0m9 44h0m-2-98h0m3 112h0m0-91h0m-10 61h0m23 25h0m-18-66h0m1 5h0m-12 14h0m14-31h0m-1-26h0m3 94h0m-10-22h0m1-49h0m4 4h0m3 76h0m-14-70h0m16-14h0m-17 39h0m6 31h0m18 19h0m1-11h0m-6 14h0m-2-25h0m-14 1h0m23 23h0m-18-78h0m5 50h0m-1-8h0m2-47h0m-16 15h0m19-32h0m-12 1h0m26 93h0m-16-32h0m-1-41h0m-5 63h0m3-44h0m5 38h0m-3-53h0m7-39h0m-22 45h0m24 66h0m-11-74h0m17-51h0m-6 19h0m-11 11h0m2 56h0m-3 12h0m9-91h0m-20 62h0" stroke="#5CBE28" stroke-width="5.2" stroke-linecap="round" fill="none"/><path transform="scale(.5)" d="M3551 483h0m-19 104h0m-7-108h0m17 9h0m11 30h0m10 1h0m0 0h0m-36 77h0m11-5h0m-10-119h0m37 77h0m-5-48h0m-26-15h0m22 3h0m4 25h0m-18-23h0m14 20h0m7-1h0m-11 1h0m-49-47h0m33 125h0m-9-2h0m31-100h0m-30-16h0m24 20h0m0-2h0m-17-13h0m-5 7h0m3 100h0m-23-128h0m42 120h0m4-89h0m-36-16h0m43 48h0m-29-38h0m26 90h0m-13 13h0m13-22h0m-57-101h0m49 33h0m0-1h0m4 75h0m-10-68h0m6 55h0m4-44h0m-28 89h0m30-88h0m-2 15h0m-13-45h0m20 44h0m-1 1h0m-24-42h0m9 106h0m-8-8h0m28-52h0m-28 55h0m6-5h0m17-28h0m-19-60h0m-35-32h0m29 25h0m25 59h0m-8-32h0m2-7h0m3 23h0m-46-61h0m56 56h0m-2 13h0m-15 49h0m6-9h0m1-74h0m-12-10h0m8 58h0m5-11h0m-29-62h0m-25-10h0m-1-2h0m32 23h0m-13 101h0m36-62h0m-31 75h0m5-118h0m34 50h0m-30 46h0m-1 6h0m-2-111h0m10 107h0m-16-105h0m27 69h0m6-35h0m-49-48h0m-4 2h0m56 75h0m-28 41h0m0 9h0m20-15h0m-16-98h0m6 94h0m-24-100h0m43 42h0m-49-38h0m45 72h0m9-9h0m-21-42h0m-10-15h0m16 35h0m7 14h0m-34-56h0m24 79h0m-11 25h0m8-89h0m-29 105h0m16-115h0m30 60h0m-20 32h0m-30-113h0m42 38h0m5 64h0m-5 12h0m-36-96h0m41 47h0m-5-27h0m-9 85h0m-24-115h0m43 80h0m-3 7h0m-7-15h0m-45-78h0m28 118h0m5-8h0m-27-94h0m31 16h0m-2 70h0m10-64h0m-39-24h0m47 69h0m-15-57h0m-23 113h0m27-71h0m-8 60h0m-14 0h0m24-57h0m-2-43h0m0 3h0m-18-5h0m-14 104h0m43-73h0m-41-44h0m24 37h0m9 52h0m-25-82h0m25 71h0m-31-72h0m16 103h0m11-66h0m4 17h0m-5 16h0m-33-89h0m18 132h0" stroke="#5CBE28" stroke-width="5.2" stroke-linecap="round" fill="none"/><path transform="scale(.5)" d="M3593 583h0m9-51h0m9 18h0m-11-20h0m-1 48h0m10-40h0m-13 0h0m8 41h0m0-44h0m-14-9h0m13 56h0m-13 3h0m15-15h0m-14 14h0m10-57h0m-1 49h0m-3-47h0m-1 5h0m11 23h0m-13 26h0m10-45h0m-15 46h0m20-35h0m-1 25h0m-20 13h0m14-33h0m0 21h0m5-15h0m-3-6h0m-6 26h0m-7-48h0m-1 54h0m12-5h0m-6 1h0m8-16h0m-2-3h0" stroke="#5CBE28" stroke-width="5.2" stroke-linecap="round" fill="none"/><path transform="scale(.5)" d="M3792 389h0m-16-28h0m45-47h0m18 33h0m3-26h0m32-15h0m-99 99h0m61-92h0m-68 74h0m103-51h0m-90 61h0m66-41h0m-55-34h0m-16 81h0m-1 2h0m67-95h0m-59 11h0m44-26h0m-80-38h0m16 38h0m70 54h0m-93-49h0m83 10h0m-47 18h0m57 36h0m26-58h0m-104 37h0m135 18h0m-106-54h0m16 12h0m-5 68h0m68-28h0m-1-3h0m-22-71h0m-13 96h0m-56-37h0m32 8h0m23 41h0m-53-25h0m115-47h0m-81-30h0m8 67h0m-38-48h0m-32 32h0m51 14h0m17 4h0m-25-55h0m-28 47h0m37 0h0m-51-69h0m114 31h0m-42 67h0m-50-20h0m39 36h0m-60-94h0m91-22h0m-27 124h0m-31-12h0m-31-112h0m121 10h0m-43 75h0m65-28h0m-6 20h0m-30-69h0m-82 97h0m12-103h0m-3 53h0m17 35h0m-20-25h0m74-55h0m-72 7h0m116 66h0m-96-16h0m21-41h0m85 59h0m-118-40h0m83-16h0m-139-39h0m114 49h0m-61 31h0m58-17h0m-96-59h0m50 90h0m19-76h0m80 37h0m-21-28h0m-71-16h0m28 37h0m-55 38h0m13 20h0m22 10h0m25-80h0m16 56h0m-61-68h0m85 74h0m-100-24h0m36 51h0m43-84h0m12 11h0m-20-13h0m34 60h0m-148-125h0m119 64h0m-22 61h0m-6-42h0m58 46h0m-50-23h0m-36-48h0m83 61h0m-119-97h0m82 60h0m-64-35h0m43 60h0m-13-70h0m-12 18h0m107 38h0m-163-31h0m53 28h0m-18-55h0m56 85h0m34-69h0m-89 20h0m56-5h0m-75-15h0m132 79h0m-153-58h0m10-14h0m75 21h0m-49 77h0m129-31h0m-102 27h0m11-62h0m-30-62h0m-24 33h0m14 57h0m104-69h0m-132 34h0m55-44h0m-31 19h0m133 38h0m-152-73h0m106 104h0m-10-17h0m-62-5h0m-26 28h0m8-58h0m32 80h0m88-43h0m-19 7h0m-26-60h0m-82-14h0m115 43h0m-101 7h0m2-48h0m-12-19h0m-4 72h0m19-69h0m51 28h0m66 51h0m-156-74h0m169 63h0m-64-20h0m-12-20h0m-74-30h0m24 36h0m88 68h0m-27-31h0m-37-49h0m40 85h0m-86-75h0m47 100h0m-53-125h0m-4 24h0m113 4h0m9 64h0m-66-29h0m-8 63h0m32-41h0m-50-52h0m64-21h0m-61 33h0m83-35h0m-55 65h0m24-36h0m-35 15h0m-54-90h0m85 77h0m-65-33h0m-26-19h0m58 77h0m-49-1h0m115-33h0m-15-21h0m4 14h0m-48 50h0m61-72h0m-94 17h0m126 61h0m-70 27h0m20-82h0m-61 54h0m80-40h0m-74-26h0m12 86h0m-31-26h0m104-13h0m-97 6h0m21 17h0m97 7h0m-53-72h0m-44-23h0m50 81h0m-61-49h0m-50-53h0m71 101h0m-71-111h0m84 43h0m-83 4h0m44 6h0m-48-62h0m87 161h0m-54-93h0m107 3h0m-100 63h0m54 0h0m-74-16h0m75-44h0m-75-19h0m70 55h0m-33 27h0m8 19h0m87-32h0m-116-49h0m32 15h0m65-22h0m2-5h0m-114 14h0m90-32h0m-54 48h0m-14 59h0m7-56h0m20-53h0m-30 93h0m-28-82h0m51 1h0m-55 3h0m28 82h0m132-52h0m-95 73h0m45-60h0m-81 59h0m-29-81h0m-6-58h0m83 130h0m-40-100h0m121 70h0m-121-1h0m51-45h0m-33-24h0m-56 52h0m65-35h0m37 33h0m-55 27h0m-37-73h0m138 74h0m-128-15h0m136-12h0m-77-44h0m-48 13h0m-12 56h0m3 10h0m110-49h0m-6 17h0m-94 59h0m66-21h0m-6-50h0m4-49h0m-4 83h0m-52-36h0m98 38h0m-69-56h0m-50 77h0m77-95h0m-91-30h0m39 95h0m11-62h0m52 63h0m-68-76h0m111 75h0m-148-80h0m-6-32h0m73 125h0m55-25h0m-24-38h0m-81 31h0m-19-97h0m29 166h0m96-99h0m-21 3h0m9-11h0m-18 60h0m23 18h0m-93-107h0m109 79h0m-43-37h0m-74 6h0m93 37h0m-38-54h0m41-6h0m-115 34h0m34 5h0m121 12h0m-34-12h0m-41 23h0m-48-60h0m33 57h0m-15 30h0m94-18h0m-21-59h0m-83-7h0m1-21h0m45 25h0m-37-7h0m1 46h0m107 14h0m-54-13h0m-106-59h0m63 38h0m15-40h0m-80-22h0m111 30h0m6-7h0m-99 33h0m18 71h0m86-99h0m-60 74h0m82-66h0m-55 87h0m-60 11h0m-4-78h0m92 7h0m-58-41h0m-15 81h0m-37-125h0m129 77h0m-113-12h0m-6-24h0m142 51h0m-68-15h0m-38 67h0m33-1h0m33-57h0m-67-52h0m-24 35h0m15-17h0m80 29h0m38 4h0m-24-12h0m-117 42h0m126 9h0m-15-9h0m-44 9h0m-81-17h0m43 11h0m17-54h0m88 66h0m-17-39h0m-111-46h0m-3 52h0m-16-72h0m104 70h0m-67 9h0m-38-7h0m109 27h0m-76 29h0m76-99h0m42 22h0m-125-49h0m-3 109h0m105-31h0m-35-16h0m45-19h0m-53 61h0m-61 6h0m63 2h0m-25 2h0m-2-103h0m50 59h0m-65 46h0m8-87h0m51 71h0m-88-54h0m84 51h0m-92-48h0m19 43h0m40-67h0m-31 35h0m98 24h0m13 25h0m-127-59h0m20-6h0m-31-18h0m24 6h0m42-15h0m24 7h0m-102-54h0m51 142h0m51-30h0m-63-40h0m107 17h0m-127-26h0m-24-40h0m154 109h0m-31-34h0m29-6h0m-126-5h0m76 25h0m23 10h0m-80-11h0m-14-46h0m73 69h0m-71-75h0m118 12h0m-126 62h0m104-40h0m-110 43h0m131-2h0m-123-42h0m82 34h0m-62-79h0m-11 38h0m-5 54h0m-5-52h0m14 56h0m-8-49h0m48 47h0m-36 24h0m-17-11h0m149-38h0m-83-16h0m40 23h0m-76 1h0m97-17h0m-78 61h0m12-52h0m-71-38h0m104 13h0m-28 47h0m-18-19h0m-22-83h0m93 70h0m9-11h0m-142-76h0m78 80h0m-74-69h0m81 36h0m-42 10h0m78 41h0m-110 18h0m45-47h0m-21 2h0m-39-48h0m130 9h0m-119-3h0m96 41h0m-105-25h0m60 93h0m-51-58h0m30 36h0m-12-96h0m-11 84h0m11 24h0m124-29h0m-115 46h0m22-90h0m66 30h0m-53-12h0m16-39h0m-36 79h0m-6-91h0m67 74h0m-50-46h0m82 29h0m-41-42h0m54 48h0m-65 26h0m-63-18h0m4-70h0m60 12h0m50 10h0m-77 29h0m-21 44h0m79-45h0m-21-29h0m-42 51h0m-16 11h0m37-1h0m1-75h0m-76 50h0m56 33h0m-17 22h0m86-38h0m-68-50h0m6-5h0m69 51h0m26 18h0m-59-18h0m-26 13h0m73-26h0m-76-47h0m60 60h0m-51 30h0m78-22h0m-70-35h0m-71 59h0m49-56h0m-55-49h0m130 43h0m-133-7h0m37-23h0m-20 102h0m-24-131h0m26 34h0m7-2h0m-28 38h0m35 39h0m62-53h0m7-30h0m6 78h0m-39-76h0m-50 25h0m-3 12h0m-19-30h0m10 22h0m0 77h0m93-103h0m-43 97h0m-22-36h0m46-17h0m4 35h0m45-35h0m10 19h0m-145-25h0m13-51h0m-15 62h0m91 7h0m52-27h0m-113 7h0m24 79h0m-18-1h0m-27-30h0m111-73h0m-121-37h0m85 29h0m25 11h0m-121 21h0m1-89h0m21 133h0m25 15h0m-10-61h0m-26 17h0m39-20h0m32-39h0m8 15h0m-51 91h0m78-98h0m-9 10h0m-106-62h0m144 71h0m-126-6h0m25-19h0m13 109h0m13-74h0m68 17h0m10-27h0m-16-9h0m3 0h0m-88 94h0m-27-23h0m60-48h0m-66-2h0m29-35h0m2-8h0m39 6h0m64 52h0m-122-38h0m82 78h0m-52-20h0m11-28h0m73 33h0m-20-41h0m15-11h0m-40 42h0m30-44h0m-79 41h0m34 19h0m-40 14h0m-24-36h0m0 8h0m46-42h0m-5 21h0m98-5h0m2 47h0m-50-73h0m-27 31h0m46 38h0m-100-11h0m64-42h0m-67 69h0m-25-65h0m118-19h0m14 13h0m26 29h0m-10-2h0m18-9h0m-157-67h0m14 34h0m17 48h0m21 58h0m7-90h0m58 6h0m-101-32h0m29 59h0m83-25h0m-126 40h0m134-15h0m-99-17h0m3-13h0m11 3h0m-9-26h0m3 56h0m86-32h0m-39-30h0m-76 96h0m38-105h0m94 72h0m-35 15h0m-56-15h0m9 8h0m19-23h0m-70 56h0m131-79h0m-109-38h0m30 108h0m50-47h0m-28-52h0m-46 81h0m75-15h0m-112-69h0m78 57h0m-73-27h0m10 93h0m36-52h0m-14-6h0m97-7h0m-22 35h0m8-54h0m-71 0h0m68-14h0m29 17h0m-86-15h0m-55 81h0m56-103h0m95 57h0m-140-5h0m126 28h0m-151-106h0m108 68h0m-23 34h0m52-43h0m-140 26h0m17-79h0m53 40h0m18-13h0m-17 11h0m-22 49h0m-35 17h0m-15-74h0m58 72h0m-8-1h0m88-8h0m-125-37h0m38-33h0m46 69h0m37-51h0m-49 38h0m-42-4h0m103 31h0m-146-58h0m63 73h0m21-18h0m73-33h0m-148-63h0m18 51h0m31 10h0m-8-55h0m-27-1h0m78 77h0m36-63h0m-72 69h0m44-75h0m17 9h0m-68 10h0m-59-20h0m13 58h0m58-67h0m-69 28h0m29 33h0m87-1h0m-73-17h0m6-7h0m-4-40h0m-19 125h0m39-57h0m1-5h0m95 3h0m-29 26h0m22 1h0m-120 16h0m113-73h0m-83 32h0m-30 43h0m32-43h0m-63-39h0m26 26h0m-6 12h0m85-14h0m-4 7h0m-34 6h0m-69-19h0m141-9h0m-141-11h0m18 95h0m18-1h0m101-16h0m-54-84h0m-40 76h0m118-47h0m-166-6h0m4 27h0m100-35h0m-101 14h0m113 16h0m36-16h0m7 1h0m-98-36h0m-24 56h0m112-37h0m10 49h0m-48-2h0m-110-39h0m151-4h0m-36 49h0m-27-33h0m53 51h0m-1-78h0m-120 85h0m36-89h0m72 79h0m-85-87h0m-45-31h0m89 78h0m6-13h0m-68 19h0" stroke="#C4A029" stroke-width="5.2" stroke-linecap="round" fill="none"/><path d="M1868.5 121.4L1873.3 121.5L1878.3 134.5L1891.5 141.4L1898.9 151L1893.5 164.9L1887.4 173.6L1899.1 183.8L1907.1 194.8L1896.5 203.6L1887.8 204.5L1881.1 197.5L1876.5 183.6L1873.1 174L1870.4 160.4L1868.9 146.2L1867.7 133.3Z" fill="#C4A029" fill-opacity="0.72"/><path transform="scale(.5)" d="M3754 372h0m48 22h0m-11-25h0m-19-87h0m-34 16h0m2-47h0m5 11h0m15 34h0m9 69h0m13 36h0m-37-68h0m45 44h0m-12-63h0m2 70h0m-26-61h0m18-49h0m1 51h0m-3-1h0m32 78h0m-28-43h0m-13-46h0m13-15h0m-16 63h0m21 14h0m-5-63h0m-37-68h0m50 167h0m20-29h0m-29-92h0m9-6h0m2 107h0m-10-60h0m-20-63h0m-20 10h0m50 48h0m6-14h0m-34 78h0m-23-71h0m37 3h0m16-2h0m-23 45h0m21 7h0m-36-54h0m0-13h0m34 90h0m-15-106h0m-14-11h0m-8-18h0m60 127h0m-64-131h0m14 43h0m28 67h0m-43-64h0m-7-13h0m25 20h0m-28-40h0m18 95h0m-11-89h0m26 111h0m-22-114h0m23 79h0m21 15h0m-27 8h0m18-4h0m-5-3h0m-30-54h0m6-9h0m6 53h0m25 32h0m-8-78h0m-3 90h0m-33-113h0m4 51h0m20-65h0m5 109h0m-14-91h0m6 85h0m32 6h0m-27-2h0m36 2h0m-39-28h0m-7-10h0m0 9h0m8-81h0m-20 45h0m62 64h0m-42-50h0m13-41h0m-5 18h0m16 92h0m-37-109h0m6 75h0m15 27h0m-12-111h0m-17 20h0m24 70h0m-23-121h0m17 55h0m39 68h0m-44-108h0m7 83h0m1 19h0m-25-62h0m6 30h0m-2-16h0m7 40h0m22 21h0m-3-23h0m2-71h0m-11 63h0m13-19h0m28 44h0m-21-14h0m-40-78h0m21 67h0m-23-73h0m15-14h0m22 134h0m2-115h0m0 116h0m-11-85h0m14 84h0m12-85h0m-43-53h0m-11-9h0m22 23h0m34 33h0m-12-28h0m-9 65h0m-22-38h0m23 88h0m-4-107h0m5 79h0m-29-36h0m61 64h0m-70-119h0m11 47h0m20-17h0m-27-25h0m29 70h0m27 57h0m-7-33h0m-42-76h0m41 14h0m10 93h0m-41-60h0m12-17h0m-7 56h0m-6-93h0m-12-5h0m50 87h0m-17-9h0m-2 5h0m17 6h0m-53-133h0m67 146h0m-38-54h0m-15-30h0m-5 1h0m20 96h0m-9-19h0m11-105h0m30 124h0m-25-70h0m-9 39h0m-18-124h0m20 110h0m-12 9h0m-19-119h0m12 57h0m43 74h0m8 24h0m-53-151h0m18 33h0m19 3h0m-7 41h0m25 48h0m-33-31h0m-8 37h0m-5-71h0m-3 44h0m13-40h0m10 98h0m-27-118h0m22 52h0m-27 0h0m32 56h0m-12-54h0m0-30h0m2 34h0m-21-105h0m46 119h0m-52-95h0m24 119h0m5-71h0m32 81h0m-31-9h0m-28-147h0m16 139h0m31 10h0m-9-38h0m-10-58h0m13 21h0m-3 71h0m-24-85h0m20-11h0m-18 27h0m26 43h0m-27-86h0m21 12h0m12 108h0m-11-34h0m-13 21h0m-19-68h0m32 23h0m-16 51h0m-19-58h0m14 17h0m28-22h0m19 52h0m-38-76h0m33 91h0m-20-79h0m-22 53h0m53 19h0m-27-20h0m8 41h0m-37-66h0m39 39h0m1 4h0m-40-33h0m0-79h0m-7 16h0m-6-40h0m49 54h0m-29 11h0m4-39h0m9 43h0m-22-2h0m28-13h0m-23 59h0m45 20h0m-36-101h0m19 86h0m-20 10h0m-8 3h0m-2-107h0m30 137h0m-4-99h0m3 77h0m6-26h0m-18 30h0m-8-117h0m-6 16h0m-1 43h0m29 35h0m5 32h0m-20-79h0m-26-18h0m9 46h0m-5-2h0m13-78h0m34 33h0m-19 45h0m-16-45h0m26 31h0m-28-23h0m-18 1h0m21 56h0m0-22h0m25 34h0m-47-105h0m24 106h0m11-31h0m-7-16h0m15 60h0m2-22h0m1 21h0m-44-136h0m0-17h0m33 152h0m13-10h0m24 9h0m-30-27h0m-42-104h0m38 138h0m23-13h0m-11-18h0m-13-3h0m0 36h0m-8-21h0m-14-56h0m31-14h0m-25 77h0m23 0h0m-5-3h0m3-22h0m-17-47h0m8-16h0m-27-38h0m-4-10h0m21 49h0m-3-16h0m-17-35h0m47 144h0m-32-34h0m-20-46h0m38 25h0m6-30h0m-40 25h0m26-44h0m-22-39h0m16 67h0m42 79h0m-36-27h0m14-34h0m-31 13h0m22 26h0m-14 14h0m7-68h0m9 91h0m-23-54h0m36-55h0m-31-16h0m-9-10h0m-1 71h0m0 6h0m2-32h0m12 41h0m29 9h0m6 30h0m-13-99h0m-5 8h0m-9 28h0m24 55h0m-11-93h0m-38 14h0m17 35h0m-3-46h0m42 89h0m-42-31h0m-12-46h0m6 49h0m29 29h0m-5-2h0m11-11h0m-22-18h0m-24-44h0m5 6h0m-7-36h0m12 51h0m15-3h0m-7-34h0m-9-15h0m13 68h0m-18-59h0m60 87h0m-45-96h0m11 19h0m3 6h0m-1 53h0m-13-33h0m0 3h0m-7-61h0m-3 23h0m19 98h0m16-60h0m-45-44h0m13 76h0m-17-114h0m71 130h0m-47-20h0m-11-106h0m29 36h0m-16-4h0m26 93h0m-45-139h0m52 160h0m-29-31h0m-11-13h0m14 14h0m7 28h0m14-5h0m-46-124h0m61 113h0m-7 11h0m-23-88h0m-18 41h0m1-56h0m25 13h0m-42-32h0m49 55h0m-22 51h0m-4-91h0m31 107h0m-54-107h0m46 94h0m-31-29h0m26-70h0m-25 61h0m30-54h0m-15 104h0m-21-102h0m11 29h0m-17-31h0" stroke="#C4A029" stroke-width="5.2" stroke-linecap="round" fill="none"/><path d="M1921.4 151.4L1939.7 150L1950.2 160.8L1953.2 174.1L1944.2 183.2L1930.9 178.2L1920 167.9Z" fill="#C4A029" fill-opacity="0.6"/><path transform="scale(.5)" d="M3875 342h0m9 21h0m-31-54h0m8 1h0m39 42h0m5-12h0m-2 2h0m-21 1h0m-22-19h0m-4 30h0m14-29h0m-13-26h0m8 61h0m7-12h0m-33-31h0m59 11h0m-12 20h0m-46-17h0m47-19h0m-23 1h0m-20 16h0m57 8h0m-8 25h0m7-8h0m-30-26h0m8-18h0m1-4h0m-26 16h0m28 9h0m-8-7h0m-12-21h0m-20 38h0m67 7h0m-8 9h0m-2-10h0m-9 17h0m2-24h0m-2-15h0m5 2h0m-37-3h0m23-20h0m1-4h0m17 19h0m-19-1h0m-16 23h0m40-11h0m-61-10h0m32 33h0m-21-44h0m3 2h0m5 12h0m20-18h0m-18 1h0m34 13h0m-32 29h0m38-10h0m-8-11h0m-12-7h0m9-1h0m-49 13h0m58 5h0m-4-7h0m-38-14h0m8-13h0m33 19h0m-14 46h0m-1-26h0m-39-24h0m52 5h0m-9 40h0m4-18h0m-16-29h0m-5-15h0m16 60h0m-16-48h0m-1-5h0m34 31h0m-50-31h0m41 5h0m-14-2h0m-7 31h0m-9-4h0m33-2h0m-38-18h0m-13-17h0m35 8h0m23 29h0m-18-29h0m-32 9h0m6 27h0m3-25h0m11 41h0m-36-53h0m55 33h0m-34 5h0m-2-44h0m1 22h0m40 11h0m-32 11h0m10-46h0m-23 13h0m41 5h0m-8 14h0m-2 15h0m-19 7h0m-22-13h0m-2-24h0m60 23h0m-61-31h0m20 25h0m0-6h0m8 30h0m-31-34h0m27 24h0m-6 0h0m20-19h0m-3-29h0m20 40h0m-15-11h0m3 11h0m13-7h0m-15 5h0m-34-15h0m27-12h0m-25-1h0m24 22h0m13 32h0m-10-3h0m-30-30h0m24-28h0m36 40h0m-1 7h0m-38-51h0m18 35h0m-7-26h0m-28 35h0m24-29h0m17 31h0m-26-4h0m28 8h0m-5 3h0m-1-42h0m-31 7h0m-12 16h0m-8 4h0m36-21h0m14 51h0m5-40h0m-27 30h0m17-2h0m-42-36h0m18 25h0m31 18h0m-52-40h0m32-7h0m-28 7h0m15 28h0m22-1h0m-34-43h0m12 47h0m11 7h0m26-30h0m-17 0h0m-4 32h0m13-47h0m-15 22h0m-5-6h0m26-10h0m7 12h0m-32-14h0m26 9h0m-9-21h0m-41 1h0m35-11h0m3 55h0m-8-21h0m31 21h0m-48-14h0m-15-34h0m30 34h0m-18 14h0m25-23h0m-39 0h0m37-7h0m-2 16h0m2 20h0m-3-44h0" stroke="#C4A029" stroke-width="5.2" stroke-linecap="round" fill="none"/><path transform="scale(.5)" d="M3918 662h0m15-37h0m-24 31h0m39-41h0m-1 36h0m-38-43h0m34 50h0m0-27h0m-8 23h0m-46-46h0m28-8h0m21 36h0m12 22h0m-47-45h0m54 15h0m6 16h0m-21-28h0m12-6h0m-51 46h0m-6-49h0m6 4h0m2 47h0m24-15h0m14-34h0m-35 33h0m36-17h0m15 13h0m0 22h0m-44-23h0m40-21h0m-39 23h0m8-4h0m31-14h0m-12 10h0m-28 7h0m-20-22h0m17 44h0m18-1h0m19-8h0m-1-30h0m-27 13h0m-6 9h0m-13-8h0m44-33h0m26 39h0m-59 16h0m-6-6h0m53-36h0m-33 14h0m31 28h0m-68-34h0m26-7h0m-16 28h0m61-9h0m-33 1h0m41-1h0m2 11h0m-69-19h0m42 36h0m13-42h0m11 18h0m-26 27h0m16-53h0m-17-13h0m30 21h0m-79-6h0m14 21h0m62-4h0m-27 15h0m9 8h0m-59-25h0m72 1h0m-24-13h0m-16 9h0m12 17h0m-39 0h0m27-2h0m48-1h0m-13-10h0m10-11h0m-78 2h0m21 21h0m31 15h0m-5-45h0m-8 11h0m-5-11h0m-4 23h0m7 22h0m-10-24h0m-10 5h0m34-23h0m-1 13h0m7-24h0m-24 44h0m-22-29h0m15 6h0m16 5h0m-16 27h0m-20-45h0m51 24h0m-28 16h0m39-41h0m-3 35h0m-66-39h0m69 45h0m-68-41h0m22 7h0m-18 24h0m6-35h0m12 7h0m40 20h0m5-27h0m-64 36h0m-3-31h0m22-6h0m57 12h0m8 18h0m-66 0h0m22-26h0m-19 53h0m17-63h0m0 60h0m15-26h0m-12 11h0m12 0h0m22 15h0m-53-21h0m44-31h0m-2 17h0m-37 33h0m42 1h0m1-27h0m-43-32h0m-9 6h0m36 54h0m-2-56h0m-59 6h0m63-10h0m-38 13h0m32 6h0m-3 43h0m-20-41h0m-24 26h0m57-20h0m1-3h0m-7-8h0m21 21h0m-38 20h0m34-10h0m10-20h0m-66 18h0m9-16h0m-8-19h0m9 46h0m-17-51h0m8 45h0m-20-51h0m15 17h0m7-15h0" stroke="#5DCDF4" stroke-width="5.2" stroke-linecap="round" fill="none"/><path d="M1971.5 311L1971 313.8L1969.5 316.4L1967.1 318.6L1964.1 320.2L1960.6 321.2L1957 321.5L1953.4 321.2L1949.9 320.2L1946.9 318.6L1944.5 316.4L1943 313.8L1942.5 311L1943 308.2L1944.5 305.6L1946.9 303.4L1949.9 301.8L1953.4 300.8L1957 300.5L1960.6 300.8L1964.1 301.8L1967.1 303.4L1969.5 305.6L1971 308.2Z" fill="#5DCDF4" fill-opacity="0.72"/><path transform="scale(.5)" d="M3917 640h0m-23-10h0m16-21h0m32 17h0m-23 4h0m-3-7h0m-13-8h0m20 21h0m15-20h0m-37 26h0m19-38h0m-27 31h0m41-10h0m-49 0h0m17 4h0m37-6h0m-5-18h0m-45 4h0m31 31h0m4 0h0m-7-41h0m-2 16h0m10 26h0m-30-36h0m21 20h0m-18 10h0m9-35h0m27 29h0m-45 6h0m11-21h0m28-2h0m-21 13h0m34-9h0m-9-7h0m2 31h0m-36-26h0m31-5h0m2 9h0m-37 18h0m48-24h0m-10-8h0m-42 8h0m17 10h0m15 15h0m13-17h0m4 5h0m-17 13h0m-28-2h0m28 1h0m-30-7h0m16-12h0m31 6h0m-38-14h0m8-2h0m-21 2h0m24 25h0m7-21h0m5 9h0m-17-5h0m6-7h0m-27 10h0m25 16h0m-1 1h0m20-14h0m8-2h0m-27-12h0m14 29h0m-12-19h0m-17-7h0m17 13h0m-5-13h0m0 6h0m34 3h0m-33 20h0m27-16h0m-34-1h0m16-12h0m-4 18h0m11-1h0m-39-11h0m10 9h0m0 1h0m34-24h0m-36 32h0m27-5h0m-34-19h0m-1 0h0m18 22h0m21 9h0m13-30h0m-41-3h0m-1-4h0m35 3h0m5 17h0m-40-13h0m43 15h0m-37-15h0m12 22h0m-18-15h0m27 13h0m-18-27h0m5 27h0m27 0h0m-36 3h0m20-20h0m4-2h0m-17 5h0m-20 14h0m26-12h0m18 10h0m-46-20h0m13-7h0m-9 3h0m8 26h0m10 7h0m3-41h0m28 28h0m-17 9h0m-2-28h0m5-5h0m-6 18h0m13 14h0m-8-36h0m-3 14h0m-17 3h0m-7 25h0m11 0h0m14-18h0m-26 2h0m49-8h0m-57 2h0m51 7h0m-19 13h0" stroke="#5DCDF4" stroke-width="5.2" stroke-linecap="round" fill="none"/><path d="M1801.1 359L1812.5 353.4L1821.8 357.5L1828.9 365L1836.5 370.3L1841.5 375.9L1833.8 384.2L1827.4 391.6L1815.3 394.5L1806.9 390.8L1803.4 379.5L1800.4 368.4Z" fill="#A78AFF" fill-opacity="0.72"/><path transform="scale(.5)" d="M3648 754h0m-45-38h0m26 45h0m-25-25h0m41-3h0m-23-20h0m-15 0h0m17 9h0m8 7h0m-21 42h0m23-19h0m28 11h0m-3-14h0m-43-37h0m7 11h0m26 46h0m-25-51h0m35 14h0m1 4h0m-4 15h0m-43-9h0m15 28h0m-7-53h0m-18 6h0m80 32h0m-11 9h0m-46-3h0m7 18h0m-16-67h0m18 56h0m-2 1h0m-12-8h0m30-40h0m-20 6h0m-16 34h0m57-16h0m-55 16h0m56-19h0m-60-11h0m30 22h0m-9 24h0m-9-19h0m0 11h0m-16-42h0m10 20h0m34 39h0m-3-66h0m-29 61h0m-13-49h0m43-5h0m-32-13h0m7 18h0m2 7h0m28 25h0m-5-6h0m-20 18h0m25-1h0m-2-31h0m-20-9h0m-12 50h0m20-61h0m-3 17h0m-10-18h0m8 21h0m12-14h0m-46-13h0m72 42h0m-54-12h0m15 19h0m17-28h0m-13-1h0m-7 36h0m-29-24h0m4-8h0m-6-5h0m28 42h0m43-12h0m-19-43h0m-35 34h0m19-33h0m14 60h0m-26-32h0m31 16h0m8-35h0m20 20h0m-47 24h0m21-47h0m5 47h0m4-7h0m-47-57h0m9 58h0m40-23h0m-13-3h0m-16 30h0m17-9h0m-35-36h0m12 36h0m7-40h0m19 14h0m-38 0h0m-15-10h0m54 27h0m-22-24h0m-10-18h0m27 48h0m20-10h0m-24-12h0m-19 14h0m20 9h0m1-12h0m-34 20h0m18-1h0m23-10h0m-31 24h0m34-46h0m-11 35h0m11-17h0m-46 8h0m18-45h0m9 66h0m-30-38h0m36 15h0m0 21h0m8-22h0m7-7h0m3-2h0m-21 12h0m-28-13h0m42 15h0m-63-36h0m57 2h0m-25-18h0m23 47h0m-33-25h0m-12-5h0m33 20h0m-7 27h0m9-1h0m-25 5h0m-12-23h0m38 26h0m-31-39h0m39-19h0m-36 34h0m16-20h0m26 38h0m-26-31h0m-6 42h0m32-54h0m-48-26h0m1 18h0m29 30h0m13-31h0m-11 1h0m13 37h0m-26-4h0m5 9h0m13-41h0m4 19h0m15 20h0m-20-18h0m-29 18h0m55-23h0m-69 0h0m21 38h0m4 4h0m-27-59h0m11 8h0m38 21h0m-12-6h0m-25 5h0m32 29h0m-42-41h0m54 20h0m-23-48h0m21 10h0m-30 51h0m1-12h0m53-11h0m-37 22h0m-17-50h0m1 50h0m-4-38h0m39 4h0m6 4h0m11 0h0m-36-15h0m-16 8h0m-15 17h0m20-45h0m-12 22h0m61 21h0m-66 21h0m8-25h0m0-24h0m-24 12h0m11-1h0m55 18h0m-47-30h0m-3-2h0m25 24h0m-25-18h0m-17-3h0m35 10h0m22 28h0m-4-7h0m-31-17h0m-5 20h0m25-6h0m8 25h0m-48-39h0m23 25h0m27-44h0m-15 49h0m-2 11h0m-17-50h0m33-4h0m-14 21h0m15-3h0m-15 11h0m6-1h0m-38-20h0m42 21h0m-6-28h0m1 40h0m20 2h0m-33-55h0m39 36h0m-39 16h0m-25-16h0m60 10h0m17-12h0m-11 20h0m-52-39h0m-11 15h0m19-9h0m36 35h0m-56-53h0m9-5h0m18 35h0m-1-26h0m40 21h0m-12 38h0m-1-17h0m-10-20h0m28-3h0m-42 27h0m27-11h0m-24-31h0m14 49h0m-41-12h0m76-12h0m-45-32h0m-9 47h0m30-35h0m-19 33h0m8-15h0m1-12h0m16 34h0m-44-19h0m-1 20h0m-6-47h0m-14 19h0m11-23h0m35 55h0m-40-5h0m49 5h0m-45-3h0m47-13h0m-40-36h0m30-5h0m-34 64h0m10-22h0m38-18h0m-2-10h0m-21 43h0m34-16h0m-63-48h0m22 34h0m0 39h0m3-66h0m47 33h0m-36 29h0" stroke="#A78AFF" stroke-width="5.2" stroke-linecap="round" fill="none"/><path transform="scale(.5)" d="M3636 788h0m-12 11h0m-16-1h0m27-1h0m-16 5h0m7-6h0m-5-5h0m6 4h0m-19-3h0m-1 2h0m16-5h0m7 8h0m-22-7h0m19 8h0m-20-8h0m12-5h0" stroke="#A78AFF" stroke-width="5.2" stroke-linecap="round" fill="none"/><path transform="scale(.5)" d="M3706 674h0m2-6h0m2-6h0m2-4h0" stroke="#C4A029" stroke-width="5.2" stroke-linecap="round" fill="none"/><path transform="scale(.5)" d="M3682 784h0m4 4h0m2 8h0" stroke="#54DCA9" stroke-width="5.2" stroke-linecap="round" fill="none"/><path transform="scale(.5)" d="M3570 798h0m14 2h0m8-4h0m-12 10h0" stroke="#F8766D" stroke-width="5.2" stroke-linecap="round" fill="none"/><path transform="scale(.5)" d="M3299 957h0m20-24h0m1 13h0m-22 10h0m-1 12h0m17-30h0m-24 23h0m11-11h0m-2 8h0m13-17h0m-33 27h0m17-15h0m0-2h0m15 3h0m-33 21h0m1-1h0m16-12h0m-23 9h0m19 2h0m16-28h0" stroke="#F8766D" stroke-width="5.2" stroke-linecap="round" fill="none"/><path d="M1582.6 407.9L1586.9 422.8L1592.6 431.7L1600.8 437.5L1612.9 451.8L1622.4 465.5L1631.2 476.3L1640.1 484.7L1643.3 493.2L1640.5 504.6L1634.9 515.9L1625 521.4L1612.3 528.6L1601 534.3L1586.8 535.8L1572.7 533L1561.5 524.4L1553.1 510.1L1549.2 493.1L1547.9 473.5L1550.7 458.2L1559 444.1L1568.6 431.3L1578.4 419.7L1579.7 412.2Z" fill="#F8766D" fill-opacity="0.85"/><path transform="scale(.5)" d="M3126 1043h0m-25-40h0m179-20h0m-122-91h0m22 104h0m-60 29h0m50-47h0m-33 16h0m48-95h0m-79 94h0m59-1h0m107 28h0m-140-124h0m100 112h0m-84-158h0m39 59h0m14-13h0m-37 67h0m72 75h0m-47-22h0m72-9h0m-101 64h0m-54-45h0m117 25h0m-66-41h0m99 34h0m26-65h0m-134-28h0m-34 25h0m71 74h0m16-28h0m37-42h0m-19-39h0m48 70h0m-84-97h0m7-51h0m-28-40h0m11 230h0m109-37h0m-29-16h0m-95-51h0m-11-66h0m75 32h0m-110 94h0m59-131h0m58 106h0m-130-57h0m91-49h0m-24 106h0m-7 85h0m64-83h0m-57-1h0m95 52h0m-88-186h0m-11 102h0m-9 42h0m32-16h0m7-36h0m0 54h0m-98-49h0m55 78h0m56-103h0m-67-8h0m48-9h0m-58 45h0m89 40h0m-90-43h0m31-25h0m-50 34h0m127 72h0m-6-63h0m-35 36h0m-27-144h0m32 88h0m-48 28h0m-12 49h0m-31-30h0m166-1h0m-98-38h0m39 62h0m-17 22h0m-12-68h0m16 49h0m-31-56h0m-32-31h0m64-52h0m-85 56h0m22 62h0m58 47h0m-7 15h0m52-30h0m-153-81h0m131 21h0m9-12h0m-93 32h0m101 51h0m-73-220h0m12 103h0m82 112h0m-122-34h0m-1-2h0m15-52h0m43 38h0m-74-26h0m110 93h0m-63-26h0m40-101h0m2-26h0m-106 45h0m181 43h0m-136 6h0m91-16h0m2 36h0m-23-116h0m-69 58h0m79 101h0m-33-77h0m-95-36h0m77 112h0m56-68h0m-91 65h0m15-154h0m-29 75h0m27-95h0m31 155h0m-12-26h0m63 32h0m4-63h0m-112-56h0m5-62h0m-11 116h0m90-59h0m-9 3h0m-62 44h0m84-26h0m-24-24h0m-54-10h0m11 168h0m-46-80h0m44 61h0m82-19h0m-95-69h0m-27-48h0m-1 96h0m22 35h0m124-95h0m-58 110h0m-63-186h0m37 132h0m8-113h0m-83 28h0m39-65h0m90 51h0m-11-6h0m20 56h0m-94-86h0m68 164h0m-18 23h0m-91-110h0m40 49h0m108-11h0m-93 54h0m27-66h0m-63-98h0m96 160h0m-41-21h0m81-2h0m10-43h0m-95-30h0m0 59h0m-53 27h0m-2-143h0m69 142h0m40-118h0m-110 118h0m42-210h0m-36 229h0m30-113h0m129 79h0m-93-116h0m-43 78h0m41 37h0m47 27h0m24-58h0m-114-97h0m121 103h0m-109-117h0m33 130h0m-83-29h0m82 54h0m62-15h0m-102-166h0m25 106h0m-3 76h0m-34-89h0m20 137h0m10-130h0m53-6h0m-54-25h0m46 0h0m-4 110h0m-47-25h0m-22-6h0m-44-67h0m105 74h0m-34-56h0m33-33h0m0 64h0m-83-3h0m67 26h0m47-27h0m-40 16h0m-44 48h0m43-151h0m44 50h0m-19 20h0m-18 63h0m-16-131h0m26 149h0m-49-211h0m18 142h0m90 14h0m-108 51h0m-58-20h0m179-37h0m-168-56h0m58-76h0m-52 117h0m24 34h0m-33-38h0m32 114h0m-3-194h0m115 158h0m-11 9h0m-37-35h0m-47-138h0m5-1h0m112 126h0m-87-85h0m-49 84h0m23 79h0m111-38h0m-114-201h0m-40 133h0m41 109h0m-51-87h0m4 38h0m85-17h0m-54-104h0m17 109h0m85 33h0m-84-124h0m118 94h0m-132-25h0m32 69h0m2-102h0m-53 27h0m124 26h0m-141 23h0m132-95h0m-76-93h0m81 88h0m-11 42h0m-113 14h0m90-70h0m0 103h0m-109-17h0m129-61h0m-13 57h0m-119 7h0m133-63h0m31 65h0m-92-51h0m6-18h0m57 70h0m-14-107h0m-53-20h0m-37 24h0m104 147h0m-97-185h0m39 95h0m-2 91h0m-75-115h0m134 96h0m-72 21h0m-52-77h0m89-19h0m-57-57h0m-2 38h0m82-20h0m-13-35h0m-55 52h0m8-5h0m6 51h0m7-62h0m-55 58h0m-23-22h0m59 76h0m-1-73h0m-18-42h0m32-57h0m-5 100h0m96 31h0m1-47h0m-24 37h0m-51-14h0m15 80h0m72-81h0m-35 73h0m-99-46h0m25-162h0m-68 155h0m65-121h0m-4 18h0m-62 119h0m18-101h0m114 126h0m11 11h0m-37-95h0m-33 8h0m25 46h0m59 32h0m-96 0h0m32 40h0m-20-36h0m9 6h0m20-41h0m-60-73h0m-19 110h0m114-107h0m-53-45h0m73 50h0m-95-46h0m81 164h0m-33-143h0m-50 154h0m-45-109h0m-12-38h0m64-64h0m18 200h0m36-138h0m-59-30h0m48 47h0m-56-57h0m32 198h0m-75-131h0m44-98h0m50 29h0m-16 188h0m-64-76h0m73-106h0m11 39h0m-84-12h0m73 164h0m-23-70h0m-18 38h0m46-5h0m45-78h0m11 57h0m-73 50h0m76-43h0m20-24h0m-85 34h0m10-125h0m-41 77h0m43-70h0m-37-65h0m20 190h0m30-146h0m8 30h0m-126 34h0m106-78h0m-17 28h0m-37 117h0m9-33h0m-62 13h0m55 29h0m85-107h0m-84 2h0m-17-23h0m100 80h0m-116 64h0m48-173h0m-68 130h0m138-16h0m-63 19h0m77 37h0m-22-93h0m-75 88h0m76-106h0m-33 6h0m-45-87h0m76 83h0m-90 51h0m94 51h0m-79-143h0m-46 78h0m-3 5h0m78-56h0m-23 60h0m51-5h0m-102 51h0m103 39h0m-64-95h0m62-79h0m-49 61h0m24 65h0m9 9h0m-38-184h0m-6 102h0m11 60h0m112-12h0m-91-44h0m48 85h0m-66-143h0m36 163h0m25-52h0m-12-81h0m-67-25h0m12 141h0m73-46h0m-86-134h0m30 130h0m-17-69h0m-5-54h0m71 38h0m-58 48h0m-68-47h0m162 79h0m-75-119h0m17 176h0m-50-53h0m43 46h0m41-41h0m-61-34h0m3 9h0m-45-56h0m78 127h0m-77-168h0m8 25h0m20 134h0m-45 14h0m3-2h0m45-67h0m47 33h0m-29 45h0m-46-116h0m11 31h0m27 74h0m-25-201h0m77 163h0m-126-34h0m91-20h0m51 56h0m-71-125h0m-13-31h0m43 159h0m-12-45h0m-67 14h0m21-19h0m-35-52h0m57 131h0m52 2h0m-96-92h0m91-11h0m-38 89h0m27-10h0m-26-144h0m8 35h0m39 15h0m-52 53h0m56 21h0m-124 20h0m57-190h0m19 64h0m-39 34h0m95 5h0m-32-39h0m58 111h0m-125 52h0m18-148h0m-26 80h0m108-68h0m-10 58h0m-34-40h0m-49-83h0m102 128h0m-128-38h0m58-84h0m-6 128h0m24-40h0m-55 9h0m29 55h0m37-44h0m31 62h0m-10-72h0m-47-60h0m-23 118h0m-52-22h0m14-48h0m56 115h0m-21 15h0m112-38h0m-106-127h0m-22 15h0m8 33h0m83 51h0m-133-87h0m96 34h0m-53 45h0m114-24h0m-37-53h0m-28-48h0m-17 73h0m-27-97h0m50 136h0m-8-4h0m21-30h0m-35 35h0m-5-50h0m-67 22h0m59 89h0m-63-61h0m35-34h0m88 106h0m6-10h0m-66 10h0m59-155h0m14 52h0m-94-83h0m-3 15h0m1 22h0m29 89h0m-34-77h0m100 115h0m-34-118h0m27 94h0m-108-85h0m80 58h0m-36-65h0m19 0h0m-25 25h0m-26 95h0m125-94h0m-44 40h0m-40-89h0m117 88h0m-42 51h0m19-74h0m-136 91h0m-10-105h0m3 61h0m110 43h0m-78-62h0m75 36h0m19-11h0m-90-46h0m-40 30h0m64-65h0m-4-10h0m69 125h0m-154-60h0m109 46h0m3-47h0m13 33h0m-89 30h0m133-98h0m-130-74h0m-25 122h0m110 52h0m-59-101h0m120 62h0m-58-50h0m-54-136h0m-49 213h0m130-72h0m3-14h0m-66-23h0m34 38h0m6 4h0m-4 24h0m-100-68h0m25 114h0m110-100h0m-92-24h0m8 109h0m77 0h0m-126 23h0m-4-91h0m-11-38h0m94 111h0m-55-69h0m73-59h0m63 85h0m-134 66h0m59-100h0m-75-14h0m110 23h0m-79 29h0m98 23h0m-53-109h0m77 63h0m-159-36h0m-36 11h0m13 77h0m144 11h0m-20-139h0m-53 101h0m-42-23h0m79 15h0m-75 59h0m89-38h0m-82 28h0m69-10h0m-19-117h0m79 70h0m-75 79h0m-49-111h0m-26-12h0m97-38h0m-108 97h0m75 31h0m92-3h0m-148 25h0m2-132h0m133 93h0m-18-17h0m-84-92h0m41 16h0m-55 103h0m120-10h0m-171-80h0m87 143h0m8-121h0m8 30h0m-104 6h0m82-94h0m62 31h0m-85 120h0m11-122h0m-48 70h0m38 29h0m69 2h0m18 5h0m-56-149h0m16-7h0m-28 114h0m5-96h0m-9 87h0m1 56h0m2-136h0m78 89h0m-31 37h0m-58-41h0m58 73h0m-80-125h0m-4 68h0m12-61h0m-48 53h0m73 21h0m-63-84h0m61 40h0m-22-64h0m75 52h0m-25 102h0m72-80h0m-97-28h0m100 67h0m-73-137h0m-47 83h0m17-69h0m5 147h0m65-88h0m-71-18h0m33 60h0m47 49h0m11-27h0m-125-100h0m37 94h0m-44 11h0m64-2h0m72-49h0m-77-74h0m-94 77h0m132-59h0m-96 75h0m-9-91h0m74 8h0m36 40h0m-9 81h0m-102-66h0m92-14h0m-3-45h0m46 115h0m-67 20h0m7-79h0m34-56h0m-111 97h0m112 28h0m-43-81h0m72 41h0m-41-75h0m15 53h0m-78 76h0m-60-103h0m103 127h0m-91-64h0m119-58h0m1 77h0m-41-81h0m83 76h0m-119-33h0m36 89h0m60-137h0m-62 131h0m-71-120h0m140 12h0m-156-22h0m86 118h0m51-48h0m5-19h0m-76 60h0m-18-94h0m6 84h0m30 11h0m102-62h0m-4 14h0m-142 44h0m48-177h0m-38 16h0m24 156h0m5-163h0m98 128h0m-63 39h0m-99-152h0m35 168h0m5-134h0m59 22h0m43-9h0m-72 33h0m42-62h0m-117 0h0m34-48h0m15 107h0m-14-16h0m-30-31h0m-3 19h0m123 72h0m-7 32h0m-54-66h0m102 28h0m-96-43h0m-35-17h0m3 16h0m45 83h0m-61-88h0m78 51h0m-9-54h0m-45 29h0m-19-58h0m93 73h0m-125-59h0m84 39h0m5 7h0m-100-30h0m87 36h0m87 47h0m-112-186h0m84 120h0m43 42h0m-169-72h0m105-20h0m-76 114h0m19-187h0m41 106h0m31-42h0m-66-71h0m-18 152h0m-31-80h0m91 13h0m-33-23h0m15 134h0m-13-164h0m-20 161h0m-5-154h0m72 108h0m52-24h0m-82 18h0m-25-54h0m103 44h0m-112-119h0m100 115h0m-18 80h0m-77-201h0m55 122h0m-76-122h0m-17 200h0m11-13h0m58-163h0m24 99h0m-40-10h0m-1 27h0m-3 24h0m-26-88h0m71 48h0m54 49h0m-75 12h0m16-71h0m-116-12h0m49 86h0m48-99h0m-71-10h0m15 83h0m27-156h0m-17 18h0m40 66h0m-87 60h0m111-31h0m-43-128h0m71 187h0m-84-74h0m-64 4h0m89 62h0m35-2h0m-65-11h0m72-69h0m-24 56h0m35 11h0m-34-40h0m-20 88h0m-45-46h0m111 22h0m-15-105h0m4 81h0m-146-72h0m38 107h0m48-126h0m59 57h0m-2-52h0m-58 22h0m4-48h0m-7 35h0m76 104h0m-123 7h0m14-34h0m2-55h0m45 1h0m80 11h0m-45-4h0m-84-30h0m21 136h0m76-38h0m-85-157h0m-36 24h0m26 78h0m88 25h0m-91-18h0m-25-50h0m6 98h0m120-25h0m-94 42h0m-43-140h0m34 164h0m23-88h0m16 76h0m18-114h0m1 66h0m-34 12h0m15-174h0m76 124h0m-104 96h0m45-64h0m41-88h0m-80 1h0m-21 81h0m143 21h0m-127-115h0m-31 43h0m6-19h0m41 65h0m23 77h0m-24-91h0m-2 63h0m103-26h0m-84-28h0m39 3h0m-80 18h0m-1-110h0m112 42h0m-68 38h0m-30-118h0m76 87h0m30 32h0m-34-34h0m-104-29h0m3-13h0m123 35h0m-60 136h0m36-75h0m5-69h0m-42-16h0m-23 12h0m-45 40h0m58-26h0m14-31h0m-37 161h0m10-173h0m40-9h0m3 40h0m-45-59h0m87 156h0m-106-56h0m82 61h0m-7-127h0m-65 33h0m37-72h0m-40 191h0m69-129h0m-66 25h0m93 104h0m-105-142h0m83 145h0m-62-134h0m35 97h0m-9-74h0m-56 100h0m16-166h0m59 68h0m19-11h0m45 27h0m-28-1h0m-53-4h0m-61 52h0m91 4h0m-21-144h0m-14 141h0m22-86h0m50 86h0m-25-23h0m-67-17h0m67 66h0m-71-152h0m42 154h0m-38-3h0m-70-89h0m85 32h0m-51 64h0m-1-68h0m-8-80h0m7 162h0m90-11h0m-23-165h0m-1 71h0m37-33h0m-60 43h0m91 34h0m-70 37h0m-90-112h0m74 59h0m1-78h0m69 141h0m-63-12h0m50 16h0m-96-147h0m41-21h0m-37 42h0m14 81h0m71-59h0m-57-3h0m-31 69h0m-11-99h0m-31 44h0m22 92h0m171-70h0m-78 28h0m58-2h0m-104-162h0m6 181h0m-15-119h0m26 65h0m72-25h0m-106 5h0m66 113h0m-3-99h0m-20-3h0m-47 88h0m7-2h0m-33-129h0m105 123h0m-66-24h0m-32-117h0m8 22h0m47 96h0m13-123h0m57 45h0m-24 79h0m42-21h0m-168-25h0m21 77h0m137-56h0m-100-51h0m75 18h0m-54-42h0m-10 132h0m87-53h0m-133 45h0m45-34h0m-1-33h0m41 75h0m-2-152h0m-75 22h0m79 50h0m-86-91h0m146 145h0m-143-51h0m-23 26h0m117-77h0m-35-38h0m34 149h0m-11-57h0m-43-76h0m-27 144h0m119-86h0m-29-34h0m-33 150h0m-11-40h0m-53-148h0m10 159h0m-17-163h0m65 83h0m4-45h0m-27 39h0m73 31h0m-129-40h0m165 31h0m-111-70h0m90 100h0m-76-119h0m-26 146h0m19-78h0m-46 81h0m77-12h0m-54-43h0m64 53h0m-17-11h0m-6-34h0m-61 68h0m57-114h0m-32 17h0m116 63h0m-77-46h0m-46-9h0m10-26h0m-1-77h0m-16 1h0m10 199h0m0-147h0m98 130h0m-20-81h0m-119-47h0m49 139h0m4-215h0m26 14h0m-47 174h0m119-33h0m-51-96h0m-14 45h0m-9 72h0m4-128h0m31 37h0m-8 52h0m-45-59h0m84 78h0m-126-4h0m76-115h0m-70 53h0m23 32h0m-58-11h0m38-72h0m81 37h0m-94-4h0m84-14h0m6-12h0m11 97h0m-20-50h0m-23 87h0m66 0h0m-39-32h0m-59-61h0m78 128h0m-14-111h0m-18-65h0m14 136h0m-74-95h0m81 117h0m41-103h0m-103 60h0m67-68h0m-40 98h0m-14-207h0m15 167h0m31 56h0m-55-94h0m-22 84h0m129-63h0m-51-37h0m-29 122h0m18-11h0m67-84h0m-144 71h0m110-14h0m-89-61h0m108 65h0m-56-24h0m-76 53h0m26-112h0m60-67h0m-86 128h0m71-79h0m-36-34h0m121 74h0m-119 28h0m-38 12h0m115-14h0m-39 6h0m13-48h0m-37-35h0m71 55h0m8-8h0m-94-126h0m7 61h0m-65 98h0m1-5h0m38-95h0m-34 18h0m31 17h0m40-61h0m89 163h0m-112-121h0m9 149h0m35-68h0m-54 57h0m71-121h0m-112-15h0m83 157h0m-75-98h0m141 16h0m-79-69h0m-19 145h0m31-171h0m80 105h0m-36-32h0m12 74h0m-128-86h0m150 66h0m-76 23h0m7-122h0m-44 130h0m-16-61h0m58-21h0m-33-94h0m-44 108h0m111-59h0m-64-98h0m-29 76h0m39 45h0m31-30h0m2 13h0m-51 105h0m-32-54h0m91-31h0m-49-40h0m91 93h0m-133 29h0m21-34h0m41-130h0m-63 85h0m47-46h0m-15-7h0m60-17h0m-41 197h0m7-223h0m-46 13h0m75 53h0m73 85h0m-92 24h0m12-75h0m-14-90h0m-78 122h0m125-60h0m-30 117h0m-2-76h0m-26 3h0m-33 66h0m23-147h0m106 72h0m-118-22h0m35 8h0m-13-108h0m103 174h0m-136-8h0m21-60h0m-23-74h0m-33 88h0m36-47h0m61-11h0m1-11h0m-63-11h0m22 138h0m90-65h0m-97-27h0m11 51h0m-72-21h0m146 96h0m-44-80h0m-40 1h0m14 24h0m-4-144h0m64 105h0m43 15h0m-136 56h0m49 44h0m-37-53h0m6-19h0m-21-49h0m81 78h0m-62 40h0m-39-102h0m66-80h0m-3 136h0m-62-140h0m39-2h0m91 102h0m-50-112h0m-97 75h0m124 48h0m-79 13h0m82-101h0m-69 148h0m-6-134h0m91 59h0m-30 66h0m23-23h0m30 19h0m-85-135h0m20 55h0m18 9h0m-44-7h0m11-70h0m-67-8h0m0 77h0m-10-19h0m51 119h0m112-90h0m-35-39h0m-18 39h0m68 4h0m-59-5h0m-118-9h0m103 25h0m-116-32h0m47-5h0m1-76h0m23-22h0m22 152h0m-94-44h0m47-45h0m23 158h0m-11-50h0m36-61h0m-41-105h0m97 160h0m-118-88h0m82 102h0m-89-26h0m28 52h0m32-40h0m-6-65h0m34 40h0m48 41h0m-150-92h0m26 95h0m64-137h0m-61 147h0m26-198h0m24 29h0m38 186h0m-102-20h0m97-143h0m-19-12h0m-9 17h0m-76 102h0m-11-103h0m89 19h0m-36-64h0m79 138h0m38 39h0m-94 9h0m-78-98h0m121-20h0m12 120h0m10-115h0m-88-84h0m23 8h0m-4 189h0m100-60h0m-43-65h0m-13 5h0m-9 136h0m-29-184h0m64 57h0m-27 101h0m-64 14h0m55-117h0m55 21h0m-95 11h0m70 4h0m4 75h0m-114-88h0m-23 17h0m49 2h0m32-71h0m0-28h0m43 35h0m-107 142h0m12-43h0m100-14h0m-122-20h0m30-110h0m38 100h0m-29 69h0m-34-45h0m123 60h0m-43-89h0m-44-111h0m129 123h0m-178-35h0m-5 35h0m103-56h0m-40 5h0m-31 96h0m114-85h0m-109-61h0m48 34h0m-47 84h0m-15-96h0m66-1h0m-66 145h0m15-115h0m78 18h0m6 90h0m-15-15h0m74-40h0m-138 91h0m128-65h0m-49-17h0m-78-19h0m73 86h0m-88-45h0m22-148h0m3 139h0m-56-51h0m81-53h0m-11 109h0m8 11h0m-38-97h0m41-26h0m-37 167h0m38-36h0m-23 46h0m104-52h0m-126-74h0m57-50h0m39 71h0m-92-69h0m-26 89h0m47-142h0m36 195h0m52-89h0m-35 101h0m-93-61h0m-5 23h0m86 28h0m5-94h0m-91 83h0m164-23h0m-141-6h0m74 45h0m5-104h0m-4-17h0m-39 20h0m67 102h0m-50-67h0m-27 26h0m41-116h0m-19 27h0m-65 15h0m42 77h0m-52-21h0m36 38h0m-9-29h0m60-115h0m-55 68h0m136 41h0m-126-112h0m76 79h0m-67 31h0m-53-10h0m77-3h0m93 35h0m-20-3h0m-114-37h0m-30 73h0m50-214h0m27 218h0m-90-68h0m34-66h0m2 25h0m14-66h0m-31 179h0m59 3h0m21-18h0m-21 29h0m2-157h0m23-18h0m-73 28h0m51 19h0m94 68h0m-44-35h0m11-8h0m-64-35h0m-41-15h0m74 48h0m-5 33h0m-73 49h0m2-96h0m23 93h0m30 28h0m-14-151h0m75 28h0m-115-70h0m47 103h0m-24-9h0m39-18h0m-22 20h0m-57 36h0m92 50h0m62-57h0m-170-3h0m87 51h0m38-100h0m-95-23h0m33 152h0m-26-123h0m7-13h0m53 101h0m46-43h0m-95-10h0m60-23h0m15 64h0m-93-78h0m39 34h0m-21 16h0m96 26h0m-92 22h0m96-58h0m-105-36h0m-17 2h0m32-45h0m-15-28h0m86 166h0m-77-135h0m44 145h0m25-128h0m-95 105h0m-26-84h0m153-9h0m-55 54h0m-19 81h0m-45-146h0m48 13h0m79 9h0m-153 35h0m26-52h0m104 48h0m-22-20h0m-22-88h0m-23 140h0m28 46h0m-87-88h0m103 84h0m-24-5h0m-75-171h0m7 43h0m137 46h0m-108-62h0m-15 87h0m26-159h0m-14 104h0m40-12h0m99 63h0m-173 9h0m26-11h0m-36-8h0m114 47h0m1-39h0m-114-70h0m124 106h0m-24-138h0m-34 80h0m-5 7h0m-4 66h0m79-21h0m-33-55h0m-18-1h0m67-18h0m3 73h0m-26-19h0m-136-33h0m165 4h0m-98-3h0m-26 77h0m-14-159h0m111 62h0m-123 98h0m13-13h0m85-122h0m-46 55h0m-61-63h0m72-28h0m-34 14h0m40 54h0m-84 0h0m146 50h0m-37-99h0m-31-2h0m-2 185h0m-15-172h0m-14-14h0m7 146h0m75-32h0m11 49h0m-134-159h0m-8 107h0m28 11h0m94-51h0m-104-59h0m-9 113h0m59-170h0m-53 104h0m38-14h0m-22 109h0m98-73h0m-98-17h0m39 81h0m-17-107h0m-42 111h0m31-187h0m122 145h0m-80-46h0m-5-28h0m-80 9h0m53 8h0m89 62h0m-82 13h0m98-53h0m-86-16h0m113 31h0m-61-65h0m49 93h0m-119-48h0m-48-8h0m84 91h0m-70-25h0m145 0h0m-18-53h0m-90-74h0m23 8h0m2 160h0m-37-170h0m26-12h0m-30 129h0m-1-100h0m73 13h0m-109 29h0m56-37h0m12-43h0m83 73h0m-128 92h0m6-81h0m63 81h0m-96-66h0m42 48h0m84-33h0m-111 28h0m105 52h0m-56-139h0m4 65h0m-19 74h0m115-110h0m-157 70h0m106-13h0m57-47h0m-122-60h0m22-57h0m55 153h0m-46-111h0m31 73h0m10 104h0m-9-159h0m-24 88h0m3-80h0m-34 11h0m120 60h0m-141-78h0m103 55h0m-71 78h0m104-69h0m14 31h0m-159-49h0m102-19h0m-107-17h0m34-17h0m23 105h0m16-2h0m23-109h0m-23 160h0m-50 3h0m93-23h0m-5 13h0m-105-166h0m47 60h0m58 46h0m-17-26h0m0-21h0m22 48h0m-94-135h0m17 119h0m12 25h0m34-2h0m-55-96h0m2 119h0m7-157h0m26 176h0m15-134h0m49 80h0m-37 18h0m-43-7h0m-45-114h0m53 53h0m3 7h0m82 36h0m-27-33h0m-71-123h0m3 160h0m113 19h0m-64-65h0m64 85h0m-115-133h0m108 131h0m-3 1h0m-152 1h0m123-54h0m-39-3h0m-25 41h0m-1 66h0m-33-83h0m57 74h0m25-101h0m39 28h0m-117-42h0m15-76h0m33 88h0m79 58h0m-112-97h0m109 111h0m-137-60h0m23-41h0m69 15h0m-71 133h0m-18-104h0m139 44h0m-167-21h0m108-48h0m-38 119h0m29-44h0m-33 8h0m-47-71h0m130 9h0m-30 42h0m27-40h0m-95 74h0m-30 0h0m76-40h0m-22-83h0m-7 144h0m-60-49h0m62-100h0m96 76h0m-39-11h0m-69 24h0m72-57h0m7-8h0m-94-2h0m-36 58h0m64-88h0m-23 84h0m-20 16h0m37-95h0m-29 156h0m113-45h0m6 0h0m-101-130h0m20-34h0m-80 87h0m126 80h0m-57 2h0m-42-95h0m101 53h0m-73 26h0m-38-107h0m51-67h0m38 105h0m-85-47h0m3 62h0m61 116h0m-76-59h0m43 44h0m25-125h0m-74 53h0m49 6h0m58 1h0m-99-86h0m6 143h0m70 8h0m-72-118h0m6 65h0m-20 8h0m58-193h0m-6 248h0m61-128h0m-67 57h0m37 29h0m-15-25h0m22-19h0m78 23h0m-63 40h0m-44-2h0m-28-32h0m116-34h0m-143-1h0m47-22h0m-23-36h0m-25-18h0m-4 80h0m60-46h0m-33 16h0m-23 11h0m128 5h0m6-17h0m-37 95h0m-98-69h0m48 83h0m88-103h0m-61 27h0m-17 45h0m-12-179h0m16 48h0m50 123h0m-105-63h0m69-26h0m-64 104h0m156-31h0m-72-14h0m-88-3h0m50-134h0m26 86h0m-1 112h0m-78-41h0m155-36h0m-73-84h0m-89 123h0m75 12h0m36-12h0m29-30h0m37 23h0m-92-77h0m77 35h0m-13 17h0m-73-10h0m-30 85h0m51-97h0m-55 49h0m46-102h0m-66 90h0m36-89h0m7 24h0m69 71h0m-86-143h0m47 52h0m-68 120h0m90-125h0m-102-21h0m67 152h0m13-46h0m-71-121h0m137 85h0m22 48h0m-64-92h0m-84 42h0m68 27h0m54 0h0m-21 1h0m-75-134h0m13 152h0m31 37h0m-80-113h0m-2 102h0m65-56h0m20 33h0m5 59h0m-12-71h0m42-18h0m-59-96h0m-50 172h0m49-134h0m-3 74h0m-3-70h0m43 83h0m7 14h0m-24-8h0m-33-144h0m-9 193h0m-42-98h0m34-113h0m-37 204h0m38 15h0m96-96h0m-35 43h0m14-60h0m-117-42h0m108 86h0m42 38h0m-148-76h0m43-66h0m5 150h0m-21-26h0m25-120h0m-4-33h0m-15 107h0m36-5h0m56 87h0m-40-56h0m-43 73h0m102-36h0m-75-164h0m-57 134h0m14-107h0m142 96h0m-119-130h0" stroke="#F8766D" stroke-width="5.2" stroke-linecap="round" fill="none"/><path d="M1677.6 422.8L1682.3 423L1684.5 432.9L1691 436.7L1697 437.8L1693.3 443.3L1683.2 446L1676.9 439.6Z" fill="#5CBE28" fill-opacity="0.72"/><path transform="scale(.5)" d="M3386 886h0m-31-19h0m10 10h0m-5-16h0m1 13h0m-2-11h0m5 20h0m-2 6h0m-5-32h0m36 19h0m-30-11h0m20 9h0m-14-7h0m-11-16h0m20 22h0m-11 3h0m24 0h0m-19 2h0m-8-29h0m6 23h0m6 13h0m9-9h0m-24-8h0m15 18h0m-20-10h0m5-14h0m7 17h0m-11 2h0m7-27h0m0 24h0m-1-8h0m-3-3h0m6-4h0m6 13h0m-13-13h0m19 13h0m5 11h0m-28-32h0m12 34h0m5-19h0m-13-7h0m2-10h0m3 13h0m7 3h0m6 14h0m13-7h0m-7 0h0m-17 17h0m7-12h0m10-7h0m8 2h0m-13 11h0m-21-41h0m3 40h0m2-36h0m11 29h0m-20-19h0m39 16h0m-15-4h0m-19 4h0m-3-30h0" stroke="#5CBE28" stroke-width="5.2" stroke-linecap="round" fill="none"/><path d="M1719.7 494.7L1740.5 494.9L1740.3 500.7L1740.2 514.3L1738.7 526.1L1733 526L1731.4 511.1L1730.4 501.9L1719.9 500.5Z" fill="#FB61D6" fill-opacity="0.7"/><path transform="scale(.5)" d="M3463 1025h0m2-5h0m-6-21h0m10 11h0m3-4h0m-6 37h0m-4-33h0m11 2h0m-2 26h0m-30-45h0m21 11h0m17 20h0m-11-20h0m10 15h0m-6 19h0m-10-49h0m19 21h0m-32-10h0m21 49h0m-3-27h0m-24-32h0m33 20h0m2 27h0m-11-27h0m-1 40h0m-2-34h0m-1-10h0m5 35h0m1-22h0m-13-31h0m19 58h0m0-41h0m-7 6h0m5 32h0m-10-40h0m2 0h0m15 35h0m-11-14h0m1-23h0m7 51h0m-3-25h0m-3-23h0m-3 24h0m13-28h0m-6-11h0m-12 36h0m-22-31h0m28 32h0m12-20h0m-36-17h0m24 38h0m11-14h0m-37-22h0m29 25h0m-8-2h0m8 11h0m6-29h0m-4 16h0m-13-21h0m14 52h0m-7 8h0m-18-54h0m14-6h0m0 20h0m2 1h0m11-12h0m-7-3h0m7-3h0m1 39h0m-5 5h0m0-44h0m-18-5h0m6 23h0m8 12h0m1-10h0m-16-13h0m22 19h0m-30-27h0m11-4h0m6 23h0m8-3h0m4-19h0m6 28h0m-22-22h0m-6-5h0m-13 6h0" stroke="#FB61D6" stroke-width="5.2" stroke-linecap="round" fill="none"/><path transform="scale(.5)" d="M3708 1104h0m-87-68h0m36-43h0m41 114h0m-7-82h0m-83 60h0m73 71h0m15-33h0m-20 11h0m-40 11h0m42-87h0m-10 17h0m-50-25h0m76 47h0m-32 26h0m58-27h0m-10-51h0m-93 32h0m86 22h0m10 3h0m-20-129h0m-99 62h0m19 45h0m24-57h0m12 24h0m76 39h0m-99-47h0m-14-10h0m90 16h0m-92 26h0m-11-17h0m42-50h0m5 16h0m27 40h0m20-39h0m-3 10h0m-32 78h0m20 5h0m37-44h0m-17-21h0m-51-14h0m0-40h0m71 32h0m-129-5h0m111 31h0m-26-53h0m23 118h0m-14-4h0m34-41h0m-107 25h0m80-70h0m-56 22h0m43 44h0m22-14h0m-86-31h0m103 45h0m-15-32h0m25 9h0m-33 13h0m6 54h0m-105-66h0m104-83h0m-23-9h0m-37 136h0m40-71h0m-23-53h0m35 57h0m-48 15h0m37 84h0m-85-100h0m73 102h0m-49-84h0m14-64h0m47 29h0m-1 51h0m19 41h0m7-154h0m-17 21h0m-5 104h0m-1 28h0m2-148h0m11 32h0m-54 12h0m56 110h0m-19-27h0m-79-42h0m132 15h0m-39-15h0m3 82h0m-9-10h0m-12-70h0m-43-32h0m68 11h0m25 32h0m-29-10h0m-42-23h0m-40 43h0m35-90h0m-12 29h0m-33 27h0m42 44h0m-27-80h0m104 19h0m-32-43h0m-30 111h0m-49-44h0m5-23h0m-22 27h0m77-52h0m-17 33h0m46 102h0m-82-42h0m60 35h0m-59-11h0m26-89h0m-44-2h0m34-13h0m-33 4h0m80-24h0m-19 149h0m19-31h0m-28 1h0m-28 2h0m15 24h0m77-17h0m1-112h0m-39 117h0m4-147h0m11 104h0m-47-24h0m-59-25h0m17 39h0m39-30h0m-14 53h0m22 19h0m-18 1h0m75-53h0m-53-88h0m22 142h0m22-57h0m-40-70h0m-3 71h0m52 12h0m-84-72h0m27 33h0m7-9h0m-23 12h0m95 29h0m-65 49h0m2-48h0m3-44h0m-18-36h0m-11 33h0m19-24h0m-42 38h0m101 76h0m-32-80h0m-13-2h0m16 50h0m30-86h0m-54 56h0m-72-14h0m79 6h0m-24 102h0m55-74h0m-63-6h0m41-5h0m-34 89h0m-1-67h0m-11-72h0m68-24h0m-34 113h0m-22-82h0m2 119h0m54-75h0m-54 39h0m9-111h0m54 102h0m-106-1h0m104 34h0m2-146h0m-32 146h0m29-151h0m-35 137h0m-66-59h0m74-34h0m-21-26h0m29 22h0m-31-21h0m-39 12h0m-10 83h0m44-45h0m22 89h0m-19-22h0m19-137h0m-52 106h0m-15 26h0m24 7h0m34-102h0m-44 119h0m37-52h0m9 47h0m22-94h0m4-9h0m12 107h0m-61-102h0m47 16h0m-63 95h0m1-56h0m24 25h0m-29-75h0m7-13h0m75-23h0m-125 61h0m21-18h0m68 84h0m-57-59h0m-15 5h0m57-72h0m38 58h0m5 53h0m-71-45h0m27-86h0m7 45h0m27 122h0m-34-132h0m12 26h0m2 90h0m28-175h0m20 101h0m-39-77h0m29 121h0m-20-108h0m-3-21h0m18 71h0m-84 15h0m-5-37h0m48-24h0m33 122h0m-21 26h0m-24-75h0m50-105h0m-9 83h0m22-3h0m-108 41h0m37-52h0m-38 11h0m54 108h0m-9-5h0m-49-115h0m110-61h0m-11 21h0m-9 143h0m-65-30h0m15-28h0m48-90h0m-77 27h0m0 38h0m29-55h0m-26 59h0m9 3h0m64-49h0m-10 3h0m1 12h0m-41 48h0m-25-54h0m53-13h0m28-7h0m-61 78h0m12-67h0m41 140h0m-8-96h0m26 40h0m-11 30h0m-13 13h0m-56-131h0m34 3h0m20 137h0m11-134h0m-12 19h0m26 60h0m-44-91h0m-13 151h0m70-132h0m-108 42h0m83 51h0m10-91h0m12 72h0m-63-68h0m22 11h0m-9-38h0m-41 55h0m86-89h0m-4 177h0m-74-93h0m56 17h0m16 36h0m-5-118h0m-39 55h0m55 39h0m-93 14h0m52-18h0m-54-51h0m69 49h0m6-43h0m-40 117h0m-14-52h0m69-53h0m-108 52h0m34-45h0m87 16h0m-37 66h0m-36-26h0m3-17h0m35-21h0m-24 6h0m-15-57h0m66-3h0m-65 88h0m50-145h0m-78 60h0m101 41h0m-7-77h0m-10 17h0m-97 34h0m18 25h0m76-61h0m-22 106h0m-38-69h0m40 72h0m-28 22h0m-40-81h0m-4 44h0m-24-28h0m86-70h0m17 92h0m-1-84h0m-41 21h0m83 81h0m-29-45h0m-65-35h0m59 84h0m-3 45h0m-26-104h0m10 114h0m-37-160h0m58-17h0m-32 58h0m-30 58h0m6-4h0m-7-86h0m-33 64h0m72-94h0m56 123h0m-51 25h0m-23-53h0m0 37h0m23 2h0m-11-84h0m-67 35h0m-3 20h0m6-13h0m39-16h0m25 23h0m3 49h0m12-87h0m-28-21h0m-39 8h0m-20-5h0m118 86h0m-27 40h0m-6-96h0m40-52h0m-54 141h0m-30-35h0m89-19h0m-83-70h0m54-8h0m-22 98h0m52-22h0m-49 71h0m-13-109h0m58-55h0m4 102h0m-14-60h0m-38 14h0m33-54h0m-85 78h0m58-13h0m-27 98h0m12-148h0m-11 23h0m48-52h0m12 69h0m-115-2h0m121 79h0m-46-53h0m14-105h0m-65 109h0m79 50h0m-59-44h0m66 48h0m-86-42h0m108 2h0m-57-124h0m-44 130h0m-15-63h0m41 25h0m-65-14h0m111 51h0m16 16h0m-43-110h0m6 68h0m5-13h0m-53 83h0m38-154h0m-76 66h0m31 6h0m-7 66h0m-23-73h0m108 13h0m-84 63h0m85-129h0m-107 72h0m128 45h0m-114-24h0m72 14h0m-37-32h0m11-41h0m25 106h0m43-68h0m-28 20h0m-14-71h0m-5 59h0m-28-12h0m63-74h0m-77 112h0m30-78h0m-41-15h0m-9 20h0m-22 32h0m65 78h0m-5-4h0m-15-104h0m9 30h0m-12 30h0m30 56h0m-6-31h0m-12-10h0m53-48h0m23-69h0m-29-6h0m-23 86h0m45-64h0m-26-18h0m11 46h0m-72 44h0m49-75h0m9-47h0m-7 116h0m24-46h0m-90 81h0m114-33h0m-103 9h0m66 12h0m-2-37h0m-48 83h0m59-19h0m-68 5h0m-9-4h0m-9-1h0m111-22h0m-109-35h0m11 45h0m17 16h0m34 8h0m-3-66h0m-78-34h0m128 66h0m-63-94h0m45-35h0m-95 45h0m75 43h0m-46 82h0" stroke="#54DCA9" stroke-width="5.2" stroke-linecap="round" fill="none"/><path d="M1846.6 478.8L1852.2 477L1861.1 485.4L1862.4 498.2L1854.9 499L1847.9 491.5Z" fill="#54DCA9" fill-opacity="0.72"/><path transform="scale(.5)" d="M3725 990h0m-20-25h0m-10-5h0m30 35h0m-6 3h0m-25-17h0m15 16h0m10-25h0m-17 8h0m6-5h0m3 16h0m14 4h0m-9-21h0m-9 8h0m-8-26h0m12 12h0m-13 0h0m19 2h0m-23 3h0m21-4h0m-10-5h0m6 23h0m-6-30h0m13 11h0m-8 5h0m-8-16h0m13 26h0m-13 9h0m-4-13h0m-3-12h0m11 1h0m-2 15h0m8-6h0m8 5h0m-4-7h0m-5-2h0m8-4h0m-20-1h0m4-11h0m4 25h0m-9-11h0m10 16h0m-5 3h0m8-2h0m1-4h0m2 6h0m-1-16h0m-1 0h0m2 10h0m-4-25h0m9 22h0m-11 13h0m-13-14h0m1-21h0m20 8h0m-10 0h0m16 30h0m-18-26h0m5-3h0m16 28h0m-20-16h0m14-5h0m-20 3h0m26 9h0" stroke="#54DCA9" stroke-width="5.2" stroke-linecap="round" fill="none"/><path d="M1806.3 542.5L1814.8 562.5L1828.5 575.7L1846.5 575.7L1860.2 564.4L1867 546.2L1866.4 528.7L1855.7 529.6L1856.3 545L1851 558.4L1842.8 565.4L1833.1 565.7L1824.1 556.8L1816.4 538.8Z" fill="#54DCA9" fill-opacity="0.6"/><path transform="scale(.5)" d="M3719 1063h0m12 27h0m4-22h0m-10 2h0m-10 30h0m-67 36h0m82-51h0m-30 56h0m3 5h0m-45 7h0m20 0h0m-32-19h0m71-28h0m-102-13h0m13 27h0m91-14h0m7 3h0m-25 38h0m18-77h0m-36 84h0m47-63h0m-11-12h0m-89 39h0m45 16h0m-9 6h0m37-13h0m0 17h0m-13-4h0m39-74h0m-5 6h0m-9 19h0m3 30h0m-86-25h0m14 24h0m-17-10h0m73 15h0m-47 12h0m63-63h0m2 18h0m9 17h0m-12 16h0m-16 7h0m31-51h0m-36 55h0m-37 7h0m62-76h0m-1 24h0m-78 31h0m-4 4h0m55 8h0m5 0h0m-64-38h0m22 45h0m29-6h0m-74-50h0m121 4h0m-12 7h0m-3-13h0m-85 24h0m-8-23h0m94 3h0m-47 51h0m13-2h0m-25 7h0m56-18h0m-89-26h0m93-15h0m14-2h0m-54 55h0m-42-16h0m28 32h0m44-21h0m-60 5h0m-17-45h0m49 53h0m6 7h0m35-47h0m-3-14h0m4-3h0m-30 40h0m14 5h0m-72-45h0m-2 44h0m51 5h0m35-44h0m-83 1h0m64 34h0m-69-1h0m1-20h0m61 38h0m7-23h0m-30 17h0m18 13h0m45-60h0m-114 11h0m3 10h0m23 21h0m23 10h0m8-2h0m39-24h0m10 4h0m-91-33h0m89 31h0m-4 7h0m-62 16h0m61-54h0m-89 13h0m7 12h0m83-29h0m-47 65h0m-24-18h0m37 11h0m-6-8h0m-49-43h0m60 57h0m-79-64h0m43 47h0m-40-44h0m110 14h0m-81 14h0m44 20h0m-12 16h0m-57-49h0m41 31h0m-40-29h0m-5-20h0m11 28h0m39 31h0m6-1h0m22-13h0m43-33h0m-34 52h0m-58-33h0m39 24h0m28-26h0m22-35h0m-80 48h0m11 6h0m-24 3h0m80-28h0m-72 27h0m-1-12h0m47 23h0m-40-6h0m80-61h0m-13 1h0m12-15h0m-15 40h0m-6 32h0m25-47h0m-105 27h0m97-56h0m1 41h0m-30 31h0m-61-19h0m54 36h0m-35-16h0m-35-26h0m103-2h0m-81 27h0m79-51h0m-100 35h0m68 32h0m-31 1h0m65-36h0m-81 5h0m-16-34h0m-4-5h0m89 50h0m2-1h0m-58 21h0m39-3h0m23-42h0m-82 29h0m-5-40h0m46 50h0m8 0h0m20-12h0m4-13h0m-94-25h0m98 1h0m16-30h0m-64 82h0m54-17h0m9-42h0m-76 37h0m19 26h0m-18 0h0m5-4h0m49-22h0m20-19h0m-1 3h0m-86 17h0m93-70h0m-43 90h0m37-62h0m-32 43h0m-59-9h0m61 31h0m21-59h0m-97 8h0m42 41h0m-1 7h0m30-13h0m-9 20h0m39-54h0m12-9h0m-18-5h0m16-11h0m-17 8h0m-87 4h0m18 33h0m-4 10h0m-6-32h0m4 41h0m8-17h0m4 20h0m4 9h0m69-60h0m-6-26h0m-105 29h0m116-2h0m-1-12h0m-56 55h0m-31 1h0m80-75h0m-43 75h0m4 14h0m11-10h0m-2-5h0m-24 3h0m33 7h0m-51-18h0m39 13h0m27-9h0m-81-24h0m97-4h0m-24 12h0m27-30h0m-92 42h0m-16-35h0m-1 24h0m42 38h0m1-5h0m53-40h0m-85 24h0m5-12h0m75-41h0" stroke="#54DCA9" stroke-width="5.2" stroke-linecap="round" fill="none"/><path transform="scale(.5)" d="M3946 930h0m22-13h0m15 44h0m-5-55h0m-1-19h0m15 37h0m-46 132h0m-3-12h0m49 32h0m-39-45h0m65-138h0m-81 42h0m24-46h0m-26 9h0m54-25h0m-8-4h0m-28 228h0m2-174h0m-24-20h0m56-8h0m-17 164h0m23-138h0m-72-26h0m96 25h0m-76-23h0m38 19h0m40 13h0m-42 157h0m17-202h0m-1 8h0m27 11h0m-1 6h0m-59 187h0m23-148h0m-20 10h0m23-5h0m-14 110h0m-6-96h0m17-33h0m2 27h0m-14-29h0m-16 17h0m-17 107h0m66-163h0m-43 102h0m-5-96h0m-41 186h0m79-171h0m-53-10h0m38 71h0m-23-118h0m-15 235h0m28-62h0m2-47h0m-11 100h0m8-221h0m23 85h0m31-28h0m-78 170h0m16-211h0m-28 27h0m75-17h0m-71-6h0m50-25h0m-34 124h0m18-103h0m12-13h0m-14 98h0m-27 108h0m14-51h0m1 55h0m-16 0h0m1-184h0m16 179h0m15-40h0m-19-136h0m33 18h0m-61 12h0m49 34h0m-22-41h0m28 49h0m23-21h0m2-57h0m-37 49h0m12 16h0m-31-50h0m-2 103h0m-6 29h0m35 38h0m-13-161h0m-12 98h0m6 21h0m13-91h0m26-74h0m-33-2h0m5 74h0m-35 155h0m37-131h0m19-54h0m22 17h0m-37 13h0m-28-10h0m24 159h0m-9-169h0m15 49h0m-25-42h0m31-10h0m-37 146h0m26 23h0m-42 4h0m89-166h0m-51-22h0m-25 35h0m5-7h0m40-4h0m-17 113h0m39-132h0m-31 36h0m-30 83h0m0 1h0m-19-132h0m46 169h0m-1-119h0m-23 140h0m-10 12h0m52-192h0m14 16h0m-33 172h0m-45 4h0m18-70h0m20-56h0m-22-27h0m68 7h0m16-27h0m-61-38h0m27-23h0m-34 136h0m14-102h0m-24 101h0m18 80h0m44-170h0m-37 83h0m8-61h0m7 139h0m5-107h0m-54 117h0m87-152h0m-80-56h0m39 94h0m2-108h0m32 81h0m-80-13h0m32-23h0m-7 42h0m22 23h0m-53 92h0m4 13h0m43-89h0m33-78h0m-59-34h0m-13 175h0m27-98h0m-18 108h0m25-187h0m6 16h0m-42 204h0m14-37h0m-18-163h0m36-23h0m57 68h0m-68 157h0m56-183h0m-7-3h0m-92 8h0m36-51h0m59 50h0m-40 32h0m16 7h0m-18-54h0m-19 137h0m4-107h0m37-24h0m12-4h0m-48 190h0m-32-155h0m44-7h0m-17-71h0m-23 27h0m29 127h0m44-118h0m2 23h0m-93 162h0m65-108h0m-26-101h0m-2-7h0m49 42h0m-23 177h0m27-191h0m-47-11h0m-7 212h0m6-68h0m15 36h0m31-161h0m-49-10h0m-12-5h0m81 30h0m-40 149h0m26-137h0m-88 141h0m33-25h0m40-102h0m-24-35h0m-9 72h0m31-84h0m-32 175h0m5-86h0m-22 77h0m90-126h0m-37-48h0m-58 20h0m38 156h0m14-111h0m-4-71h0m15-6h0m-10 100h0m13-34h0m-29 87h0m-22 26h0m20-105h0m-1 81h0m59-99h0m-70-50h0m-16 202h0m1-204h0m-2-9h0m21 211h0m-13-78h0m8-135h0m-17 77h0m-10-33h0m19 193h0m-16-23h0m35-54h0m41-144h0m-2-6h0m-49 186h0m-25 11h0m22-165h0m-28 19h0m-2-19h0m12 28h0m74 9h0m-70-22h0m38 61h0m-2 8h0m33-87h0m-64 110h0m-26-113h0m27 108h0m69-70h0m-40-48h0m-45 193h0m-14-21h0m55-52h0m-6 46h0m-28-148h0m19-3h0m37 45h0m-39-5h0m-10 118h0m-1-106h0m15 4h0m9-85h0m-7 105h0m12-93h0m-14-6h0m-7-16h0m49 45h0m-57-29h0m36 97h0m-42-51h0m47-27h0m-17 174h0m5-69h0m-12-18h0m4-41h0m14-6h0m9-5h0m-27 141h0m30-209h0m-77 222h0m81-201h0m-31 3h0m-19 39h0m20 54h0m32-47h0m-33 81h0m-5-29h0m-29 82h0m19-132h0m38-61h0m-2-28h0m-27 214h0m26-113h0m-61 140h0m38-50h0m-7 0h0m16 39h0m-14-217h0m1 94h0m-13 0h0m69-34h0m-16 0h0m-31-74h0m-6 29h0m-6 103h0m64-54h0m-71 65h0m-27-74h0m55-68h0m0 85h0m-4 43h0m-36 85h0m26-216h0m47 104h0m-39-67h0m-3 27h0m14 1h0m-34 6h0m24 32h0m-1 58h0m-5 17h0m54-112h0m11 27h0m-56 37h0m15-39h0m-33 149h0m9-119h0m17 119h0m-29-180h0m43 42h0m-12-47h0m-31 184h0m-33-161h0m63-22h0m27 31h0m-40-42h0m-42 168h0m38-143h0m47-34h0m-67 21h0m18 171h0m-18-141h0m81-31h0m-59 13h0m-34-15h0m12 168h0m11-184h0m-41 198h0m55-167h0m45-26h0m-29 178h0m-72 1h0m114-137h0m-63 34h0m-35 92h0m18-107h0m33-80h0m-13 194h0m-40-9h0m12-169h0m15 18h0m1 135h0m6 37h0m60-180h0m-30 70h0m-44 29h0m-14-55h0m15 53h0m22-85h0m33-2h0m-65 127h0m14 40h0m25-211h0m-8 224h0m-9-228h0m28-6h0m26 48h0m-41 54h0m-12 117h0m-30 7h0m41-16h0m-1 21h0m-2-96h0m55-53h0m-45 6h0m-21 130h0m-30-144h0m72-6h0m-36 31h0m23-45h0m-17-45h0m-38 44h0m59-10h0m-43 8h0m36-22h0m-39 151h0m-6 15h0m-17 42h0m28-127h0m10-105h0m-22 242h0m77-153h0m-62 46h0m16 15h0m-22 78h0m-2-19h0m18-210h0m33 79h0m7-32h0m-56-29h0m28 212h0m-44-213h0m74 46h0m19 23h0m-45-59h0m33 12h0m-67 80h0m-9 92h0m1-169h0m21 133h0m13-80h0m-8-99h0m29 108h0m-58 110h0m57-106h0m-17-30h0m-4 17h0m-38-15h0m49-36h0m-19 84h0m7 11h0m21-38h0m-55-69h0m55 56h0m-36 148h0m19-108h0m-1 28h0m-37 46h0m31-193h0m3 33h0m-56 169h0m43 2h0m16-142h0m-14 64h0m19-82h0m11-1h0m16-39h0m-30 16h0m-55 196h0m27-108h0m-29-56h0m51 90h0m5-120h0m8 73h0m-54 110h0m30-173h0m1-19h0m-6 57h0m25-55h0m14 43h0m-51 3h0m-9 171h0m9-64h0m60-140h0m-31-17h0m-25 36h0m13 107h0m56-86h0m-16 15h0m24-53h0m-50-34h0m-14 25h0m66 31h0m-58-9h0m27-31h0m-21 32h0m-16-3h0m24-9h0m-3-32h0m10 88h0m-32-36h0m23-43h0m-26 138h0m58-100h0m-62-47h0m-32 201h0m29-118h0m12 134h0m4-206h0m-6 8h0m-10 62h0m-12-8h0m-4-29h0m74-16h0m-31-18h0m-3 118h0m-13-4h0m9 18h0m41-72h0m-88 129h0m17-142h0m52 165h0m-48-206h0m-14 30h0m35 32h0m6-63h0m-13 207h0m-38 6h0m54-24h0m58-143h0m-72-29h0m1 76h0m19 80h0m-51 30h0m45-57h0m-30-141h0m26-16h0m-21 12h0m7 133h0m4-18h0m32-63h0m-28 111h0m-11-53h0m17-99h0m2 73h0m17-27h0m-35 51h0m33-5h0m-55 86h0m45-213h0m-5 26h0m20 67h0m-34 6h0m-6 28h0m10 40h0m46-91h0m-53 5h0m16-23h0m55 8h0m-73 115h0m50-98h0m-2-78h0m-37 62h0m-29-9h0m39 171h0m-23-209h0m80 33h0m-62 87h0m61-81h0m-34-39h0m26 32h0m-41 35h0m19-48h0m-22 80h0m-20 105h0m69-190h0m-44 193h0m-28-107h0m28-120h0m0 236h0m-44-164h0m-6 133h0m27-181h0m39 39h0m-21-29h0m-46 39h0m51 21h0m-24 46h0m-7 12h0m-19 81h0m33-15h0m26 12h0m-24-230h0m47 43h0m-54 139h0m29-84h0m-25-82h0m10 51h0m42-25h0" stroke="#54DCA9" stroke-width="5.2" stroke-linecap="round" fill="none"/><path d="M1996.5 427.4L2005.8 438.5L2013.5 452L2015.2 467.8L2004 474.5L1998.8 460.7L1995.9 441.2Z" fill="#54DCA9" fill-opacity="0.72"/><path transform="scale(.5)" d="M4023 936h0m-3-1h0m-24-22h0m5 0h0m-4 1h0m29 20h0m-23-16h0m17 24h0m4-7h0m-13-3h0m-18-45h0m29 45h0m-27-50h0m14 69h0m-5-63h0m5 58h0m-10-69h0m20 13h0m-24 16h0m6-38h0m29 47h0m-12 10h0m-10-9h0m1 33h0m-13-82h0m16 19h0m3 55h0m-7 3h0m-2-36h0m-1 23h0m10-13h0m-11-15h0m15 1h0m7 35h0m-24-6h0m-5-64h0m1 21h0m2 29h0m17-32h0m13 35h0m-25-12h0m5 34h0m-14-30h0m22 12h0m-10-9h0m6-8h0m-11-22h0m5-4h0m-9-21h0m25 47h0m1-4h0m-34-26h0m17 72h0m-8-68h0m16 36h0m-19-44h0m19 61h0m-14-68h0m5 50h0m-4 20h0m25-37h0m-31 12h0m5-25h0m19 44h0m-29-68h0m37 74h0m0-12h0m-27-2h0m25 0h0m-16-47h0m5 28h0m-20-28h0m7 4h0m2 39h0m-7-58h0m22 82h0m9-25h0m-5 0h0m-23-38h0m6 52h0m-9-38h0m31 29h0m-8-34h0m-7 8h0m7 38h0m-4-36h0m-2-11h0m-13-18h0m9 57h0m-2 15h0m-12-55h0m22 21h0m7 0h0m0-9h0m-2 10h0m-18 28h0m8-32h0m13 23h0m-5-5h0m-21-33h0m-7-1h0m13 3h0m10 0h0m6 13h0m-27-45h0m2 16h0m11 7h0m0 61h0m16-38h0m-21-25h0m14 30h0m-2-4h0m-11 15h0m11-13h0m14 9h0m-19 27h0m-2-24h0m3-36h0m12 42h0m-22-54h0m8 60h0m-15-24h0m-1-9h0m3 11h0m-3-9h0m37 17h0m-34-6h0m19 20h0m-8-23h0m18 5h0m2 0h0m-30-10h0m4 12h0m26-6h0m-10 8h0m-16 6h0m23 15h0m-5-45h0m-18-25h0m7 75h0" stroke="#54DCA9" stroke-width="5.2" stroke-linecap="round" fill="none"/><path d="M1961.4 530.6L1975.3 525.5L1990.7 530.8L1994.5 539.9L1986.9 547L1973.6 547.6L1960.3 547.3Z" fill="#54DCA9" fill-opacity="0.6"/><path transform="scale(.5)" d="M3958 1051h0m-23 30h0m52-4h0m-3-8h0m-23-13h0m-6 10h0m-7 10h0m17 19h0m-11-32h0m-26 34h0m30-30h0m-26-2h0m18-16h0m36 37h0m-27 2h0m-14-22h0m-21 21h0m2-22h0m54 25h0m-8-17h0m-11 6h0m-40-7h0m28 7h0m-7-18h0m32 32h0m-9-38h0m-33 32h0m8 10h0m27-31h0m-12 25h0m-3 0h0m-8-34h0m35 15h0m-17-12h0m17 5h0m-28 14h0m1 9h0m32-24h0m-38 16h0m12-13h0m-39 23h0m65-23h0m-23 28h0m-37-13h0m46-23h0m8 17h0m-53-4h0m39 8h0m-29-17h0m-12 7h0m30 3h0m-3 0h0m-27 6h0m14 2h0m28-14h0m20 12h0m-42 9h0m36-10h0m-45-12h0m27 9h0m-7 5h0m3-11h0m0 5h0m25-6h0m-55 25h0m21-41h0m24 18h0m-11-15h0m-37 28h0m32-6h0m16-8h0m-26-13h0m-21 25h0m23 8h0m2-12h0m6-14h0m14 17h0m-49 12h0m15-22h0m26 19h0m-17-16h0m14-3h0m-36 16h0m7-24h0m2-5h0m38 6h0m-30 0h0m39 20h0m4 6h0m-58 1h0m0-21h0m54 2h0m-59 5h0m56 20h0m-52-9h0m38 8h0m12-25h0m-39 8h0m14-21h0m-27 4h0m7 31h0m21-42h0m-18 12h0m-2 29h0m16-33h0m-13 22h0m17-31h0m-19 8h0m40 26h0m-22-1h0m-15-15h0m36 14h0m-38 15h0m31-36h0m-20-6h0m14 11h0m26 6h0m-20-8h0m-11 15h0m28-16h0m-50 28h0m5-11h0m26-6h0m-23 20h0m-11-32h0m50 1h0m7 26h0m-18-1h0m-6-1h0m-24-26h0m34 19h0m-47 0h0m38-26h0m-35 8h0m40-7h0m4 32h0m9-3h0m-39 8h0m-19-16h0m65 3h0m-9-17h0m-42 18h0m38-3h0m14-4h0m-17-8h0m-43 7h0m-4 7h0m13 5h0m-13-5h0m16 0h0m3-5h0m24 2h0m3 14h0m-28-13h0m1 6h0m44-5h0m-65-12h0m-2 23h0m46 3h0m21-8h0" stroke="#54DCA9" stroke-width="5.2" stroke-linecap="round" fill="none"/><text x="1119.5" y="183.2" font-size="17.5" text-anchor="middle">Exc_Neuron</text><text x="1391.5" y="200.4" font-size="17.5" text-anchor="middle">Astrocyte</text><text x="1429.0" y="328.4" font-size="17.5" text-anchor="middle">OPC</text><text x="1266.9" y="382.7" font-size="17.5" text-anchor="middle">Microglia</text><text x="1397.0" y="509.9" font-size="17.5" text-anchor="middle">Inh_Neuron</text><text x="1070.8" y="500.7" font-size="17.5" text-anchor="middle">Oligodendrocyte</text><text x="1184.2" y="513.2" font-size="17.5" text-anchor="middle">Cap_EC</text><text x="1714.6" y="143.6" font-size="17.5" text-anchor="middle">Exc_Neuron</text><text x="1891.9" y="171.4" font-size="17.5" text-anchor="middle">Astrocyte</text><text x="1956.5" y="317.3" font-size="17.5" text-anchor="middle">OPC</text><text x="1817.2" y="383.5" font-size="17.5" text-anchor="middle">Microglia</text><text x="1582.3" y="501.6" font-size="17.5" text-anchor="middle">Oligodendrocyte</text><text x="1735.0" y="515.7" font-size="17.5" text-anchor="middle">Cap_EC</text><text x="1968.2" y="523.8" font-size="17.5" text-anchor="middle">Inh_Neuron</text>
<text x="4.3" y="32.1" font-size="41">A</text>
<text x="458.0" y="22.2" font-size="26" text-anchor="middle" font-weight="bold">RNA_snn_res.1.6</text>
<line x1="117.3" y1="38.0" x2="117.3" y2="610.9" stroke="#000" stroke-width="1.6"/>
<line x1="116.5" y1="610.1" x2="799.5" y2="610.1" stroke="#000" stroke-width="1.6"/>
<line x1="134.1" y1="610.1" x2="134.1" y2="615.6" stroke="#000" stroke-width="1.6"/>
<text x="134.1" y="635.4" font-size="20" text-anchor="middle">-10</text>
<line x1="272.2" y1="610.1" x2="272.2" y2="615.6" stroke="#000" stroke-width="1.6"/>
<text x="272.2" y="635.4" font-size="20" text-anchor="middle">-5</text>
<line x1="410.3" y1="610.1" x2="410.3" y2="615.6" stroke="#000" stroke-width="1.6"/>
<text x="410.3" y="635.4" font-size="20" text-anchor="middle">0</text>
<line x1="548.4" y1="610.1" x2="548.4" y2="615.6" stroke="#000" stroke-width="1.6"/>
<text x="548.4" y="635.4" font-size="20" text-anchor="middle">5</text>
<line x1="686.5" y1="610.1" x2="686.5" y2="615.6" stroke="#000" stroke-width="1.6"/>
<text x="686.5" y="635.4" font-size="20" text-anchor="middle">10</text>
<line x1="111.8" y1="80.0" x2="117.3" y2="80.0" stroke="#000" stroke-width="1.6"/>
<text x="106.8" y="87.2" font-size="20" text-anchor="end">10</text>
<line x1="111.8" y1="202.8" x2="117.3" y2="202.8" stroke="#000" stroke-width="1.6"/>
<text x="106.8" y="209.9" font-size="20" text-anchor="end">5</text>
<line x1="111.8" y1="325.5" x2="117.3" y2="325.5" stroke="#000" stroke-width="1.6"/>
<text x="106.8" y="332.7" font-size="20" text-anchor="end">0</text>
<line x1="111.8" y1="448.2" x2="117.3" y2="448.2" stroke="#000" stroke-width="1.6"/>
<text x="106.8" y="455.4" font-size="20" text-anchor="end">-5</text>
<line x1="111.8" y1="571.0" x2="117.3" y2="571.0" stroke="#000" stroke-width="1.6"/>
<text x="106.8" y="578.2" font-size="20" text-anchor="end">-10</text>
<text x="458.0" y="662.0" font-size="22.5" text-anchor="middle">UMAP_1</text>
<text x="67.0" y="324.0" font-size="22.5" text-anchor="middle" transform="rotate(-90 67.0 324.0)">UMAP_2</text>
<text x="818.0" y="32.1" font-size="41">B</text>
<line x1="967.0" y1="66.3" x2="967.0" y2="605.8" stroke="#000" stroke-width="1.6"/>
<line x1="966.2" y1="605.0" x2="1462.0" y2="605.0" stroke="#000" stroke-width="1.6"/>
<line x1="978.7" y1="605.0" x2="978.7" y2="610.5" stroke="#000" stroke-width="1.6"/>
<text x="978.7" y="630.3" font-size="20" text-anchor="middle">-10</text>
<line x1="1084.0" y1="605.0" x2="1084.0" y2="610.5" stroke="#000" stroke-width="1.6"/>
<text x="1084.0" y="630.3" font-size="20" text-anchor="middle">-5</text>
<line x1="1189.3" y1="605.0" x2="1189.3" y2="610.5" stroke="#000" stroke-width="1.6"/>
<text x="1189.3" y="630.3" font-size="20" text-anchor="middle">0</text>
<line x1="1294.6" y1="605.0" x2="1294.6" y2="610.5" stroke="#000" stroke-width="1.6"/>
<text x="1294.6" y="630.3" font-size="20" text-anchor="middle">5</text>
<line x1="1399.9" y1="605.0" x2="1399.9" y2="610.5" stroke="#000" stroke-width="1.6"/>
<text x="1399.9" y="630.3" font-size="20" text-anchor="middle">10</text>
<line x1="961.5" y1="92.6" x2="967.0" y2="92.6" stroke="#000" stroke-width="1.6"/>
<text x="956.5" y="99.8" font-size="20" text-anchor="end">10</text>
<line x1="961.5" y1="211.2" x2="967.0" y2="211.2" stroke="#000" stroke-width="1.6"/>
<text x="956.5" y="218.4" font-size="20" text-anchor="end">5</text>
<line x1="961.5" y1="329.8" x2="967.0" y2="329.8" stroke="#000" stroke-width="1.6"/>
<text x="956.5" y="337.0" font-size="20" text-anchor="end">0</text>
<line x1="961.5" y1="448.4" x2="967.0" y2="448.4" stroke="#000" stroke-width="1.6"/>
<text x="956.5" y="455.6" font-size="20" text-anchor="end">-5</text>
<line x1="961.5" y1="567.0" x2="967.0" y2="567.0" stroke="#000" stroke-width="1.6"/>
<text x="956.5" y="574.2" font-size="20" text-anchor="end">-10</text>
<line x1="1519.2" y1="605.0" x2="2026.0" y2="605.0" stroke="#000" stroke-width="1.6"/>
<line x1="1532.8" y1="605.0" x2="1532.8" y2="610.5" stroke="#000" stroke-width="1.6"/>
<text x="1532.8" y="630.3" font-size="20" text-anchor="middle">-10</text>
<line x1="1638.1" y1="605.0" x2="1638.1" y2="610.5" stroke="#000" stroke-width="1.6"/>
<text x="1638.1" y="630.3" font-size="20" text-anchor="middle">-5</text>
<line x1="1743.4" y1="605.0" x2="1743.4" y2="610.5" stroke="#000" stroke-width="1.6"/>
<text x="1743.4" y="630.3" font-size="20" text-anchor="middle">0</text>
<line x1="1848.7" y1="605.0" x2="1848.7" y2="610.5" stroke="#000" stroke-width="1.6"/>
<text x="1848.7" y="630.3" font-size="20" text-anchor="middle">5</text>
<line x1="1954.0" y1="605.0" x2="1954.0" y2="610.5" stroke="#000" stroke-width="1.6"/>
<text x="1954.0" y="630.3" font-size="20" text-anchor="middle">10</text>
<text x="868.0" y="334.0" font-size="21.5" text-anchor="middle" transform="rotate(-90 868.0 334.0)">UMAP_2</text>
<text x="1480.0" y="665.0" font-size="22.5" text-anchor="middle">UMAP_1</text>
<text x="1219.5" y="24.7" font-size="26" text-anchor="middle">Control</text>
<text x="1221.3" y="48.6" font-size="23.4" text-anchor="middle">(Braak stage 0)</text>
<text x="1769.0" y="24.7" font-size="26" text-anchor="middle">AD</text>
<text x="1769.0" y="48.6" font-size="23.4" text-anchor="middle">(Braak stage 6)</text>
<text x="1.0" y="718.2" font-size="41">C</text>
<text x="29.3" y="739.0" font-size="17.2">p-value</text>
<text x="524.0" y="739.0" font-size="16.8" text-anchor="middle">CCC-Neuron-Oligodendrocyte</text>
<text x="1010.0" y="739.0" font-size="16.8" text-anchor="middle">CCC-other cell types</text>
<text x="1481.0" y="739.0" font-size="16.8" text-anchor="middle">CCC-all cell types</text>
<text x="2039.5" y="739.0" font-size="16.8" text-anchor="end">CCC-all cell types</text>
<line x1="110.7" y1="746.3" x2="110.7" y2="826.4" stroke="#cfcfcf" stroke-width="1.3"/>
<line x1="468.0" y1="744.9" x2="468.0" y2="827.8" stroke="#000" stroke-width="1.6"/>
<line x1="584.3" y1="744.9" x2="584.3" y2="827.8" stroke="#000" stroke-width="1.6"/>
<line x1="952.2" y1="744.9" x2="952.2" y2="827.8" stroke="#000" stroke-width="1.6"/>
<line x1="1069.2" y1="744.9" x2="1069.2" y2="827.8" stroke="#000" stroke-width="1.6"/>
<line x1="1430.8" y1="744.9" x2="1430.8" y2="827.8" stroke="#000" stroke-width="1.6"/>
<line x1="1534.9" y1="744.9" x2="1534.9" y2="827.8" stroke="#000" stroke-width="1.6"/>
<line x1="1922.5" y1="744.9" x2="1922.5" y2="827.8" stroke="#000" stroke-width="1.6"/>
<rect x="2029.3" y="746.2" width="9" height="80.3" fill="url(#cbg0)"/>
<text x="2041.0" y="755.4" font-size="11.2" fill="#222">2.93</text>
<text x="2040.5" y="824.5" font-size="11.2" fill="#222">-1.75</text>
<rect x="5.6" y="744.9" width="2070.2" height="82.9" fill="none" stroke="#000" stroke-width="2.8"/>
<text x="59.4" y="792.9" font-size="17.2" text-anchor="middle">0.00053</text>
<text x="453.0" y="778.6" font-size="16.7" text-anchor="end">AD paranode proteomics overlapped with</text>
<text x="458.0" y="807.9" font-size="16.7" text-anchor="end">CCC-Neuron-Oligodendrocyte</text>
<circle cx="525" cy="786.7" r="36.4" fill="#1a365f"/>
<text x="943.0" y="778.6" font-size="16.7" text-anchor="end">AD paranode proteomics overlapped with</text>
<text x="947.5" y="807.9" font-size="16.7" text-anchor="end">CCC-other cell types</text>
<circle cx="1010" cy="786.7" r="28.4" fill="#d35d50"/>
<text x="1419.0" y="778.6" font-size="16.7" text-anchor="end">CCC-Neuron-Oligodendrocyte</text>
<text x="1419.0" y="807.9" font-size="16.7" text-anchor="end">not overlapping with AD paranode proteomics</text>
<circle cx="1481" cy="786.7" r="23.4" fill="#e8a080"/>
<text x="1911.0" y="778.6" font-size="16.7" text-anchor="end">CCC-other cell types</text>
<text x="1911.0" y="807.9" font-size="16.7" text-anchor="end">not overlapping with AD paranode proteomics</text>
<circle cx="1975.5" cy="786.7" r="17.8" fill="#cde4ee"/>
<line x1="110.7" y1="837.8" x2="110.7" y2="917.9" stroke="#cfcfcf" stroke-width="1.3"/>
<line x1="468.0" y1="836.4" x2="468.0" y2="919.3" stroke="#000" stroke-width="1.6"/>
<line x1="584.3" y1="836.4" x2="584.3" y2="919.3" stroke="#000" stroke-width="1.6"/>
<line x1="952.2" y1="836.4" x2="952.2" y2="919.3" stroke="#000" stroke-width="1.6"/>
<line x1="1069.2" y1="836.4" x2="1069.2" y2="919.3" stroke="#000" stroke-width="1.6"/>
<line x1="1430.8" y1="836.4" x2="1430.8" y2="919.3" stroke="#000" stroke-width="1.6"/>
<line x1="1534.9" y1="836.4" x2="1534.9" y2="919.3" stroke="#000" stroke-width="1.6"/>
<line x1="1922.5" y1="836.4" x2="1922.5" y2="919.3" stroke="#000" stroke-width="1.6"/>
<rect x="2029.3" y="837.7" width="9" height="80.3" fill="url(#cbg1)"/>
<text x="2041.0" y="846.9" font-size="11.2" fill="#222">3.2</text>
<text x="2040.5" y="916.0" font-size="11.2" fill="#222">-1.68</text>
<rect x="5.6" y="836.4" width="2070.2" height="82.9" fill="none" stroke="#000" stroke-width="2.8"/>
<text x="59.4" y="884.4" font-size="17.2" text-anchor="middle">0.00078</text>
<text x="453.5" y="870.1" font-size="16.7" text-anchor="end">Ctrl paranode proteomics overlapped with</text>
<text x="458.5" y="899.4" font-size="16.7" text-anchor="end">CCC-Neuron-Oligodendrocyte</text>
<circle cx="525" cy="879.0" r="34.1" fill="#1a365f"/>
<text x="943.0" y="870.1" font-size="16.7" text-anchor="end">Ctrl paranode proteomics overlapped with</text>
<text x="947.0" y="899.4" font-size="16.7" text-anchor="end">CCC-other cell types</text>
<circle cx="1010" cy="879.0" r="24.7" fill="#dd6f5f"/>
<text x="1419.5" y="870.1" font-size="16.7" text-anchor="end">CCC-Neuron-Oligodendrocyte</text>
<text x="1419.5" y="899.4" font-size="16.7" text-anchor="end">not overlapping with Ctrl paranode proteomics</text>
<circle cx="1481" cy="879.0" r="15.7" fill="#f1d6c6"/>
<text x="1911.5" y="870.1" font-size="16.7" text-anchor="end">CCC-other cell types</text>
<text x="1911.5" y="899.4" font-size="16.7" text-anchor="end">not overlapping with Ctrl paranode proteomics</text>
<circle cx="1975" cy="879.0" r="11" fill="#e5eff5"/>
<line x1="110.7" y1="929.3" x2="110.7" y2="1009.4" stroke="#cfcfcf" stroke-width="1.3"/>
<line x1="468.0" y1="927.9" x2="468.0" y2="1010.8" stroke="#000" stroke-width="1.6"/>
<line x1="584.3" y1="927.9" x2="584.3" y2="1010.8" stroke="#000" stroke-width="1.6"/>
<line x1="952.2" y1="927.9" x2="952.2" y2="1010.8" stroke="#000" stroke-width="1.6"/>
<line x1="1069.2" y1="927.9" x2="1069.2" y2="1010.8" stroke="#000" stroke-width="1.6"/>
<line x1="1430.8" y1="927.9" x2="1430.8" y2="1010.8" stroke="#000" stroke-width="1.6"/>
<line x1="1534.9" y1="927.9" x2="1534.9" y2="1010.8" stroke="#000" stroke-width="1.6"/>
<line x1="1922.5" y1="927.9" x2="1922.5" y2="1010.8" stroke="#000" stroke-width="1.6"/>
<rect x="2029.3" y="929.2" width="9" height="80.3" fill="url(#cbg2)"/>
<text x="2041.0" y="938.4" font-size="11.2" fill="#222">2.28</text>
<text x="2040.5" y="1007.5" font-size="11.2" fill="#222">-1.36</text>
<rect x="5.6" y="927.9" width="2070.2" height="82.9" fill="none" stroke="#000" stroke-width="2.8"/>
<text x="59.4" y="975.9" font-size="17.2" text-anchor="middle">0.00933</text>
<text x="456.0" y="961.6" font-size="16.7" text-anchor="end">AD myelin-axon interface proteomics</text>
<text x="460.5" y="990.9" font-size="16.7" text-anchor="end">overlapped with CCC-Neuron-Oligodendrocyte</text>
<circle cx="525" cy="970.1" r="34.0" fill="#1a365f"/>
<text x="942.5" y="961.6" font-size="16.7" text-anchor="end">AD myelin-axon interface proteomics</text>
<text x="947.0" y="990.9" font-size="16.7" text-anchor="end">overlapped with CCC-other cell types</text>
<circle cx="1010" cy="970.1" r="26.0" fill="#d4544a"/>
<text x="1424.0" y="961.6" font-size="16.7" text-anchor="end">CCC-Neuron-Oligodendrocyte not overlapping</text>
<text x="1424.0" y="990.9" font-size="16.7" text-anchor="end">with AD myelin-axon interface proteomics</text>
<circle cx="1481" cy="970.1" r="20.1" fill="#ebb095"/>
<text x="1911.5" y="961.6" font-size="16.7" text-anchor="end">CCC-other cell types not overlapping</text>
<text x="1911.5" y="990.9" font-size="16.7" text-anchor="end">with AD myelin-axon interface proteomics</text>
<circle cx="1975.5" cy="970.1" r="16.1" fill="#d5e8f1"/>
<line x1="110.7" y1="1020.7" x2="110.7" y2="1101.0" stroke="#cfcfcf" stroke-width="1.3"/>
<line x1="468.0" y1="1019.3" x2="468.0" y2="1102.4" stroke="#000" stroke-width="1.6"/>
<line x1="584.3" y1="1019.3" x2="584.3" y2="1102.4" stroke="#000" stroke-width="1.6"/>
<line x1="952.2" y1="1019.3" x2="952.2" y2="1102.4" stroke="#000" stroke-width="1.6"/>
<line x1="1069.2" y1="1019.3" x2="1069.2" y2="1102.4" stroke="#000" stroke-width="1.6"/>
<line x1="1430.8" y1="1019.3" x2="1430.8" y2="1102.4" stroke="#000" stroke-width="1.6"/>
<line x1="1534.9" y1="1019.3" x2="1534.9" y2="1102.4" stroke="#000" stroke-width="1.6"/>
<line x1="1922.5" y1="1019.3" x2="1922.5" y2="1102.4" stroke="#000" stroke-width="1.6"/>
<rect x="2029.3" y="1020.6" width="9" height="80.5" fill="url(#cbg3)"/>
<text x="2041.0" y="1029.8" font-size="11.2" fill="#222">3.44</text>
<text x="2040.5" y="1099.1" font-size="11.2" fill="#222">-1.8</text>
<rect x="5.6" y="1019.3" width="2070.2" height="83.1" fill="none" stroke="#000" stroke-width="2.8"/>
<text x="59.4" y="1067.3" font-size="17.2" text-anchor="middle">0.00013</text>
<text x="456.0" y="1053.0" font-size="16.7" text-anchor="end">Ctrl myelin-axon interface proteomics</text>
<text x="460.0" y="1082.3" font-size="16.7" text-anchor="end">overlapped with CCC-Neuron-Oligodendrocyte</text>
<circle cx="525" cy="1061.6" r="34.7" fill="#1a365f"/>
<text x="942.5" y="1053.0" font-size="16.7" text-anchor="end">Ctrl myelin-axon interface proteomics</text>
<text x="947.0" y="1082.3" font-size="16.7" text-anchor="end">overlapped with CCC-other cell types</text>
<circle cx="1010" cy="1061.6" r="24.4" fill="#da6a5b"/>
<text x="1424.0" y="1053.0" font-size="16.7" text-anchor="end">CCC-Neuron-Oligodendrocyte not overlapping</text>
<text x="1424.0" y="1082.3" font-size="16.7" text-anchor="end">with Ctrl myelin-axon interface proteomics</text>
<circle cx="1481" cy="1061.6" r="19.4" fill="#efbca2"/>
<text x="1912.0" y="1053.0" font-size="16.7" text-anchor="end">CCC-other cell types not overlapping</text>
<text x="1912.0" y="1082.3" font-size="16.7" text-anchor="end">with Ctrl myelin-axon interface proteomics</text>
<circle cx="1975.5" cy="1061.6" r="14.6" fill="#dceaf3"/>
<text x="0.5" y="1181.5" font-size="41">D</text>
<text x="1026.0" y="1193.0" font-size="29.2" text-anchor="middle">Unaffected human controls (Braak stage 0)</text>
<line x1="0.0" y1="1211.0" x2="2073.0" y2="1211.0" stroke="#000" stroke-width="3.1"/>
<text x="10.0" y="1988.5" font-size="40">E</text>
<text x="1026.5" y="2003.6" font-size="29.3" text-anchor="middle">Alzheimer’s disease human brains (Braak stage 6)</text>
<line x1="0.0" y1="2021.5" x2="2073.0" y2="2021.5" stroke="#000" stroke-width="3.1"/>
<text x="147.6" y="1253.5" class="vt">RTN4</text>
<path d="M83.2 1384.1l-0.2-1.4l-0.6-1.3l-3.6-5.5l-0.6-1.4l-0.9-2.8l-0.1-27.4l0.7-4.2l1.4-4.1l1.5-2.7l4.3-6.9l1.3-2.8l0.8-2.7l0.2-1.4l0-2.7l-1.6-11l-0.8-4.1l-1.3-4.2l-3.6-8.2l-1.5-4.1l-1.1-5.5l-0.4-5.5l-0.6 0l-0.3 5.5l-1.1 5.5l-1.5 4.1l-3.6 8.2l-1.4 4.2l-0.8 4.1l-1.5 11l0 2.7l0.2 1.4l0.8 2.7l1.3 2.8l4.3 6.9l1.4 2.7l1.5 4.1l0.7 4.2l-0.1 27.4l-0.9 2.8l-0.7 1.4l-3.5 5.5l-0.6 1.3l-0.2 1.4z" fill="#F8766D" class="vp"/>
<path d="M111 1384.1l-0.4-2.1l-1.1-2.1l-5-6.3l-2-3.2l-0.9-2.1l-0.7-3.1l-0.1-26.3l0.8-5.3l1.9-8.4l0.3-3.1l-0.4-4.3l-1.7-7.3l-0.7-4.2l-0.3-6.3l-0.6 0l-0.3 6.3l-0.7 4.2l-1.7 7.3l-0.4 4.3l0.3 3.1l1.9 8.4l0.8 5.3l-0.1 26.3l-0.7 3.1l-0.9 2.1l-2 3.2l-5 6.3l-1.1 2.1l-0.4 2.1z" fill="#C4A029" class="vp"/>
<path d="M134.6 1384.1l-0.4-1.2l-1-1.3l-4.9-3.7l-2.5-2.5l-0.7-1.2l-0.7-2.5l0-9.9l0.8-6.2l1.7-6.2l5.1-12.4l0.8-3.7l0.1-2.4l-0.2-2.5l-1-3.7l-4.6-11.2l-1.2-3.7l-0.8-3.7l-0.7-6.2l-0.1-14.9l-0.6 0l-0.1 14.9l-0.7 6.2l-0.8 3.7l-1.2 3.7l-4.7 11.2l-0.9 3.7l-0.2 2.5l0.1 2.4l0.8 3.7l5.1 12.4l1.7 6.2l0.8 6.2l0 9.9l-0.7 2.5l-0.7 1.2l-2.5 2.5l-4.9 3.7l-1 1.3l-0.4 1.2z" fill="#5CBE28" class="vp"/>
<path d="M158.2 1384.1l-0.2-1.2l-0.8-1.2l-1-1.2l-4.1-3.5l-2.2-2.4l-1.3-2.4l-0.6-2.3l0-7.2l0.9-7.1l1.4-5.9l4.3-13.1l0.7-3.6l0.2-3.5l-0.3-3.6l-0.8-3.5l-3.9-11.9l-1.5-6l-0.6-3.5l-0.4-4.8l-0.1-7.1l-0.6 0l-0.1 7.1l-0.4 4.8l-0.6 3.5l-1.5 6l-3.9 11.9l-0.8 3.5l-0.4 3.6l0.3 3.5l0.7 3.6l4.3 13.1l1.4 5.9l0.9 7.1l0 7.2l-0.6 2.3l-1.3 2.4l-2.2 2.4l-4.1 3.5l-1 1.2l-0.8 1.2l-0.2 1.2z" fill="#54DCA9" class="vp"/>
<path d="M181.7 1384.1l-0.1-1.1l-0.9-2.3l-1.6-2.3l-3.7-4.5l-2.2-3.4l-0.9-2.3l-0.8-3.4l0-9.1l0.4-4.6l1.1-5.6l3-10.3l0.5-3.4l0.1-2.3l-0.5-4.5l-3.2-11.4l-1.1-5.6l-0.3-3.5l-0.1-11.3l-0.6 0l-0.1 11.3l-0.3 3.5l-1.1 5.6l-3.2 11.4l-0.5 4.5l0.1 2.3l0.5 3.4l2.9 10.3l1.2 5.6l0.4 4.6l-0.1 9.1l-0.7 3.4l-0.9 2.3l-2.2 3.4l-3.7 4.5l-1.6 2.3l-0.9 2.3l-0.1 1.1z" fill="#5DCDF4" class="vp"/>
<path d="M205.3 1384.1l-0.4-3.1l-1.1-3.1l-4.9-9.3l-2.2-5.2l-1-4.1l-0.6-5.2l0.1-7.2l0.8-6.3l1.4-5.1l3.8-11.4l0.9-4.2l0.5-4.1l0.5-5.2l-0.1-3.1l-0.5-3.1l-1.2-3.1l-13.3 0l-1.1 3.1l-0.5 3.1l-0.1 3.1l0.4 5.2l0.6 4.1l0.9 4.2l3.8 11.4l1.3 5.1l0.9 6.3l0.1 7.2l-0.6 5.2l-1.1 4.1l-2.1 5.2l-5 9.3l-1 3.1l-0.4 3.1z" fill="#A78AFF" class="vp"/>
<path d="M227.3 1384.1l-0.2-2.5l-0.9-3.2l-4.7-10.7l-1.6-4.9l-1-5.8l-0.2-5.7l0.4-5l1.1-4.9l2-4.9l4.4-8.2l1.4-3.3l0.8-3.3l-0.1-3.3l-20.9 0l0 3.3l0.7 3.3l1.5 3.3l4.4 8.2l2 4.9l1.1 4.9l0.4 5l-0.2 5.7l-1 5.8l-1.6 4.9l-4.8 10.7l-0.8 3.2l-0.2 2.5z" fill="#FB61D6" class="vp"/>
<path d="M62.7 1267.3V1390.5M61.9 1389.7H232.4M58 1384.1h4.7M58 1357h4.7M58 1329.9h4.7M58 1302.7h4.7M58 1275.6h4.7M76.8 1389.7v4.8M100.4 1389.7v4.8M124 1389.7v4.8M147.6 1389.7v4.8M171.1 1389.7v4.8M194.7 1389.7v4.8M218.3 1389.7v4.8" class="ax"/>
<text x="52.2" y="1389.9" class="vy">0</text>
<text x="52.2" y="1362.8" class="vy">1</text>
<text x="52.2" y="1335.7" class="vy">2</text>
<text x="52.2" y="1308.5" class="vy">3</text>
<text x="52.2" y="1281.4" class="vy">4</text>
<text transform="translate(34.3 1328.5) rotate(-90)" class="ve">Expression Level</text>
<text transform="translate(90.8 1408.2) rotate(-64.5)" class="vx">Oligodendrocyte</text>
<text transform="translate(114.4 1408.2) rotate(-64.5)" class="vx">Astrocyte</text>
<text transform="translate(138 1408.2) rotate(-64.5)" class="vx">Exc_Neuron</text>
<text transform="translate(161.6 1408.2) rotate(-64.5)" class="vx">Inh_Neuron</text>
<text transform="translate(185.1 1408.2) rotate(-64.5)" class="vx">OPC</text>
<text transform="translate(208.7 1408.2) rotate(-64.5)" class="vx">Microglia</text>
<text transform="translate(232.3 1408.2) rotate(-64.5)" class="vx">Cap_EC</text>
<text x="377.3" y="1253.5" class="vt">COPA</text>
<path d="M364.3 1384.1l-0.8-1.4l-6.7-4.1l-1.6-1.4l-0.8-1.4l-0.3-1.3l0-24.8l0.2-18l-0.2-19.2l-0.1-38.6l-0.6 0l-0.1 38.6l-0.2 19.2l0.2 18l0 24.8l-0.3 1.3l-0.9 1.4l-1.5 1.4l-6.7 4.1l-0.8 1.4z" fill="#5CBE28" class="vp"/>
<path d="M296 1384.1h21.2M306.6 1384.1V1278.5M319.5 1384.1h21.2M330.2 1384.1V1298.4M366.7 1384.1h21.2M377.3 1384.1V1289M390.3 1384.1h21.2M400.9 1384.1V1286.2M413.8 1384.1h21.2M424.4 1384.1V1297.7M437.4 1384.1h21.2M448 1384.1V1286.2m-1.8 0h3.6" class="vl"/>
<path d="M292.4 1267.3V1390.5M291.6 1389.7H462.1M287.7 1384.1h4.7M287.7 1349.1h4.7M287.7 1314.2h4.7M287.7 1279.2h4.7M306.6 1389.7v4.8M330.2 1389.7v4.8M353.7 1389.7v4.8M377.3 1389.7v4.8M400.9 1389.7v4.8M424.4 1389.7v4.8M448 1389.7v4.8" class="ax"/>
<text x="281.9" y="1389.9" class="vy">0</text>
<text x="281.9" y="1354.9" class="vy">1</text>
<text x="281.9" y="1320" class="vy">2</text>
<text x="281.9" y="1285" class="vy">3</text>
<text transform="translate(264 1328.5) rotate(-90)" class="ve">Expression Level</text>
<text transform="translate(320.6 1408.2) rotate(-64.5)" class="vx">Oligodendrocyte</text>
<text transform="translate(344.2 1408.2) rotate(-64.5)" class="vx">Astrocyte</text>
<text transform="translate(367.7 1408.2) rotate(-64.5)" class="vx">Exc_Neuron</text>
<text transform="translate(391.3 1408.2) rotate(-64.5)" class="vx">Inh_Neuron</text>
<text transform="translate(414.9 1408.2) rotate(-64.5)" class="vx">OPC</text>
<text transform="translate(438.4 1408.2) rotate(-64.5)" class="vx">Microglia</text>
<text transform="translate(462 1408.2) rotate(-64.5)" class="vx">Cap_EC</text>
<text x="607" y="1253.5" class="vt">CNTN2</text>
<path d="M546.8 1384.1l-0.2-1.4l-0.6-1.4l-1-1.4l-4.9-5.5l-1.9-2.8l-1.1-2.8l-0.4-2.8l0-13.9l0.4-4.2l0.5-2.7l1.2-4.2l1.1-2.8l4.8-9.7l1.2-2.8l0.7-2.8l0.3-2.8l-0.4-4.2l-3.2-11.1l-2.2-12.5l-3.5-12.5l-1-7l-0.6 0l-1 7l-3.5 12.5l-2.2 12.5l-3.2 11.1l-0.4 4.2l0.3 2.8l0.8 2.8l1.1 2.8l4.8 9.7l1.1 2.8l1.2 4.2l0.5 2.7l0.4 4.2l0 13.9l-0.4 2.8l-1.1 2.8l-1.8 2.8l-5 5.5l-0.9 1.4l-0.7 1.4l-0.2 1.4z" fill="#F8766D" class="vp"/>
<path d="M549.3 1384.1h21.2M559.9 1384.1V1310.9M572.9 1384.1h21.2M583.5 1384.1V1302.7M596.4 1384.1h21.2M607 1384.1V1302.7M620 1384.1h21.2M630.6 1384.1V1300M643.6 1384.1h21.2M654.2 1384.1V1320.4M667.1 1384.1h21.2" class="vl"/>
<path d="M522.2 1267.3V1390.5M521.4 1389.7H691.9M517.5 1384.1h4.7M517.5 1357h4.7M517.5 1329.9h4.7M517.5 1302.7h4.7M517.5 1275.6h4.7M536.3 1389.7v4.8M559.9 1389.7v4.8M583.5 1389.7v4.8M607 1389.7v4.8M630.6 1389.7v4.8M654.2 1389.7v4.8M677.7 1389.7v4.8" class="ax"/>
<text x="511.7" y="1389.9" class="vy">0</text>
<text x="511.7" y="1362.8" class="vy">1</text>
<text x="511.7" y="1335.7" class="vy">2</text>
<text x="511.7" y="1308.5" class="vy">3</text>
<text x="511.7" y="1281.4" class="vy">4</text>
<text transform="translate(493.8 1328.5) rotate(-90)" class="ve">Expression Level</text>
<text transform="translate(550.3 1408.2) rotate(-64.5)" class="vx">Oligodendrocyte</text>
<text transform="translate(573.9 1408.2) rotate(-64.5)" class="vx">Astrocyte</text>
<text transform="translate(597.5 1408.2) rotate(-64.5)" class="vx">Exc_Neuron</text>
<text transform="translate(621 1408.2) rotate(-64.5)" class="vx">Inh_Neuron</text>
<text transform="translate(644.6 1408.2) rotate(-64.5)" class="vx">OPC</text>
<text transform="translate(668.2 1408.2) rotate(-64.5)" class="vx">Microglia</text>
<text transform="translate(691.7 1408.2) rotate(-64.5)" class="vx">Cap_EC</text>
<text x="836.8" y="1253.5" class="vt">LGI3</text>
<path d="M776.7 1384.1l-0.3-1.4l-0.7-1.3l-1.2-1.4l-4.1-4.1l-2.2-2.8l-0.7-1.3l-0.9-2.8l-0.1-1.4l0-35.6l0.9-4.1l2.5-6.9l0.3-2.7l-0.5-2.8l-2.1-5.5l-1-4.1l-0.2-31.5l-0.6 0l-0.2 31.5l-1.1 4.1l-2.1 5.5l-0.4 2.8l0.3 2.7l2.5 6.9l0.9 4.1l0 35.6l-0.1 1.4l-0.9 2.8l-0.7 1.3l-2.2 2.8l-4.2 4.1l-1.1 1.4l-0.7 1.3l-0.3 1.4z" fill="#F8766D" class="vp"/>
<path d="M823.8 1384.1l-1.5-1.2l-6.4-2.3l-1.8-1.2l-0.5-1.2l-0.1-88.6l-0.6 0l-0.1 88.6l-0.5 1.2l-1.8 1.2l-6.4 2.3l-1.5 1.2z" fill="#5CBE28" class="vp"/>
<path d="M779 1384.1h21.2M789.6 1384.1V1311M826.2 1384.1h21.2M836.8 1384.1V1290.2M849.7 1384.1h21.2M860.3 1384.1V1292.7M873.3 1384.1h21.2M883.9 1384.1V1312.5M896.9 1384.1h21.2" class="vl"/>
<path d="M751.9 1267.3V1390.5M751.1 1389.7H921.6M747.2 1384.1h4.7M747.2 1353.7h4.7M747.2 1323.2h4.7M747.2 1292.7h4.7M766.1 1389.7v4.8M789.6 1389.7v4.8M813.2 1389.7v4.8M836.8 1389.7v4.8M860.3 1389.7v4.8M883.9 1389.7v4.8M907.5 1389.7v4.8" class="ax"/>
<text x="741.4" y="1389.9" class="vy">0</text>
<text x="741.4" y="1359.5" class="vy">1</text>
<text x="741.4" y="1329" class="vy">2</text>
<text x="741.4" y="1298.5" class="vy">3</text>
<text transform="translate(723.5 1328.5) rotate(-90)" class="ve">Expression Level</text>
<text transform="translate(780.1 1408.2) rotate(-64.5)" class="vx">Oligodendrocyte</text>
<text transform="translate(803.6 1408.2) rotate(-64.5)" class="vx">Astrocyte</text>
<text transform="translate(827.2 1408.2) rotate(-64.5)" class="vx">Exc_Neuron</text>
<text transform="translate(850.8 1408.2) rotate(-64.5)" class="vx">Inh_Neuron</text>
<text transform="translate(874.3 1408.2) rotate(-64.5)" class="vx">OPC</text>
<text transform="translate(897.9 1408.2) rotate(-64.5)" class="vx">Microglia</text>
<text transform="translate(921.5 1408.2) rotate(-64.5)" class="vx">Cap_EC</text>
<text x="1066.5" y="1253.5" class="vt">APP</text>
<path d="M1006.2 1384.1l-0.2-1.4l-0.7-1.4l-0.9-1.3l-3.8-4.2l-2.2-2.7l-1.4-2.8l-0.7-2.8l-0.1-16.5l0.8-5.6l1-4.1l0.9-2.8l1.8-4.1l3.5-6.9l1.1-2.8l1-4.1l0.1-2.8l-0.4-4.1l-3.9-16.6l-4.7-15.2l-0.8-4.1l-0.5-4.1l-0.6 0l-0.4 4.1l-0.9 4.1l-4.6 15.2l-3.9 16.6l-0.5 4.1l0.2 2.8l1 4.1l1.1 2.8l3.4 6.9l1.8 4.1l1 2.8l1 4.1l0.7 5.6l0 16.5l-0.8 2.8l-1.4 2.8l-2.1 2.7l-3.8 4.2l-1 1.3l-0.6 1.4l-0.2 1.4z" fill="#F8766D" class="vp"/>
<path d="M1053.5 1384.1l-0.5-1.3l-1.4-1.3l-3.9-2.6l-1.8-1.4l-1.2-1.3l-0.8-1.3l-0.5-1.3l-0.1-1.3l0.1-7.9l0.4-3.9l0.8-3.9l2-6.6l4-9.2l1.5-3.9l0.9-3.9l0.2-2.7l-0.2-2.6l-0.9-3.9l-1.5-4l-4.4-10.5l-1.9-6.5l-0.6-3.9l-0.4-4l-0.1-15.7l-0.6 0l-0.1 15.7l-0.4 4l-0.6 3.9l-1.9 6.5l-4.4 10.5l-1.5 4l-0.9 3.9l-0.2 2.6l0.2 2.7l0.9 3.9l1.5 3.9l4 9.2l2 6.6l0.8 3.9l0.4 3.9l0.1 7.9l-0.1 1.3l-0.5 1.3l-0.8 1.3l-1.3 1.3l-1.7 1.4l-3.9 2.6l-1.4 1.3l-0.5 1.3z" fill="#5CBE28" class="vp"/>
<path d="M1076.1 1384.1l-0.3-1.3l-0.7-1.3l-4.9-5.1l-1.9-2.5l-0.6-1.3l-0.7-2.5l0-9l0.6-5.1l0.7-3.8l2.1-6.4l4-8.9l1.5-3.9l1-3.8l0.3-2.6l-0.3-3.8l-1.1-3.8l-5.5-12.8l-2-6.4l-0.8-3.8l-0.5-5.1l-0.2-9l-0.6 0l-0.1 9l-0.5 5.1l-0.8 3.8l-2 6.4l-5.5 12.8l-1.1 3.8l-0.3 3.8l0.3 2.6l1 3.8l1.5 3.9l4 8.9l2.1 6.4l0.7 3.8l0.6 5.1l0 9l-0.7 2.5l-0.6 1.3l-1.9 2.5l-4.9 5.1l-0.8 1.3l-0.2 1.3z" fill="#54DCA9" class="vp"/>
<path d="M1100.7 1384.1l-0.1-1.2l-0.9-2.3l-1.7-2.4l-3.7-4.7l-2.2-3.5l-0.9-2.3l-0.7-3.5l0-14.1l0.6-4.7l1.5-5.9l4.6-11.7l0.8-3.5l0.3-3.6l-0.4-5.8l-1.4-8.2l-1.1-4.7l-3.7-11.8l-3.2 0l-3.7 11.8l-1.2 4.7l-1.3 8.2l-0.4 5.8l0.3 3.6l0.8 3.5l4.5 11.7l1.6 5.9l0.6 4.7l0 14.1l-0.7 3.5l-0.9 2.3l-2.2 3.5l-3.8 4.7l-1.6 2.4l-0.9 2.3l-0.1 1.2z" fill="#5DCDF4" class="vp"/>
<path d="M1142.4 1384.1l-0.2-10.2l-1.1-17.3l0.1-7.1l0.4-3.1l0.6-3l1.2-4.1l3.3-9.2l0.8-3l0.3-3.1l-0.1-3l-0.4-3.1l-2.1-11.2l-1.1-4.1l-13.8 0l-1.1 4.1l-2.1 11.2l-0.4 3.1l-0.1 3l0.3 3.1l0.8 3l3.3 9.2l1.2 4.1l0.6 3l0.4 3.1l0.1 7.1l-1.1 17.3l-0.2 10.2z" fill="#FB61D6" class="vp"/>
<path d="M1008.8 1384.1h21.2M1019.4 1384.1V1290.3M1103 1384.1h21.2M1113.6 1384.1V1282" class="vl"/>
<path d="M981.7 1267.3V1390.5M980.9 1389.7H1151.4M977 1384.1h4.7M977 1356.5h4.7M977 1328.9h4.7M977 1301.3h4.7M977 1273.7h4.7M995.8 1389.7v4.8M1019.4 1389.7v4.8M1042.9 1389.7v4.8M1066.5 1389.7v4.8M1090.1 1389.7v4.8M1113.6 1389.7v4.8M1137.2 1389.7v4.8" class="ax"/>
<text x="971.2" y="1389.9" class="vy">0</text>
<text x="971.2" y="1362.3" class="vy">1</text>
<text x="971.2" y="1334.7" class="vy">2</text>
<text x="971.2" y="1307.1" class="vy">3</text>
<text x="971.2" y="1279.5" class="vy">4</text>
<text transform="translate(953.3 1328.5) rotate(-90)" class="ve">Expression Level</text>
<text transform="translate(1009.8 1408.2) rotate(-64.5)" class="vx">Oligodendrocyte</text>
<text transform="translate(1033.4 1408.2) rotate(-64.5)" class="vx">Astrocyte</text>
<text transform="translate(1056.9 1408.2) rotate(-64.5)" class="vx">Exc_Neuron</text>
<text transform="translate(1080.5 1408.2) rotate(-64.5)" class="vx">Inh_Neuron</text>
<text transform="translate(1104.1 1408.2) rotate(-64.5)" class="vx">OPC</text>
<text transform="translate(1127.6 1408.2) rotate(-64.5)" class="vx">Microglia</text>
<text transform="translate(1151.2 1408.2) rotate(-64.5)" class="vx">Cap_EC</text>
<text x="1296.2" y="1253.5" class="vt">NRXN3</text>
<path d="M1234.7 1384.1l-0.7-1.4l-6-4.1l-1.2-1.3l-0.8-1.4l-0.1-1.3l0.1-25.9l0.8-2.8l0.7-1.3l2.1-2.7l3.9-4.1l1-1.4l0.5-1.4l0.1-1.3l-0.4-1.4l-3.1-5.4l-0.3-1.4l-0.1-1.4l0.2-1.3l0.5-1.4l3.6-6.8l0.6-2.7l0.1-1.4l-0.2-1.4l-1-2.7l-6-9.5l-1.3-2.7l-0.9-2.8l-0.6-2.7l-0.3-2.7l0-10.9l-0.6 0l-0.1 10.9l-0.3 2.7l-0.6 2.7l-0.9 2.8l-1.3 2.7l-6 9.5l-0.9 2.7l-0.2 1.4l0 1.4l0.7 2.7l3.5 6.8l0.5 1.4l0.2 1.3l0 1.4l-0.4 1.4l-3.1 5.4l-0.3 1.4l0 1.3l0.6 1.4l0.9 1.4l3.9 4.1l2.2 2.7l0.7 1.3l0.8 2.8l0 25.9l-0.1 1.3l-0.7 1.4l-1.3 1.3l-6 4.1l-0.7 1.4z" fill="#F8766D" class="vp"/>
<path d="M1259.7 1384.1l-0.4-1.9l-1-1.9l-4.7-5.6l-2-2.8l-1.3-2.9l-0.7-2.8l-0.1-12.2l0.2-1.9l1-4.7l2.6-8.5l0.5-2.8l0.1-1.9l-0.6-3.8l-2.6-8.4l-0.9-3.8l-0.3-2.8l-0.1-6.6l-0.6 0l-0.1 6.6l-0.4 2.8l-0.8 3.8l-2.6 8.4l-0.6 3.8l0.1 1.9l0.5 2.8l2.6 8.5l1 4.7l0.2 1.9l-0.1 12.2l-0.7 2.8l-1.3 2.9l-2 2.8l-4.8 5.6l-1 1.9l-0.3 1.9z" fill="#C4A029" class="vp"/>
<path d="M1275.2 1384.1l-0.6-1.3l-1-1.3l-0.6-1.2l0-46.1l0.7-3.8l1.2-3.8l2-3.9l4.9-7.6l1.1-2.6l0.4-2.6l-0.4-2.5l-1.1-2.6l-5.6-8.9l-1.8-3.9l-0.7-2.5l-0.5-2.6l-0.2-5.1l-0.6 0l-0.3 5.1l-0.5 2.6l-0.7 2.5l-1.8 3.9l-5.6 8.9l-1.1 2.6l-0.4 2.5l0.4 2.6l1.1 2.6l4.9 7.6l2 3.9l1.2 3.8l0.7 3.8l0 46.1l-0.6 1.2l-1 1.3l-0.6 1.3z" fill="#5CBE28" class="vp"/>
<path d="M1296.6 1384.1l0-58.6l0.1-1.4l0.9-4.1l1-2.7l2.2-4.1l4.4-6.8l1.2-2.7l0.4-2.7l-0.1-1.4l-0.8-2.7l-1.5-2.7l-4.4-6.9l-1.9-4l-1.1-4.1l-0.5-4.1l-0.6 0l-0.4 4.1l-1.1 4.1l-1.9 4l-4.5 6.9l-1.4 2.7l-0.9 2.7l-0.1 1.4l0.5 2.7l1.2 2.7l4.4 6.8l2.2 4.1l1 2.7l0.8 4.1l0.2 1.4l0 58.6z" fill="#54DCA9" class="vp"/>
<path d="M1330.4 1384.1l-0.4-1.8l-1-1.9l-5-5.4l-1.9-2.8l-1.3-2.7l-0.6-2.8l0-9.1l0.7-4.5l1.2-4.6l3.8-10.1l0.6-2.7l0.2-1.8l-0.1-1.9l-0.5-2.7l-0.9-2.7l-3.5-9.2l-0.7-2.7l-0.6-3.7l-1.2 0l-0.6 3.7l-0.8 2.7l-3.4 9.2l-0.9 2.7l-0.5 2.7l-0.1 1.9l0.2 1.8l0.6 2.7l3.8 10.1l1.2 4.6l0.7 4.5l0 9.1l-0.6 2.8l-1.3 2.7l-1.9 2.8l-5 5.4l-1 1.9l-0.4 1.8z" fill="#5DCDF4" class="vp"/>
<path d="M1354 1384.1l-0.3-1.7l-0.8-1.8l-1.2-1.7l-4.4-5.3l-1.7-2.6l-1.1-2.6l-0.7-3.5l0-14.8l0.2-1.7l1-5.2l2.4-8.8l0.4-3.4l-0.5-12.2l-0.3-1.8l-0.8-2.6l-5.6 0l-0.9 2.6l-0.2 1.8l-0.6 12.2l0.5 3.4l2.4 8.8l1 5.2l0.2 1.7l0 14.8l-0.7 3.5l-1.2 2.6l-1.6 2.6l-4.4 5.3l-1.2 1.7l-0.8 1.8l-0.3 1.7z" fill="#A78AFF" class="vp"/>
<path d="M1356.4 1384.1h21.2M1367 1384.1V1317.8m-1.8 0h3.6" class="vl"/>
<path d="M1211.4 1267.3V1390.5M1210.6 1389.7H1381.1M1206.7 1384.1h4.7M1206.7 1361.7h4.7M1206.7 1339.2h4.7M1206.7 1316.7h4.7M1206.7 1294.2h4.7M1206.7 1271.7h4.7M1225.5 1389.7v4.8M1249.1 1389.7v4.8M1272.7 1389.7v4.8M1296.2 1389.7v4.8M1319.8 1389.7v4.8M1343.4 1389.7v4.8M1367 1389.7v4.8" class="ax"/>
<text x="1200.9" y="1389.9" class="vy">0</text>
<text x="1200.9" y="1367.5" class="vy">1</text>
<text x="1200.9" y="1345" class="vy">2</text>
<text x="1200.9" y="1322.5" class="vy">3</text>
<text x="1200.9" y="1300" class="vy">4</text>
<text x="1200.9" y="1277.5" class="vy">5</text>
<text transform="translate(1183 1328.5) rotate(-90)" class="ve">Expression Level</text>
<text transform="translate(1239.5 1408.2) rotate(-64.5)" class="vx">Oligodendrocyte</text>
<text transform="translate(1263.1 1408.2) rotate(-64.5)" class="vx">Astrocyte</text>
<text transform="translate(1286.7 1408.2) rotate(-64.5)" class="vx">Exc_Neuron</text>
<text transform="translate(1310.2 1408.2) rotate(-64.5)" class="vx">Inh_Neuron</text>
<text transform="translate(1333.8 1408.2) rotate(-64.5)" class="vx">OPC</text>
<text transform="translate(1357.4 1408.2) rotate(-64.5)" class="vx">Microglia</text>
<text transform="translate(1381 1408.2) rotate(-64.5)" class="vx">Cap_EC</text>
<text x="1526" y="1253.5" class="vt">PDE1A</text>
<path d="M1465.6 1384.1l-0.2-1.4l-0.6-1.4l-0.9-1.4l-4.9-5.5l-1.8-2.8l-1-2.8l-0.5-2.8l0-15.3l0.2-2.8l0.6-4.1l1-4.2l1-2.8l5.1-11.1l1.1-2.8l1-4.2l0.2-2.8l-0.4-4.1l-2.7-11.2l-2.1-12.5l-3.9-15.3l-3 0l-3.9 15.3l-2.1 12.5l-2.7 11.2l-0.4 4.1l0.2 2.8l1 4.2l1.2 2.8l5 11.1l1 2.8l1 4.2l0.6 4.1l0.2 2.8l0 15.3l-0.5 2.8l-1 2.8l-1.8 2.8l-4.9 5.5l-0.9 1.4l-0.6 1.4l-0.2 1.4z" fill="#F8766D" class="vp"/>
<path d="M1513 1384.1l-0.4-1.3l-1.2-1.3l-5.1-3.8l-1.3-1.3l-1.1-1.3l-0.6-1.3l-0.5-1.3l0-12.8l0.3-3.8l1-6.5l3.1-12.8l0.6-3.9l0.1-2.5l-0.1-2.6l-0.5-3.8l-3.1-12.9l-1.2-7.7l-0.2-3.8l-0.1-18l-0.6 0l-0.1 18l-0.2 3.8l-1.3 7.7l-3 12.9l-0.5 3.8l-0.1 2.6l0.1 2.5l0.6 3.9l3.1 12.8l1 6.5l0.3 3.8l-0.1 12.8l-0.4 1.3l-0.6 1.3l-1.1 1.3l-1.4 1.3l-5.1 3.8l-1.1 1.3l-0.4 1.3z" fill="#5CBE28" class="vp"/>
<path d="M1468.2 1384.1h21.2M1478.9 1384.1V1297.1M1515.4 1384.1h21.2M1526 1384.1V1295.7M1539 1384.1h21.2M1549.6 1384.1V1314.2M1562.5 1384.1h21.2M1573.1 1384.1V1285.7M1586.1 1384.1h21.2M1596.7 1384.1V1328.5" class="vl"/>
<path d="M1441.1 1267.3V1390.5M1440.3 1389.7H1610.8M1436.4 1384.1h4.7M1436.4 1355.6h4.7M1436.4 1327.1h4.7M1436.4 1298.5h4.7M1436.4 1270h4.7M1455.3 1389.7v4.8M1478.9 1389.7v4.8M1502.4 1389.7v4.8M1526 1389.7v4.8M1549.6 1389.7v4.8M1573.1 1389.7v4.8M1596.7 1389.7v4.8" class="ax"/>
<text x="1430.6" y="1389.9" class="vy">0</text>
<text x="1430.6" y="1361.4" class="vy">1</text>
<text x="1430.6" y="1332.9" class="vy">2</text>
<text x="1430.6" y="1304.3" class="vy">3</text>
<text x="1430.6" y="1275.8" class="vy">4</text>
<text transform="translate(1412.7 1328.5) rotate(-90)" class="ve">Expression Level</text>
<text transform="translate(1469.3 1408.2) rotate(-64.5)" class="vx">Oligodendrocyte</text>
<text transform="translate(1492.9 1408.2) rotate(-64.5)" class="vx">Astrocyte</text>
<text transform="translate(1516.4 1408.2) rotate(-64.5)" class="vx">Exc_Neuron</text>
<text transform="translate(1540 1408.2) rotate(-64.5)" class="vx">Inh_Neuron</text>
<text transform="translate(1563.6 1408.2) rotate(-64.5)" class="vx">OPC</text>
<text transform="translate(1587.1 1408.2) rotate(-64.5)" class="vx">Microglia</text>
<text transform="translate(1610.7 1408.2) rotate(-64.5)" class="vx">Cap_EC</text>
<text x="1755.7" y="1253.5" class="vt">GRM3</text>
<path d="M1695.6 1384.1l-0.4-2.7l-1.2-2.6l-4.3-6.6l-2.2-4l-1.4-4l-0.7-4l0-21.2l0.2-2.6l1.1-6.6l3.6-12l0.5-2.6l0.1-2.7l-0.4-3.9l-2.6-9.3l-0.8-4l-0.1-2.6l0.4-6.7l-0.4-3.9l-0.5-2.7l-1.2-1.3l-0.6 0l-1.2 1.3l-0.5 2.7l-0.4 3.9l0.4 6.7l-0.1 2.6l-0.8 4l-2.6 9.3l-0.4 3.9l0.1 2.7l0.5 2.6l3.5 12l1.2 6.6l0.2 2.6l0 21.2l-0.7 4l-1.4 4l-2.2 4l-4.3 6.6l-1.2 2.6l-0.4 2.7z" fill="#F8766D" class="vp"/>
<path d="M1719.2 1384.1l-0.3-2.8l-0.9-2.7l-1.4-2.8l-3.8-6.9l-1.8-4.2l-1.2-4.1l-0.7-4.2l-0.1-11l0.3-5.6l0.9-6.9l2.5-13.8l0.4-4.2l0-2.7l-0.6-6.9l-2.3-12.5l-0.8-5.5l-0.4-5.6l-0.1-8.3l-0.6 0l-0.1 8.3l-0.5 5.6l-0.7 5.5l-2.3 12.5l-0.7 6.9l0.1 2.7l0.4 4.2l2.5 13.8l0.9 6.9l0.3 5.6l-0.1 11l-0.7 4.2l-1.2 4.1l-1.8 4.2l-3.8 6.9l-1.4 2.8l-0.9 2.7l-0.3 2.8z" fill="#C4A029" class="vp"/>
<path d="M1742.8 1384.1l-0.5-1.2l-1.2-1.2l-5.5-3.6l-1.3-1.3l-0.9-1.2l-0.6-1.2l-0.2-1.2l0.1-36.2l-0.2-49.6l-0.6 0l-0.2 49.6l0.1 36.2l-0.2 1.2l-0.6 1.2l-0.9 1.2l-1.4 1.3l-5.4 3.6l-1.2 1.2l-0.5 1.2z" fill="#5CBE28" class="vp"/>
<path d="M1837 1384.1l-0.2-5.2l-0.7-5.2l-1.2-6.5l-4.2-18.1l-1-6.5l-0.6-6.5l-0.2-6.5l0.2-6.5l1.9-28.6l0.2-7.7l-0.2-6.5l-9.2 0l-0.2 6.5l0.1 7.7l2 28.6l0.2 6.5l-0.2 6.5l-0.6 6.5l-1 6.5l-4.2 18.1l-1.3 6.5l-0.6 5.2l-0.2 5.2z" fill="#FB61D6" class="vp"/>
<path d="M1745.1 1384.1h21.2M1755.7 1384.1V1310.4M1768.7 1384.1h21.2M1779.3 1384.1V1315.9M1792.3 1384.1h21.2" class="vl"/>
<path d="M1670.9 1267.3V1390.5M1670.1 1389.7H1840.6M1666.2 1384.1h4.7M1666.2 1353.1h4.7M1666.2 1322.1h4.7M1666.2 1291.2h4.7M1685 1389.7v4.8M1708.6 1389.7v4.8M1732.2 1389.7v4.8M1755.7 1389.7v4.8M1779.3 1389.7v4.8M1802.9 1389.7v4.8M1826.4 1389.7v4.8" class="ax"/>
<text x="1660.4" y="1389.9" class="vy">0</text>
<text x="1660.4" y="1358.9" class="vy">1</text>
<text x="1660.4" y="1327.9" class="vy">2</text>
<text x="1660.4" y="1297" class="vy">3</text>
<text transform="translate(1642.5 1328.5) rotate(-90)" class="ve">Expression Level</text>
<text transform="translate(1699 1408.2) rotate(-64.5)" class="vx">Oligodendrocyte</text>
<text transform="translate(1722.6 1408.2) rotate(-64.5)" class="vx">Astrocyte</text>
<text transform="translate(1746.2 1408.2) rotate(-64.5)" class="vx">Exc_Neuron</text>
<text transform="translate(1769.7 1408.2) rotate(-64.5)" class="vx">Inh_Neuron</text>
<text transform="translate(1793.3 1408.2) rotate(-64.5)" class="vx">OPC</text>
<text transform="translate(1816.9 1408.2) rotate(-64.5)" class="vx">Microglia</text>
<text transform="translate(1840.4 1408.2) rotate(-64.5)" class="vx">Cap_EC</text>
<text x="1985.5" y="1253.5" class="vt">NRXN3</text>
<path d="M1923.9 1384.1l-0.7-1.4l-6-4.1l-1.2-1.3l-0.8-1.4l-0.1-1.3l0.1-25.9l0.8-2.8l0.7-1.3l2.1-2.7l3.9-4.1l1-1.4l0.5-1.4l0.1-1.3l-0.4-1.4l-3.1-5.4l-0.3-1.4l-0.1-1.4l0.2-1.3l0.5-1.4l3.6-6.8l0.6-2.7l0.1-1.4l-0.2-1.4l-1-2.7l-6-9.5l-1.3-2.7l-0.9-2.8l-0.6-2.7l-0.3-2.7l0-10.9l-0.6 0l-0.1 10.9l-0.3 2.7l-0.6 2.7l-0.9 2.8l-1.3 2.7l-6 9.5l-0.9 2.7l-0.2 1.4l0 1.4l0.7 2.7l3.5 6.8l0.5 1.4l0.2 1.3l0 1.4l-0.4 1.4l-3.1 5.4l-0.3 1.4l0 1.3l0.6 1.4l0.9 1.4l3.9 4.1l2.2 2.7l0.7 1.3l0.8 2.8l0 25.9l-0.1 1.3l-0.7 1.4l-1.3 1.3l-6 4.1l-0.7 1.4z" fill="#F8766D" class="vp"/>
<path d="M1948.9 1384.1l-0.4-1.9l-1-1.9l-4.7-5.6l-2-2.8l-1.3-2.9l-0.7-2.8l-0.1-12.2l0.2-1.9l1-4.7l2.6-8.5l0.5-2.8l0.1-1.9l-0.6-3.8l-2.6-8.4l-0.9-3.8l-0.3-2.8l-0.1-6.6l-0.6 0l-0.1 6.6l-0.4 2.8l-0.8 3.8l-2.6 8.4l-0.6 3.8l0.1 1.9l0.5 2.8l2.6 8.5l1 4.7l0.2 1.9l-0.1 12.2l-0.7 2.8l-1.3 2.9l-2 2.8l-4.8 5.6l-1 1.9l-0.3 1.9z" fill="#C4A029" class="vp"/>
<path d="M1964.4 1384.1l-0.6-1.3l-1-1.3l-0.6-1.2l0-46.1l0.7-3.8l1.2-3.8l2-3.9l4.9-7.6l1.1-2.6l0.4-2.6l-0.4-2.5l-1.1-2.6l-5.6-8.9l-1.8-3.9l-0.7-2.5l-0.5-2.6l-0.2-5.1l-0.6 0l-0.3 5.1l-0.5 2.6l-0.7 2.5l-1.8 3.9l-5.6 8.9l-1.1 2.6l-0.4 2.5l0.4 2.6l1.1 2.6l4.9 7.6l2 3.9l1.2 3.8l0.7 3.8l0 46.1l-0.6 1.2l-1 1.3l-0.6 1.3z" fill="#5CBE28" class="vp"/>
<path d="M1985.8 1384.1l0-58.6l0.1-1.4l0.9-4.1l1-2.7l2.2-4.1l4.4-6.8l1.2-2.7l0.4-2.7l-0.1-1.4l-0.8-2.7l-1.5-2.7l-4.4-6.9l-1.9-4l-1.1-4.1l-0.5-4.1l-0.6 0l-0.4 4.1l-1.1 4.1l-1.9 4l-4.5 6.9l-1.4 2.7l-0.9 2.7l-0.1 1.4l0.5 2.7l1.2 2.7l4.4 6.8l2.2 4.1l1 2.7l0.8 4.1l0.2 1.4l0 58.6z" fill="#54DCA9" class="vp"/>
<path d="M2019.6 1384.1l-0.4-1.8l-1-1.9l-5-5.4l-1.9-2.8l-1.3-2.7l-0.6-2.8l0-9.1l0.7-4.5l1.2-4.6l3.8-10.1l0.6-2.7l0.2-1.8l-0.1-1.9l-0.5-2.7l-0.9-2.7l-3.5-9.2l-0.7-2.7l-0.6-3.7l-1.2 0l-0.6 3.7l-0.8 2.7l-3.4 9.2l-0.9 2.7l-0.5 2.7l-0.1 1.9l0.2 1.8l0.6 2.7l3.8 10.1l1.2 4.6l0.7 4.5l0 9.1l-0.6 2.8l-1.3 2.7l-1.9 2.8l-5 5.4l-1 1.9l-0.4 1.8z" fill="#5DCDF4" class="vp"/>
<path d="M2043.2 1384.1l-0.3-1.7l-0.8-1.8l-1.2-1.7l-4.4-5.3l-1.7-2.6l-1.1-2.6l-0.7-3.5l0-14.8l0.2-1.7l1-5.2l2.4-8.8l0.4-3.4l-0.5-12.2l-0.3-1.8l-0.8-2.6l-5.6 0l-0.9 2.6l-0.2 1.8l-0.6 12.2l0.5 3.4l2.4 8.8l1 5.2l0.2 1.7l0 14.8l-0.7 3.5l-1.2 2.6l-1.6 2.6l-4.4 5.3l-1.2 1.7l-0.8 1.8l-0.3 1.7z" fill="#A78AFF" class="vp"/>
<path d="M2045.6 1384.1h21.2M2056.2 1384.1V1317.8m-1.8 0h3.6" class="vl"/>
<path d="M1900.6 1267.3V1390.5M1899.8 1389.7H2070.3M1895.9 1384.1h4.7M1895.9 1361.7h4.7M1895.9 1339.2h4.7M1895.9 1316.7h4.7M1895.9 1294.2h4.7M1895.9 1271.7h4.7M1914.8 1389.7v4.8M1938.3 1389.7v4.8M1961.9 1389.7v4.8M1985.5 1389.7v4.8M2009 1389.7v4.8M2032.6 1389.7v4.8M2056.2 1389.7v4.8" class="ax"/>
<text x="1890.1" y="1389.9" class="vy">0</text>
<text x="1890.1" y="1367.5" class="vy">1</text>
<text x="1890.1" y="1345" class="vy">2</text>
<text x="1890.1" y="1322.5" class="vy">3</text>
<text x="1890.1" y="1300" class="vy">4</text>
<text x="1890.1" y="1277.5" class="vy">5</text>
<text transform="translate(1872.2 1328.5) rotate(-90)" class="ve">Expression Level</text>
<text transform="translate(1928.8 1408.2) rotate(-64.5)" class="vx">Oligodendrocyte</text>
<text transform="translate(1952.3 1408.2) rotate(-64.5)" class="vx">Astrocyte</text>
<text transform="translate(1975.9 1408.2) rotate(-64.5)" class="vx">Exc_Neuron</text>
<text transform="translate(1999.5 1408.2) rotate(-64.5)" class="vx">Inh_Neuron</text>
<text transform="translate(2023 1408.2) rotate(-64.5)" class="vx">OPC</text>
<text transform="translate(2046.6 1408.2) rotate(-64.5)" class="vx">Microglia</text>
<text transform="translate(2070.2 1408.2) rotate(-64.5)" class="vx">Cap_EC</text>
<text x="147.6" y="1609.7" class="vt">LINGO1</text>
<path d="M77.2 1740.4l0-42.8l0.4-2.6l2-5.2l0.5-2.6l-0.5-2.6l-1.2-3.9l-0.3-2.6l0.1-1.2l0.7-2.6l1.1-2.6l5.1-7.8l1.4-2.6l0.8-2.6l0.1-1.3l-0.1-1.3l-0.8-2.6l-1.4-2.6l-5.1-7.8l-1.2-2.6l-0.8-2.6l-0.9-1.3l-0.6 0l-0.8 1.3l-0.9 2.6l-1.2 2.6l-5.1 7.8l-1.4 2.6l-0.8 2.6l-0.1 1.3l0.1 1.3l0.8 2.6l1.4 2.6l5.1 7.8l1.2 2.6l0.6 2.6l0.2 1.2l-0.3 2.6l-1.3 3.9l-0.4 2.6l0.4 2.6l2 5.2l0.5 2.6l0 42.8z" fill="#F8766D" class="vp"/>
<path d="M100.8 1740.4l0-45.9l0.7-2.6l1.6-4l0.5-2.6l-0.3-2.6l-1.8-5.2l-0.2-1.4l0.1-2.6l0.6-2.6l1.7-3.9l5.1-7.9l1.4-2.6l0.8-2.6l0-1.4l-0.5-2.6l-1.2-2.6l-4.4-6.6l-2.1-3.9l-2.1-1.3l-0.6 0l-2 1.3l-2.2 3.9l-4.4 6.6l-1.2 2.6l-0.5 2.6l0.1 1.4l0.7 2.6l1.4 2.6l5.2 7.9l1.7 3.9l0.5 2.6l0.1 2.6l-0.2 1.4l-1.7 5.2l-0.4 2.6l0.6 2.6l1.6 4l0.6 2.6l0.1 45.9z" fill="#C4A029" class="vp"/>
<path d="M124.4 1740.4l0.1-64.3l0.8-4.1l1-2.8l1.5-2.7l5.6-8.2l1.1-2.8l0.1-1.3l-0.1-1.4l-0.9-2.8l-1.6-2.7l-3.9-5.5l-2.2-4.1l-0.8-2.7l-0.8-4.1l-0.6 0l-0.7 4.1l-0.9 2.7l-2.2 4.1l-3.8 5.5l-1.7 2.7l-0.9 2.8l-0.1 1.4l0.2 1.3l1 2.8l5.6 8.2l1.5 2.7l1 2.8l0.9 4.1l0.1 64.3z" fill="#5CBE28" class="vp"/>
<path d="M147.9 1740.4l0-58.9l0.1-1.3l0.9-4.1l1-2.8l1.5-2.7l5.3-8.2l1.1-2.8l0.3-2.7l-0.2-1.4l-1-2.7l-5.3-8.2l-2.1-4.1l-1.2-4.1l-0.4-2.8l-0.1-2.7l-0.6 0l-0.1 2.7l-0.4 2.8l-1.1 4.1l-2.1 4.1l-5.3 8.2l-1.1 2.7l-0.2 1.4l0.3 2.7l1.1 2.8l5.4 8.2l1.4 2.7l1.1 2.8l0.8 4.1l0.2 1.3l0 58.9z" fill="#54DCA9" class="vp"/>
<path d="M171.5 1740.4l0-53.9l0.1-1.2l0.7-3.9l1.2-3.8l1.9-3.9l3.8-6.4l1.4-2.6l0.8-2.5l0.3-2.6l-0.3-2.6l-0.9-2.5l-5.9-10.3l-1.1-2.6l-0.9-2.5l-1.2-1.3l-0.6 0l-1.1 1.3l-0.9 2.5l-1.2 2.6l-5.8 10.3l-0.9 2.5l-0.4 2.6l0.3 2.6l0.9 2.5l1.3 2.6l3.9 6.4l1.8 3.9l1.2 3.8l0.7 3.9l0.2 1.2l0 53.9z" fill="#5DCDF4" class="vp"/>
<path d="M195.1 1740.4l0-32.6l0.3-3.8l1.3-6.2l2.9-8.8l1-3.8l1.7-12.5l2.4-8.8l0.6-3.7l-0.1-2.5l-1.1-3.8l-1.3-2.5l-4.3-7.5l-1.7-3.8l-4.2 0l-1.6 3.8l-4.4 7.5l-1.2 2.5l-1.1 3.8l-0.2 2.5l0.6 3.7l2.5 8.8l1.7 12.5l1 3.8l2.9 8.8l1.2 6.2l0.4 3.8l0 32.6z" fill="#A78AFF" class="vp"/>
<path d="M224.4 1686.7l1.3-6.2l2.6-6.8l0.5-2.6l0-1.5l-0.4-1.6l-2.5-5.7l-0.8-3.1l-0.1-3.1l0.5-7.3l-0.2-3.6l-14.1 0l-0.2 3.6l0.5 7.3l-0.1 3.1l-0.9 3.1l-2.4 5.7l-0.4 1.6l-0.1 1.5l0.5 2.6l2.7 6.8l1.3 6.2z" fill="#FB61D6" class="vp"/>
<path d="M62.7 1623.5V1746.8M61.9 1746H232.4M58 1740.4h4.7M58 1717.4h4.7M58 1694.3h4.7M58 1671.3h4.7M58 1648.2h4.7M58 1625.1h4.7M76.8 1746v4.8M100.4 1746v4.8M124 1746v4.8M147.6 1746v4.8M171.1 1746v4.8M194.7 1746v4.8M218.3 1746v4.8" class="ax"/>
<text x="52.2" y="1746.2" class="vy">0</text>
<text x="52.2" y="1723.2" class="vy">1</text>
<text x="52.2" y="1700.1" class="vy">2</text>
<text x="52.2" y="1677.1" class="vy">3</text>
<text x="52.2" y="1654" class="vy">4</text>
<text x="52.2" y="1630.9" class="vy">5</text>
<text transform="translate(34.3 1684.8) rotate(-90)" class="ve">Expression Level</text>
<text transform="translate(90.8 1764.5) rotate(-64.5)" class="vx">Oligodendrocyte</text>
<text transform="translate(114.4 1764.5) rotate(-64.5)" class="vx">Astrocyte</text>
<text transform="translate(138 1764.5) rotate(-64.5)" class="vx">Exc_Neuron</text>
<text transform="translate(161.6 1764.5) rotate(-64.5)" class="vx">Inh_Neuron</text>
<text transform="translate(185.1 1764.5) rotate(-64.5)" class="vx">OPC</text>
<text transform="translate(208.7 1764.5) rotate(-64.5)" class="vx">Microglia</text>
<text transform="translate(232.3 1764.5) rotate(-64.5)" class="vx">Cap_EC</text>
<text x="377.3" y="1609.7" class="vt">SORT1</text>
<path d="M317.2 1740.4l-0.1-1.4l-0.9-2.7l-1.7-2.7l-3.7-5.5l-2.2-4.1l-0.9-2.8l-0.7-4.1l0-20.5l0.2-2.8l1.1-5.4l3.5-9.6l0.5-2.8l0.1-1.3l0-1.4l-0.5-2.7l-3.8-11l-1-5.5l-0.2-23.3l-0.6 0l-0.2 23.3l-1 5.5l-3.8 11l-0.5 2.7l0 1.4l0.1 1.3l0.5 2.8l3.5 9.6l1.1 5.4l0.2 2.8l0 20.5l-0.7 4.1l-0.9 2.8l-2.2 4.1l-3.7 5.5l-1.7 2.7l-0.9 2.7l-0.1 1.4z" fill="#F8766D" class="vp"/>
<path d="M364.3 1740.4l-0.4-1.2l-1-1.2l-4.7-3.5l-2.5-2.4l-0.8-1.2l-0.8-2.3l0-8.3l1.4-17.7l0.3-7.1l-0.3-7.1l-1.4-17.7l-0.1-24.9l-0.6 0l-0.1 24.9l-1.5 17.7l-0.2 7.1l0.3 7.1l1.4 17.7l0 8.3l-0.8 2.3l-0.8 1.2l-2.5 2.4l-4.8 3.5l-1 1.2l-0.3 1.2z" fill="#5CBE28" class="vp"/>
<path d="M319.5 1740.4h21.2M330.2 1740.4V1666.9M366.7 1740.4h21.2M377.3 1740.4V1650.4M390.3 1740.4h21.2M400.9 1740.4V1662.4M413.8 1740.4h21.2M424.4 1740.4V1659.4M437.4 1740.4h21.2M448 1740.4V1681.3" class="vl"/>
<path d="M292.4 1623.5V1746.8M291.6 1746H462.1M287.7 1740.4h4.7M287.7 1710.4h4.7M287.7 1680.4h4.7M287.7 1650.4h4.7M306.6 1746v4.8M330.2 1746v4.8M353.7 1746v4.8M377.3 1746v4.8M400.9 1746v4.8M424.4 1746v4.8M448 1746v4.8" class="ax"/>
<text x="281.9" y="1746.2" class="vy">0</text>
<text x="281.9" y="1716.2" class="vy">1</text>
<text x="281.9" y="1686.2" class="vy">2</text>
<text x="281.9" y="1656.2" class="vy">3</text>
<text transform="translate(264 1684.8) rotate(-90)" class="ve">Expression Level</text>
<text transform="translate(320.6 1764.5) rotate(-64.5)" class="vx">Oligodendrocyte</text>
<text transform="translate(344.2 1764.5) rotate(-64.5)" class="vx">Astrocyte</text>
<text transform="translate(367.7 1764.5) rotate(-64.5)" class="vx">Exc_Neuron</text>
<text transform="translate(391.3 1764.5) rotate(-64.5)" class="vx">Inh_Neuron</text>
<text transform="translate(414.9 1764.5) rotate(-64.5)" class="vx">OPC</text>
<text transform="translate(438.4 1764.5) rotate(-64.5)" class="vx">Microglia</text>
<text transform="translate(462 1764.5) rotate(-64.5)" class="vx">Cap_EC</text>
<text x="607" y="1609.7" class="vt">NRCAM</text>
<path d="M570.1 1740.4l-0.3-2.5l-0.8-2.4l-1.1-2.5l-4.2-7.4l-1.6-3.8l-1-3.7l-0.5-3.7l-0.1-3.7l0.3-3.7l0.6-3.7l0.6-2.5l1.8-4.9l4-8.7l1.5-3.7l1-3.7l0.2-2.5l-0.1-2.5l-0.9-3.7l-3.6-8.6l-1.2-3.7l-0.6-3.8l-0.7-7.4l-1.6-6.2l-3.8 0l-1.6 6.2l-0.6 7.4l-0.6 3.8l-1.3 3.7l-3.6 8.6l-0.8 3.7l-0.2 2.5l0.2 2.5l1 3.7l1.5 3.7l4.1 8.7l1.7 4.9l0.6 2.5l0.6 3.7l0.3 3.7l-0.1 3.7l-0.5 3.7l-1 3.7l-1.6 3.8l-4.1 7.4l-1.2 2.5l-0.8 2.4l-0.3 2.5z" fill="#C4A029" class="vp"/>
<path d="M593.5 1740.4l-0.4-1.2l-1.2-1.1l-5.1-3.6l-1.3-1.1l-0.9-1.2l-0.6-1.2l-0.2-1.1l0-16.4l0.9-5.9l1.1-3.5l1-2.3l5.1-9.4l1.1-2.4l0.7-2.3l0.3-2.3l-0.1-2.4l-1.1-3.5l-1.1-2.3l-4.5-8.2l-1.5-3.5l-0.8-2.4l-0.7-3.5l-0.4-3.5l-0.1-9.4l-0.6 0l-0.1 9.4l-0.4 3.5l-0.7 3.5l-0.7 2.4l-1.5 3.5l-4.6 8.2l-1.1 2.3l-1 3.5l-0.2 2.4l0.3 2.3l0.8 2.3l1 2.4l5.1 9.4l1 2.3l1.1 3.5l0.9 5.9l0 16.4l-0.2 1.1l-0.6 1.2l-0.9 1.2l-1.3 1.1l-5 3.6l-1.2 1.1l-0.5 1.2z" fill="#5CBE28" class="vp"/>
<path d="M617.6 1740.4l-0.4-1.4l-1-1.4l-4.7-4.1l-2.5-2.8l-0.8-1.4l-0.7-2.8l0-5.5l0.8-6.9l1.3-5.6l3.2-11l0.8-4.2l0.2-2.8l-0.2-2.7l-0.6-4.2l-4-13.9l-0.8-4.1l-0.6-4.2l-0.2-2.7l-0.1-29.1l-0.6 0l-0.1 29.1l-0.2 2.7l-0.6 4.2l-0.8 4.1l-4 13.9l-0.7 4.2l-0.1 2.7l0.2 2.8l0.8 4.2l3.2 11l1.3 5.6l0.8 6.9l0 5.5l-0.8 2.8l-0.7 1.4l-2.5 2.8l-4.8 4.1l-1 1.4l-0.3 1.4z" fill="#54DCA9" class="vp"/>
<path d="M633.8 1740.4l-0.3-1.3l-2.1-4l-0.4-1.4l0.1-40.1l0.8-5.3l1.1-4l1.7-4l4.2-8l1.2-2.7l1-4l0.1-2.7l-0.5-2.7l-0.9-2.6l-5.4-10.7l-1.6-4l-1-4l-0.9-5.4l-0.6 0l-0.8 5.4l-1.1 4l-1.6 4l-5.4 10.7l-0.9 2.6l-0.5 2.7l0.1 2.7l1.1 4l1.2 2.7l4.1 8l1.7 4l1.1 4l0.9 5.3l0 40.1l-0.4 1.4l-2.1 4l-0.3 1.3z" fill="#5DCDF4" class="vp"/>
<path d="M525.7 1740.4h21.2M536.3 1740.4V1661.3M643.6 1740.4h21.2M654.2 1740.4V1675M667.1 1740.4h21.2M677.7 1740.4V1676.6" class="vl"/>
<path d="M522.2 1623.5V1746.8M521.4 1746H691.9M517.5 1740.4h4.7M517.5 1714h4.7M517.5 1687.7h4.7M517.5 1661.3h4.7M517.5 1634.9h4.7M536.3 1746v4.8M559.9 1746v4.8M583.5 1746v4.8M607 1746v4.8M630.6 1746v4.8M654.2 1746v4.8M677.7 1746v4.8" class="ax"/>
<text x="511.7" y="1746.2" class="vy">0</text>
<text x="511.7" y="1719.8" class="vy">1</text>
<text x="511.7" y="1693.5" class="vy">2</text>
<text x="511.7" y="1667.1" class="vy">3</text>
<text x="511.7" y="1640.7" class="vy">4</text>
<text transform="translate(493.8 1684.8) rotate(-90)" class="ve">Expression Level</text>
<text transform="translate(550.3 1764.5) rotate(-64.5)" class="vx">Oligodendrocyte</text>
<text transform="translate(573.9 1764.5) rotate(-64.5)" class="vx">Astrocyte</text>
<text transform="translate(597.5 1764.5) rotate(-64.5)" class="vx">Exc_Neuron</text>
<text transform="translate(621 1764.5) rotate(-64.5)" class="vx">Inh_Neuron</text>
<text transform="translate(644.6 1764.5) rotate(-64.5)" class="vx">OPC</text>
<text transform="translate(668.2 1764.5) rotate(-64.5)" class="vx">Microglia</text>
<text transform="translate(691.7 1764.5) rotate(-64.5)" class="vx">Cap_EC</text>
<text x="836.8" y="1609.7" class="vt">ADAM23</text>
<path d="M823.8 1740.4l-0.4-1.4l-1.3-1.4l-5.2-4.1l-1.4-1.4l-1-1.3l-0.6-1.4l-0.3-1.4l0.1-17.9l0.8-6.9l2.4-12.3l0.4-5.6l-0.4-5.5l-2.4-12.3l-0.9-8.3l-0.1-28.9l-0.6 0l-0.1 28.9l-1 8.3l-2.3 12.3l-0.4 5.5l0.4 5.6l2.3 12.3l0.9 6.9l0.1 17.9l-0.3 1.4l-0.6 1.4l-1 1.3l-1.4 1.4l-5.3 4.1l-1.2 1.4l-0.4 1.4z" fill="#5CBE28" class="vp"/>
<path d="M847.4 1740.4l-0.3-1.2l-0.7-1.2l-1.1-1.1l-4.1-3.6l-2.1-2.3l-1.3-2.4l-0.6-2.4l0-9.4l1.8-17.7l0.2-5.9l-0.2-5.9l-1.8-17.7l-0.1-23.6l-0.6 0l-0.1 23.6l-1.8 17.7l-0.2 5.9l0.2 5.9l1.8 17.7l0 9.4l-0.6 2.4l-1.3 2.4l-2.1 2.3l-4.1 3.6l-1.1 1.1l-0.8 1.2l-0.2 1.2z" fill="#54DCA9" class="vp"/>
<path d="M755.5 1740.4h21.2M766.1 1740.4V1646.7M779 1740.4h21.2M789.6 1740.4V1666.5M849.7 1740.4h21.2M860.3 1740.4V1653.9M873.3 1740.4h21.2M883.9 1740.4V1664.3M896.9 1740.4h21.2" class="vl"/>
<path d="M751.9 1623.5V1746.8M751.1 1746H921.6M747.2 1740.4h4.7M747.2 1709h4.7M747.2 1677.5h4.7M747.2 1646.1h4.7M766.1 1746v4.8M789.6 1746v4.8M813.2 1746v4.8M836.8 1746v4.8M860.3 1746v4.8M883.9 1746v4.8M907.5 1746v4.8" class="ax"/>
<text x="741.4" y="1746.2" class="vy">0</text>
<text x="741.4" y="1714.8" class="vy">1</text>
<text x="741.4" y="1683.3" class="vy">2</text>
<text x="741.4" y="1651.9" class="vy">3</text>
<text transform="translate(723.5 1684.8) rotate(-90)" class="ve">Expression Level</text>
<text transform="translate(780.1 1764.5) rotate(-64.5)" class="vx">Oligodendrocyte</text>
<text transform="translate(803.6 1764.5) rotate(-64.5)" class="vx">Astrocyte</text>
<text transform="translate(827.2 1764.5) rotate(-64.5)" class="vx">Exc_Neuron</text>
<text transform="translate(850.8 1764.5) rotate(-64.5)" class="vx">Inh_Neuron</text>
<text transform="translate(874.3 1764.5) rotate(-64.5)" class="vx">OPC</text>
<text transform="translate(897.9 1764.5) rotate(-64.5)" class="vx">Microglia</text>
<text transform="translate(921.5 1764.5) rotate(-64.5)" class="vx">Cap_EC</text>
<text x="1066.5" y="1609.7" class="vt">APLP2</text>
<path d="M1053.5 1740.4l-0.5-1.4l-1.5-1.4l-3.9-2.7l-1.7-1.4l-1.3-1.4l-0.8-1.4l-0.4-1.4l-0.1-1.4l0.1-8.3l1.7-20.7l0.3-8.3l-0.3-7l-1.4-15.2l-0.4-6.9l-0.1-31.8l-0.6 0l-0.1 31.8l-0.5 6.9l-1.4 15.2l-0.2 7l0.3 8.3l1.7 20.7l0.1 8.3l-0.1 1.4l-0.4 1.4l-0.8 1.4l-1.3 1.4l-1.7 1.4l-3.9 2.7l-1.5 1.4l-0.5 1.4z" fill="#5CBE28" class="vp"/>
<path d="M1077.1 1740.4l-0.3-1.3l-0.7-1.2l-1.2-1.3l-4.2-3.8l-2.2-2.6l-1.1-2.5l-0.5-2.5l0-5.1l0.4-6.3l0.8-6.4l1.9-12.7l0.5-7.6l-0.4-7.6l-2.2-15.2l-0.8-7.7l-0.2-3.8l-0.1-13.9l-0.6 0l-0.1 13.9l-0.2 3.8l-0.8 7.7l-2.2 15.2l-0.4 7.6l0.5 7.6l1.9 12.7l0.7 6.4l0.5 6.3l0 5.1l-0.5 2.5l-1.2 2.5l-2.1 2.6l-4.2 3.8l-1.2 1.3l-0.7 1.2l-0.3 1.3z" fill="#54DCA9" class="vp"/>
<path d="M985.2 1740.4h21.2M995.8 1740.4V1646.6M1008.8 1740.4h21.2M1019.4 1740.4V1649.1M1079.5 1740.4h21.2M1090.1 1740.4V1648.1M1103 1740.4h21.2M1113.6 1740.4V1648.1M1126.6 1740.4h21.2M1137.2 1740.4V1669.7m-1.8 0h3.6" class="vl"/>
<path d="M981.7 1623.5V1746.8M980.9 1746H1151.4M977 1740.4h4.7M977 1709.7h4.7M977 1678.9h4.7M977 1648.1h4.7M995.8 1746v4.8M1019.4 1746v4.8M1042.9 1746v4.8M1066.5 1746v4.8M1090.1 1746v4.8M1113.6 1746v4.8M1137.2 1746v4.8" class="ax"/>
<text x="971.2" y="1746.2" class="vy">0</text>
<text x="971.2" y="1715.5" class="vy">1</text>
<text x="971.2" y="1684.7" class="vy">2</text>
<text x="971.2" y="1653.9" class="vy">3</text>
<text transform="translate(953.3 1684.8) rotate(-90)" class="ve">Expression Level</text>
<text transform="translate(1009.8 1764.5) rotate(-64.5)" class="vx">Oligodendrocyte</text>
<text transform="translate(1033.4 1764.5) rotate(-64.5)" class="vx">Astrocyte</text>
<text transform="translate(1056.9 1764.5) rotate(-64.5)" class="vx">Exc_Neuron</text>
<text transform="translate(1080.5 1764.5) rotate(-64.5)" class="vx">Inh_Neuron</text>
<text transform="translate(1104.1 1764.5) rotate(-64.5)" class="vx">OPC</text>
<text transform="translate(1127.6 1764.5) rotate(-64.5)" class="vx">Microglia</text>
<text transform="translate(1151.2 1764.5) rotate(-64.5)" class="vx">Cap_EC</text>
<text x="1296.2" y="1609.7" class="vt">NXPH1</text>
<path d="M1306.9 1740.4l-0.2-1.4l-0.5-1.4l-0.8-1.4l-5.6-6.9l-1.6-2.7l-1-2.8l-0.5-2.8l0-13.8l0.4-7l1.1-8.3l2.7-15.2l0.4-4.1l0.2-4.2l-0.2-4.2l-0.5-4.1l-3.3-19.4l-0.9-11.1l-0.6 0l-1 11.1l-3.3 19.4l-0.4 4.1l-0.2 4.2l0.1 4.2l0.5 4.1l2.7 15.2l1.1 8.3l0.4 7l0 13.8l-0.5 2.8l-1 2.8l-1.7 2.7l-5.5 6.9l-0.8 1.4l-0.5 1.4l-0.2 1.4z" fill="#54DCA9" class="vp"/>
<path d="M1330.4 1740.4l-0.1-1.3l-0.9-2.7l-1.5-2.6l-3.7-5.4l-2.2-3.9l-1.3-4l-0.5-4l0.1-8l0.5-4l0.7-4l2-6.6l5.5-13.3l1.1-4l0.3-2.6l-0.1-2.7l-0.6-4l-3.1-9.3l-1-3.9l-0.5-4l-0.6-8l-0.7-4l-1.1-4l-5.8 0l-1.1 4l-0.7 4l-0.6 8l-0.5 4l-1 3.9l-3.1 9.3l-0.6 4l-0.1 2.7l0.3 2.6l1.1 4l5.5 13.3l2 6.6l0.7 4l0.5 4l0.1 8l-0.6 4l-1.2 4l-2.2 3.9l-3.7 5.4l-1.5 2.6l-0.9 2.7l-0.1 1.3z" fill="#5DCDF4" class="vp"/>
<path d="M1214.9 1740.4h21.2M1225.5 1740.4V1655.1M1238.5 1740.4h21.2M1249.1 1740.4V1668.6M1262.1 1740.4h21.2M1272.7 1740.4V1651.5M1332.8 1740.4h21.2M1356.4 1740.4h21.2" class="vl"/>
<path d="M1211.4 1623.5V1746.8M1210.6 1746H1381.1M1206.7 1740.4h4.7M1206.7 1710.5h4.7M1206.7 1680.6h4.7M1206.7 1650.6h4.7M1225.5 1746v4.8M1249.1 1746v4.8M1272.7 1746v4.8M1296.2 1746v4.8M1319.8 1746v4.8M1343.4 1746v4.8M1367 1746v4.8" class="ax"/>
<text x="1200.9" y="1746.2" class="vy">0</text>
<text x="1200.9" y="1716.3" class="vy">1</text>
<text x="1200.9" y="1686.4" class="vy">2</text>
<text x="1200.9" y="1656.4" class="vy">3</text>
<text transform="translate(1183 1684.8) rotate(-90)" class="ve">Expression Level</text>
<text transform="translate(1239.5 1764.5) rotate(-64.5)" class="vx">Oligodendrocyte</text>
<text transform="translate(1263.1 1764.5) rotate(-64.5)" class="vx">Astrocyte</text>
<text transform="translate(1286.7 1764.5) rotate(-64.5)" class="vx">Exc_Neuron</text>
<text transform="translate(1310.2 1764.5) rotate(-64.5)" class="vx">Inh_Neuron</text>
<text transform="translate(1333.8 1764.5) rotate(-64.5)" class="vx">OPC</text>
<text transform="translate(1357.4 1764.5) rotate(-64.5)" class="vx">Microglia</text>
<text transform="translate(1381 1764.5) rotate(-64.5)" class="vx">Cap_EC</text>
<text x="1526" y="1609.7" class="vt">CALM1</text>
<path d="M1465.9 1740.4l-0.2-1.2l-0.7-1.1l-1-1.2l-3.8-3.5l-2.2-2.4l-1.5-2.3l-0.7-2.4l-0.1-19.9l0.2-2.4l0.7-3.5l0.6-2.3l4.1-10.6l0.6-2.4l0.3-2.3l-0.2-2.3l-0.5-2.4l-4-10.6l-1.3-4.6l-0.5-4.7l-0.1-11.8l-0.6 0l-0.1 11.8l-0.5 4.7l-1.3 4.6l-4.1 10.6l-0.5 2.4l-0.1 2.3l0.3 2.3l0.6 2.4l4.1 10.6l0.6 2.3l0.7 3.5l0.2 2.4l-0.1 19.9l-0.7 2.4l-1.5 2.3l-2.2 2.4l-3.8 3.5l-1 1.2l-0.7 1.1l-0.2 1.2z" fill="#F8766D" class="vp"/>
<path d="M1489.5 1740.4l-0.4-2.2l-1.2-2.2l-5.1-6.5l-1.4-2.2l-1.4-3.3l-0.7-3.3l0-10.9l0.2-3.3l0.8-5.5l2.3-12l0.4-5.4l-0.4-5.5l-2.2-10.9l-0.7-4.4l-0.4-4.4l-0.1-5.4l-0.6 0l-0.1 5.4l-0.4 4.4l-0.7 4.4l-2.2 10.9l-0.4 5.5l0.4 5.4l2.3 12l0.8 5.5l0.2 3.3l0 10.9l-0.7 3.3l-1.4 3.3l-1.4 2.2l-5.1 6.5l-1.2 2.2l-0.4 2.2z" fill="#C4A029" class="vp"/>
<path d="M1511.4 1740.4l-0.7-1.4l-6-4.1l-1.2-1.4l-0.7-1.4l0-16.6l0.9-6.9l1.2-4.1l1-2.8l5.7-12.4l1.2-4.2l0.2-2.8l-0.3-2.7l-0.7-2.8l-1.1-2.8l-5.2-11l-1-2.8l-1-4.1l-0.9-6.9l-0.1-19.4l-0.6 0l-0.1 19.4l-0.9 6.9l-1.1 4.1l-1 2.8l-5.1 11l-1.1 2.8l-0.7 2.8l-0.3 2.7l0.2 2.8l1.1 4.2l5.8 12.4l1 2.8l1.1 4.1l1 6.9l0 16.6l-0.7 1.4l-1.2 1.4l-6 4.1l-0.7 1.4z" fill="#5CBE28" class="vp"/>
<path d="M1535.8 1740.4l-0.4-1.2l-0.9-1.2l-4.6-3.5l-2.2-2.4l-0.7-1.2l-0.6-2.4l0.1-8.3l0.5-4.8l0.8-3.5l1.9-6l4.4-9.5l1.4-3.6l0.9-3.5l0.2-2.4l-0.2-3.6l-1-3.6l-5.8-13l-1.9-6l-0.7-3.6l-0.4-3.5l-0.3-8.4l-0.6 0l-0.2 8.4l-0.4 3.5l-0.7 3.6l-1.9 6l-5.8 13l-1 3.6l-0.3 3.6l0.3 2.4l0.9 3.5l1.4 3.6l4.4 9.5l1.9 6l0.7 3.5l0.6 4.8l0.1 8.3l-0.6 2.4l-0.7 1.2l-2.3 2.4l-4.5 3.5l-1 1.2l-0.3 1.2z" fill="#54DCA9" class="vp"/>
<path d="M1560.2 1740.4l-0.1-1.1l-1-2.1l-1.6-2.1l-3.8-4.2l-2.1-3.2l-0.9-2.2l-0.7-3.1l0.1-12.8l0.7-5.3l2.2-10.6l0.4-5.3l-0.4-4.2l-2-9.6l-0.8-5.3l-0.2-3.2l-0.1-10.6l-0.6 0l-0.1 10.6l-0.2 3.2l-0.9 5.3l-1.9 9.6l-0.4 4.2l0.4 5.3l2.1 10.6l0.8 5.3l0.1 12.8l-0.7 3.1l-0.9 2.2l-2.1 3.2l-3.8 4.2l-1.7 2.1l-0.9 2.1l-0.1 1.1z" fill="#5DCDF4" class="vp"/>
<path d="M1562.5 1740.4h21.2M1573.1 1740.4V1660.2M1586.1 1740.4h21.2M1596.7 1740.4V1689.8" class="vl"/>
<path d="M1441.1 1623.5V1746.8M1440.3 1746H1610.8M1436.4 1740.4h4.7M1436.4 1714.7h4.7M1436.4 1689h4.7M1436.4 1663.3h4.7M1436.4 1637.6h4.7M1455.3 1746v4.8M1478.9 1746v4.8M1502.4 1746v4.8M1526 1746v4.8M1549.6 1746v4.8M1573.1 1746v4.8M1596.7 1746v4.8" class="ax"/>
<text x="1430.6" y="1746.2" class="vy">0</text>
<text x="1430.6" y="1720.5" class="vy">1</text>
<text x="1430.6" y="1694.8" class="vy">2</text>
<text x="1430.6" y="1669.1" class="vy">3</text>
<text x="1430.6" y="1643.4" class="vy">4</text>
<text transform="translate(1412.7 1684.8) rotate(-90)" class="ve">Expression Level</text>
<text transform="translate(1469.3 1764.5) rotate(-64.5)" class="vx">Oligodendrocyte</text>
<text transform="translate(1492.9 1764.5) rotate(-64.5)" class="vx">Astrocyte</text>
<text transform="translate(1516.4 1764.5) rotate(-64.5)" class="vx">Exc_Neuron</text>
<text transform="translate(1540 1764.5) rotate(-64.5)" class="vx">Inh_Neuron</text>
<text transform="translate(1563.6 1764.5) rotate(-64.5)" class="vx">OPC</text>
<text transform="translate(1587.1 1764.5) rotate(-64.5)" class="vx">Microglia</text>
<text transform="translate(1610.7 1764.5) rotate(-64.5)" class="vx">Cap_EC</text>
<text x="1755.7" y="1609.7" class="vt">CALM1</text>
<path d="M1695.6 1740.4l-0.2-1.2l-0.7-1.1l-1-1.2l-3.8-3.5l-2.2-2.4l-1.5-2.3l-0.7-2.4l-0.1-19.9l0.2-2.4l0.7-3.5l0.6-2.3l4.1-10.6l0.6-2.4l0.3-2.3l-0.2-2.3l-0.5-2.4l-4-10.6l-1.3-4.6l-0.5-4.7l-0.1-11.8l-0.6 0l-0.1 11.8l-0.5 4.7l-1.3 4.6l-4.1 10.6l-0.5 2.4l-0.1 2.3l0.3 2.3l0.6 2.4l4.1 10.6l0.6 2.3l0.7 3.5l0.2 2.4l-0.1 19.9l-0.7 2.4l-1.5 2.3l-2.2 2.4l-3.8 3.5l-1 1.2l-0.7 1.1l-0.2 1.2z" fill="#F8766D" class="vp"/>
<path d="M1719.2 1740.4l-0.4-2.2l-1.2-2.2l-5.1-6.5l-1.4-2.2l-1.4-3.3l-0.7-3.3l0-10.9l0.2-3.3l0.8-5.5l2.3-12l0.4-5.4l-0.4-5.5l-2.2-10.9l-0.7-4.4l-0.4-4.4l-0.1-5.4l-0.6 0l-0.1 5.4l-0.4 4.4l-0.7 4.4l-2.2 10.9l-0.4 5.5l0.4 5.4l2.3 12l0.8 5.5l0.2 3.3l0 10.9l-0.7 3.3l-1.4 3.3l-1.4 2.2l-5.1 6.5l-1.2 2.2l-0.4 2.2z" fill="#C4A029" class="vp"/>
<path d="M1741.2 1740.4l-0.7-1.4l-6-4.1l-1.2-1.4l-0.7-1.4l0-16.6l0.9-6.9l1.2-4.1l1-2.8l5.7-12.4l1.2-4.2l0.2-2.8l-0.3-2.7l-0.7-2.8l-1.1-2.8l-5.2-11l-1-2.8l-1-4.1l-0.9-6.9l-0.1-19.4l-0.6 0l-0.1 19.4l-0.9 6.9l-1.1 4.1l-1 2.8l-5.1 11l-1.1 2.8l-0.7 2.8l-0.3 2.7l0.2 2.8l1.1 4.2l5.8 12.4l1 2.8l1.1 4.1l1 6.9l0 16.6l-0.7 1.4l-1.2 1.4l-6 4.1l-0.7 1.4z" fill="#5CBE28" class="vp"/>
<path d="M1765.5 1740.4l-0.4-1.2l-0.9-1.2l-4.6-3.5l-2.2-2.4l-0.7-1.2l-0.6-2.4l0.1-8.3l0.5-4.8l0.8-3.5l1.9-6l4.4-9.5l1.4-3.6l0.9-3.5l0.2-2.4l-0.2-3.6l-1-3.6l-5.8-13l-1.9-6l-0.7-3.6l-0.4-3.5l-0.3-8.4l-0.6 0l-0.2 8.4l-0.4 3.5l-0.7 3.6l-1.9 6l-5.8 13l-1 3.6l-0.3 3.6l0.3 2.4l0.9 3.5l1.4 3.6l4.4 9.5l1.9 6l0.7 3.5l0.6 4.8l0.1 8.3l-0.6 2.4l-0.7 1.2l-2.3 2.4l-4.5 3.5l-1 1.2l-0.3 1.2z" fill="#54DCA9" class="vp"/>
<path d="M1789.9 1740.4l-0.1-1.1l-1-2.1l-1.6-2.1l-3.8-4.2l-2.1-3.2l-0.9-2.2l-0.7-3.1l0.1-12.8l0.7-5.3l2.2-10.6l0.4-5.3l-0.4-4.2l-2-9.6l-0.8-5.3l-0.2-3.2l-0.1-10.6l-0.6 0l-0.1 10.6l-0.2 3.2l-0.9 5.3l-1.9 9.6l-0.4 4.2l0.4 5.3l2.1 10.6l0.8 5.3l0.1 12.8l-0.7 3.1l-0.9 2.2l-2.1 3.2l-3.8 4.2l-1.7 2.1l-0.9 2.1l-0.1 1.1z" fill="#5DCDF4" class="vp"/>
<path d="M1792.3 1740.4h21.2M1802.9 1740.4V1660.2M1815.8 1740.4h21.2M1826.4 1740.4V1689.8" class="vl"/>
<path d="M1670.9 1623.5V1746.8M1670.1 1746H1840.6M1666.2 1740.4h4.7M1666.2 1714.7h4.7M1666.2 1689h4.7M1666.2 1663.3h4.7M1666.2 1637.6h4.7M1685 1746v4.8M1708.6 1746v4.8M1732.2 1746v4.8M1755.7 1746v4.8M1779.3 1746v4.8M1802.9 1746v4.8M1826.4 1746v4.8" class="ax"/>
<text x="1660.4" y="1746.2" class="vy">0</text>
<text x="1660.4" y="1720.5" class="vy">1</text>
<text x="1660.4" y="1694.8" class="vy">2</text>
<text x="1660.4" y="1669.1" class="vy">3</text>
<text x="1660.4" y="1643.4" class="vy">4</text>
<text transform="translate(1642.5 1684.8) rotate(-90)" class="ve">Expression Level</text>
<text transform="translate(1699 1764.5) rotate(-64.5)" class="vx">Oligodendrocyte</text>
<text transform="translate(1722.6 1764.5) rotate(-64.5)" class="vx">Astrocyte</text>
<text transform="translate(1746.2 1764.5) rotate(-64.5)" class="vx">Exc_Neuron</text>
<text transform="translate(1769.7 1764.5) rotate(-64.5)" class="vx">Inh_Neuron</text>
<text transform="translate(1793.3 1764.5) rotate(-64.5)" class="vx">OPC</text>
<text transform="translate(1816.9 1764.5) rotate(-64.5)" class="vx">Microglia</text>
<text transform="translate(1840.4 1764.5) rotate(-64.5)" class="vx">Cap_EC</text>
<text x="1985.5" y="1609.7" class="vt">NLGN1</text>
<path d="M1925.4 1740.4l-0.2-1.4l-0.7-1.3l-1-1.4l-5.2-5.5l-1-1.4l-1.4-2.7l-0.7-2.8l0-15.1l0.5-5.5l1.5-6.8l3.3-9.7l1.2-4.1l0.5-2.7l0.2-4.1l-0.5-5.5l-2-12.4l-4.1-17.9l-0.6-5.4l-0.1-4.2l-0.6 0l-0.1 4.2l-0.7 5.4l-4 17.9l-2 12.4l-0.5 5.5l0.2 4.1l0.5 2.7l1.2 4.1l3.2 9.7l1.6 6.8l0.5 5.5l0 15.1l-0.7 2.8l-1.4 2.7l-1.1 1.4l-5.1 5.5l-1 1.4l-0.7 1.3l-0.2 1.4z" fill="#F8766D" class="vp"/>
<path d="M1970.9 1740.4l-0.7-1.3l-5.8-3.9l-1.3-1.3l-0.7-1.3l-0.1-1.3l0-19.4l0.2-2.6l0.6-3.9l1-3.9l1-2.5l5.2-10.4l1.1-2.6l0.8-2.6l0.3-2.6l-0.2-2.6l-1.1-3.9l-5.8-11.6l-1-2.6l-1.2-3.9l-0.9-6.5l-0.1-12.9l-0.6 0l-0.1 12.9l-1 6.5l-1.1 3.9l-1 2.6l-5.8 11.6l-1.1 3.9l-0.2 2.6l0.3 2.6l0.7 2.6l1.1 2.6l5.2 10.4l1 2.5l1.1 3.9l0.6 3.9l0.2 2.6l0 19.4l-0.1 1.3l-0.8 1.3l-1.2 1.3l-5.8 3.9l-0.7 1.3z" fill="#5CBE28" class="vp"/>
<path d="M1993.1 1740.4l-0.4-1.3l-0.9-1.3l-4-4l-1-1.3l-0.6-1.3l-0.4-1.3l0-21l0.7-6.5l1.2-5.3l1.9-5.2l5.1-11.8l1.1-3.9l0.3-4l-0.3-2.6l-1.1-3.9l-5.2-11.8l-1.8-5.3l-1.4-6.5l-0.5-6.6l-0.6 0l-0.6 6.6l-1.3 6.5l-1.9 5.3l-5.2 11.8l-1 3.9l-0.3 2.6l0.2 4l1.1 3.9l5.1 11.8l1.9 5.2l1.2 5.3l0.7 6.5l0 21l-0.4 1.3l-0.6 1.3l-1 1.3l-4 4l-0.9 1.3l-0.4 1.3z" fill="#54DCA9" class="vp"/>
<path d="M2011.2 1740.4l-0.3-1.4l-1.3-2.8l-0.2-1.4l0.1-49.2l0.5-4.2l1.1-4.2l1.7-4.2l4.6-8.4l1.3-2.9l0.8-2.8l0.2-2.8l-0.5-2.8l-1-2.8l-4.6-8.4l-1.9-4.2l-1.3-4.2l-1-5.7l-0.6 0l-1 5.7l-1.3 4.2l-2 4.2l-4.5 8.4l-1.1 2.8l-0.4 2.8l0.2 2.8l0.8 2.8l1.2 2.9l4.6 8.4l1.7 4.2l1.1 4.2l0.6 4.2l0 49.2l-0.1 1.4l-1.3 2.8l-0.3 1.4z" fill="#5DCDF4" class="vp"/>
<path d="M1927.7 1740.4h21.2M1938.3 1740.4V1650.5M2022 1740.4h21.2M2032.6 1740.4V1662.5M2045.6 1740.4h21.2M2056.2 1740.4V1680.5m-1.8 0h3.6" class="vl"/>
<path d="M1900.6 1623.5V1746.8M1899.8 1746H2070.3M1895.9 1740.4h4.7M1895.9 1715.5h4.7M1895.9 1690.5h4.7M1895.9 1665.5h4.7M1895.9 1640.6h4.7M1914.8 1746v4.8M1938.3 1746v4.8M1961.9 1746v4.8M1985.5 1746v4.8M2009 1746v4.8M2032.6 1746v4.8M2056.2 1746v4.8" class="ax"/>
<text x="1890.1" y="1746.2" class="vy">0</text>
<text x="1890.1" y="1721.3" class="vy">1</text>
<text x="1890.1" y="1696.3" class="vy">2</text>
<text x="1890.1" y="1671.3" class="vy">3</text>
<text x="1890.1" y="1646.4" class="vy">4</text>
<text transform="translate(1872.2 1684.8) rotate(-90)" class="ve">Expression Level</text>
<text transform="translate(1928.8 1764.5) rotate(-64.5)" class="vx">Oligodendrocyte</text>
<text transform="translate(1952.3 1764.5) rotate(-64.5)" class="vx">Astrocyte</text>
<text transform="translate(1975.9 1764.5) rotate(-64.5)" class="vx">Exc_Neuron</text>
<text transform="translate(1999.5 1764.5) rotate(-64.5)" class="vx">Inh_Neuron</text>
<text transform="translate(2023 1764.5) rotate(-64.5)" class="vx">OPC</text>
<text transform="translate(2046.6 1764.5) rotate(-64.5)" class="vx">Microglia</text>
<text transform="translate(2070.2 1764.5) rotate(-64.5)" class="vx">Cap_EC</text>
<text x="147.2" y="2061.2" class="vt">RTN4</text>
<path d="M87.5 2191.2l-0.4-1.3l-1.2-1.2l-5.3-3.8l-1.3-1.3l-1-1.2l-0.6-1.3l-0.4-1.3l0.1-16.4l0.8-6.3l1-3.7l0.9-2.6l4.6-10.1l0.9-2.5l0.9-3.8l0.1-2.5l-0.2-2.5l-0.7-2.5l-1.5-3.8l-4-8.9l-0.9-2.5l-1-3.8l-0.9-6.3l-0.1-11.3l-0.6 0l-0.2 11.3l-0.9 6.3l-1 3.8l-0.9 2.5l-4 8.9l-1.5 3.8l-0.6 2.5l-0.3 2.5l0.1 2.5l0.9 3.8l0.9 2.5l4.6 10.1l0.9 2.6l1 3.7l0.9 6.3l0 16.4l-0.4 1.3l-0.6 1.3l-1 1.2l-1.3 1.3l-5.3 3.8l-1.2 1.2l-0.4 1.3z" fill="#F8766D" class="vp"/>
<path d="M110.9 2191.2l-0.3-1.1l-0.9-1l-5.8-4.3l-1.2-1.1l-1.4-2.1l-0.4-1.1l-0.2-1.1l0.1-18.2l0.6-5.3l1.9-10.7l0.4-5.4l-0.3-4.2l-1.9-10.7l-0.7-5.4l-0.1-13.9l-0.6 0l-0.2 13.9l-0.7 5.4l-1.9 10.7l-0.3 4.2l0.4 5.4l1.9 10.7l0.7 5.3l0 18.2l-0.2 1.1l-0.3 1.1l-1.5 2.1l-1.2 1.1l-5.8 4.3l-0.9 1l-0.3 1.1z" fill="#C4A029" class="vp"/>
<path d="M134.1 2191.2l-1-1.4l-5-2.7l-2.1-1.4l-1.2-1.4l-0.5-1.3l-0.1-2.8l0.2-2.7l0.6-4.2l0.6-2.7l1.9-5.5l4.6-9.6l1.1-2.8l1-4.1l0.2-2.7l-0.4-2.8l-0.7-2.7l-1.2-2.8l-3.3-6.8l-1.8-4.1l-1.3-4.2l-0.9-4.1l-0.6-5.5l-0.1-31.6l-0.6 0l0 31.6l-0.6 5.5l-0.9 4.1l-1.3 4.2l-1.8 4.1l-3.4 6.8l-1.1 2.8l-0.8 2.7l-0.3 2.8l0.1 2.7l1.1 4.1l1.1 2.8l4.6 9.6l1.9 5.5l0.6 2.7l0.6 4.2l0.2 2.7l-0.1 2.8l-0.5 1.3l-1.2 1.4l-2.1 1.4l-5.1 2.7l-0.9 1.4z" fill="#5CBE28" class="vp"/>
<path d="M157.8 2191.2l-0.3-1.1l-0.9-1l-5.8-4.3l-1.1-1.1l-1.5-2.1l-0.6-2.2l0.1-7.5l0.5-5.3l1-5.4l2.8-11.7l0.5-3.2l0.2-3.2l-0.1-3.3l-0.4-3.2l-3.1-12.8l-0.9-5.4l-0.6-5.3l0-7.5l-0.6 0l-0.1 7.5l-0.6 5.3l-0.9 5.4l-3 12.8l-0.5 3.2l-0.1 3.3l0.2 3.2l0.5 3.2l2.9 11.7l0.9 5.4l0.6 5.3l0 7.5l-0.6 2.2l-1.5 2.1l-1.1 1.1l-5.8 4.3l-0.9 1l-0.3 1.1z" fill="#54DCA9" class="vp"/>
<path d="M181.2 2191.2l-0.2-1l-0.6-1l-0.8-1l-4.7-3.9l-1.9-2l-1.2-2l-0.7-2l-0.1-9.9l0.2-2.9l0.9-6l2.1-10.9l0.4-2.9l0.2-3l-0.2-3l-0.3-3l-2-9.9l-0.8-4.9l-0.4-4l-0.1-5.9l-0.6 0l-0.2 5.9l-0.3 4l-0.8 4.9l-2 9.9l-0.4 3l-0.2 3l0.2 3l0.4 2.9l2.2 10.9l0.8 6l0.2 2.9l-0.1 9.9l-0.7 2l-1.2 2l-1.9 2l-4.6 3.9l-0.9 1l-0.6 1l-0.2 1z" fill="#5DCDF4" class="vp"/>
<path d="M204.7 2191.2l-0.2-1.1l-0.6-1.2l-1-1.1l-4.9-4.5l-1.8-2.3l-1.1-2.3l-0.6-2.2l0-19.3l0.9-5.7l2.5-10.2l0.4-3.4l-0.1-2.3l-0.4-2.2l-2.3-9.1l-0.9-5.7l-0.1-18.1l-0.6 0l-0.2 18.1l-0.9 5.7l-2.3 9.1l-0.4 2.2l-0.1 2.3l0.4 3.4l2.5 10.2l0.9 5.7l0 19.3l-0.5 2.2l-1.2 2.3l-1.8 2.3l-4.9 4.5l-1 1.1l-0.6 1.2l-0.2 1.1z" fill="#A78AFF" class="vp"/>
<path d="M228.1 2191.2l-0.3-2l-1.2-3.1l-4.7-7.2l-1.7-3l-1.1-3.1l-0.7-3.1l-0.2-4.1l0.4-5.1l0.7-4l2.4-10.3l0.4-3l0.2-3.1l-0.2-3.1l-0.4-3l-2.4-10.3l-0.8-4l-0.5-5.2l-0.1-5.1l-0.6 0l-0.1 5.1l-0.6 5.2l-0.8 4l-2.4 10.3l-0.4 3l-0.2 3.1l0.2 3.1l0.4 3l2.4 10.3l0.7 4l0.4 5.1l-0.2 4.1l-0.7 3.1l-1.1 3.1l-1.7 3l-4.7 7.2l-1.2 3.1l-0.3 2z" fill="#FB61D6" class="vp"/>
<path d="M62.9 2075V2197.5M62.1 2196.7H231.6M58.2 2191.2h4.7M58.2 2165.6h4.7M58.2 2140.1h4.7M58.2 2114.5h4.7M58.2 2089h4.7M77 2196.7v4.8M100.4 2196.7v4.8M123.8 2196.7v4.8M147.2 2196.7v4.8M170.7 2196.7v4.8M194.1 2196.7v4.8M217.5 2196.7v4.8" class="ax"/>
<text x="52.4" y="2197" class="vy">0</text>
<text x="52.4" y="2171.4" class="vy">1</text>
<text x="52.4" y="2145.9" class="vy">2</text>
<text x="52.4" y="2120.3" class="vy">3</text>
<text x="52.4" y="2094.8" class="vy">4</text>
<text transform="translate(34.5 2135.8) rotate(-90)" class="ve">Expression Level</text>
<text transform="translate(91 2215.2) rotate(-64.5)" class="vx">Oligodendrocyte</text>
<text transform="translate(114.4 2215.2) rotate(-64.5)" class="vx">Astrocyte</text>
<text transform="translate(137.8 2215.2) rotate(-64.5)" class="vx">Exc_Neuron</text>
<text transform="translate(161.2 2215.2) rotate(-64.5)" class="vx">Inh_Neuron</text>
<text transform="translate(184.7 2215.2) rotate(-64.5)" class="vx">OPC</text>
<text transform="translate(208.1 2215.2) rotate(-64.5)" class="vx">Microglia</text>
<text transform="translate(231.5 2215.2) rotate(-64.5)" class="vx">Cap_EC</text>
<text x="376.3" y="2061.2" class="vt">COPA</text>
<path d="M316.5 2191.2l-0.6-1.4l-1.7-1.3l-4.3-2.8l-1.7-1.4l-1.1-1.3l-0.6-1.4l-0.2-1.4l0-38.3l0.7-4.2l1.8-6.8l0.3-2.8l-0.2-2.7l-1.8-6.9l-0.8-4.1l0-32.9l-0.6 0l-0.1 32.9l-0.8 4.1l-1.8 6.9l-0.2 2.7l0.3 2.8l1.8 6.8l0.7 4.2l0 38.3l-0.1 1.4l-0.7 1.4l-1.1 1.3l-1.7 1.4l-4.3 2.8l-1.7 1.3l-0.6 1.4z" fill="#F8766D" class="vp"/>
<path d="M363.4 2191.2l-0.7-1.2l-1.9-1.2l-4.5-2.5l-1.6-1.2l-0.9-1.2l-0.5-1.2l-0.1-13.4l0.3-18.3l-0.3-15.8l0-41.3l-0.6 0l-0.1 41.3l-0.3 15.8l0.3 18.3l-0.1 13.4l-0.5 1.2l-0.9 1.2l-1.6 1.2l-4.5 2.5l-1.9 1.2l-0.7 1.2z" fill="#5CBE28" class="vp"/>
<path d="M318.9 2191.2h21.1M329.4 2191.2V2085.1M365.7 2191.2h21.1M376.3 2191.2V2097.1M389.2 2191.2h21.1M399.7 2191.2V2100.3M412.6 2191.2h21.1M423.2 2191.2V2085.7M436 2191.2h21.1M446.6 2191.2V2094.8" class="vl"/>
<path d="M291.9 2075V2197.5M291.1 2196.7H460.6M287.2 2191.2h4.7M287.2 2158.7h4.7M287.2 2126.3h4.7M287.2 2093.8h4.7M306 2196.7v4.8M329.4 2196.7v4.8M352.9 2196.7v4.8M376.3 2196.7v4.8M399.7 2196.7v4.8M423.2 2196.7v4.8M446.6 2196.7v4.8" class="ax"/>
<text x="281.4" y="2197" class="vy">0</text>
<text x="281.4" y="2164.5" class="vy">1</text>
<text x="281.4" y="2132.1" class="vy">2</text>
<text x="281.4" y="2099.6" class="vy">3</text>
<text transform="translate(263.5 2135.8) rotate(-90)" class="ve">Expression Level</text>
<text transform="translate(320 2215.2) rotate(-64.5)" class="vx">Oligodendrocyte</text>
<text transform="translate(343.4 2215.2) rotate(-64.5)" class="vx">Astrocyte</text>
<text transform="translate(366.9 2215.2) rotate(-64.5)" class="vx">Exc_Neuron</text>
<text transform="translate(390.3 2215.2) rotate(-64.5)" class="vx">Inh_Neuron</text>
<text transform="translate(413.7 2215.2) rotate(-64.5)" class="vx">OPC</text>
<text transform="translate(437.2 2215.2) rotate(-64.5)" class="vx">Microglia</text>
<text transform="translate(460.6 2215.2) rotate(-64.5)" class="vx">Cap_EC</text>
<text x="605.3" y="2061.2" class="vt">CNTN2</text>
<path d="M545.6 2191.2l-0.4-1.4l-1-1.3l-4.9-4.1l-2.4-2.8l-0.8-1.3l-0.5-1.4l-0.2-1.4l0-21.9l0.2-2.7l1.2-6.8l3.5-12.4l0.5-2.7l0.2-2.7l-0.2-2.8l-0.5-2.7l-3.5-12.3l-1.2-6.8l-0.2-2.8l0-19.1l-0.6 0l-0.1 19.1l-0.2 2.8l-1.2 6.8l-3.5 12.3l-0.5 2.7l-0.1 2.8l0.1 2.7l0.5 2.7l3.5 12.4l1.2 6.8l0.2 2.7l0 21.9l-0.2 1.4l-0.5 1.4l-0.7 1.3l-2.5 2.8l-4.9 4.1l-1 1.3l-0.4 1.4z" fill="#F8766D" class="vp"/>
<path d="M547.9 2191.2h21.1M558.5 2191.2V2119.2M571.4 2191.2h21.1M581.9 2191.2V2105.7M594.8 2191.2h21.1M605.3 2191.2V2116.2M618.2 2191.2h21.1M628.8 2191.2V2121.6M641.6 2191.2h21.1M652.2 2191.2V2109.6M665.1 2191.2h21.1M675.6 2191.2V2099.7" class="vl"/>
<path d="M521 2075V2197.5M520.2 2196.7H689.7M516.3 2191.2h4.7M516.3 2161.2h4.7M516.3 2131.2h4.7M516.3 2101.2h4.7M535 2196.7v4.8M558.5 2196.7v4.8M581.9 2196.7v4.8M605.3 2196.7v4.8M628.8 2196.7v4.8M652.2 2196.7v4.8M675.6 2196.7v4.8" class="ax"/>
<text x="510.5" y="2197" class="vy">0</text>
<text x="510.5" y="2167" class="vy">1</text>
<text x="510.5" y="2137" class="vy">2</text>
<text x="510.5" y="2107" class="vy">3</text>
<text transform="translate(492.6 2135.8) rotate(-90)" class="ve">Expression Level</text>
<text transform="translate(549 2215.2) rotate(-64.5)" class="vx">Oligodendrocyte</text>
<text transform="translate(572.5 2215.2) rotate(-64.5)" class="vx">Astrocyte</text>
<text transform="translate(595.9 2215.2) rotate(-64.5)" class="vx">Exc_Neuron</text>
<text transform="translate(619.3 2215.2) rotate(-64.5)" class="vx">Inh_Neuron</text>
<text transform="translate(642.8 2215.2) rotate(-64.5)" class="vx">OPC</text>
<text transform="translate(666.2 2215.2) rotate(-64.5)" class="vx">Microglia</text>
<text transform="translate(689.6 2215.2) rotate(-64.5)" class="vx">Cap_EC</text>
<text x="834.4" y="2061.2" class="vt">LGI3</text>
<path d="M753.5 2191.2h21.1M764.1 2191.2V2081.2M777 2191.2h21.1M787.5 2191.2V2099.1M800.4 2191.2h21.1M810.9 2191.2V2091.4M823.8 2191.2h21.1M834.4 2191.2V2093.1M847.3 2191.2h21.1M857.8 2191.2V2110.6M870.7 2191.2h21.1M881.2 2191.2V2109.3M894.1 2191.2h21.1M904.7 2191.2V2112.3" class="vl"/>
<path d="M750 2075V2197.5M749.2 2196.7H918.7M745.3 2191.2h4.7M745.3 2157.3h4.7M745.3 2123.5h4.7M745.3 2089.7h4.7M764.1 2196.7v4.8M787.5 2196.7v4.8M810.9 2196.7v4.8M834.4 2196.7v4.8M857.8 2196.7v4.8M881.2 2196.7v4.8M904.7 2196.7v4.8" class="ax"/>
<text x="739.5" y="2197" class="vy">0</text>
<text x="739.5" y="2163.1" class="vy">1</text>
<text x="739.5" y="2129.3" class="vy">2</text>
<text x="739.5" y="2095.5" class="vy">3</text>
<text transform="translate(721.6 2135.8) rotate(-90)" class="ve">Expression Level</text>
<text transform="translate(778.1 2215.2) rotate(-64.5)" class="vx">Oligodendrocyte</text>
<text transform="translate(801.5 2215.2) rotate(-64.5)" class="vx">Astrocyte</text>
<text transform="translate(824.9 2215.2) rotate(-64.5)" class="vx">Exc_Neuron</text>
<text transform="translate(848.4 2215.2) rotate(-64.5)" class="vx">Inh_Neuron</text>
<text transform="translate(871.8 2215.2) rotate(-64.5)" class="vx">OPC</text>
<text transform="translate(895.2 2215.2) rotate(-64.5)" class="vx">Microglia</text>
<text transform="translate(918.7 2215.2) rotate(-64.5)" class="vx">Cap_EC</text>
<text x="1063.4" y="2061.2" class="vt">APP</text>
<path d="M1003.7 2191.2l-0.4-1.4l-1.2-1.4l-5.2-4.1l-1.3-1.4l-1-1.3l-0.7-1.4l-0.4-1.4l0.1-19.2l0.7-5.5l0.9-4.2l0.9-2.7l4.7-11l1-2.8l0.9-4.1l0.2-2.8l-0.2-2.7l-0.5-2.8l-3.6-16.5l-4.1-15.1l-0.7-4.1l-0.3-4.2l-0.6 0l-0.4 4.2l-0.7 4.1l-4.1 15.1l-3.6 16.5l-0.5 2.8l-0.1 2.7l0.1 2.8l0.9 4.1l1 2.8l4.7 11l0.9 2.7l1 4.2l0.6 5.5l0.1 19.2l-0.4 1.4l-0.7 1.4l-0.9 1.3l-1.4 1.4l-5.2 4.1l-1.2 1.4l-0.4 1.4z" fill="#F8766D" class="vp"/>
<path d="M1050.5 2191.2l-0.7-1.4l-1.9-1.4l-4.5-2.7l-1.6-1.4l-1-1.4l-0.4-1.3l0-8.3l1-6.9l0.7-2.7l1.4-4.1l4.7-11.1l1-4.1l0.2-2.7l-0.2-2.8l-0.7-2.7l-0.9-2.8l-4.7-11l-1.2-4.1l-0.9-4.2l-0.5-5.5l0-27.5l-0.6 0l-0.1 27.5l-0.5 5.5l-0.8 4.2l-1.3 4.1l-4.7 11l-0.9 2.8l-0.7 2.7l-0.2 2.8l0.2 2.7l1 4.1l4.7 11.1l1.4 4.1l0.7 2.7l1 6.9l0 8.3l-0.4 1.3l-1 1.4l-1.6 1.4l-4.5 2.7l-1.9 1.4l-0.7 1.4z" fill="#5CBE28" class="vp"/>
<path d="M1074 2191.2l-0.3-1.3l-1-1.3l-4.5-3.8l-2.5-2.6l-1.4-2.6l-0.5-2.6l0.1-7.7l0.4-3.9l0.7-3.8l1.7-6.5l4.8-12.8l0.9-3.9l0.3-3.9l-0.1-2.5l-0.8-3.9l-1.3-3.9l-3.9-10.3l-1.7-6.4l-1-7.7l-0.1-11.6l-0.6 0l-0.2 11.6l-1 7.7l-1.7 6.4l-3.9 10.3l-1.2 3.9l-0.8 3.9l-0.2 2.5l0.3 3.9l0.9 3.9l4.8 12.8l1.7 6.5l0.7 3.8l0.4 3.9l0.1 7.7l-0.5 2.6l-1.4 2.6l-2.5 2.6l-4.5 3.8l-1 1.3l-0.3 1.3z" fill="#54DCA9" class="vp"/>
<path d="M1097.4 2191.2l-0.2-1.3l-0.6-1.2l-1-1.3l-4.9-5.1l-1.9-2.5l-1-2.6l-0.5-2.5l0-7.6l0.6-5.1l0.7-3.8l2-6.4l5.1-12.7l0.9-3.8l0.3-3.8l-0.2-2.5l-0.9-3.8l-1.4-3.9l-3.7-8.8l-2-6.4l-0.7-3.8l-0.5-3.8l-0.3-2.6l0-6.3l-0.6 0l-0.1 6.3l-0.2 2.6l-0.5 3.8l-0.8 3.8l-2 6.4l-3.7 8.8l-1.4 3.9l-0.8 3.8l-0.3 2.5l0.3 3.8l1 3.8l5 12.7l2 6.4l0.7 3.8l0.6 5.1l0 7.6l-0.4 2.5l-1.1 2.6l-1.8 2.5l-5 5.1l-0.9 1.3l-0.7 1.2l-0.2 1.3z" fill="#5DCDF4" class="vp"/>
<path d="M1144.2 2191.2l-0.3-2.3l-0.8-2.3l-1.2-2.3l-4.2-6.9l-1.7-3.4l-1.1-3.4l-0.6-3.5l-0.1-5.7l0.7-5.7l1.3-5.8l3.5-11.4l0.6-3.5l0.2-3.4l-0.1-2.3l-0.6-3.5l-3.5-11.4l-1.1-4.6l-0.8-4.6l-0.4-5.7l-0.6 0l-0.5 5.7l-0.7 4.6l-1.2 4.6l-3.5 11.4l-0.5 3.5l-0.2 2.3l0.2 3.4l0.7 3.5l3.4 11.4l1.3 5.8l0.7 5.7l-0.1 5.7l-0.6 3.5l-1.1 3.4l-1.7 3.4l-4.2 6.9l-1.2 2.3l-0.8 2.3l-0.3 2.3z" fill="#FB61D6" class="vp"/>
<path d="M1006 2191.2h21.1M1016.5 2191.2V2108.5M1099.7 2191.2h21.1M1110.3 2191.2V2101.4" class="vl"/>
<path d="M979.1 2075V2197.5M978.3 2196.7H1147.8M974.4 2191.2h4.7M974.4 2162.9h4.7M974.4 2134.7h4.7M974.4 2106.5h4.7M974.4 2078.3h4.7M993.1 2196.7v4.8M1016.5 2196.7v4.8M1040 2196.7v4.8M1063.4 2196.7v4.8M1086.8 2196.7v4.8M1110.3 2196.7v4.8M1133.7 2196.7v4.8" class="ax"/>
<text x="968.6" y="2197" class="vy">0</text>
<text x="968.6" y="2168.7" class="vy">1</text>
<text x="968.6" y="2140.5" class="vy">2</text>
<text x="968.6" y="2112.3" class="vy">3</text>
<text x="968.6" y="2084.1" class="vy">4</text>
<text transform="translate(950.7 2135.8) rotate(-90)" class="ve">Expression Level</text>
<text transform="translate(1007.1 2215.2) rotate(-64.5)" class="vx">Oligodendrocyte</text>
<text transform="translate(1030.5 2215.2) rotate(-64.5)" class="vx">Astrocyte</text>
<text transform="translate(1054 2215.2) rotate(-64.5)" class="vx">Exc_Neuron</text>
<text transform="translate(1077.4 2215.2) rotate(-64.5)" class="vx">Inh_Neuron</text>
<text transform="translate(1100.8 2215.2) rotate(-64.5)" class="vx">OPC</text>
<text transform="translate(1124.3 2215.2) rotate(-64.5)" class="vx">Microglia</text>
<text transform="translate(1147.7 2215.2) rotate(-64.5)" class="vx">Cap_EC</text>
<text x="1292.5" y="2061.2" class="vt">NRXN3</text>
<path d="M1228.1 2191.2l-0.8-1.3l-3.4-2.7l-1.1-1.4l-0.2-1.3l0-25.6l0.7-2.7l0.6-1.3l1.7-2.7l3.1-4.1l0.7-1.3l0.5-1.4l0.2-1.3l-0.2-1.4l-2.2-5.3l-0.6-2.7l0.1-1.4l0.8-2.7l3.9-8l0.7-2.7l0.1-2.7l-0.3-1.4l-0.9-2.7l-1.3-2.7l-4-6.7l-1.3-2.7l-1-2.7l-0.7-2.7l-0.6-4l-0.1-8.1l-0.6 0l-0.1 8.1l-0.6 4l-0.7 2.7l-1 2.7l-1.3 2.7l-4 6.7l-1.3 2.7l-1 2.7l-0.2 1.4l0.1 2.7l0.6 2.7l4 8l0.8 2.7l0.1 1.4l-0.6 2.7l-2.2 5.3l-0.2 1.4l0.2 1.3l0.5 1.4l0.7 1.3l3.1 4.1l1.7 2.7l0.5 1.3l0.8 2.7l0 25.6l-0.2 1.3l-1.1 1.4l-3.4 2.7l-0.8 1.3z" fill="#F8766D" class="vp"/>
<path d="M1256.1 2191.2l-0.4-1l-1.1-1l-4.9-2.9l-2.4-1.9l-1.2-2l-0.2-1l0-13.6l0.5-3.9l1.6-8.8l0.3-3.9l-0.3-3.9l-1.5-8.8l-0.5-3.9l-0.1-21.5l-0.6 0l-0.1 21.5l-0.5 3.9l-1.6 8.8l-0.3 3.9l0.3 3.9l1.6 8.8l0.5 3.9l0 13.6l-0.2 1l-1.2 2l-2.4 1.9l-4.9 2.9l-1.1 1l-0.4 1z" fill="#C4A029" class="vp"/>
<path d="M1272.2 2191.2l-0.5-1.3l-2-2.5l-0.3-1.2l0.1-33.9l0.8-5l1.3-3.7l1.8-3.8l3.7-6.3l1.2-2.5l0.9-2.5l0.4-2.5l-0.3-2.5l-0.7-2.5l-1.2-2.5l-5-8.8l-1.1-2.5l-0.8-2.5l-0.6-2.5l-0.5-3.8l-0.1-7.5l-0.6 0l0 7.5l-0.5 3.8l-0.6 2.5l-0.8 2.5l-1.1 2.5l-5 8.8l-1.2 2.5l-0.8 2.5l-0.2 2.5l0.3 2.5l0.9 2.5l1.3 2.5l3.7 6.3l1.8 3.8l1.2 3.7l0.9 5l0.1 33.9l-0.3 1.2l-2 2.5l-0.5 1.3z" fill="#5CBE28" class="vp"/>
<path d="M1292.8 2191.2l0-54.4l0.1-1.3l0.9-4.1l0.9-2.7l2.1-4.1l3.6-5.4l1.5-2.8l0.9-2.7l0.2-1.3l-0.3-2.8l-1.1-2.7l-5.2-8.1l-1.4-2.7l-1-2.8l-0.7-2.7l-0.4-2.7l-0.2-5.4l-0.6 0l-0.1 5.4l-0.4 2.7l-0.7 2.7l-1 2.8l-1.5 2.7l-5.1 8.1l-1.1 2.7l-0.3 2.8l0.1 1.3l1 2.7l1.5 2.8l3.5 5.4l2.2 4.1l0.9 2.7l0.8 4.1l0.2 1.3l0 54.4z" fill="#54DCA9" class="vp"/>
<path d="M1326.4 2191.2l-0.2-1l-0.5-1l-0.9-1l-4.6-4l-1.9-2l-1.2-2l-0.9-3l0-6.1l0.6-4l1-4l3.4-9l0.4-2l0.2-2l-0.2-2l-0.4-2l-3.6-10.1l-1.1-5l-0.3-2l0-18l-0.6 0l-0.1 18l-0.2 2l-1.1 5l-3.7 10.1l-0.4 2l-0.1 2l0.1 2l0.4 2l3.4 9l1 4l0.6 4l0 6.1l-0.8 3l-1.3 2l-1.9 2l-4.6 4l-0.9 1l-0.5 1l-0.2 1z" fill="#5DCDF4" class="vp"/>
<path d="M1349.9 2191.2l-0.3-0.9l-0.7-1l-5.2-3.7l-2.2-1.9l-1.2-1.9l-0.6-1.8l0-19.7l0.7-3.8l1.9-6.5l0.4-2.8l-0.1-1.9l-0.3-1.9l-1.7-5.6l-0.8-3.8l-0.1-17.8l-0.6 0l-0.2 17.8l-0.8 3.8l-1.7 5.6l-0.3 1.9l-0.1 1.9l0.4 2.8l1.9 6.5l0.7 3.8l0 19.7l-0.5 1.8l-1.3 1.9l-2.2 1.9l-5.2 3.7l-0.7 1l-0.3 0.9z" fill="#A78AFF" class="vp"/>
<path d="M1373.3 2191.2l-0.1-1.1l-0.9-2.1l-1.5-2.2l-4.4-5.4l-1.4-2.2l-0.9-2.1l-0.7-3.3l-0.1-3.2l0.3-3.3l0.8-4.3l2.1-8.7l0.4-4.3l-0.4-4.3l-2.6-10.9l-0.7-5.4l-0.1-23.8l-0.6 0l-0.1 23.8l-0.8 5.4l-2.6 10.9l-0.4 4.3l0.5 4.3l2 8.7l0.8 4.3l0.3 3.3l-0.1 3.2l-0.7 3.3l-0.9 2.1l-1.4 2.2l-4.4 5.4l-1.5 2.2l-0.9 2.1l-0.1 1.1z" fill="#FB61D6" class="vp"/>
<path d="M1208.1 2075V2197.5M1207.3 2196.7H1376.8M1203.4 2191.2h4.7M1203.4 2170.1h4.7M1203.4 2148.9h4.7M1203.4 2127.8h4.7M1203.4 2106.7h4.7M1203.4 2085.6h4.7M1222.2 2196.7v4.8M1245.6 2196.7v4.8M1269 2196.7v4.8M1292.5 2196.7v4.8M1315.9 2196.7v4.8M1339.3 2196.7v4.8M1362.7 2196.7v4.8" class="ax"/>
<text x="1197.6" y="2197" class="vy">0</text>
<text x="1197.6" y="2175.9" class="vy">1</text>
<text x="1197.6" y="2154.7" class="vy">2</text>
<text x="1197.6" y="2133.6" class="vy">3</text>
<text x="1197.6" y="2112.5" class="vy">4</text>
<text x="1197.6" y="2091.4" class="vy">5</text>
<text transform="translate(1179.7 2135.8) rotate(-90)" class="ve">Expression Level</text>
<text transform="translate(1236.2 2215.2) rotate(-64.5)" class="vx">Oligodendrocyte</text>
<text transform="translate(1259.6 2215.2) rotate(-64.5)" class="vx">Astrocyte</text>
<text transform="translate(1283 2215.2) rotate(-64.5)" class="vx">Exc_Neuron</text>
<text transform="translate(1306.5 2215.2) rotate(-64.5)" class="vx">Inh_Neuron</text>
<text transform="translate(1329.9 2215.2) rotate(-64.5)" class="vx">OPC</text>
<text transform="translate(1353.3 2215.2) rotate(-64.5)" class="vx">Microglia</text>
<text transform="translate(1376.7 2215.2) rotate(-64.5)" class="vx">Cap_EC</text>
<text x="1521.5" y="2061.2" class="vt">PDE1A</text>
<path d="M1461.7 2191.2l-0.4-1.4l-1.3-1.4l-5.3-4.1l-1.3-1.4l-1-1.3l-0.6-1.4l-0.3-1.4l0.2-22l1-6.9l2.6-11l0.5-2.7l0.1-2.8l-0.1-2.7l-0.5-2.8l-2.9-12.4l-0.9-6.9l0-27.5l-0.6 0l-0.1 27.5l-0.9 6.9l-2.9 12.4l-0.4 2.8l-0.2 2.7l0.2 2.8l0.4 2.7l2.6 11l1.1 6.9l0.1 22l-0.3 1.4l-0.6 1.4l-1 1.3l-1.3 1.4l-5.3 4.1l-1.2 1.4l-0.5 1.4z" fill="#F8766D" class="vp"/>
<path d="M1508.6 2191.2l-0.7-1.3l-1.9-1.4l-4.5-2.7l-1.6-1.3l-1-1.4l-0.5-1.3l0.1-10.7l0.4-4.1l0.6-4l0.7-2.7l1.3-4l4.5-10.7l0.9-2.7l1-4l0.2-2.7l-0.2-2.7l-0.9-4l-1.5-4l-4-9.4l-1.3-4.1l-0.9-4l-0.8-6.7l-0.1-17.4l-0.6 0l-0.1 17.4l-0.9 6.7l-0.9 4l-1.3 4.1l-3.9 9.4l-1.5 4l-1 4l-0.2 2.7l0.2 2.7l1 4l0.9 2.7l4.5 10.7l1.3 4l0.7 2.7l0.7 4l0.4 4.1l0 10.7l-0.5 1.3l-1 1.4l-1.6 1.3l-4.5 2.7l-1.9 1.4l-0.7 1.3z" fill="#5CBE28" class="vp"/>
<path d="M1532 2191.2l-0.8-1.3l-6.7-3.9l-1.5-1.3l-0.9-1.3l-0.3-1.4l0-95.4l-0.6 0l-0.1 95.4l-0.3 1.4l-0.9 1.3l-1.5 1.3l-6.7 3.9l-0.8 1.3z" fill="#54DCA9" class="vp"/>
<path d="M1464.1 2191.2h21.1M1474.6 2191.2V2108.6M1534.4 2191.2h21.1M1544.9 2191.2V2110.5M1557.8 2191.2h21.1M1568.4 2191.2V2106.4M1581.2 2191.2h21.1M1591.8 2191.2V2092.6" class="vl"/>
<path d="M1437.1 2075V2197.5M1436.3 2196.7H1605.8M1432.4 2191.2h4.7M1432.4 2163.6h4.7M1432.4 2136.1h4.7M1432.4 2108.6h4.7M1432.4 2081.1h4.7M1451.2 2196.7v4.8M1474.6 2196.7v4.8M1498.1 2196.7v4.8M1521.5 2196.7v4.8M1544.9 2196.7v4.8M1568.4 2196.7v4.8M1591.8 2196.7v4.8" class="ax"/>
<text x="1426.6" y="2197" class="vy">0</text>
<text x="1426.6" y="2169.4" class="vy">1</text>
<text x="1426.6" y="2141.9" class="vy">2</text>
<text x="1426.6" y="2114.4" class="vy">3</text>
<text x="1426.6" y="2086.9" class="vy">4</text>
<text transform="translate(1408.7 2135.8) rotate(-90)" class="ve">Expression Level</text>
<text transform="translate(1465.2 2215.2) rotate(-64.5)" class="vx">Oligodendrocyte</text>
<text transform="translate(1488.6 2215.2) rotate(-64.5)" class="vx">Astrocyte</text>
<text transform="translate(1512.1 2215.2) rotate(-64.5)" class="vx">Exc_Neuron</text>
<text transform="translate(1535.5 2215.2) rotate(-64.5)" class="vx">Inh_Neuron</text>
<text transform="translate(1558.9 2215.2) rotate(-64.5)" class="vx">OPC</text>
<text transform="translate(1582.4 2215.2) rotate(-64.5)" class="vx">Microglia</text>
<text transform="translate(1605.8 2215.2) rotate(-64.5)" class="vx">Cap_EC</text>
<text x="1750.5" y="2061.2" class="vt">GRM3</text>
<path d="M1690.8 2191.2l-0.4-1.4l-1.3-1.4l-5.3-4.1l-1.3-1.4l-1-1.3l-0.6-1.4l-0.3-1.4l0-17.9l0.3-4.1l1.2-6.9l3.7-13.7l0.4-2.8l0.2-2.7l-0.2-2.8l-0.4-2.8l-3.7-13.7l-1.2-6.9l-0.3-4.1l0-19.3l-0.6 0l-0.1 19.3l-0.3 4.1l-1.2 6.9l-3.7 13.7l-0.4 2.8l-0.2 2.8l0.2 2.7l0.4 2.8l3.7 13.7l1.2 6.9l0.3 4.1l0 17.9l-0.3 1.4l-0.6 1.4l-1 1.3l-1.3 1.4l-5.3 4.1l-1.2 1.4l-0.5 1.4z" fill="#F8766D" class="vp"/>
<path d="M1714.2 2191.2l-0.4-1.2l-1.1-1.1l-5.1-3.5l-1.4-1.2l-1-1.1l-0.7-1.2l-0.4-1.2l-0.1-27.9l0.7-16.3l-0.1-5.8l-0.6-10.4l0-22.1l-0.6 0l-0.1 22.1l-0.6 10.4l-0.1 5.8l0.7 16.3l-0.1 27.9l-0.4 1.2l-0.7 1.2l-1 1.1l-1.4 1.2l-5 3.5l-1.2 1.1l-0.4 1.2z" fill="#C4A029" class="vp"/>
<path d="M1737.6 2191.2l-0.6-1.2l-1.6-1.2l-4.2-2.5l-1.7-1.2l-1.1-1.2l-0.7-1.2l-0.3-1.3l0-13.4l0.5-18.3l-0.5-18.3l0-37.9l-0.6 0l-0.1 37.9l-0.5 18.3l0.5 18.3l0 13.4l-0.3 1.3l-0.7 1.2l-1.1 1.2l-1.7 1.2l-4.2 2.5l-1.6 1.2l-0.6 1.2z" fill="#5CBE28" class="vp"/>
<path d="M1831.4 2191.2l-0.4-2.6l-1.2-2.5l-4.5-6.4l-2.1-3.9l-1.4-3.8l-0.6-3.8l0-14.1l1-14.1l0.2-6.4l-0.1-6.4l-1.1-15.3l0-23.1l-0.6 0l-0.1 23.1l-1 15.3l-0.2 6.4l0.2 6.4l1 14.1l0 14.1l-0.6 3.8l-1.4 3.8l-2.1 3.9l-4.4 6.4l-1.3 2.5l-0.4 2.6z" fill="#FB61D6" class="vp"/>
<path d="M1740 2191.2h21.1M1750.5 2191.2V2110M1763.4 2191.2h21.1M1774 2191.2V2120.2M1786.8 2191.2h21.1M1797.4 2191.2V2118.2" class="vl"/>
<path d="M1666.2 2075V2197.5M1665.4 2196.7H1834.9M1661.5 2191.2h4.7M1661.5 2163.6h4.7M1661.5 2136.1h4.7M1661.5 2108.6h4.7M1661.5 2081.1h4.7M1680.2 2196.7v4.8M1703.7 2196.7v4.8M1727.1 2196.7v4.8M1750.5 2196.7v4.8M1774 2196.7v4.8M1797.4 2196.7v4.8M1820.8 2196.7v4.8" class="ax"/>
<text x="1655.7" y="2197" class="vy">0</text>
<text x="1655.7" y="2169.4" class="vy">1</text>
<text x="1655.7" y="2141.9" class="vy">2</text>
<text x="1655.7" y="2114.4" class="vy">3</text>
<text x="1655.7" y="2086.9" class="vy">4</text>
<text transform="translate(1637.8 2135.8) rotate(-90)" class="ve">Expression Level</text>
<text transform="translate(1694.2 2215.2) rotate(-64.5)" class="vx">Oligodendrocyte</text>
<text transform="translate(1717.7 2215.2) rotate(-64.5)" class="vx">Astrocyte</text>
<text transform="translate(1741.1 2215.2) rotate(-64.5)" class="vx">Exc_Neuron</text>
<text transform="translate(1764.5 2215.2) rotate(-64.5)" class="vx">Inh_Neuron</text>
<text transform="translate(1788 2215.2) rotate(-64.5)" class="vx">OPC</text>
<text transform="translate(1811.4 2215.2) rotate(-64.5)" class="vx">Microglia</text>
<text transform="translate(1834.8 2215.2) rotate(-64.5)" class="vx">Cap_EC</text>
<text x="1979.6" y="2061.2" class="vt">NRXN3</text>
<path d="M1915.2 2191.2l-0.8-1.3l-3.4-2.7l-1.1-1.4l-0.2-1.3l0-25.6l0.7-2.7l0.6-1.3l1.7-2.7l3.1-4.1l0.7-1.3l0.5-1.4l0.2-1.3l-0.2-1.4l-2.2-5.3l-0.6-2.7l0.1-1.4l0.8-2.7l3.9-8l0.7-2.7l0.1-2.7l-0.3-1.4l-0.9-2.7l-1.3-2.7l-4-6.7l-1.3-2.7l-1-2.7l-0.7-2.7l-0.6-4l-0.1-8.1l-0.6 0l-0.1 8.1l-0.6 4l-0.7 2.7l-1 2.7l-1.3 2.7l-4 6.7l-1.3 2.7l-1 2.7l-0.2 1.4l0.1 2.7l0.6 2.7l4 8l0.8 2.7l0.1 1.4l-0.6 2.7l-2.2 5.3l-0.2 1.4l0.2 1.3l0.5 1.4l0.7 1.3l3.1 4.1l1.7 2.7l0.5 1.3l0.8 2.7l0 25.6l-0.2 1.3l-1.1 1.4l-3.4 2.7l-0.8 1.3z" fill="#F8766D" class="vp"/>
<path d="M1943.3 2191.2l-0.4-1l-1.1-1l-4.9-2.9l-2.4-1.9l-1.2-2l-0.2-1l0-13.6l0.5-3.9l1.6-8.8l0.3-3.9l-0.3-3.9l-1.5-8.8l-0.5-3.9l-0.1-21.5l-0.6 0l-0.1 21.5l-0.5 3.9l-1.6 8.8l-0.3 3.9l0.3 3.9l1.6 8.8l0.5 3.9l0 13.6l-0.2 1l-1.2 2l-2.4 1.9l-4.9 2.9l-1.1 1l-0.4 1z" fill="#C4A029" class="vp"/>
<path d="M1959.3 2191.2l-0.5-1.3l-2-2.5l-0.3-1.2l0.1-33.9l0.8-5l1.3-3.7l1.8-3.8l3.7-6.3l1.2-2.5l0.9-2.5l0.4-2.5l-0.3-2.5l-0.7-2.5l-1.2-2.5l-5-8.8l-1.1-2.5l-0.8-2.5l-0.6-2.5l-0.5-3.8l-0.1-7.5l-0.6 0l0 7.5l-0.5 3.8l-0.6 2.5l-0.8 2.5l-1.1 2.5l-5 8.8l-1.2 2.5l-0.8 2.5l-0.2 2.5l0.3 2.5l0.9 2.5l1.3 2.5l3.7 6.3l1.8 3.8l1.2 3.7l0.9 5l0.1 33.9l-0.3 1.2l-2 2.5l-0.5 1.3z" fill="#5CBE28" class="vp"/>
<path d="M1979.9 2191.2l0-54.4l0.1-1.3l0.9-4.1l0.9-2.7l2.1-4.1l3.6-5.4l1.5-2.8l0.9-2.7l0.2-1.3l-0.3-2.8l-1.1-2.7l-5.2-8.1l-1.4-2.7l-1-2.8l-0.7-2.7l-0.4-2.7l-0.2-5.4l-0.6 0l-0.1 5.4l-0.4 2.7l-0.7 2.7l-1 2.8l-1.5 2.7l-5.1 8.1l-1.1 2.7l-0.3 2.8l0.1 1.3l1 2.7l1.5 2.8l3.5 5.4l2.2 4.1l0.9 2.7l0.8 4.1l0.2 1.3l0 54.4z" fill="#54DCA9" class="vp"/>
<path d="M2013.5 2191.2l-0.2-1l-0.5-1l-0.9-1l-4.6-4l-1.9-2l-1.2-2l-0.9-3l0-6.1l0.6-4l1-4l3.4-9l0.4-2l0.2-2l-0.2-2l-0.4-2l-3.6-10.1l-1.1-5l-0.3-2l0-18l-0.6 0l-0.1 18l-0.2 2l-1.1 5l-3.7 10.1l-0.4 2l-0.1 2l0.1 2l0.4 2l3.4 9l1 4l0.6 4l0 6.1l-0.8 3l-1.3 2l-1.9 2l-4.6 4l-0.9 1l-0.5 1l-0.2 1z" fill="#5DCDF4" class="vp"/>
<path d="M2037 2191.2l-0.3-0.9l-0.7-1l-5.2-3.7l-2.2-1.9l-1.2-1.9l-0.6-1.8l0-19.7l0.7-3.8l1.9-6.5l0.4-2.8l-0.1-1.9l-0.3-1.9l-1.7-5.6l-0.8-3.8l-0.1-17.8l-0.6 0l-0.2 17.8l-0.8 3.8l-1.7 5.6l-0.3 1.9l-0.1 1.9l0.4 2.8l1.9 6.5l0.7 3.8l0 19.7l-0.5 1.8l-1.3 1.9l-2.2 1.9l-5.2 3.7l-0.7 1l-0.3 0.9z" fill="#A78AFF" class="vp"/>
<path d="M2060.4 2191.2l-0.1-1.1l-0.9-2.1l-1.5-2.2l-4.4-5.4l-1.4-2.2l-0.9-2.1l-0.7-3.3l-0.1-3.2l0.3-3.3l0.8-4.3l2.1-8.7l0.4-4.3l-0.4-4.3l-2.6-10.9l-0.7-5.4l-0.1-23.8l-0.6 0l-0.1 23.8l-0.8 5.4l-2.6 10.9l-0.4 4.3l0.5 4.3l2 8.7l0.8 4.3l0.3 3.3l-0.1 3.2l-0.7 3.3l-0.9 2.1l-1.4 2.2l-4.4 5.4l-1.5 2.2l-0.9 2.1l-0.1 1.1z" fill="#FB61D6" class="vp"/>
<path d="M1895.2 2075V2197.5M1894.4 2196.7H2063.9M1890.5 2191.2h4.7M1890.5 2170.1h4.7M1890.5 2148.9h4.7M1890.5 2127.8h4.7M1890.5 2106.7h4.7M1890.5 2085.6h4.7M1909.3 2196.7v4.8M1932.7 2196.7v4.8M1956.1 2196.7v4.8M1979.6 2196.7v4.8M2003 2196.7v4.8M2026.4 2196.7v4.8M2049.9 2196.7v4.8" class="ax"/>
<text x="1884.7" y="2197" class="vy">0</text>
<text x="1884.7" y="2175.9" class="vy">1</text>
<text x="1884.7" y="2154.7" class="vy">2</text>
<text x="1884.7" y="2133.6" class="vy">3</text>
<text x="1884.7" y="2112.5" class="vy">4</text>
<text x="1884.7" y="2091.4" class="vy">5</text>
<text transform="translate(1866.8 2135.8) rotate(-90)" class="ve">Expression Level</text>
<text transform="translate(1923.3 2215.2) rotate(-64.5)" class="vx">Oligodendrocyte</text>
<text transform="translate(1946.7 2215.2) rotate(-64.5)" class="vx">Astrocyte</text>
<text transform="translate(1970.1 2215.2) rotate(-64.5)" class="vx">Exc_Neuron</text>
<text transform="translate(1993.6 2215.2) rotate(-64.5)" class="vx">Inh_Neuron</text>
<text transform="translate(2017 2215.2) rotate(-64.5)" class="vx">OPC</text>
<text transform="translate(2040.4 2215.2) rotate(-64.5)" class="vx">Microglia</text>
<text transform="translate(2063.9 2215.2) rotate(-64.5)" class="vx">Cap_EC</text>
<text x="147.2" y="2417.4" class="vt">LINGO1</text>
<path d="M81.8 2546.7l-0.7-1.3l-3-2.7l-0.8-1.4l0.1-32.4l0.9-4l1.2-2.7l5-8.1l1.8-4l0.5-2.7l0.3-2.7l0.4-5.4l0-2.7l-0.4-2.7l-0.8-2.7l-1.2-2.7l-4.5-8.1l-1.2-2.7l-0.9-2.7l-0.6-2.7l-0.5-4l-0.1-9.5l-0.6 0l-0.1 9.5l-0.6 4l-0.6 2.7l-0.9 2.7l-1.2 2.7l-4.4 8.1l-1.2 2.7l-0.8 2.7l-0.4 2.7l0 2.7l0.3 5.4l0.3 2.7l0.6 2.7l1.7 4l5.1 8.1l1.1 2.7l1 4l0 32.4l-0.7 1.4l-3 2.7l-0.7 1.3z" fill="#F8766D" class="vp"/>
<path d="M105.1 2546.7l-0.6-1.3l-2.8-2.5l-0.8-1.2l0-32.8l0.9-3.8l1.1-2.5l1.4-2.5l3.5-5l1.9-3.8l0.7-2.5l0.3-2.6l0.2-8.8l-0.5-3.7l-0.8-2.6l-1.1-2.5l-4.1-7.5l-2.1-5.1l-1.2-5l-0.4-5.1l-0.6 0l-0.4 5.1l-1.1 5l-2.1 5.1l-4.2 7.5l-1.1 2.5l-0.8 2.6l-0.5 3.7l0.2 8.8l0.3 2.6l0.7 2.5l1.9 3.8l3.5 5l1.5 2.5l1.1 2.5l0.9 3.8l-0.1 32.8l-0.8 1.2l-2.8 2.5l-0.6 1.3z" fill="#C4A029" class="vp"/>
<path d="M126.2 2546.7l-0.3-1.3l-1.5-2.5l-0.3-1.3l0.1-31.9l0.2-2.5l0.7-3.8l1.1-3.8l1.5-3.9l5.2-10.2l1.2-3.8l0.2-2.5l-0.2-2.6l-1.2-3.8l-5.1-10.2l-2-5.1l-0.7-2.5l-0.7-3.9l-0.2-2.5l-0.1-3.8l-0.6 0l-0.1 3.8l-0.3 2.5l-0.6 3.9l-0.7 2.5l-2 5.1l-5.2 10.2l-1.1 3.8l-0.3 2.6l0.3 2.5l1.2 3.8l5.1 10.2l1.6 3.9l1.1 3.8l0.6 3.8l0.3 2.5l0 31.9l-0.3 1.3l-1.4 2.5l-0.4 1.3z" fill="#5CBE28" class="vp"/>
<path d="M152.2 2546.7l-0.6-1.2l-2.7-2.4l-1-1.1l-0.3-1.2l0.1-29.7l0.7-4.7l1.3-4.7l1.5-3.6l4.3-8.3l1.5-3.6l0.7-3.5l0-2.4l-0.4-2.4l-1.2-3.5l-4.3-8.3l-2.1-4.7l-1-3.6l-1.2-5.9l-0.6 0l-1.1 5.9l-1 3.6l-2.1 4.7l-4.3 8.3l-1.2 3.5l-0.4 2.4l0 2.4l0.7 3.5l1.5 3.6l4.3 8.3l1.5 3.6l1.3 4.7l0.7 4.7l0.1 29.7l-0.3 1.2l-1 1.1l-2.7 2.4l-0.6 1.2z" fill="#54DCA9" class="vp"/>
<path d="M174.8 2546.7l-0.5-1.2l-2.4-2.5l-0.8-1.3l0-31.1l0.7-5l1.2-5l1.9-4.9l3.5-7.5l1.6-3.7l1-3.8l0.2-3.7l-0.3-2.5l-1.1-3.7l-4.7-10l-1.9-5l-1-3.7l-0.7-3.7l-0.5-1.3l-0.6 0l-0.5 1.3l-0.7 3.7l-1 3.7l-2 5l-4.6 10l-1.1 3.7l-0.3 2.5l0.2 3.7l1 3.8l1.5 3.7l3.6 7.5l1.9 4.9l1.2 5l0.6 5l0 31.1l-0.7 1.3l-2.4 2.5l-0.5 1.2z" fill="#5DCDF4" class="vp"/>
<path d="M198.2 2546.7l-0.6-1.3l-2.5-2.7l-0.6-1.4l0-32.4l0.8-4l1-2.7l4.4-8.1l1-2.7l0.7-2.7l0.8-5.4l1.3-6.7l0.2-2.7l-0.3-2.7l-0.8-2.7l-1.3-2.7l-4.5-8.1l-1.2-2.7l-0.9-2.7l-0.6-2.7l-0.6-4l0-6.8l-0.6 0l-0.1 6.8l-0.5 4l-0.7 2.7l-0.9 2.7l-1.2 2.7l-4.5 8.1l-1.3 2.7l-0.8 2.7l-0.3 2.7l0.2 2.7l1.3 6.7l0.8 5.4l0.7 2.7l1 2.7l4.4 8.1l1 2.7l0.8 4l0 32.4l-0.6 1.4l-2.5 2.7l-0.6 1.3z" fill="#A78AFF" class="vp"/>
<path d="M220.3 2546.7l-0.4-1.3l-1.6-2.5l-0.4-1.2l0.1-34l0.5-2.6l0.8-2.5l3.4-7.5l0.9-2.6l0.6-2.5l1-7.5l2.4-7.6l0.5-3.8l-0.2-2.5l-0.8-2.5l-1.2-2.5l-5-8.8l-1.5-3.8l-0.9-3.8l-0.6-1.3l-0.6 0l-0.6 1.3l-1 3.8l-1.5 3.8l-4.9 8.8l-1.2 2.5l-0.8 2.5l-0.3 2.5l0.6 3.8l2.3 7.6l1.1 7.5l0.5 2.5l0.9 2.6l3.4 7.5l0.8 2.5l0.5 2.6l0.1 34l-0.4 1.2l-1.6 2.5l-0.4 1.3z" fill="#FB61D6" class="vp"/>
<path d="M62.9 2431.2V2553M62.1 2552.2H231.6M58.2 2546.7h4.7M58.2 2523h4.7M58.2 2499.3h4.7M58.2 2475.6h4.7M58.2 2451.9h4.7M77 2552.2v4.8M100.4 2552.2v4.8M123.8 2552.2v4.8M147.2 2552.2v4.8M170.7 2552.2v4.8M194.1 2552.2v4.8M217.5 2552.2v4.8" class="ax"/>
<text x="52.4" y="2552.5" class="vy">0</text>
<text x="52.4" y="2528.8" class="vy">1</text>
<text x="52.4" y="2505.1" class="vy">2</text>
<text x="52.4" y="2481.4" class="vy">3</text>
<text x="52.4" y="2457.7" class="vy">4</text>
<text transform="translate(34.5 2491.7) rotate(-90)" class="ve">Expression Level</text>
<text transform="translate(91 2570.7) rotate(-64.5)" class="vx">Oligodendrocyte</text>
<text transform="translate(114.4 2570.7) rotate(-64.5)" class="vx">Astrocyte</text>
<text transform="translate(137.8 2570.7) rotate(-64.5)" class="vx">Exc_Neuron</text>
<text transform="translate(161.2 2570.7) rotate(-64.5)" class="vx">Inh_Neuron</text>
<text transform="translate(184.7 2570.7) rotate(-64.5)" class="vx">OPC</text>
<text transform="translate(208.1 2570.7) rotate(-64.5)" class="vx">Microglia</text>
<text transform="translate(231.5 2570.7) rotate(-64.5)" class="vx">Cap_EC</text>
<text x="376.3" y="2417.4" class="vt">SORT1</text>
<path d="M316.5 2546.7l-0.5-1.4l-1.2-1.3l-5.4-4.2l-1.4-1.3l-0.9-1.4l-0.6-1.4l-0.2-1.3l0.1-30.2l0.9-5.5l3.1-11l0.3-4.1l-0.6-4.1l-2.8-9.6l-0.9-5.5l-0.1-27.4l-0.6 0l-0.2 27.4l-0.9 5.5l-2.8 9.6l-0.6 4.1l0.3 4.1l3.1 11l0.9 5.5l0.1 30.2l-0.2 1.3l-0.6 1.4l-0.9 1.4l-1.4 1.3l-5.4 4.2l-1.2 1.3l-0.5 1.4z" fill="#F8766D" class="vp"/>
<path d="M363.4 2546.7l-0.4-1.2l-1.2-1.1l-5.3-3.5l-1.3-1.2l-0.9-1.1l-0.6-1.2l-0.5-2.3l0-3.5l0.8-15.1l0.1-7l-0.9-20.9l0-34.8l-0.6 0l-0.1 34.8l-0.9 20.9l0.1 7l0.8 15.1l0 3.5l-0.5 2.3l-0.6 1.2l-0.9 1.1l-1.3 1.2l-5.2 3.5l-1.3 1.1l-0.4 1.2z" fill="#5CBE28" class="vp"/>
<path d="M457.1 2546.7l-0.3-2.3l-0.8-2.3l-1.3-2.4l-4.3-6.9l-1.7-3.5l-1-3.5l-0.6-3.5l-0.2-3.5l0.1-5.8l1.4-17.4l0.3-7l-0.3-7l-1.4-17.4l-0.1-10.4l-0.6 0l-0.2 10.4l-1.4 17.4l-0.3 7l0.3 7l1.4 17.4l0.1 5.8l-0.2 3.5l-0.6 3.5l-1 3.5l-1.7 3.5l-4.3 6.9l-1.3 2.4l-0.8 2.3l-0.3 2.3z" fill="#FB61D6" class="vp"/>
<path d="M318.9 2546.7h21.1M329.4 2546.7V2455.3M365.7 2546.7h21.1M376.3 2546.7V2459.9M389.2 2546.7h21.1M399.7 2546.7V2475.1M412.6 2546.7h21.1M423.2 2546.7V2455.3" class="vl"/>
<path d="M291.9 2431.2V2553M291.1 2552.2H460.6M287.2 2546.7h4.7M287.2 2516.2h4.7M287.2 2485.8h4.7M287.2 2455.3h4.7M306 2552.2v4.8M329.4 2552.2v4.8M352.9 2552.2v4.8M376.3 2552.2v4.8M399.7 2552.2v4.8M423.2 2552.2v4.8M446.6 2552.2v4.8" class="ax"/>
<text x="281.4" y="2552.5" class="vy">0</text>
<text x="281.4" y="2522" class="vy">1</text>
<text x="281.4" y="2491.6" class="vy">2</text>
<text x="281.4" y="2461.1" class="vy">3</text>
<text transform="translate(263.5 2491.7) rotate(-90)" class="ve">Expression Level</text>
<text transform="translate(320 2570.7) rotate(-64.5)" class="vx">Oligodendrocyte</text>
<text transform="translate(343.4 2570.7) rotate(-64.5)" class="vx">Astrocyte</text>
<text transform="translate(366.9 2570.7) rotate(-64.5)" class="vx">Exc_Neuron</text>
<text transform="translate(390.3 2570.7) rotate(-64.5)" class="vx">Inh_Neuron</text>
<text transform="translate(413.7 2570.7) rotate(-64.5)" class="vx">OPC</text>
<text transform="translate(437.2 2570.7) rotate(-64.5)" class="vx">Microglia</text>
<text transform="translate(460.6 2570.7) rotate(-64.5)" class="vx">Cap_EC</text>
<text x="605.3" y="2417.4" class="vt">NRCAM</text>
<path d="M569 2546.7l-0.3-1.4l-1-1.3l-4.7-4.1l-2.5-2.8l-0.8-1.3l-0.8-2.8l-0.1-8.1l0.4-4.1l0.8-4.1l0.7-2.8l1.3-4.1l3.5-8.1l1.5-4.1l0.6-2.8l0.3-2.7l-0.1-2.7l-0.8-4.1l-1-2.8l-4.5-10.9l-1.2-4.1l-0.9-4.1l-0.6-5.4l0-20.5l-0.6 0l-0.1 20.5l-0.6 5.4l-0.9 4.1l-1.2 4.1l-4.5 10.9l-0.9 2.8l-0.9 4.1l-0.1 2.7l0.3 2.7l0.6 2.8l1.5 4.1l3.5 8.1l1.4 4.1l0.6 2.8l0.8 4.1l0.4 4.1l-0.1 8.1l-0.8 2.8l-0.8 1.3l-2.5 2.8l-4.7 4.1l-0.9 1.3l-0.4 1.4z" fill="#C4A029" class="vp"/>
<path d="M592.4 2546.7l-1.1-1.2l-5.5-2.5l-2.1-1.2l-1.2-1.3l-0.3-1.2l0.1-13.6l0.9-6.1l1-3.7l1-2.5l5-9.9l1.1-2.4l1-3.7l0.1-2.5l-0.3-2.5l-0.8-2.4l-1-2.5l-5-9.9l-1-2.4l-1.1-3.7l-0.9-6.2l-0.1-17.3l-0.6 0l-0.2 17.3l-0.9 6.2l-1.1 3.7l-1 2.4l-5 9.9l-1 2.5l-0.8 2.4l-0.3 2.5l0.2 2.5l1 3.7l1 2.4l5 9.9l1 2.5l1 3.7l1 6.1l0 13.6l-0.3 1.2l-1.2 1.3l-2.1 1.2l-5.5 2.5l-1.1 1.2z" fill="#5CBE28" class="vp"/>
<path d="M615.9 2546.7l-0.4-1.1l-1.1-1.1l-5.1-3.3l-1.3-1.1l-1.1-1.1l-0.7-1.1l-0.4-1.1l-0.1-11l0.3-3.3l0.9-5.6l2.5-12.1l0.5-5.5l-0.5-5.5l-2.6-12.1l-0.8-5.5l-0.3-3.3l0-14.4l-0.6 0l-0.1 14.4l-0.3 3.3l-0.8 5.5l-2.6 12.1l-0.5 5.5l0.5 5.5l2.6 12.1l0.8 5.6l0.3 3.3l-0.1 11l-0.4 1.1l-0.7 1.1l-1 1.1l-1.4 1.1l-5.1 3.3l-1.1 1.1l-0.4 1.1z" fill="#54DCA9" class="vp"/>
<path d="M632.5 2546.7l-0.3-1.3l-2.5-4l-0.5-1.4l0-39.9l0.5-4l1-4l1-2.7l1.3-2.7l5-9.3l1-2.6l0.2-1.4l0.1-2.6l-0.5-2.7l-1-2.7l-5.1-9.3l-1.7-4l-1.4-5.3l-0.3-2.7l-0.2-4l-0.6 0l-0.2 4l-0.3 2.7l-1.4 5.3l-1.7 4l-5.1 9.3l-1 2.7l-0.5 2.7l0.1 2.6l0.3 1.4l0.9 2.6l5 9.3l1.3 2.7l1 2.7l1 4l0.5 4l0 39.9l-0.5 1.4l-2.5 4l-0.3 1.3z" fill="#5DCDF4" class="vp"/>
<path d="M524.5 2546.7h21.1M535 2546.7V2466.4M641.6 2546.7h21.1M652.2 2546.7V2471.7M665.1 2546.7h21.1M675.6 2546.7V2479.6" class="vl"/>
<path d="M521 2431.2V2553M520.2 2552.2H689.7M516.3 2546.7h4.7M516.3 2520.4h4.7M516.3 2494.1h4.7M516.3 2467.8h4.7M516.3 2441.4h4.7M535 2552.2v4.8M558.5 2552.2v4.8M581.9 2552.2v4.8M605.3 2552.2v4.8M628.8 2552.2v4.8M652.2 2552.2v4.8M675.6 2552.2v4.8" class="ax"/>
<text x="510.5" y="2552.5" class="vy">0</text>
<text x="510.5" y="2526.2" class="vy">1</text>
<text x="510.5" y="2499.9" class="vy">2</text>
<text x="510.5" y="2473.6" class="vy">3</text>
<text x="510.5" y="2447.2" class="vy">4</text>
<text transform="translate(492.6 2491.7) rotate(-90)" class="ve">Expression Level</text>
<text transform="translate(549 2570.7) rotate(-64.5)" class="vx">Oligodendrocyte</text>
<text transform="translate(572.5 2570.7) rotate(-64.5)" class="vx">Astrocyte</text>
<text transform="translate(595.9 2570.7) rotate(-64.5)" class="vx">Exc_Neuron</text>
<text transform="translate(619.3 2570.7) rotate(-64.5)" class="vx">Inh_Neuron</text>
<text transform="translate(642.8 2570.7) rotate(-64.5)" class="vx">OPC</text>
<text transform="translate(666.2 2570.7) rotate(-64.5)" class="vx">Microglia</text>
<text transform="translate(689.6 2570.7) rotate(-64.5)" class="vx">Cap_EC</text>
<text x="834.4" y="2417.4" class="vt">ADAM23</text>
<path d="M821.5 2546.7l-0.6-1.4l-1.6-1.3l-4.1-2.7l-1.7-1.4l-1.2-1.4l-0.6-1.3l-0.4-1.4l0-6.8l0.8-6.8l1.7-6.8l2.7-8.1l1.2-4.1l0.5-2.7l0.2-2.7l-0.1-2.8l-0.7-4l-4.3-13.6l-1-4.1l-0.6-4.1l-0.4-4.1l0-27.2l-0.6 0l-0.1 27.2l-0.4 4.1l-0.6 4.1l-1 4.1l-4.3 13.6l-0.7 4l-0.1 2.8l0.2 2.7l0.5 2.7l1.2 4.1l2.7 8.1l1.7 6.8l0.8 6.8l0 6.8l-0.3 1.4l-0.7 1.3l-1.2 1.4l-1.7 1.4l-4.1 2.7l-1.6 1.3l-0.6 1.4z" fill="#5CBE28" class="vp"/>
<path d="M844.9 2546.7l-0.3-1.2l-0.8-1.3l-6.7-6.2l-1.6-2.4l-0.7-2.5l-0.1-6.2l0.2-3.7l2.3-17.3l0.3-6.2l-0.3-4.9l-1.7-12.4l-0.8-7.4l0-27.2l-0.6 0l-0.1 27.2l-0.7 7.4l-1.8 12.4l-0.3 4.9l0.3 6.2l2.3 17.3l0.2 3.7l-0.1 6.2l-0.7 2.5l-1.6 2.4l-6.7 6.2l-0.8 1.3l-0.3 1.2z" fill="#54DCA9" class="vp"/>
<path d="M753.5 2546.7h21.1M764.1 2546.7V2449.4M777 2546.7h21.1M787.5 2546.7V2443.8M847.3 2546.7h21.1M857.8 2546.7V2444.7M870.7 2546.7h21.1M881.2 2546.7V2471M894.1 2546.7h21.1M904.7 2546.7V2477.2" class="vl"/>
<path d="M750 2431.2V2553M749.2 2552.2H918.7M745.3 2546.7h4.7M745.3 2515.8h4.7M745.3 2484.9h4.7M745.3 2454h4.7M764.1 2552.2v4.8M787.5 2552.2v4.8M810.9 2552.2v4.8M834.4 2552.2v4.8M857.8 2552.2v4.8M881.2 2552.2v4.8M904.7 2552.2v4.8" class="ax"/>
<text x="739.5" y="2552.5" class="vy">0</text>
<text x="739.5" y="2521.6" class="vy">1</text>
<text x="739.5" y="2490.7" class="vy">2</text>
<text x="739.5" y="2459.8" class="vy">3</text>
<text transform="translate(721.6 2491.7) rotate(-90)" class="ve">Expression Level</text>
<text transform="translate(778.1 2570.7) rotate(-64.5)" class="vx">Oligodendrocyte</text>
<text transform="translate(801.5 2570.7) rotate(-64.5)" class="vx">Astrocyte</text>
<text transform="translate(824.9 2570.7) rotate(-64.5)" class="vx">Exc_Neuron</text>
<text transform="translate(848.4 2570.7) rotate(-64.5)" class="vx">Inh_Neuron</text>
<text transform="translate(871.8 2570.7) rotate(-64.5)" class="vx">OPC</text>
<text transform="translate(895.2 2570.7) rotate(-64.5)" class="vx">Microglia</text>
<text transform="translate(918.7 2570.7) rotate(-64.5)" class="vx">Cap_EC</text>
<text x="1063.4" y="2417.4" class="vt">APLP2</text>
<path d="M1050.5 2546.7l-0.7-1.4l-1.7-1.3l-4.4-2.8l-1.7-1.4l-1-1.3l-0.5-1.4l-0.2-1.4l0.1-6.9l0.9-17.8l0.2-8.3l-0.2-8.2l-1-19.3l0-38.5l-0.6 0l-0.1 38.5l-1 19.3l-0.2 8.2l0.2 8.3l1 17.8l0 6.9l-0.2 1.4l-0.5 1.4l-1 1.3l-1.7 1.4l-4.4 2.8l-1.7 1.3l-0.7 1.4z" fill="#5CBE28" class="vp"/>
<path d="M1074 2546.7l-0.4-1.3l-1.1-1.3l-5-4l-1.4-1.3l-1-1.3l-0.7-1.3l-0.6-2.7l0.1-9.2l1.4-19.7l0.3-7.9l-0.3-7.9l-1.4-21.1l-0.1-26.3l-0.6 0l-0.1 26.3l-1.5 21.1l-0.2 7.9l0.2 7.9l1.4 19.7l0.1 9.2l-0.6 2.7l-0.7 1.3l-1 1.3l-1.4 1.3l-5 4l-1.1 1.3l-0.4 1.3z" fill="#54DCA9" class="vp"/>
<path d="M1144.2 2546.7l-0.3-1.1l-1-1.2l-4.7-3.4l-2.5-2.3l-0.8-1.1l-0.9-2.3l0-33l0.9-14.8l-0.1-4.6l-0.7-10.3l-0.1-17l-0.6 0l-0.1 17l-0.8 10.3l-0.1 4.6l0.9 14.8l0 33l-0.9 2.3l-0.8 1.1l-2.5 2.3l-4.7 3.4l-0.9 1.2l-0.4 1.1z" fill="#FB61D6" class="vp"/>
<path d="M982.6 2546.7h21.1M993.1 2546.7V2442.4M1006 2546.7h21.1M1016.5 2546.7V2458.7M1076.3 2546.7h21.1M1086.8 2546.7V2456.2M1099.7 2546.7h21.1M1110.3 2546.7V2455.6" class="vl"/>
<path d="M979.1 2431.2V2553M978.3 2552.2H1147.8M974.4 2546.7h4.7M974.4 2515.3h4.7M974.4 2483.8h4.7M974.4 2452.4h4.7M993.1 2552.2v4.8M1016.5 2552.2v4.8M1040 2552.2v4.8M1063.4 2552.2v4.8M1086.8 2552.2v4.8M1110.3 2552.2v4.8M1133.7 2552.2v4.8" class="ax"/>
<text x="968.6" y="2552.5" class="vy">0</text>
<text x="968.6" y="2521.1" class="vy">1</text>
<text x="968.6" y="2489.6" class="vy">2</text>
<text x="968.6" y="2458.2" class="vy">3</text>
<text transform="translate(950.7 2491.7) rotate(-90)" class="ve">Expression Level</text>
<text transform="translate(1007.1 2570.7) rotate(-64.5)" class="vx">Oligodendrocyte</text>
<text transform="translate(1030.5 2570.7) rotate(-64.5)" class="vx">Astrocyte</text>
<text transform="translate(1054 2570.7) rotate(-64.5)" class="vx">Exc_Neuron</text>
<text transform="translate(1077.4 2570.7) rotate(-64.5)" class="vx">Inh_Neuron</text>
<text transform="translate(1100.8 2570.7) rotate(-64.5)" class="vx">OPC</text>
<text transform="translate(1124.3 2570.7) rotate(-64.5)" class="vx">Microglia</text>
<text transform="translate(1147.7 2570.7) rotate(-64.5)" class="vx">Cap_EC</text>
<text x="1292.5" y="2417.4" class="vt">NXPH1</text>
<path d="M1303 2546.7l-0.3-1.4l-0.9-1.3l-5.8-5.5l-1.2-1.4l-1.4-2.7l-0.6-2.8l0.1-15.1l0.4-5.5l1.3-8.2l3.2-13.7l0.6-4.1l0.2-4.1l-0.1-2.8l-0.6-4.1l-3.1-13.7l-1.2-6.9l-0.8-8.2l0-8.2l-0.6 0l-0.1 8.2l-0.8 8.2l-1.2 6.9l-3.1 13.7l-0.5 4.1l-0.2 2.8l0.2 4.1l0.6 4.1l3.2 13.7l1.3 8.2l0.5 5.5l0 15.1l-0.5 2.8l-1.5 2.7l-1.2 1.4l-5.8 5.5l-0.9 1.3l-0.3 1.4z" fill="#54DCA9" class="vp"/>
<path d="M1324.7 2546.7l-0.2-1.3l-0.6-1.3l-0.8-1.2l-4.3-5.1l-0.8-1.3l-1.2-2.6l-0.5-2.5l0-9l0.6-5.1l0.7-3.8l2.1-6.4l3.9-8.9l1.6-3.9l0.9-3.8l0.3-2.6l-0.3-3.8l-1-3.8l-5.5-12.8l-2-6.4l-0.8-3.8l-0.4-3.8l-0.3-9l-0.6 0l-0.2 9l-0.5 3.8l-0.7 3.8l-2 6.4l-5.5 12.8l-1 3.8l-0.3 3.8l0.2 2.6l1 3.8l1.5 3.9l4 8.9l2 6.4l0.8 3.8l0.6 5.1l0 9l-0.6 2.5l-1.1 2.6l-0.9 1.3l-4.2 5.1l-0.9 1.2l-0.5 1.3l-0.2 1.3z" fill="#5DCDF4" class="vp"/>
<path d="M1211.6 2546.7h21.1M1222.2 2546.7V2486.1M1235 2546.7h21.1M1245.6 2546.7V2486.7M1258.5 2546.7h21.1M1269 2546.7V2484.1M1328.8 2546.7h21.1M1339.3 2546.7V2489.9M1352.2 2546.7h21.1M1362.7 2546.7V2491.7" class="vl"/>
<path d="M1208.1 2431.2V2553M1207.3 2552.2H1376.8M1203.4 2546.7h4.7M1203.4 2521.5h4.7M1203.4 2496.2h4.7M1203.4 2471h4.7M1203.4 2445.8h4.7M1222.2 2552.2v4.8M1245.6 2552.2v4.8M1269 2552.2v4.8M1292.5 2552.2v4.8M1315.9 2552.2v4.8M1339.3 2552.2v4.8M1362.7 2552.2v4.8" class="ax"/>
<text x="1197.6" y="2552.5" class="vy">0</text>
<text x="1197.6" y="2527.3" class="vy">1</text>
<text x="1197.6" y="2502" class="vy">2</text>
<text x="1197.6" y="2476.8" class="vy">3</text>
<text x="1197.6" y="2451.6" class="vy">4</text>
<text transform="translate(1179.7 2491.7) rotate(-90)" class="ve">Expression Level</text>
<text transform="translate(1236.2 2570.7) rotate(-64.5)" class="vx">Oligodendrocyte</text>
<text transform="translate(1259.6 2570.7) rotate(-64.5)" class="vx">Astrocyte</text>
<text transform="translate(1283 2570.7) rotate(-64.5)" class="vx">Exc_Neuron</text>
<text transform="translate(1306.5 2570.7) rotate(-64.5)" class="vx">Inh_Neuron</text>
<text transform="translate(1329.9 2570.7) rotate(-64.5)" class="vx">OPC</text>
<text transform="translate(1353.3 2570.7) rotate(-64.5)" class="vx">Microglia</text>
<text transform="translate(1376.7 2570.7) rotate(-64.5)" class="vx">Cap_EC</text>
<text x="1521.5" y="2417.4" class="vt">CALM1</text>
<path d="M1461.7 2546.7l-0.5-1.1l-1.3-1.1l-5.4-3.3l-1.3-1.1l-1-1.1l-0.5-1.1l-0.2-1.1l0-23l0.7-4.4l1.7-7.7l0.3-3.3l-0.3-3.3l-1.8-7.7l-0.5-3.3l-0.1-25.3l-0.6 0l-0.2 25.3l-0.5 3.3l-1.8 7.7l-0.3 3.3l0.3 3.3l1.8 7.7l0.6 4.4l0 23l-0.2 1.1l-0.5 1.1l-0.9 1.1l-1.4 1.1l-5.4 3.3l-1.3 1.1l-0.5 1.1z" fill="#F8766D" class="vp"/>
<path d="M1485.2 2546.7l-0.4-1l-1.2-1l-5.1-3.1l-1.4-1l-1-1.1l-1-2l-0.1-16.4l0.5-5.1l1.3-9.2l0.3-5.1l-0.3-4.1l-1.3-9.2l-0.5-5.1l0-18.4l-0.6 0l-0.1 18.4l-0.5 5.1l-1.3 9.2l-0.3 4.1l0.3 5.1l1.3 9.2l0.5 5.1l-0.1 16.4l-1 2l-1 1.1l-1.4 1l-5.1 3.1l-1.2 1l-0.4 1z" fill="#C4A029" class="vp"/>
<path d="M1508.4 2546.7l-1-1.4l-5.3-2.7l-2-1.3l-1-1.4l-0.4-1.3l0.1-2.7l0.3-2.7l1.3-5.5l2-5.4l4.9-10.8l1.1-4.1l0.2-2.7l-0.1-2.7l-1.1-4l-6-13.6l-1.3-4l-1.1-5.5l-0.5-5.4l-0.1-31.1l-0.6 0l-0.1 31.1l-0.5 5.4l-1.1 5.5l-1.3 4l-6 13.6l-1 4l-0.2 2.7l0.2 2.7l1.1 4.1l4.9 10.8l2 5.4l1.3 5.5l0.4 2.7l0 2.7l-0.3 1.3l-1.1 1.4l-2 1.3l-5.3 2.7l-1 1.4z" fill="#5CBE28" class="vp"/>
<path d="M1532 2546.7l-0.4-1.1l-1.1-1.2l-5-3.4l-1.4-1.2l-1-1.1l-0.7-1.1l-0.4-1.2l-0.2-1.1l0-5.7l0.4-4.6l0.9-5.7l2.3-11.5l0.5-5.7l-0.5-5.7l-2.6-12.6l-0.9-6.8l-0.1-21.8l-0.6 0l-0.2 21.8l-0.9 6.8l-2.6 12.6l-0.5 5.7l0.5 5.7l2.3 11.5l0.9 5.7l0.4 4.6l0 5.7l-0.2 1.1l-0.4 1.2l-0.6 1.1l-1.1 1.1l-1.3 1.2l-5.1 3.4l-1.1 1.2l-0.4 1.1z" fill="#54DCA9" class="vp"/>
<path d="M1555.5 2546.7l-0.2-0.9l-0.5-0.9l-0.9-1l-4.6-3.6l-1.9-1.9l-1.3-1.8l-0.7-1.8l0-12l0.6-3.6l1.9-7.4l0.4-3.6l-0.4-3.7l-1.9-7.4l-0.6-3.6l-0.1-20.2l-0.6 0l-0.2 20.2l-0.6 3.6l-1.9 7.4l-0.4 3.7l0.4 3.6l1.9 7.4l0.6 3.6l0 12l-0.7 1.8l-1.3 1.8l-1.9 1.9l-4.6 3.6l-0.8 1l-0.6 0.9l-0.2 0.9z" fill="#5DCDF4" class="vp"/>
<path d="M1602.3 2546.7l-0.1-1.1l-0.9-2.2l-1.6-2.2l-3.8-4.4l-2.1-3.3l-0.9-2.2l-0.7-3.3l0-5.5l0.5-3.3l0.5-2.2l0.8-2.1l1.4-3.3l4.9-8.8l1-3.3l0.3-2.2l-0.3-2.2l-0.7-2.2l-1-2.2l-4.8-8.8l-0.9-2.2l-1-3.3l-0.6-3.3l-0.2-2.2l0-12.1l-0.6 0l-0.1 12.1l-0.2 2.2l-0.6 3.3l-1 3.3l-0.9 2.2l-4.8 8.8l-1 2.2l-0.7 2.2l-0.2 2.2l0.2 2.2l1.1 3.3l4.8 8.8l1.5 3.3l0.7 2.1l0.5 2.2l0.5 3.3l0 5.5l-0.7 3.3l-0.9 2.2l-2.1 3.3l-3.7 4.4l-1.6 2.2l-1 2.2l-0.1 1.1z" fill="#FB61D6" class="vp"/>
<path d="M1557.8 2546.7h21.1M1568.4 2546.7V2455.2" class="vl"/>
<path d="M1437.1 2431.2V2553M1436.3 2552.2H1605.8M1432.4 2546.7h4.7M1432.4 2522.6h4.7M1432.4 2498.6h4.7M1432.4 2474.5h4.7M1432.4 2450.4h4.7M1451.2 2552.2v4.8M1474.6 2552.2v4.8M1498.1 2552.2v4.8M1521.5 2552.2v4.8M1544.9 2552.2v4.8M1568.4 2552.2v4.8M1591.8 2552.2v4.8" class="ax"/>
<text x="1426.6" y="2552.5" class="vy">0</text>
<text x="1426.6" y="2528.4" class="vy">1</text>
<text x="1426.6" y="2504.4" class="vy">2</text>
<text x="1426.6" y="2480.3" class="vy">3</text>
<text x="1426.6" y="2456.2" class="vy">4</text>
<text transform="translate(1408.7 2491.7) rotate(-90)" class="ve">Expression Level</text>
<text transform="translate(1465.2 2570.7) rotate(-64.5)" class="vx">Oligodendrocyte</text>
<text transform="translate(1488.6 2570.7) rotate(-64.5)" class="vx">Astrocyte</text>
<text transform="translate(1512.1 2570.7) rotate(-64.5)" class="vx">Exc_Neuron</text>
<text transform="translate(1535.5 2570.7) rotate(-64.5)" class="vx">Inh_Neuron</text>
<text transform="translate(1558.9 2570.7) rotate(-64.5)" class="vx">OPC</text>
<text transform="translate(1582.4 2570.7) rotate(-64.5)" class="vx">Microglia</text>
<text transform="translate(1605.8 2570.7) rotate(-64.5)" class="vx">Cap_EC</text>
<text x="1750.5" y="2417.4" class="vt">CALM1</text>
<path d="M1690.8 2546.7l-0.5-1.1l-1.3-1.1l-5.4-3.3l-1.3-1.1l-1-1.1l-0.5-1.1l-0.2-1.1l0-23l0.7-4.4l1.7-7.7l0.3-3.3l-0.3-3.3l-1.8-7.7l-0.5-3.3l-0.1-25.3l-0.6 0l-0.2 25.3l-0.5 3.3l-1.8 7.7l-0.3 3.3l0.3 3.3l1.8 7.7l0.6 4.4l0 23l-0.2 1.1l-0.5 1.1l-0.9 1.1l-1.4 1.1l-5.4 3.3l-1.3 1.1l-0.5 1.1z" fill="#F8766D" class="vp"/>
<path d="M1714.2 2546.7l-0.4-1l-1.2-1l-5.1-3.1l-1.4-1l-1-1.1l-1-2l-0.1-16.4l0.5-5.1l1.3-9.2l0.3-5.1l-0.3-4.1l-1.3-9.2l-0.5-5.1l0-18.4l-0.6 0l-0.1 18.4l-0.5 5.1l-1.3 9.2l-0.3 4.1l0.3 5.1l1.3 9.2l0.5 5.1l-0.1 16.4l-1 2l-1 1.1l-1.4 1l-5.1 3.1l-1.2 1l-0.4 1z" fill="#C4A029" class="vp"/>
<path d="M1737.4 2546.7l-1-1.4l-5.3-2.7l-2-1.3l-1-1.4l-0.4-1.3l0.1-2.7l0.3-2.7l1.3-5.5l2-5.4l4.9-10.8l1.1-4.1l0.2-2.7l-0.1-2.7l-1.1-4l-6-13.6l-1.3-4l-1.1-5.5l-0.5-5.4l-0.1-31.1l-0.6 0l-0.1 31.1l-0.5 5.4l-1.1 5.5l-1.3 4l-6 13.6l-1 4l-0.2 2.7l0.2 2.7l1.1 4.1l4.9 10.8l2 5.4l1.3 5.5l0.4 2.7l0 2.7l-0.3 1.3l-1.1 1.4l-2 1.3l-5.3 2.7l-1 1.4z" fill="#5CBE28" class="vp"/>
<path d="M1761.1 2546.7l-0.4-1.1l-1.1-1.2l-5-3.4l-1.4-1.2l-1-1.1l-0.7-1.1l-0.4-1.2l-0.2-1.1l0-5.7l0.4-4.6l0.9-5.7l2.3-11.5l0.5-5.7l-0.5-5.7l-2.6-12.6l-0.9-6.8l-0.1-21.8l-0.6 0l-0.2 21.8l-0.9 6.8l-2.6 12.6l-0.5 5.7l0.5 5.7l2.3 11.5l0.9 5.7l0.4 4.6l0 5.7l-0.2 1.1l-0.4 1.2l-0.6 1.1l-1.1 1.1l-1.3 1.2l-5.1 3.4l-1.1 1.2l-0.4 1.1z" fill="#54DCA9" class="vp"/>
<path d="M1784.5 2546.7l-0.2-0.9l-0.5-0.9l-0.9-1l-4.6-3.6l-1.9-1.9l-1.3-1.8l-0.7-1.8l0-12l0.6-3.6l1.9-7.4l0.4-3.6l-0.4-3.7l-1.9-7.4l-0.6-3.6l-0.1-20.2l-0.6 0l-0.2 20.2l-0.6 3.6l-1.9 7.4l-0.4 3.7l0.4 3.6l1.9 7.4l0.6 3.6l0 12l-0.7 1.8l-1.3 1.8l-1.9 1.9l-4.6 3.6l-0.8 1l-0.6 0.9l-0.2 0.9z" fill="#5DCDF4" class="vp"/>
<path d="M1831.4 2546.7l-0.1-1.1l-0.9-2.2l-1.6-2.2l-3.8-4.4l-2.1-3.3l-0.9-2.2l-0.7-3.3l0-5.5l0.5-3.3l0.5-2.2l0.8-2.1l1.4-3.3l4.9-8.8l1-3.3l0.3-2.2l-0.3-2.2l-0.7-2.2l-1-2.2l-4.8-8.8l-0.9-2.2l-1-3.3l-0.6-3.3l-0.2-2.2l0-12.1l-0.6 0l-0.1 12.1l-0.2 2.2l-0.6 3.3l-1 3.3l-0.9 2.2l-4.8 8.8l-1 2.2l-0.7 2.2l-0.2 2.2l0.2 2.2l1.1 3.3l4.8 8.8l1.5 3.3l0.7 2.1l0.5 2.2l0.5 3.3l0 5.5l-0.7 3.3l-0.9 2.2l-2.1 3.3l-3.7 4.4l-1.6 2.2l-1 2.2l-0.1 1.1z" fill="#FB61D6" class="vp"/>
<path d="M1786.8 2546.7h21.1M1797.4 2546.7V2455.2" class="vl"/>
<path d="M1666.2 2431.2V2553M1665.4 2552.2H1834.9M1661.5 2546.7h4.7M1661.5 2522.6h4.7M1661.5 2498.6h4.7M1661.5 2474.5h4.7M1661.5 2450.4h4.7M1680.2 2552.2v4.8M1703.7 2552.2v4.8M1727.1 2552.2v4.8M1750.5 2552.2v4.8M1774 2552.2v4.8M1797.4 2552.2v4.8M1820.8 2552.2v4.8" class="ax"/>
<text x="1655.7" y="2552.5" class="vy">0</text>
<text x="1655.7" y="2528.4" class="vy">1</text>
<text x="1655.7" y="2504.4" class="vy">2</text>
<text x="1655.7" y="2480.3" class="vy">3</text>
<text x="1655.7" y="2456.2" class="vy">4</text>
<text transform="translate(1637.8 2491.7) rotate(-90)" class="ve">Expression Level</text>
<text transform="translate(1694.2 2570.7) rotate(-64.5)" class="vx">Oligodendrocyte</text>
<text transform="translate(1717.7 2570.7) rotate(-64.5)" class="vx">Astrocyte</text>
<text transform="translate(1741.1 2570.7) rotate(-64.5)" class="vx">Exc_Neuron</text>
<text transform="translate(1764.5 2570.7) rotate(-64.5)" class="vx">Inh_Neuron</text>
<text transform="translate(1788 2570.7) rotate(-64.5)" class="vx">OPC</text>
<text transform="translate(1811.4 2570.7) rotate(-64.5)" class="vx">Microglia</text>
<text transform="translate(1834.8 2570.7) rotate(-64.5)" class="vx">Cap_EC</text>
<text x="1979.6" y="2417.4" class="vt">NLGN1</text>
<path d="M1919.8 2546.7l-0.5-1.3l-1.5-1.4l-5.8-3.9l-1.2-1.4l-0.8-1.3l-0.4-1.3l0-18.6l0.1-1.3l0.4-2.7l0.8-2.6l1.2-2.7l3.9-6.6l1.4-2.7l0.7-2.6l0.2-2.7l-2.1-15.9l-2.7-10.6l-1.4-9.3l-2.1-9.3l-0.4-2.7l0-5.3l-0.6 0l-0.1 5.3l-0.4 2.7l-2.1 9.3l-1.4 9.3l-2.6 10.6l-2.2 15.9l0.2 2.7l0.7 2.6l1.4 2.7l4 6.6l1.1 2.7l0.8 2.6l0.5 2.7l0 1.3l0 18.6l-0.4 1.3l-0.8 1.3l-1.2 1.4l-5.8 3.9l-1.4 1.4l-0.6 1.3z" fill="#F8766D" class="vp"/>
<path d="M1962.8 2546.7l-0.8-1.1l-3.7-2.3l-1.3-1.2l-0.5-1.1l0-20.6l0.7-4.6l1.2-4.5l2-4.6l3.7-6.9l1.6-3.4l0.9-3.4l0.1-2.3l-0.4-2.3l-1.2-3.4l-4.9-9.2l-1.5-3.4l-0.8-2.3l-0.8-3.4l-0.5-3.5l-0.1-8l-0.6 0l-0.2 8l-0.5 3.5l-0.8 3.4l-0.8 2.3l-1.5 3.4l-4.9 9.2l-1.2 3.4l-0.4 2.3l0.1 2.3l0.9 3.4l1.6 3.4l3.7 6.9l2 4.6l1.2 4.5l0.7 4.6l0 20.6l-0.5 1.1l-1.2 1.2l-3.8 2.3l-0.8 1.1z" fill="#5CBE28" class="vp"/>
<path d="M1986.3 2546.7l-0.7-1.2l-3.4-2.5l-1.3-1.2l-0.8-1.2l-0.2-1.3l0-27l0.6-4.9l1.1-4.9l1.9-4.9l5.3-11.1l1-3.7l0.3-3.7l-0.4-2.4l-1.2-3.7l-4.8-9.8l-1.9-4.9l-1-3.7l-1-6.2l-0.6 0l-0.9 6.2l-1 3.7l-1.9 4.9l-4.8 9.8l-1.2 3.7l-0.4 2.4l0.3 3.7l1 3.7l5.3 11.1l1.9 4.9l1.1 4.9l0.6 4.9l0 27l-0.2 1.3l-0.8 1.2l-1.3 1.2l-3.4 2.5l-0.7 1.2z" fill="#54DCA9" class="vp"/>
<path d="M2003.4 2546.7l0.1-58.9l1-4.1l1.1-2.7l1.6-2.8l3.9-5.4l1.7-2.8l0.8-2.7l0-1.4l-0.3-1.4l-1.2-2.7l-5.7-8.2l-1.9-4.1l-0.7-2.8l-0.4-2.7l-0.1-6.8l-0.6 0l0 6.8l-0.4 2.7l-0.7 2.8l-2 4.1l-5.7 8.2l-1.2 2.7l-0.2 1.4l0 1.4l0.8 2.7l1.6 2.8l4 5.4l1.6 2.8l1.1 2.7l0.9 4.1l0.2 58.9z" fill="#5DCDF4" class="vp"/>
<path d="M1922.2 2546.7h21.1M1932.7 2546.7V2465.4M2015.9 2546.7h21.1M2026.4 2546.7V2472.2M2039.3 2546.7h21.1M2049.9 2546.7V2477.8" class="vl"/>
<path d="M1895.2 2431.2V2553M1894.4 2552.2H2063.9M1890.5 2546.7h4.7M1890.5 2524.1h4.7M1890.5 2501.5h4.7M1890.5 2478.9h4.7M1890.5 2456.4h4.7M1890.5 2433.8h4.7M1909.3 2552.2v4.8M1932.7 2552.2v4.8M1956.1 2552.2v4.8M1979.6 2552.2v4.8M2003 2552.2v4.8M2026.4 2552.2v4.8M2049.9 2552.2v4.8" class="ax"/>
<text x="1884.7" y="2552.5" class="vy">0</text>
<text x="1884.7" y="2529.9" class="vy">1</text>
<text x="1884.7" y="2507.3" class="vy">2</text>
<text x="1884.7" y="2484.7" class="vy">3</text>
<text x="1884.7" y="2462.2" class="vy">4</text>
<text x="1884.7" y="2439.6" class="vy">5</text>
<text transform="translate(1866.8 2491.7) rotate(-90)" class="ve">Expression Level</text>
<text transform="translate(1923.3 2570.7) rotate(-64.5)" class="vx">Oligodendrocyte</text>
<text transform="translate(1946.7 2570.7) rotate(-64.5)" class="vx">Astrocyte</text>
<text transform="translate(1970.1 2570.7) rotate(-64.5)" class="vx">Exc_Neuron</text>
<text transform="translate(1993.6 2570.7) rotate(-64.5)" class="vx">Inh_Neuron</text>
<text transform="translate(2017 2570.7) rotate(-64.5)" class="vx">OPC</text>
<text transform="translate(2040.4 2570.7) rotate(-64.5)" class="vx">Microglia</text>
<text transform="translate(2063.9 2570.7) rotate(-64.5)" class="vx">Cap_EC</text></svg></body></html>
